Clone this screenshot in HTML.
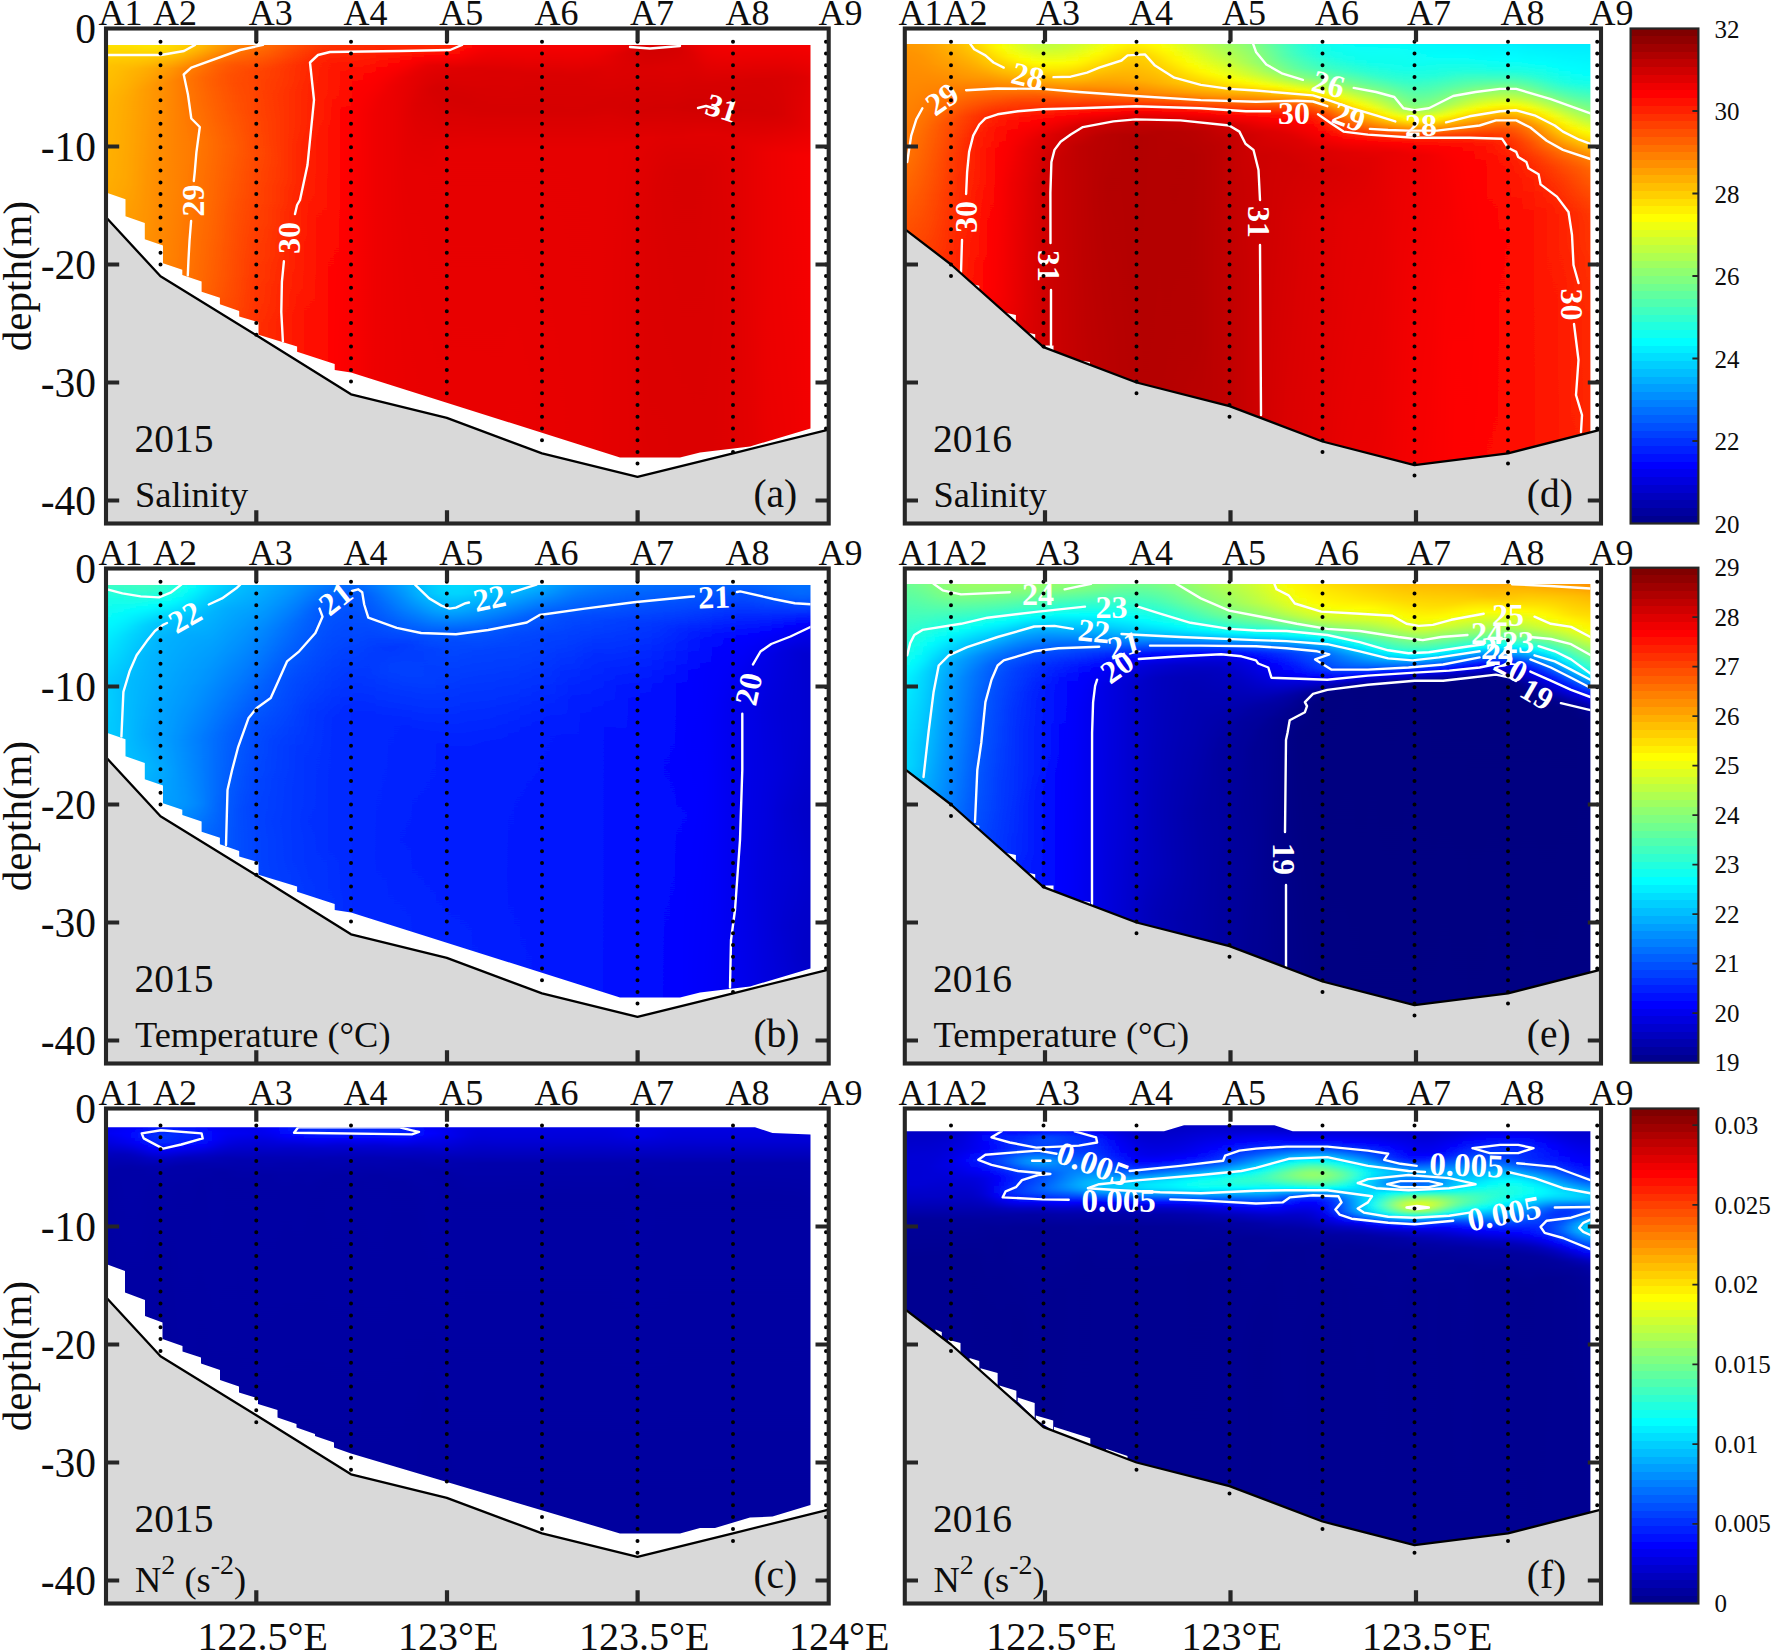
<!DOCTYPE html>
<html><head><meta charset="utf-8"><title>Figure</title>
<style>
html,body{margin:0;padding:0;background:#fff;overflow:hidden}
svg{display:block}
text{font-family:"Liberation Serif","Times New Roman",serif;fill:#0d0d0d}
.cl{fill:#fff;font-weight:bold;text-anchor:middle}
.fld polyline{fill:none;stroke:#fff;stroke-width:2.4;stroke-linejoin:round;stroke-linecap:round}
</style></head><body>
<svg width="1772" height="1652" viewBox="0 0 1772 1652">
<rect width="1772" height="1652" fill="#fff"/>
<defs><linearGradient id="ga0" gradientUnits="userSpaceOnUse" x1="0" y1="38.5" x2="0" y2="521.5"><stop offset="0.000" stop-color="#ffec00"/><stop offset="0.056" stop-color="#ffc400"/><stop offset="0.168" stop-color="#ffb300"/><stop offset="0.342" stop-color="#ffae00"/><stop offset="0.553" stop-color="#ff8400"/><stop offset="0.795" stop-color="#ff4e00"/><stop offset="1.000" stop-color="#ff3900"/></linearGradient><linearGradient id="ga1" gradientUnits="userSpaceOnUse" x1="0" y1="38.5" x2="0" y2="521.5"><stop offset="0.000" stop-color="#ffec00"/><stop offset="0.056" stop-color="#ffc400"/><stop offset="0.161" stop-color="#ffb400"/><stop offset="0.298" stop-color="#ffb200"/><stop offset="0.528" stop-color="#ff8b00"/><stop offset="0.783" stop-color="#ff5000"/><stop offset="1.000" stop-color="#ff3900"/></linearGradient><linearGradient id="ga2" gradientUnits="userSpaceOnUse" x1="0" y1="38.5" x2="0" y2="521.5"><stop offset="0.000" stop-color="#ffec00"/><stop offset="0.056" stop-color="#ffc300"/><stop offset="0.143" stop-color="#ffb400"/><stop offset="0.286" stop-color="#ffaf00"/><stop offset="0.373" stop-color="#ffa700"/><stop offset="0.559" stop-color="#ff8200"/><stop offset="0.795" stop-color="#ff4d00"/><stop offset="1.000" stop-color="#ff3800"/></linearGradient><linearGradient id="ga3" gradientUnits="userSpaceOnUse" x1="0" y1="38.5" x2="0" y2="521.5"><stop offset="0.000" stop-color="#ffed00"/><stop offset="0.056" stop-color="#ffbf00"/><stop offset="0.124" stop-color="#ffb000"/><stop offset="0.286" stop-color="#ffaa00"/><stop offset="0.422" stop-color="#ff9c00"/><stop offset="0.596" stop-color="#ff7400"/><stop offset="0.820" stop-color="#ff4600"/><stop offset="1.000" stop-color="#ff3600"/></linearGradient><linearGradient id="ga4" gradientUnits="userSpaceOnUse" x1="0" y1="38.5" x2="0" y2="521.5"><stop offset="0.000" stop-color="#ffef00"/><stop offset="0.031" stop-color="#ffd200"/><stop offset="0.068" stop-color="#ffb400"/><stop offset="0.130" stop-color="#ffa700"/><stop offset="0.304" stop-color="#ffa400"/><stop offset="0.509" stop-color="#ff8800"/><stop offset="0.758" stop-color="#ff4c00"/><stop offset="1.000" stop-color="#ff3300"/></linearGradient><linearGradient id="ga5" gradientUnits="userSpaceOnUse" x1="0" y1="38.5" x2="0" y2="521.5"><stop offset="0.000" stop-color="#fff100"/><stop offset="0.025" stop-color="#ffdb00"/><stop offset="0.062" stop-color="#ffb100"/><stop offset="0.106" stop-color="#ff9f00"/><stop offset="0.398" stop-color="#ff9500"/><stop offset="0.528" stop-color="#ff7f00"/><stop offset="0.758" stop-color="#ff4800"/><stop offset="1.000" stop-color="#ff3000"/></linearGradient><linearGradient id="ga6" gradientUnits="userSpaceOnUse" x1="0" y1="38.5" x2="0" y2="521.5"><stop offset="0.000" stop-color="#fff000"/><stop offset="0.019" stop-color="#ffe300"/><stop offset="0.062" stop-color="#ffa800"/><stop offset="0.099" stop-color="#ff9600"/><stop offset="0.429" stop-color="#ff8c00"/><stop offset="0.534" stop-color="#ff7900"/><stop offset="0.758" stop-color="#ff4400"/><stop offset="0.994" stop-color="#ff2e00"/><stop offset="1.000" stop-color="#ff2e00"/></linearGradient><linearGradient id="ga7" gradientUnits="userSpaceOnUse" x1="0" y1="38.5" x2="0" y2="521.5"><stop offset="0.000" stop-color="#ffea00"/><stop offset="0.025" stop-color="#ffd600"/><stop offset="0.062" stop-color="#ff9d00"/><stop offset="0.093" stop-color="#ff8c00"/><stop offset="0.453" stop-color="#ff8400"/><stop offset="0.547" stop-color="#ff7000"/><stop offset="0.764" stop-color="#ff3e00"/><stop offset="1.000" stop-color="#ff2b00"/></linearGradient><linearGradient id="ga8" gradientUnits="userSpaceOnUse" x1="0" y1="38.5" x2="0" y2="521.5"><stop offset="0.000" stop-color="#ffe100"/><stop offset="0.025" stop-color="#ffcd00"/><stop offset="0.062" stop-color="#ff8e00"/><stop offset="0.087" stop-color="#ff7f00"/><stop offset="0.317" stop-color="#ff8200"/><stop offset="0.503" stop-color="#ff7800"/><stop offset="0.720" stop-color="#ff4100"/><stop offset="0.938" stop-color="#ff2a00"/><stop offset="1.000" stop-color="#ff2800"/></linearGradient><linearGradient id="ga9" gradientUnits="userSpaceOnUse" x1="0" y1="38.5" x2="0" y2="521.5"><stop offset="0.000" stop-color="#ffd500"/><stop offset="0.019" stop-color="#ffc800"/><stop offset="0.062" stop-color="#ff7d00"/><stop offset="0.087" stop-color="#ff7200"/><stop offset="0.230" stop-color="#ff7c00"/><stop offset="0.503" stop-color="#ff7100"/><stop offset="0.727" stop-color="#ff3b00"/><stop offset="0.944" stop-color="#ff2600"/><stop offset="1.000" stop-color="#ff2500"/></linearGradient><linearGradient id="ga10" gradientUnits="userSpaceOnUse" x1="0" y1="38.5" x2="0" y2="521.5"><stop offset="0.000" stop-color="#ffc500"/><stop offset="0.019" stop-color="#ffb600"/><stop offset="0.056" stop-color="#ff7500"/><stop offset="0.081" stop-color="#ff6600"/><stop offset="0.217" stop-color="#ff7400"/><stop offset="0.509" stop-color="#ff6700"/><stop offset="0.764" stop-color="#ff3100"/><stop offset="1.000" stop-color="#ff2200"/></linearGradient><linearGradient id="ga11" gradientUnits="userSpaceOnUse" x1="0" y1="38.5" x2="0" y2="521.5"><stop offset="0.000" stop-color="#ffb400"/><stop offset="0.025" stop-color="#ff9900"/><stop offset="0.056" stop-color="#ff6400"/><stop offset="0.087" stop-color="#ff5b00"/><stop offset="0.217" stop-color="#ff6b00"/><stop offset="0.391" stop-color="#ff6400"/><stop offset="0.522" stop-color="#ff5b00"/><stop offset="0.795" stop-color="#ff2800"/><stop offset="1.000" stop-color="#ff1f00"/></linearGradient><linearGradient id="ga12" gradientUnits="userSpaceOnUse" x1="0" y1="38.5" x2="0" y2="521.5"><stop offset="0.000" stop-color="#ffa300"/><stop offset="0.025" stop-color="#ff8700"/><stop offset="0.050" stop-color="#ff5e00"/><stop offset="0.075" stop-color="#ff5100"/><stop offset="0.224" stop-color="#ff6200"/><stop offset="0.373" stop-color="#ff5800"/><stop offset="0.528" stop-color="#ff5000"/><stop offset="0.820" stop-color="#ff2200"/><stop offset="1.000" stop-color="#ff1c00"/></linearGradient><linearGradient id="ga13" gradientUnits="userSpaceOnUse" x1="0" y1="38.5" x2="0" y2="521.5"><stop offset="0.000" stop-color="#ff9500"/><stop offset="0.031" stop-color="#ff7000"/><stop offset="0.056" stop-color="#ff5100"/><stop offset="0.093" stop-color="#ff4a00"/><stop offset="0.224" stop-color="#ff5900"/><stop offset="0.366" stop-color="#ff4e00"/><stop offset="0.547" stop-color="#ff4500"/><stop offset="0.832" stop-color="#ff1c00"/><stop offset="1.000" stop-color="#ff1900"/></linearGradient><linearGradient id="ga14" gradientUnits="userSpaceOnUse" x1="0" y1="38.5" x2="0" y2="521.5"><stop offset="0.000" stop-color="#ff8900"/><stop offset="0.037" stop-color="#ff6000"/><stop offset="0.068" stop-color="#ff4700"/><stop offset="0.137" stop-color="#ff4900"/><stop offset="0.242" stop-color="#ff4f00"/><stop offset="0.373" stop-color="#ff4400"/><stop offset="0.627" stop-color="#ff3200"/><stop offset="0.845" stop-color="#ff1700"/><stop offset="1.000" stop-color="#ff1600"/></linearGradient><linearGradient id="ga15" gradientUnits="userSpaceOnUse" x1="0" y1="38.5" x2="0" y2="521.5"><stop offset="0.000" stop-color="#ff7d00"/><stop offset="0.062" stop-color="#ff4400"/><stop offset="0.112" stop-color="#ff3e00"/><stop offset="0.236" stop-color="#ff4600"/><stop offset="0.484" stop-color="#ff3500"/><stop offset="0.683" stop-color="#ff2400"/><stop offset="0.876" stop-color="#ff1200"/><stop offset="1.000" stop-color="#ff1300"/></linearGradient><linearGradient id="ga16" gradientUnits="userSpaceOnUse" x1="0" y1="38.5" x2="0" y2="521.5"><stop offset="0.000" stop-color="#ff7000"/><stop offset="0.062" stop-color="#ff3d00"/><stop offset="0.118" stop-color="#ff3900"/><stop offset="0.255" stop-color="#ff3c00"/><stop offset="0.596" stop-color="#ff2700"/><stop offset="0.857" stop-color="#ff0f00"/><stop offset="1.000" stop-color="#ff1000"/></linearGradient><linearGradient id="ga17" gradientUnits="userSpaceOnUse" x1="0" y1="38.5" x2="0" y2="521.5"><stop offset="0.000" stop-color="#ff6200"/><stop offset="0.056" stop-color="#ff3700"/><stop offset="0.118" stop-color="#ff3200"/><stop offset="0.280" stop-color="#ff3100"/><stop offset="0.553" stop-color="#ff2000"/><stop offset="0.671" stop-color="#ff1a00"/><stop offset="0.863" stop-color="#ff0b00"/><stop offset="1.000" stop-color="#ff0e00"/></linearGradient><linearGradient id="ga18" gradientUnits="userSpaceOnUse" x1="0" y1="38.5" x2="0" y2="521.5"><stop offset="0.000" stop-color="#ff5500"/><stop offset="0.056" stop-color="#ff2e00"/><stop offset="0.329" stop-color="#ff2400"/><stop offset="0.553" stop-color="#ff1800"/><stop offset="0.671" stop-color="#ff1500"/><stop offset="0.857" stop-color="#ff0700"/><stop offset="1.000" stop-color="#ff0b00"/></linearGradient><linearGradient id="ga19" gradientUnits="userSpaceOnUse" x1="0" y1="38.5" x2="0" y2="521.5"><stop offset="0.000" stop-color="#ff4a00"/><stop offset="0.050" stop-color="#ff2600"/><stop offset="0.342" stop-color="#ff1900"/><stop offset="0.565" stop-color="#ff1100"/><stop offset="0.677" stop-color="#ff0e00"/><stop offset="0.870" stop-color="#ff0300"/><stop offset="1.000" stop-color="#ff0800"/></linearGradient><linearGradient id="ga20" gradientUnits="userSpaceOnUse" x1="0" y1="38.5" x2="0" y2="521.5"><stop offset="0.000" stop-color="#ff4000"/><stop offset="0.043" stop-color="#ff2000"/><stop offset="0.205" stop-color="#ff1800"/><stop offset="0.540" stop-color="#ff0a00"/><stop offset="0.671" stop-color="#ff0900"/><stop offset="0.851" stop-color="#fe0000"/><stop offset="1.000" stop-color="#ff0600"/></linearGradient><linearGradient id="ga21" gradientUnits="userSpaceOnUse" x1="0" y1="38.5" x2="0" y2="521.5"><stop offset="0.000" stop-color="#ff3a00"/><stop offset="0.050" stop-color="#ff1900"/><stop offset="0.186" stop-color="#ff0b00"/><stop offset="0.304" stop-color="#ff0a00"/><stop offset="0.559" stop-color="#ff0400"/><stop offset="0.677" stop-color="#ff0200"/><stop offset="0.901" stop-color="#fd0000"/><stop offset="1.000" stop-color="#ff0300"/></linearGradient><linearGradient id="ga22" gradientUnits="userSpaceOnUse" x1="0" y1="38.5" x2="0" y2="521.5"><stop offset="0.000" stop-color="#ff3600"/><stop offset="0.062" stop-color="#ff1200"/><stop offset="0.180" stop-color="#ff0100"/><stop offset="0.298" stop-color="#ff0200"/><stop offset="0.683" stop-color="#fb0000"/><stop offset="0.888" stop-color="#f90000"/><stop offset="1.000" stop-color="#ff0100"/></linearGradient><linearGradient id="ga23" gradientUnits="userSpaceOnUse" x1="0" y1="38.5" x2="0" y2="521.5"><stop offset="0.000" stop-color="#ff3400"/><stop offset="0.075" stop-color="#ff0800"/><stop offset="0.137" stop-color="#fb0000"/><stop offset="0.311" stop-color="#f80000"/><stop offset="0.683" stop-color="#f60000"/><stop offset="0.888" stop-color="#f60000"/><stop offset="1.000" stop-color="#fe0000"/></linearGradient><linearGradient id="ga24" gradientUnits="userSpaceOnUse" x1="0" y1="38.5" x2="0" y2="521.5"><stop offset="0.000" stop-color="#ff3400"/><stop offset="0.081" stop-color="#ff0000"/><stop offset="0.155" stop-color="#f20000"/><stop offset="0.317" stop-color="#f20000"/><stop offset="0.689" stop-color="#f00000"/><stop offset="0.888" stop-color="#f30000"/><stop offset="1.000" stop-color="#fc0000"/></linearGradient><linearGradient id="ga25" gradientUnits="userSpaceOnUse" x1="0" y1="38.5" x2="0" y2="521.5"><stop offset="0.000" stop-color="#ff3400"/><stop offset="0.068" stop-color="#fe0000"/><stop offset="0.130" stop-color="#ed0000"/><stop offset="0.323" stop-color="#ed0000"/><stop offset="0.696" stop-color="#ec0000"/><stop offset="0.882" stop-color="#f00000"/><stop offset="1.000" stop-color="#fa0000"/></linearGradient><linearGradient id="ga26" gradientUnits="userSpaceOnUse" x1="0" y1="38.5" x2="0" y2="521.5"><stop offset="0.000" stop-color="#ff3400"/><stop offset="0.031" stop-color="#ff1c00"/><stop offset="0.056" stop-color="#ff0100"/><stop offset="0.099" stop-color="#eb0000"/><stop offset="0.255" stop-color="#eb0000"/><stop offset="0.863" stop-color="#ec0000"/><stop offset="1.000" stop-color="#f80000"/></linearGradient><linearGradient id="ga27" gradientUnits="userSpaceOnUse" x1="0" y1="38.5" x2="0" y2="521.5"><stop offset="0.000" stop-color="#ff3300"/><stop offset="0.025" stop-color="#ff2100"/><stop offset="0.050" stop-color="#fe0000"/><stop offset="0.081" stop-color="#e80000"/><stop offset="0.155" stop-color="#e30000"/><stop offset="0.404" stop-color="#e80000"/><stop offset="0.870" stop-color="#eb0000"/><stop offset="1.000" stop-color="#f60000"/></linearGradient><linearGradient id="ga28" gradientUnits="userSpaceOnUse" x1="0" y1="38.5" x2="0" y2="521.5"><stop offset="0.000" stop-color="#ff3300"/><stop offset="0.025" stop-color="#ff1e00"/><stop offset="0.043" stop-color="#fc0000"/><stop offset="0.068" stop-color="#e50000"/><stop offset="0.137" stop-color="#dc0000"/><stop offset="0.273" stop-color="#e70000"/><stop offset="0.876" stop-color="#ea0000"/><stop offset="1.000" stop-color="#f50000"/></linearGradient><linearGradient id="ga29" gradientUnits="userSpaceOnUse" x1="0" y1="38.5" x2="0" y2="521.5"><stop offset="0.000" stop-color="#ff3200"/><stop offset="0.019" stop-color="#ff2600"/><stop offset="0.037" stop-color="#ff0200"/><stop offset="0.056" stop-color="#e50000"/><stop offset="0.106" stop-color="#d70000"/><stop offset="0.180" stop-color="#df0000"/><stop offset="0.286" stop-color="#e60000"/><stop offset="0.882" stop-color="#ea0000"/><stop offset="1.000" stop-color="#f30000"/></linearGradient><linearGradient id="ga30" gradientUnits="userSpaceOnUse" x1="0" y1="38.5" x2="0" y2="521.5"><stop offset="0.000" stop-color="#ff3000"/><stop offset="0.019" stop-color="#ff2400"/><stop offset="0.037" stop-color="#ff0100"/><stop offset="0.056" stop-color="#e30000"/><stop offset="0.099" stop-color="#d50000"/><stop offset="0.168" stop-color="#da0000"/><stop offset="0.230" stop-color="#e60000"/><stop offset="0.888" stop-color="#e90000"/><stop offset="1.000" stop-color="#f20000"/></linearGradient><linearGradient id="ga31" gradientUnits="userSpaceOnUse" x1="0" y1="38.5" x2="0" y2="521.5"><stop offset="0.000" stop-color="#ff2800"/><stop offset="0.019" stop-color="#ff1b00"/><stop offset="0.037" stop-color="#fc0000"/><stop offset="0.062" stop-color="#df0000"/><stop offset="0.124" stop-color="#d40000"/><stop offset="0.236" stop-color="#e60000"/><stop offset="0.901" stop-color="#ea0000"/><stop offset="1.000" stop-color="#f00000"/></linearGradient><linearGradient id="ga32" gradientUnits="userSpaceOnUse" x1="0" y1="38.5" x2="0" y2="521.5"><stop offset="0.000" stop-color="#ff1a00"/><stop offset="0.025" stop-color="#ff0200"/><stop offset="0.062" stop-color="#de0000"/><stop offset="0.130" stop-color="#d40000"/><stop offset="0.230" stop-color="#e60000"/><stop offset="0.913" stop-color="#ea0000"/><stop offset="1.000" stop-color="#ef0000"/></linearGradient><linearGradient id="ga33" gradientUnits="userSpaceOnUse" x1="0" y1="38.5" x2="0" y2="521.5"><stop offset="0.000" stop-color="#ff0b00"/><stop offset="0.019" stop-color="#fa0000"/><stop offset="0.062" stop-color="#dd0000"/><stop offset="0.143" stop-color="#d50000"/><stop offset="0.230" stop-color="#e60000"/><stop offset="0.932" stop-color="#ea0000"/><stop offset="1.000" stop-color="#ee0000"/></linearGradient><linearGradient id="ga34" gradientUnits="userSpaceOnUse" x1="0" y1="38.5" x2="0" y2="521.5"><stop offset="0.000" stop-color="#ff0400"/><stop offset="0.068" stop-color="#db0000"/><stop offset="0.149" stop-color="#d60000"/><stop offset="0.230" stop-color="#e60000"/><stop offset="0.950" stop-color="#ea0000"/><stop offset="1.000" stop-color="#ed0000"/></linearGradient><linearGradient id="ga35" gradientUnits="userSpaceOnUse" x1="0" y1="38.5" x2="0" y2="521.5"><stop offset="0.000" stop-color="#ff0100"/><stop offset="0.068" stop-color="#db0000"/><stop offset="0.149" stop-color="#d60000"/><stop offset="0.230" stop-color="#e60000"/><stop offset="0.969" stop-color="#ea0000"/><stop offset="1.000" stop-color="#ec0000"/></linearGradient><linearGradient id="ga36" gradientUnits="userSpaceOnUse" x1="0" y1="38.5" x2="0" y2="521.5"><stop offset="0.000" stop-color="#ff0000"/><stop offset="0.068" stop-color="#dc0000"/><stop offset="0.149" stop-color="#d60000"/><stop offset="0.230" stop-color="#e60000"/><stop offset="0.988" stop-color="#eb0000"/><stop offset="1.000" stop-color="#eb0000"/></linearGradient><linearGradient id="ga37" gradientUnits="userSpaceOnUse" x1="0" y1="38.5" x2="0" y2="521.5"><stop offset="0.000" stop-color="#ff0000"/><stop offset="0.075" stop-color="#da0000"/><stop offset="0.149" stop-color="#d60000"/><stop offset="0.230" stop-color="#e60000"/><stop offset="1.000" stop-color="#ea0000"/></linearGradient><linearGradient id="ga38" gradientUnits="userSpaceOnUse" x1="0" y1="38.5" x2="0" y2="521.5"><stop offset="0.000" stop-color="#fe0000"/><stop offset="0.075" stop-color="#da0000"/><stop offset="0.149" stop-color="#d60000"/><stop offset="0.230" stop-color="#e60000"/><stop offset="1.000" stop-color="#e90000"/></linearGradient><linearGradient id="ga39" gradientUnits="userSpaceOnUse" x1="0" y1="38.5" x2="0" y2="521.5"><stop offset="0.000" stop-color="#fe0000"/><stop offset="0.075" stop-color="#da0000"/><stop offset="0.149" stop-color="#d60000"/><stop offset="0.230" stop-color="#e60000"/><stop offset="1.000" stop-color="#e90000"/></linearGradient><linearGradient id="ga40" gradientUnits="userSpaceOnUse" x1="0" y1="38.5" x2="0" y2="521.5"><stop offset="0.000" stop-color="#fe0000"/><stop offset="0.075" stop-color="#da0000"/><stop offset="0.149" stop-color="#d60000"/><stop offset="0.230" stop-color="#e60000"/><stop offset="1.000" stop-color="#e80000"/></linearGradient><linearGradient id="ga41" gradientUnits="userSpaceOnUse" x1="0" y1="38.5" x2="0" y2="521.5"><stop offset="0.000" stop-color="#fe0000"/><stop offset="0.081" stop-color="#d90000"/><stop offset="0.155" stop-color="#d70000"/><stop offset="0.230" stop-color="#e60000"/><stop offset="1.000" stop-color="#e70000"/></linearGradient><linearGradient id="ga42" gradientUnits="userSpaceOnUse" x1="0" y1="38.5" x2="0" y2="521.5"><stop offset="0.000" stop-color="#fd0000"/><stop offset="0.075" stop-color="#da0000"/><stop offset="0.149" stop-color="#d60000"/><stop offset="0.230" stop-color="#e60000"/><stop offset="1.000" stop-color="#e70000"/></linearGradient><linearGradient id="ga43" gradientUnits="userSpaceOnUse" x1="0" y1="38.5" x2="0" y2="521.5"><stop offset="0.000" stop-color="#fc0000"/><stop offset="0.068" stop-color="#dc0000"/><stop offset="0.143" stop-color="#d60000"/><stop offset="0.230" stop-color="#e60000"/><stop offset="1.000" stop-color="#e60000"/></linearGradient><linearGradient id="ga44" gradientUnits="userSpaceOnUse" x1="0" y1="38.5" x2="0" y2="521.5"><stop offset="0.000" stop-color="#fb0000"/><stop offset="0.037" stop-color="#e40000"/><stop offset="0.130" stop-color="#d50000"/><stop offset="0.230" stop-color="#e50000"/><stop offset="0.981" stop-color="#e40000"/><stop offset="1.000" stop-color="#e50000"/></linearGradient><linearGradient id="ga45" gradientUnits="userSpaceOnUse" x1="0" y1="38.5" x2="0" y2="521.5"><stop offset="0.000" stop-color="#f90000"/><stop offset="0.031" stop-color="#df0000"/><stop offset="0.143" stop-color="#d50000"/><stop offset="0.224" stop-color="#e50000"/><stop offset="0.491" stop-color="#e30000"/><stop offset="0.969" stop-color="#e30000"/><stop offset="1.000" stop-color="#e50000"/></linearGradient><linearGradient id="ga46" gradientUnits="userSpaceOnUse" x1="0" y1="38.5" x2="0" y2="521.5"><stop offset="0.000" stop-color="#f30000"/><stop offset="0.025" stop-color="#d80000"/><stop offset="0.068" stop-color="#dc0000"/><stop offset="0.143" stop-color="#d30000"/><stop offset="0.217" stop-color="#e30000"/><stop offset="0.354" stop-color="#e00000"/><stop offset="0.801" stop-color="#e20000"/><stop offset="0.944" stop-color="#e10000"/><stop offset="1.000" stop-color="#e40000"/></linearGradient><linearGradient id="ga47" gradientUnits="userSpaceOnUse" x1="0" y1="38.5" x2="0" y2="521.5"><stop offset="0.000" stop-color="#ed0000"/><stop offset="0.025" stop-color="#d30000"/><stop offset="0.068" stop-color="#db0000"/><stop offset="0.149" stop-color="#d30000"/><stop offset="0.205" stop-color="#e20000"/><stop offset="0.354" stop-color="#de0000"/><stop offset="0.739" stop-color="#dc0000"/><stop offset="0.839" stop-color="#dd0000"/><stop offset="1.000" stop-color="#e40000"/></linearGradient><linearGradient id="ga48" gradientUnits="userSpaceOnUse" x1="0" y1="38.5" x2="0" y2="521.5"><stop offset="0.000" stop-color="#ec0000"/><stop offset="0.025" stop-color="#d20000"/><stop offset="0.062" stop-color="#dc0000"/><stop offset="0.143" stop-color="#d20000"/><stop offset="0.205" stop-color="#e10000"/><stop offset="0.304" stop-color="#da0000"/><stop offset="0.919" stop-color="#de0000"/><stop offset="1.000" stop-color="#e40000"/></linearGradient><linearGradient id="ga49" gradientUnits="userSpaceOnUse" x1="0" y1="38.5" x2="0" y2="521.5"><stop offset="0.000" stop-color="#ed0000"/><stop offset="0.025" stop-color="#d40000"/><stop offset="0.062" stop-color="#dd0000"/><stop offset="0.143" stop-color="#d30000"/><stop offset="0.205" stop-color="#e00000"/><stop offset="0.273" stop-color="#d90000"/><stop offset="0.913" stop-color="#dd0000"/><stop offset="1.000" stop-color="#e40000"/></linearGradient><linearGradient id="ga50" gradientUnits="userSpaceOnUse" x1="0" y1="38.5" x2="0" y2="521.5"><stop offset="0.000" stop-color="#eb0000"/><stop offset="0.025" stop-color="#d70000"/><stop offset="0.062" stop-color="#dd0000"/><stop offset="0.143" stop-color="#d10000"/><stop offset="0.205" stop-color="#e00000"/><stop offset="0.280" stop-color="#d80000"/><stop offset="0.913" stop-color="#dd0000"/><stop offset="1.000" stop-color="#e40000"/></linearGradient><linearGradient id="ga51" gradientUnits="userSpaceOnUse" x1="0" y1="38.5" x2="0" y2="521.5"><stop offset="0.000" stop-color="#ee0000"/><stop offset="0.031" stop-color="#df0000"/><stop offset="0.143" stop-color="#d00000"/><stop offset="0.199" stop-color="#e10000"/><stop offset="0.280" stop-color="#d80000"/><stop offset="0.907" stop-color="#dd0000"/><stop offset="1.000" stop-color="#e40000"/></linearGradient><linearGradient id="ga52" gradientUnits="userSpaceOnUse" x1="0" y1="38.5" x2="0" y2="521.5"><stop offset="0.000" stop-color="#f40000"/><stop offset="0.099" stop-color="#d60000"/><stop offset="0.149" stop-color="#d10000"/><stop offset="0.199" stop-color="#e10000"/><stop offset="0.273" stop-color="#d90000"/><stop offset="0.901" stop-color="#dc0000"/><stop offset="1.000" stop-color="#e40000"/></linearGradient><linearGradient id="ga53" gradientUnits="userSpaceOnUse" x1="0" y1="38.5" x2="0" y2="521.5"><stop offset="0.000" stop-color="#f90000"/><stop offset="0.093" stop-color="#d70000"/><stop offset="0.149" stop-color="#d10000"/><stop offset="0.199" stop-color="#e10000"/><stop offset="0.267" stop-color="#db0000"/><stop offset="0.894" stop-color="#dd0000"/><stop offset="1.000" stop-color="#e50000"/></linearGradient><linearGradient id="ga54" gradientUnits="userSpaceOnUse" x1="0" y1="38.5" x2="0" y2="521.5"><stop offset="0.000" stop-color="#fb0000"/><stop offset="0.087" stop-color="#d80000"/><stop offset="0.149" stop-color="#d10000"/><stop offset="0.205" stop-color="#e10000"/><stop offset="0.373" stop-color="#dd0000"/><stop offset="0.907" stop-color="#df0000"/><stop offset="1.000" stop-color="#e50000"/></linearGradient><linearGradient id="ga55" gradientUnits="userSpaceOnUse" x1="0" y1="38.5" x2="0" y2="521.5"><stop offset="0.000" stop-color="#fc0000"/><stop offset="0.087" stop-color="#d80000"/><stop offset="0.149" stop-color="#d30000"/><stop offset="0.211" stop-color="#e30000"/><stop offset="0.932" stop-color="#e20000"/><stop offset="1.000" stop-color="#e60000"/></linearGradient><linearGradient id="ga56" gradientUnits="userSpaceOnUse" x1="0" y1="38.5" x2="0" y2="521.5"><stop offset="0.000" stop-color="#fb0000"/><stop offset="0.087" stop-color="#d70000"/><stop offset="0.149" stop-color="#d30000"/><stop offset="0.224" stop-color="#e70000"/><stop offset="0.509" stop-color="#e70000"/><stop offset="0.857" stop-color="#e30000"/><stop offset="1.000" stop-color="#e70000"/></linearGradient><linearGradient id="ga57" gradientUnits="userSpaceOnUse" x1="0" y1="38.5" x2="0" y2="521.5"><stop offset="0.000" stop-color="#fb0000"/><stop offset="0.087" stop-color="#d70000"/><stop offset="0.155" stop-color="#d40000"/><stop offset="0.236" stop-color="#ec0000"/><stop offset="0.360" stop-color="#eb0000"/><stop offset="0.503" stop-color="#eb0000"/><stop offset="0.658" stop-color="#ec0000"/><stop offset="0.789" stop-color="#eb0000"/><stop offset="0.988" stop-color="#e70000"/><stop offset="1.000" stop-color="#e70000"/></linearGradient><linearGradient id="ga58" gradientUnits="userSpaceOnUse" x1="0" y1="38.5" x2="0" y2="521.5"><stop offset="0.000" stop-color="#fb0000"/><stop offset="0.081" stop-color="#d90000"/><stop offset="0.155" stop-color="#d50000"/><stop offset="0.236" stop-color="#ef0000"/><stop offset="0.509" stop-color="#ef0000"/><stop offset="0.845" stop-color="#eb0000"/><stop offset="1.000" stop-color="#e80000"/></linearGradient><linearGradient id="ga59" gradientUnits="userSpaceOnUse" x1="0" y1="38.5" x2="0" y2="521.5"><stop offset="0.000" stop-color="#fb0000"/><stop offset="0.081" stop-color="#da0000"/><stop offset="0.168" stop-color="#db0000"/><stop offset="0.242" stop-color="#f20000"/><stop offset="0.845" stop-color="#ee0000"/><stop offset="1.000" stop-color="#e90000"/></linearGradient><linearGradient id="ga60" gradientUnits="userSpaceOnUse" x1="0" y1="38.5" x2="0" y2="521.5"><stop offset="0.000" stop-color="#fb0000"/><stop offset="0.081" stop-color="#de0000"/><stop offset="0.180" stop-color="#e30000"/><stop offset="0.242" stop-color="#f50000"/><stop offset="0.845" stop-color="#f10000"/><stop offset="1.000" stop-color="#ea0000"/></linearGradient><linearGradient id="ga61" gradientUnits="userSpaceOnUse" x1="0" y1="38.5" x2="0" y2="521.5"><stop offset="0.000" stop-color="#fb0000"/><stop offset="0.081" stop-color="#e30000"/><stop offset="0.186" stop-color="#e80000"/><stop offset="0.248" stop-color="#f70000"/><stop offset="0.845" stop-color="#f30000"/><stop offset="1.000" stop-color="#eb0000"/></linearGradient><linearGradient id="ga62" gradientUnits="userSpaceOnUse" x1="0" y1="38.5" x2="0" y2="521.5"><stop offset="0.000" stop-color="#fb0000"/><stop offset="0.087" stop-color="#e60000"/><stop offset="0.193" stop-color="#ed0000"/><stop offset="0.261" stop-color="#f70000"/><stop offset="0.851" stop-color="#f30000"/><stop offset="1.000" stop-color="#ec0000"/></linearGradient><linearGradient id="ga63" gradientUnits="userSpaceOnUse" x1="0" y1="38.5" x2="0" y2="521.5"><stop offset="0.000" stop-color="#fc0000"/><stop offset="0.087" stop-color="#e80000"/><stop offset="0.199" stop-color="#ef0000"/><stop offset="0.280" stop-color="#f80000"/><stop offset="0.851" stop-color="#f40000"/><stop offset="1.000" stop-color="#ec0000"/></linearGradient><linearGradient id="ga64" gradientUnits="userSpaceOnUse" x1="0" y1="38.5" x2="0" y2="521.5"><stop offset="0.000" stop-color="#fc0000"/><stop offset="0.087" stop-color="#e80000"/><stop offset="0.199" stop-color="#f00000"/><stop offset="0.280" stop-color="#f80000"/><stop offset="0.851" stop-color="#f40000"/><stop offset="1.000" stop-color="#ec0000"/></linearGradient><linearGradient id="ga65" gradientUnits="userSpaceOnUse" x1="0" y1="38.5" x2="0" y2="521.5"><stop offset="0.000" stop-color="#fc0000"/><stop offset="0.087" stop-color="#e80000"/><stop offset="0.199" stop-color="#f00000"/><stop offset="0.280" stop-color="#f80000"/><stop offset="0.851" stop-color="#f40000"/><stop offset="1.000" stop-color="#ec0000"/></linearGradient><clipPath id="cpa"><polygon points="106,44.9 810.5,44.9 810.5,428.5 750,446.5 700,452.5 680,457.5 620,457.5 351,372.5 334.7,370 334.7,363.9 297.1,351.7 297.1,346.6 258.5,334.8 258.5,322.2 239.2,316.5 239.2,311 219.9,304.3 219.9,297.8 201.6,291.7 201.6,281.6 182.3,275.1 182.3,269.8 163,263.3 163,245.4 144.8,239.3 144.8,223.1 125.5,216.2 125.5,199.3 106,192.6"/></clipPath><filter id="bla" filterUnits="userSpaceOnUse" x="66" y="23.5" width="802.7" height="505"><feGaussianBlur stdDeviation="6.6 0"/></filter><linearGradient id="gb0" gradientUnits="userSpaceOnUse" x1="0" y1="578.5" x2="0" y2="1061.5"><stop offset="0.000" stop-color="#4effb1"/><stop offset="0.019" stop-color="#35ffca"/><stop offset="0.037" stop-color="#1cffe3"/><stop offset="0.093" stop-color="#00fdff"/><stop offset="0.205" stop-color="#00d2ff"/><stop offset="0.261" stop-color="#00d7ff"/><stop offset="0.298" stop-color="#00d0ff"/><stop offset="0.335" stop-color="#00d4ff"/><stop offset="0.472" stop-color="#00baff"/><stop offset="0.640" stop-color="#008cff"/><stop offset="0.919" stop-color="#0071ff"/><stop offset="1.000" stop-color="#006dff"/></linearGradient><linearGradient id="gb1" gradientUnits="userSpaceOnUse" x1="0" y1="578.5" x2="0" y2="1061.5"><stop offset="0.000" stop-color="#4effb1"/><stop offset="0.019" stop-color="#35ffca"/><stop offset="0.037" stop-color="#1cffe3"/><stop offset="0.093" stop-color="#00fdff"/><stop offset="0.205" stop-color="#00d1ff"/><stop offset="0.261" stop-color="#00d7ff"/><stop offset="0.298" stop-color="#00cfff"/><stop offset="0.335" stop-color="#00d4ff"/><stop offset="0.472" stop-color="#00baff"/><stop offset="0.640" stop-color="#008cff"/><stop offset="0.919" stop-color="#0071ff"/><stop offset="1.000" stop-color="#006dff"/></linearGradient><linearGradient id="gb2" gradientUnits="userSpaceOnUse" x1="0" y1="578.5" x2="0" y2="1061.5"><stop offset="0.000" stop-color="#4effb1"/><stop offset="0.019" stop-color="#35ffca"/><stop offset="0.037" stop-color="#1cffe3"/><stop offset="0.093" stop-color="#00faff"/><stop offset="0.205" stop-color="#00ceff"/><stop offset="0.261" stop-color="#00d2ff"/><stop offset="0.304" stop-color="#00ccff"/><stop offset="0.373" stop-color="#00cdff"/><stop offset="0.491" stop-color="#00b3ff"/><stop offset="0.646" stop-color="#008aff"/><stop offset="0.944" stop-color="#006fff"/><stop offset="1.000" stop-color="#006cff"/></linearGradient><linearGradient id="gb3" gradientUnits="userSpaceOnUse" x1="0" y1="578.5" x2="0" y2="1061.5"><stop offset="0.000" stop-color="#4cffb3"/><stop offset="0.043" stop-color="#17ffe8"/><stop offset="0.081" stop-color="#00faff"/><stop offset="0.130" stop-color="#00dfff"/><stop offset="0.211" stop-color="#00c4ff"/><stop offset="0.335" stop-color="#00c5ff"/><stop offset="0.416" stop-color="#00c3ff"/><stop offset="0.634" stop-color="#0088ff"/><stop offset="0.913" stop-color="#006eff"/><stop offset="1.000" stop-color="#006aff"/></linearGradient><linearGradient id="gb4" gradientUnits="userSpaceOnUse" x1="0" y1="578.5" x2="0" y2="1061.5"><stop offset="0.000" stop-color="#4bffb4"/><stop offset="0.025" stop-color="#30ffcf"/><stop offset="0.068" stop-color="#00fcff"/><stop offset="0.118" stop-color="#00d5ff"/><stop offset="0.211" stop-color="#00baff"/><stop offset="0.335" stop-color="#00b9ff"/><stop offset="0.398" stop-color="#00bfff"/><stop offset="0.509" stop-color="#00a2ff"/><stop offset="0.646" stop-color="#0081ff"/><stop offset="0.981" stop-color="#0068ff"/><stop offset="1.000" stop-color="#0067ff"/></linearGradient><linearGradient id="gb5" gradientUnits="userSpaceOnUse" x1="0" y1="578.5" x2="0" y2="1061.5"><stop offset="0.000" stop-color="#4affb5"/><stop offset="0.025" stop-color="#34ffcb"/><stop offset="0.062" stop-color="#00fdff"/><stop offset="0.099" stop-color="#00d2ff"/><stop offset="0.161" stop-color="#00b9ff"/><stop offset="0.323" stop-color="#00adff"/><stop offset="0.391" stop-color="#00b9ff"/><stop offset="0.491" stop-color="#00a3ff"/><stop offset="0.615" stop-color="#0080ff"/><stop offset="0.894" stop-color="#0069ff"/><stop offset="1.000" stop-color="#0065ff"/></linearGradient><linearGradient id="gb6" gradientUnits="userSpaceOnUse" x1="0" y1="578.5" x2="0" y2="1061.5"><stop offset="0.000" stop-color="#45ffba"/><stop offset="0.025" stop-color="#32ffcd"/><stop offset="0.056" stop-color="#01fffe"/><stop offset="0.093" stop-color="#00caff"/><stop offset="0.130" stop-color="#00b7ff"/><stop offset="0.323" stop-color="#00a4ff"/><stop offset="0.391" stop-color="#00b1ff"/><stop offset="0.484" stop-color="#009fff"/><stop offset="0.590" stop-color="#007eff"/><stop offset="0.839" stop-color="#0068ff"/><stop offset="1.000" stop-color="#0062ff"/></linearGradient><linearGradient id="gb7" gradientUnits="userSpaceOnUse" x1="0" y1="578.5" x2="0" y2="1061.5"><stop offset="0.000" stop-color="#39ffc6"/><stop offset="0.025" stop-color="#28ffd7"/><stop offset="0.050" stop-color="#02fffd"/><stop offset="0.093" stop-color="#00c0ff"/><stop offset="0.130" stop-color="#00b0ff"/><stop offset="0.280" stop-color="#00a0ff"/><stop offset="0.335" stop-color="#009dff"/><stop offset="0.398" stop-color="#00a5ff"/><stop offset="0.472" stop-color="#009dff"/><stop offset="0.571" stop-color="#007bff"/><stop offset="0.807" stop-color="#0066ff"/><stop offset="1.000" stop-color="#005fff"/></linearGradient><linearGradient id="gb8" gradientUnits="userSpaceOnUse" x1="0" y1="578.5" x2="0" y2="1061.5"><stop offset="0.000" stop-color="#29ffd6"/><stop offset="0.025" stop-color="#17ffe8"/><stop offset="0.043" stop-color="#00fcff"/><stop offset="0.087" stop-color="#00beff"/><stop offset="0.118" stop-color="#00aeff"/><stop offset="0.273" stop-color="#0099ff"/><stop offset="0.335" stop-color="#0092ff"/><stop offset="0.460" stop-color="#009aff"/><stop offset="0.553" stop-color="#0077ff"/><stop offset="0.776" stop-color="#0063ff"/><stop offset="1.000" stop-color="#005dff"/></linearGradient><linearGradient id="gb9" gradientUnits="userSpaceOnUse" x1="0" y1="578.5" x2="0" y2="1061.5"><stop offset="0.000" stop-color="#15ffea"/><stop offset="0.025" stop-color="#02fffd"/><stop offset="0.081" stop-color="#00bdff"/><stop offset="0.118" stop-color="#00aaff"/><stop offset="0.261" stop-color="#0094ff"/><stop offset="0.329" stop-color="#0086ff"/><stop offset="0.466" stop-color="#0090ff"/><stop offset="0.534" stop-color="#0072ff"/><stop offset="0.745" stop-color="#0060ff"/><stop offset="1.000" stop-color="#005aff"/></linearGradient><linearGradient id="gb10" gradientUnits="userSpaceOnUse" x1="0" y1="578.5" x2="0" y2="1061.5"><stop offset="0.000" stop-color="#00ffff"/><stop offset="0.037" stop-color="#00dcff"/><stop offset="0.075" stop-color="#00b9ff"/><stop offset="0.130" stop-color="#00a5ff"/><stop offset="0.199" stop-color="#0098ff"/><stop offset="0.335" stop-color="#007aff"/><stop offset="0.435" stop-color="#007fff"/><stop offset="0.466" stop-color="#0082ff"/><stop offset="0.528" stop-color="#0069ff"/><stop offset="0.814" stop-color="#005bff"/><stop offset="1.000" stop-color="#0057ff"/></linearGradient><linearGradient id="gb11" gradientUnits="userSpaceOnUse" x1="0" y1="578.5" x2="0" y2="1061.5"><stop offset="0.000" stop-color="#00eaff"/><stop offset="0.068" stop-color="#00b3ff"/><stop offset="0.329" stop-color="#006eff"/><stop offset="0.441" stop-color="#006dff"/><stop offset="0.478" stop-color="#006aff"/><stop offset="0.571" stop-color="#005cff"/><stop offset="1.000" stop-color="#0055ff"/></linearGradient><linearGradient id="gb12" gradientUnits="userSpaceOnUse" x1="0" y1="578.5" x2="0" y2="1061.5"><stop offset="0.000" stop-color="#00d8ff"/><stop offset="0.062" stop-color="#00adff"/><stop offset="0.323" stop-color="#0063ff"/><stop offset="0.609" stop-color="#0055ff"/><stop offset="1.000" stop-color="#0052ff"/></linearGradient><linearGradient id="gb13" gradientUnits="userSpaceOnUse" x1="0" y1="578.5" x2="0" y2="1061.5"><stop offset="0.000" stop-color="#00c9ff"/><stop offset="0.068" stop-color="#00a5ff"/><stop offset="0.161" stop-color="#008aff"/><stop offset="0.311" stop-color="#005bff"/><stop offset="0.491" stop-color="#004dff"/><stop offset="1.000" stop-color="#004fff"/></linearGradient><linearGradient id="gb14" gradientUnits="userSpaceOnUse" x1="0" y1="578.5" x2="0" y2="1061.5"><stop offset="0.000" stop-color="#00bfff"/><stop offset="0.093" stop-color="#0096ff"/><stop offset="0.149" stop-color="#0085ff"/><stop offset="0.292" stop-color="#0054ff"/><stop offset="0.472" stop-color="#0045ff"/><stop offset="1.000" stop-color="#004dff"/></linearGradient><linearGradient id="gb15" gradientUnits="userSpaceOnUse" x1="0" y1="578.5" x2="0" y2="1061.5"><stop offset="0.000" stop-color="#00b7ff"/><stop offset="0.106" stop-color="#0089ff"/><stop offset="0.224" stop-color="#0060ff"/><stop offset="0.323" stop-color="#0048ff"/><stop offset="0.491" stop-color="#003fff"/><stop offset="1.000" stop-color="#004aff"/></linearGradient><linearGradient id="gb16" gradientUnits="userSpaceOnUse" x1="0" y1="578.5" x2="0" y2="1061.5"><stop offset="0.000" stop-color="#00afff"/><stop offset="0.106" stop-color="#007dff"/><stop offset="0.211" stop-color="#0059ff"/><stop offset="0.335" stop-color="#0041ff"/><stop offset="0.503" stop-color="#003bff"/><stop offset="1.000" stop-color="#0048ff"/></linearGradient><linearGradient id="gb17" gradientUnits="userSpaceOnUse" x1="0" y1="578.5" x2="0" y2="1061.5"><stop offset="0.000" stop-color="#00a7ff"/><stop offset="0.099" stop-color="#0073ff"/><stop offset="0.205" stop-color="#0051ff"/><stop offset="0.348" stop-color="#003bff"/><stop offset="0.516" stop-color="#0037ff"/><stop offset="1.000" stop-color="#0046ff"/></linearGradient><linearGradient id="gb18" gradientUnits="userSpaceOnUse" x1="0" y1="578.5" x2="0" y2="1061.5"><stop offset="0.000" stop-color="#009eff"/><stop offset="0.087" stop-color="#006aff"/><stop offset="0.211" stop-color="#0048ff"/><stop offset="0.348" stop-color="#0036ff"/><stop offset="0.522" stop-color="#0034ff"/><stop offset="1.000" stop-color="#0043ff"/></linearGradient><linearGradient id="gb19" gradientUnits="userSpaceOnUse" x1="0" y1="578.5" x2="0" y2="1061.5"><stop offset="0.000" stop-color="#0093ff"/><stop offset="0.068" stop-color="#0063ff"/><stop offset="0.273" stop-color="#0036ff"/><stop offset="0.503" stop-color="#002fff"/><stop offset="1.000" stop-color="#0041ff"/></linearGradient><linearGradient id="gb20" gradientUnits="userSpaceOnUse" x1="0" y1="578.5" x2="0" y2="1061.5"><stop offset="0.000" stop-color="#0088ff"/><stop offset="0.062" stop-color="#0059ff"/><stop offset="0.292" stop-color="#0030ff"/><stop offset="0.534" stop-color="#002eff"/><stop offset="1.000" stop-color="#003fff"/></linearGradient><linearGradient id="gb21" gradientUnits="userSpaceOnUse" x1="0" y1="578.5" x2="0" y2="1061.5"><stop offset="0.000" stop-color="#007eff"/><stop offset="0.050" stop-color="#0057ff"/><stop offset="0.286" stop-color="#002cff"/><stop offset="0.565" stop-color="#002cff"/><stop offset="0.745" stop-color="#0033ff"/><stop offset="1.000" stop-color="#003cff"/></linearGradient><linearGradient id="gb22" gradientUnits="userSpaceOnUse" x1="0" y1="578.5" x2="0" y2="1061.5"><stop offset="0.000" stop-color="#0078ff"/><stop offset="0.037" stop-color="#0057ff"/><stop offset="0.280" stop-color="#0029ff"/><stop offset="0.683" stop-color="#002aff"/><stop offset="0.963" stop-color="#003aff"/><stop offset="1.000" stop-color="#003aff"/></linearGradient><linearGradient id="gb23" gradientUnits="userSpaceOnUse" x1="0" y1="578.5" x2="0" y2="1061.5"><stop offset="0.000" stop-color="#0078ff"/><stop offset="0.031" stop-color="#0059ff"/><stop offset="0.168" stop-color="#003dff"/><stop offset="0.280" stop-color="#0027ff"/><stop offset="0.683" stop-color="#0028ff"/><stop offset="0.963" stop-color="#0038ff"/><stop offset="1.000" stop-color="#0038ff"/></linearGradient><linearGradient id="gb24" gradientUnits="userSpaceOnUse" x1="0" y1="578.5" x2="0" y2="1061.5"><stop offset="0.000" stop-color="#0080ff"/><stop offset="0.037" stop-color="#0060ff"/><stop offset="0.112" stop-color="#0046ff"/><stop offset="0.155" stop-color="#003bff"/><stop offset="0.211" stop-color="#0036ff"/><stop offset="0.286" stop-color="#0026ff"/><stop offset="0.665" stop-color="#0025ff"/><stop offset="0.969" stop-color="#0036ff"/><stop offset="1.000" stop-color="#0036ff"/></linearGradient><linearGradient id="gb25" gradientUnits="userSpaceOnUse" x1="0" y1="578.5" x2="0" y2="1061.5"><stop offset="0.000" stop-color="#008dff"/><stop offset="0.050" stop-color="#006aff"/><stop offset="0.143" stop-color="#0039ff"/><stop offset="0.193" stop-color="#003dff"/><stop offset="0.292" stop-color="#0026ff"/><stop offset="0.578" stop-color="#0023ff"/><stop offset="1.000" stop-color="#0034ff"/></linearGradient><linearGradient id="gb26" gradientUnits="userSpaceOnUse" x1="0" y1="578.5" x2="0" y2="1061.5"><stop offset="0.000" stop-color="#009eff"/><stop offset="0.143" stop-color="#0037ff"/><stop offset="0.186" stop-color="#0041ff"/><stop offset="0.298" stop-color="#0025ff"/><stop offset="0.553" stop-color="#0020ff"/><stop offset="1.000" stop-color="#0032ff"/></linearGradient><linearGradient id="gb27" gradientUnits="userSpaceOnUse" x1="0" y1="578.5" x2="0" y2="1061.5"><stop offset="0.000" stop-color="#00b0ff"/><stop offset="0.062" stop-color="#0082ff"/><stop offset="0.137" stop-color="#003aff"/><stop offset="0.161" stop-color="#003eff"/><stop offset="0.193" stop-color="#0041ff"/><stop offset="0.304" stop-color="#0024ff"/><stop offset="0.540" stop-color="#001fff"/><stop offset="1.000" stop-color="#0030ff"/></linearGradient><linearGradient id="gb28" gradientUnits="userSpaceOnUse" x1="0" y1="578.5" x2="0" y2="1061.5"><stop offset="0.000" stop-color="#00c1ff"/><stop offset="0.037" stop-color="#00acff"/><stop offset="0.093" stop-color="#006bff"/><stop offset="0.130" stop-color="#0043ff"/><stop offset="0.155" stop-color="#003dff"/><stop offset="0.199" stop-color="#0040ff"/><stop offset="0.317" stop-color="#0023ff"/><stop offset="0.547" stop-color="#001dff"/><stop offset="1.000" stop-color="#002eff"/></linearGradient><linearGradient id="gb29" gradientUnits="userSpaceOnUse" x1="0" y1="578.5" x2="0" y2="1061.5"><stop offset="0.000" stop-color="#00d0ff"/><stop offset="0.031" stop-color="#00c3ff"/><stop offset="0.068" stop-color="#0099ff"/><stop offset="0.118" stop-color="#0051ff"/><stop offset="0.149" stop-color="#0040ff"/><stop offset="0.217" stop-color="#003cff"/><stop offset="0.329" stop-color="#0021ff"/><stop offset="0.571" stop-color="#001dff"/><stop offset="1.000" stop-color="#002cff"/></linearGradient><linearGradient id="gb30" gradientUnits="userSpaceOnUse" x1="0" y1="578.5" x2="0" y2="1061.5"><stop offset="0.000" stop-color="#00daff"/><stop offset="0.031" stop-color="#00d1ff"/><stop offset="0.068" stop-color="#00a3ff"/><stop offset="0.112" stop-color="#005aff"/><stop offset="0.143" stop-color="#0044ff"/><stop offset="0.230" stop-color="#0038ff"/><stop offset="0.342" stop-color="#001fff"/><stop offset="0.602" stop-color="#001dff"/><stop offset="1.000" stop-color="#002aff"/></linearGradient><linearGradient id="gb31" gradientUnits="userSpaceOnUse" x1="0" y1="578.5" x2="0" y2="1061.5"><stop offset="0.000" stop-color="#00e0ff"/><stop offset="0.031" stop-color="#00d6ff"/><stop offset="0.068" stop-color="#00a6ff"/><stop offset="0.106" stop-color="#0062ff"/><stop offset="0.130" stop-color="#004aff"/><stop offset="0.242" stop-color="#0034ff"/><stop offset="0.360" stop-color="#001dff"/><stop offset="0.652" stop-color="#001eff"/><stop offset="1.000" stop-color="#0028ff"/></linearGradient><linearGradient id="gb32" gradientUnits="userSpaceOnUse" x1="0" y1="578.5" x2="0" y2="1061.5"><stop offset="0.000" stop-color="#00e0ff"/><stop offset="0.031" stop-color="#00d2ff"/><stop offset="0.068" stop-color="#00a1ff"/><stop offset="0.106" stop-color="#005fff"/><stop offset="0.137" stop-color="#0047ff"/><stop offset="0.248" stop-color="#0031ff"/><stop offset="0.373" stop-color="#001bff"/><stop offset="0.689" stop-color="#001fff"/><stop offset="1.000" stop-color="#0026ff"/></linearGradient><linearGradient id="gb33" gradientUnits="userSpaceOnUse" x1="0" y1="578.5" x2="0" y2="1061.5"><stop offset="0.000" stop-color="#00ddff"/><stop offset="0.031" stop-color="#00cbff"/><stop offset="0.075" stop-color="#008dff"/><stop offset="0.112" stop-color="#0055ff"/><stop offset="0.149" stop-color="#0043ff"/><stop offset="0.366" stop-color="#001bff"/><stop offset="0.652" stop-color="#001dff"/><stop offset="1.000" stop-color="#0024ff"/></linearGradient><linearGradient id="gb34" gradientUnits="userSpaceOnUse" x1="0" y1="578.5" x2="0" y2="1061.5"><stop offset="0.000" stop-color="#00d8ff"/><stop offset="0.031" stop-color="#00c3ff"/><stop offset="0.106" stop-color="#0057ff"/><stop offset="0.143" stop-color="#0044ff"/><stop offset="0.360" stop-color="#001bff"/><stop offset="0.640" stop-color="#001bff"/><stop offset="1.000" stop-color="#0022ff"/></linearGradient><linearGradient id="gb35" gradientUnits="userSpaceOnUse" x1="0" y1="578.5" x2="0" y2="1061.5"><stop offset="0.000" stop-color="#00d3ff"/><stop offset="0.031" stop-color="#00bbff"/><stop offset="0.099" stop-color="#0059ff"/><stop offset="0.137" stop-color="#0044ff"/><stop offset="0.354" stop-color="#001bff"/><stop offset="0.634" stop-color="#001aff"/><stop offset="1.000" stop-color="#0020ff"/></linearGradient><linearGradient id="gb36" gradientUnits="userSpaceOnUse" x1="0" y1="578.5" x2="0" y2="1061.5"><stop offset="0.000" stop-color="#00cdff"/><stop offset="0.031" stop-color="#00b3ff"/><stop offset="0.087" stop-color="#0060ff"/><stop offset="0.118" stop-color="#0048ff"/><stop offset="0.342" stop-color="#001bff"/><stop offset="0.615" stop-color="#0018ff"/><stop offset="1.000" stop-color="#001fff"/></linearGradient><linearGradient id="gb37" gradientUnits="userSpaceOnUse" x1="0" y1="578.5" x2="0" y2="1061.5"><stop offset="0.000" stop-color="#00c5ff"/><stop offset="0.025" stop-color="#00b1ff"/><stop offset="0.081" stop-color="#005fff"/><stop offset="0.118" stop-color="#0046ff"/><stop offset="0.329" stop-color="#001bff"/><stop offset="0.602" stop-color="#0017ff"/><stop offset="1.000" stop-color="#001dff"/></linearGradient><linearGradient id="gb38" gradientUnits="userSpaceOnUse" x1="0" y1="578.5" x2="0" y2="1061.5"><stop offset="0.000" stop-color="#00bcff"/><stop offset="0.025" stop-color="#00a7ff"/><stop offset="0.075" stop-color="#005cff"/><stop offset="0.112" stop-color="#0046ff"/><stop offset="0.317" stop-color="#001bff"/><stop offset="0.596" stop-color="#0016ff"/><stop offset="1.000" stop-color="#001bff"/></linearGradient><linearGradient id="gb39" gradientUnits="userSpaceOnUse" x1="0" y1="578.5" x2="0" y2="1061.5"><stop offset="0.000" stop-color="#00b1ff"/><stop offset="0.031" stop-color="#0092ff"/><stop offset="0.075" stop-color="#0055ff"/><stop offset="0.118" stop-color="#0041ff"/><stop offset="0.311" stop-color="#001aff"/><stop offset="0.615" stop-color="#0015ff"/><stop offset="1.000" stop-color="#0019ff"/></linearGradient><linearGradient id="gb40" gradientUnits="userSpaceOnUse" x1="0" y1="578.5" x2="0" y2="1061.5"><stop offset="0.000" stop-color="#00a5ff"/><stop offset="0.037" stop-color="#007fff"/><stop offset="0.081" stop-color="#004cff"/><stop offset="0.186" stop-color="#002dff"/><stop offset="0.348" stop-color="#0016ff"/><stop offset="1.000" stop-color="#0017ff"/></linearGradient><linearGradient id="gb41" gradientUnits="userSpaceOnUse" x1="0" y1="578.5" x2="0" y2="1061.5"><stop offset="0.000" stop-color="#009aff"/><stop offset="0.050" stop-color="#0067ff"/><stop offset="0.087" stop-color="#0046ff"/><stop offset="0.242" stop-color="#001fff"/><stop offset="0.422" stop-color="#0013ff"/><stop offset="1.000" stop-color="#0015ff"/></linearGradient><linearGradient id="gb42" gradientUnits="userSpaceOnUse" x1="0" y1="578.5" x2="0" y2="1061.5"><stop offset="0.000" stop-color="#0091ff"/><stop offset="0.081" stop-color="#0048ff"/><stop offset="0.161" stop-color="#002dff"/><stop offset="0.311" stop-color="#0014ff"/><stop offset="1.000" stop-color="#0013ff"/></linearGradient><linearGradient id="gb43" gradientUnits="userSpaceOnUse" x1="0" y1="578.5" x2="0" y2="1061.5"><stop offset="0.000" stop-color="#0089ff"/><stop offset="0.081" stop-color="#0046ff"/><stop offset="0.155" stop-color="#002cff"/><stop offset="0.304" stop-color="#0013ff"/><stop offset="1.000" stop-color="#0012ff"/></linearGradient><linearGradient id="gb44" gradientUnits="userSpaceOnUse" x1="0" y1="578.5" x2="0" y2="1061.5"><stop offset="0.000" stop-color="#0083ff"/><stop offset="0.087" stop-color="#0041ff"/><stop offset="0.193" stop-color="#0022ff"/><stop offset="0.317" stop-color="#0010ff"/><stop offset="1.000" stop-color="#000fff"/></linearGradient><linearGradient id="gb45" gradientUnits="userSpaceOnUse" x1="0" y1="578.5" x2="0" y2="1061.5"><stop offset="0.000" stop-color="#007fff"/><stop offset="0.087" stop-color="#003fff"/><stop offset="0.236" stop-color="#0015ff"/><stop offset="0.398" stop-color="#000eff"/><stop offset="1.000" stop-color="#000dff"/></linearGradient><linearGradient id="gb46" gradientUnits="userSpaceOnUse" x1="0" y1="578.5" x2="0" y2="1061.5"><stop offset="0.000" stop-color="#007bff"/><stop offset="0.087" stop-color="#003dff"/><stop offset="0.248" stop-color="#0011ff"/><stop offset="0.429" stop-color="#000eff"/><stop offset="1.000" stop-color="#000bff"/></linearGradient><linearGradient id="gb47" gradientUnits="userSpaceOnUse" x1="0" y1="578.5" x2="0" y2="1061.5"><stop offset="0.000" stop-color="#0078ff"/><stop offset="0.093" stop-color="#0038ff"/><stop offset="0.248" stop-color="#000eff"/><stop offset="0.422" stop-color="#000cff"/><stop offset="0.857" stop-color="#000cff"/><stop offset="1.000" stop-color="#0009ff"/></linearGradient><linearGradient id="gb48" gradientUnits="userSpaceOnUse" x1="0" y1="578.5" x2="0" y2="1061.5"><stop offset="0.000" stop-color="#0076ff"/><stop offset="0.093" stop-color="#0035ff"/><stop offset="0.236" stop-color="#000cff"/><stop offset="0.398" stop-color="#0009ff"/><stop offset="0.547" stop-color="#0008ff"/><stop offset="1.000" stop-color="#0007ff"/></linearGradient><linearGradient id="gb49" gradientUnits="userSpaceOnUse" x1="0" y1="578.5" x2="0" y2="1061.5"><stop offset="0.000" stop-color="#0075ff"/><stop offset="0.099" stop-color="#002eff"/><stop offset="0.230" stop-color="#0009ff"/><stop offset="0.391" stop-color="#0006ff"/><stop offset="0.503" stop-color="#0008ff"/><stop offset="0.832" stop-color="#0005ff"/><stop offset="1.000" stop-color="#0004ff"/></linearGradient><linearGradient id="gb50" gradientUnits="userSpaceOnUse" x1="0" y1="578.5" x2="0" y2="1061.5"><stop offset="0.000" stop-color="#0074ff"/><stop offset="0.106" stop-color="#0026ff"/><stop offset="0.217" stop-color="#0006ff"/><stop offset="0.385" stop-color="#0003ff"/><stop offset="0.491" stop-color="#0007ff"/><stop offset="0.789" stop-color="#0000ff"/><stop offset="0.944" stop-color="#0003ff"/><stop offset="1.000" stop-color="#0002ff"/></linearGradient><linearGradient id="gb51" gradientUnits="userSpaceOnUse" x1="0" y1="578.5" x2="0" y2="1061.5"><stop offset="0.000" stop-color="#0073ff"/><stop offset="0.112" stop-color="#001dff"/><stop offset="0.193" stop-color="#0005ff"/><stop offset="0.335" stop-color="#0000fd"/><stop offset="0.484" stop-color="#0005ff"/><stop offset="0.814" stop-color="#0000fc"/><stop offset="1.000" stop-color="#0000fe"/></linearGradient><linearGradient id="gb52" gradientUnits="userSpaceOnUse" x1="0" y1="578.5" x2="0" y2="1061.5"><stop offset="0.000" stop-color="#0071ff"/><stop offset="0.124" stop-color="#000fff"/><stop offset="0.211" stop-color="#0000fc"/><stop offset="0.422" stop-color="#0000fe"/><stop offset="0.845" stop-color="#0000fa"/><stop offset="1.000" stop-color="#0000fc"/></linearGradient><linearGradient id="gb53" gradientUnits="userSpaceOnUse" x1="0" y1="578.5" x2="0" y2="1061.5"><stop offset="0.000" stop-color="#006fff"/><stop offset="0.124" stop-color="#0009ff"/><stop offset="0.180" stop-color="#0000fb"/><stop offset="0.298" stop-color="#0000f6"/><stop offset="0.503" stop-color="#0000f8"/><stop offset="0.857" stop-color="#0000f6"/><stop offset="1.000" stop-color="#0000f9"/></linearGradient><linearGradient id="gb54" gradientUnits="userSpaceOnUse" x1="0" y1="578.5" x2="0" y2="1061.5"><stop offset="0.000" stop-color="#006dff"/><stop offset="0.130" stop-color="#0001ff"/><stop offset="0.255" stop-color="#0000f0"/><stop offset="0.559" stop-color="#0000f1"/><stop offset="0.863" stop-color="#0000f1"/><stop offset="1.000" stop-color="#0000f6"/></linearGradient><linearGradient id="gb55" gradientUnits="userSpaceOnUse" x1="0" y1="578.5" x2="0" y2="1061.5"><stop offset="0.000" stop-color="#006cff"/><stop offset="0.124" stop-color="#0001ff"/><stop offset="0.230" stop-color="#0000ea"/><stop offset="0.696" stop-color="#0000e9"/><stop offset="0.870" stop-color="#0000ed"/><stop offset="1.000" stop-color="#0000f3"/></linearGradient><linearGradient id="gb56" gradientUnits="userSpaceOnUse" x1="0" y1="578.5" x2="0" y2="1061.5"><stop offset="0.000" stop-color="#006eff"/><stop offset="0.068" stop-color="#0032ff"/><stop offset="0.118" stop-color="#0002ff"/><stop offset="0.180" stop-color="#0000eb"/><stop offset="0.267" stop-color="#0000e5"/><stop offset="0.652" stop-color="#0000e2"/><stop offset="0.851" stop-color="#0000e6"/><stop offset="1.000" stop-color="#0000f1"/></linearGradient><linearGradient id="gb57" gradientUnits="userSpaceOnUse" x1="0" y1="578.5" x2="0" y2="1061.5"><stop offset="0.000" stop-color="#0071ff"/><stop offset="0.050" stop-color="#0049ff"/><stop offset="0.112" stop-color="#0002ff"/><stop offset="0.161" stop-color="#0000e7"/><stop offset="0.261" stop-color="#0000de"/><stop offset="0.404" stop-color="#0000e1"/><stop offset="0.503" stop-color="#0000df"/><stop offset="0.652" stop-color="#0000db"/><stop offset="0.826" stop-color="#0000de"/><stop offset="1.000" stop-color="#0000ee"/></linearGradient><linearGradient id="gb58" gradientUnits="userSpaceOnUse" x1="0" y1="578.5" x2="0" y2="1061.5"><stop offset="0.000" stop-color="#0074ff"/><stop offset="0.037" stop-color="#005bff"/><stop offset="0.106" stop-color="#0002ff"/><stop offset="0.155" stop-color="#0000e0"/><stop offset="0.267" stop-color="#0000d9"/><stop offset="0.391" stop-color="#0000dc"/><stop offset="0.484" stop-color="#0000d6"/><stop offset="0.621" stop-color="#0000d8"/><stop offset="0.720" stop-color="#0000d4"/><stop offset="0.820" stop-color="#0000d9"/><stop offset="1.000" stop-color="#0000eb"/></linearGradient><linearGradient id="gb59" gradientUnits="userSpaceOnUse" x1="0" y1="578.5" x2="0" y2="1061.5"><stop offset="0.000" stop-color="#0076ff"/><stop offset="0.037" stop-color="#0060ff"/><stop offset="0.075" stop-color="#002aff"/><stop offset="0.099" stop-color="#0003ff"/><stop offset="0.149" stop-color="#0000da"/><stop offset="0.273" stop-color="#0000d5"/><stop offset="0.398" stop-color="#0000d6"/><stop offset="0.478" stop-color="#0000cf"/><stop offset="0.609" stop-color="#0000d4"/><stop offset="0.720" stop-color="#0000ce"/><stop offset="0.801" stop-color="#0000d1"/><stop offset="1.000" stop-color="#0000e8"/></linearGradient><linearGradient id="gb60" gradientUnits="userSpaceOnUse" x1="0" y1="578.5" x2="0" y2="1061.5"><stop offset="0.000" stop-color="#0077ff"/><stop offset="0.031" stop-color="#0069ff"/><stop offset="0.062" stop-color="#0040ff"/><stop offset="0.093" stop-color="#0005ff"/><stop offset="0.118" stop-color="#0000e8"/><stop offset="0.155" stop-color="#0000d2"/><stop offset="0.317" stop-color="#0000d4"/><stop offset="0.478" stop-color="#0000ca"/><stop offset="0.602" stop-color="#0000d0"/><stop offset="0.776" stop-color="#0000c7"/><stop offset="0.981" stop-color="#0000e4"/><stop offset="1.000" stop-color="#0000e5"/></linearGradient><linearGradient id="gb61" gradientUnits="userSpaceOnUse" x1="0" y1="578.5" x2="0" y2="1061.5"><stop offset="0.000" stop-color="#0074ff"/><stop offset="0.037" stop-color="#0060ff"/><stop offset="0.062" stop-color="#003eff"/><stop offset="0.093" stop-color="#0002ff"/><stop offset="0.124" stop-color="#0000e0"/><stop offset="0.161" stop-color="#0000cf"/><stop offset="0.404" stop-color="#0000cc"/><stop offset="0.484" stop-color="#0000c7"/><stop offset="0.615" stop-color="#0000cb"/><stop offset="0.789" stop-color="#0000c6"/><stop offset="0.994" stop-color="#0000e3"/><stop offset="1.000" stop-color="#0000e3"/></linearGradient><linearGradient id="gb62" gradientUnits="userSpaceOnUse" x1="0" y1="578.5" x2="0" y2="1061.5"><stop offset="0.000" stop-color="#0071ff"/><stop offset="0.037" stop-color="#005cff"/><stop offset="0.068" stop-color="#002fff"/><stop offset="0.093" stop-color="#0002ff"/><stop offset="0.130" stop-color="#0000dc"/><stop offset="0.180" stop-color="#0000ce"/><stop offset="0.410" stop-color="#0000c8"/><stop offset="0.491" stop-color="#0000c5"/><stop offset="0.627" stop-color="#0000c7"/><stop offset="0.789" stop-color="#0000c4"/><stop offset="1.000" stop-color="#0000e1"/></linearGradient><linearGradient id="gb63" gradientUnits="userSpaceOnUse" x1="0" y1="578.5" x2="0" y2="1061.5"><stop offset="0.000" stop-color="#006fff"/><stop offset="0.037" stop-color="#0059ff"/><stop offset="0.068" stop-color="#002eff"/><stop offset="0.093" stop-color="#0003ff"/><stop offset="0.137" stop-color="#0000d9"/><stop offset="0.199" stop-color="#0000cc"/><stop offset="0.410" stop-color="#0000c7"/><stop offset="0.497" stop-color="#0000c4"/><stop offset="0.646" stop-color="#0000c4"/><stop offset="0.795" stop-color="#0000c4"/><stop offset="1.000" stop-color="#0000e0"/></linearGradient><linearGradient id="gb64" gradientUnits="userSpaceOnUse" x1="0" y1="578.5" x2="0" y2="1061.5"><stop offset="0.000" stop-color="#006fff"/><stop offset="0.037" stop-color="#0058ff"/><stop offset="0.068" stop-color="#002eff"/><stop offset="0.093" stop-color="#0003ff"/><stop offset="0.137" stop-color="#0000d9"/><stop offset="0.199" stop-color="#0000cc"/><stop offset="0.410" stop-color="#0000c7"/><stop offset="0.503" stop-color="#0000c4"/><stop offset="0.658" stop-color="#0000c3"/><stop offset="0.795" stop-color="#0000c4"/><stop offset="1.000" stop-color="#0000e0"/></linearGradient><linearGradient id="gb65" gradientUnits="userSpaceOnUse" x1="0" y1="578.5" x2="0" y2="1061.5"><stop offset="0.000" stop-color="#006fff"/><stop offset="0.037" stop-color="#0058ff"/><stop offset="0.068" stop-color="#002dff"/><stop offset="0.093" stop-color="#0003ff"/><stop offset="0.137" stop-color="#0000da"/><stop offset="0.199" stop-color="#0000cc"/><stop offset="0.410" stop-color="#0000c7"/><stop offset="0.503" stop-color="#0000c4"/><stop offset="0.658" stop-color="#0000c3"/><stop offset="0.795" stop-color="#0000c4"/><stop offset="1.000" stop-color="#0000e0"/></linearGradient><clipPath id="cpb"><polygon points="106,584.9 810.5,584.9 810.5,968.5 750,986.5 700,992.5 680,997.5 620,997.5 351,912.5 334.7,910 334.7,903.9 297.1,891.7 297.1,886.6 258.5,874.8 258.5,862.2 239.2,856.5 239.2,851 219.9,844.3 219.9,837.8 201.6,831.7 201.6,821.6 182.3,815.1 182.3,809.8 163,803.3 163,785.4 144.8,779.3 144.8,763.1 125.5,756.2 125.5,739.3 106,732.6"/></clipPath><filter id="blb" filterUnits="userSpaceOnUse" x="66" y="563.5" width="802.7" height="505"><feGaussianBlur stdDeviation="6.6 0"/></filter><linearGradient id="gc0" gradientUnits="userSpaceOnUse" x1="0" y1="1118.5" x2="0" y2="1601.5"><stop offset="0.000" stop-color="#0000e6"/><stop offset="0.031" stop-color="#0000ef"/><stop offset="0.087" stop-color="#0000af"/><stop offset="0.130" stop-color="#0000a4"/><stop offset="1.000" stop-color="#00009e"/></linearGradient><linearGradient id="gc1" gradientUnits="userSpaceOnUse" x1="0" y1="1118.5" x2="0" y2="1601.5"><stop offset="0.000" stop-color="#0000e6"/><stop offset="0.031" stop-color="#0000ef"/><stop offset="0.087" stop-color="#0000af"/><stop offset="0.130" stop-color="#0000a4"/><stop offset="1.000" stop-color="#00009e"/></linearGradient><linearGradient id="gc2" gradientUnits="userSpaceOnUse" x1="0" y1="1118.5" x2="0" y2="1601.5"><stop offset="0.000" stop-color="#0000e6"/><stop offset="0.031" stop-color="#0000f1"/><stop offset="0.056" stop-color="#0000d4"/><stop offset="0.087" stop-color="#0000af"/><stop offset="0.130" stop-color="#0000a4"/><stop offset="1.000" stop-color="#00009e"/></linearGradient><linearGradient id="gc3" gradientUnits="userSpaceOnUse" x1="0" y1="1118.5" x2="0" y2="1601.5"><stop offset="0.000" stop-color="#0000e7"/><stop offset="0.031" stop-color="#0000f9"/><stop offset="0.050" stop-color="#0000e5"/><stop offset="0.075" stop-color="#0000ba"/><stop offset="0.106" stop-color="#0000a6"/><stop offset="0.820" stop-color="#00009e"/><stop offset="1.000" stop-color="#00009e"/></linearGradient><linearGradient id="gc4" gradientUnits="userSpaceOnUse" x1="0" y1="1118.5" x2="0" y2="1601.5"><stop offset="0.000" stop-color="#0000e7"/><stop offset="0.025" stop-color="#0000ff"/><stop offset="0.037" stop-color="#0004ff"/><stop offset="0.050" stop-color="#0000ee"/><stop offset="0.075" stop-color="#0000bd"/><stop offset="0.099" stop-color="#0000a8"/><stop offset="0.584" stop-color="#00009e"/><stop offset="1.000" stop-color="#00009e"/></linearGradient><linearGradient id="gc5" gradientUnits="userSpaceOnUse" x1="0" y1="1118.5" x2="0" y2="1601.5"><stop offset="0.000" stop-color="#0000e8"/><stop offset="0.019" stop-color="#0002ff"/><stop offset="0.031" stop-color="#0017ff"/><stop offset="0.037" stop-color="#0017ff"/><stop offset="0.050" stop-color="#0001ff"/><stop offset="0.081" stop-color="#0000bd"/><stop offset="0.106" stop-color="#0000a7"/><stop offset="0.652" stop-color="#00009e"/><stop offset="1.000" stop-color="#00009e"/></linearGradient><linearGradient id="gc6" gradientUnits="userSpaceOnUse" x1="0" y1="1118.5" x2="0" y2="1601.5"><stop offset="0.000" stop-color="#0000ed"/><stop offset="0.012" stop-color="#0000fe"/><stop offset="0.031" stop-color="#002aff"/><stop offset="0.037" stop-color="#002eff"/><stop offset="0.050" stop-color="#0020ff"/><stop offset="0.062" stop-color="#0000ff"/><stop offset="0.081" stop-color="#0000c9"/><stop offset="0.099" stop-color="#0000ad"/><stop offset="0.137" stop-color="#0000a4"/><stop offset="1.000" stop-color="#00009e"/></linearGradient><linearGradient id="gc7" gradientUnits="userSpaceOnUse" x1="0" y1="1118.5" x2="0" y2="1601.5"><stop offset="0.000" stop-color="#0000ed"/><stop offset="0.012" stop-color="#0000ff"/><stop offset="0.031" stop-color="#002fff"/><stop offset="0.037" stop-color="#0034ff"/><stop offset="0.050" stop-color="#0028ff"/><stop offset="0.062" stop-color="#0008ff"/><stop offset="0.075" stop-color="#0000dc"/><stop offset="0.087" stop-color="#0000bd"/><stop offset="0.106" stop-color="#0000a8"/><stop offset="0.280" stop-color="#0000a0"/><stop offset="1.000" stop-color="#00009e"/></linearGradient><linearGradient id="gc8" gradientUnits="userSpaceOnUse" x1="0" y1="1118.5" x2="0" y2="1601.5"><stop offset="0.000" stop-color="#0000e9"/><stop offset="0.012" stop-color="#0000f9"/><stop offset="0.031" stop-color="#0026ff"/><stop offset="0.043" stop-color="#0023ff"/><stop offset="0.056" stop-color="#000cff"/><stop offset="0.062" stop-color="#0000f7"/><stop offset="0.081" stop-color="#0000c0"/><stop offset="0.099" stop-color="#0000aa"/><stop offset="0.143" stop-color="#0000a4"/><stop offset="1.000" stop-color="#00009e"/></linearGradient><linearGradient id="gc9" gradientUnits="userSpaceOnUse" x1="0" y1="1118.5" x2="0" y2="1601.5"><stop offset="0.000" stop-color="#0000ea"/><stop offset="0.012" stop-color="#0000f9"/><stop offset="0.031" stop-color="#0023ff"/><stop offset="0.037" stop-color="#0026ff"/><stop offset="0.050" stop-color="#0015ff"/><stop offset="0.056" stop-color="#0005ff"/><stop offset="0.081" stop-color="#0000bc"/><stop offset="0.099" stop-color="#0000a8"/><stop offset="0.180" stop-color="#0000a4"/><stop offset="1.000" stop-color="#00009e"/></linearGradient><linearGradient id="gc10" gradientUnits="userSpaceOnUse" x1="0" y1="1118.5" x2="0" y2="1601.5"><stop offset="0.000" stop-color="#0000eb"/><stop offset="0.019" stop-color="#0005ff"/><stop offset="0.031" stop-color="#0019ff"/><stop offset="0.043" stop-color="#0018ff"/><stop offset="0.056" stop-color="#0000fc"/><stop offset="0.075" stop-color="#0000c7"/><stop offset="0.093" stop-color="#0000ac"/><stop offset="0.130" stop-color="#0000a3"/><stop offset="1.000" stop-color="#00009e"/></linearGradient><linearGradient id="gc11" gradientUnits="userSpaceOnUse" x1="0" y1="1118.5" x2="0" y2="1601.5"><stop offset="0.000" stop-color="#0000ea"/><stop offset="0.031" stop-color="#0003ff"/><stop offset="0.043" stop-color="#0000fe"/><stop offset="0.081" stop-color="#0000b8"/><stop offset="0.106" stop-color="#0000a6"/><stop offset="0.814" stop-color="#00009e"/><stop offset="1.000" stop-color="#00009e"/></linearGradient><linearGradient id="gc12" gradientUnits="userSpaceOnUse" x1="0" y1="1118.5" x2="0" y2="1601.5"><stop offset="0.000" stop-color="#0000e9"/><stop offset="0.031" stop-color="#0000f3"/><stop offset="0.050" stop-color="#0000e2"/><stop offset="0.081" stop-color="#0000b4"/><stop offset="0.112" stop-color="#0000a4"/><stop offset="1.000" stop-color="#00009e"/></linearGradient><linearGradient id="gc13" gradientUnits="userSpaceOnUse" x1="0" y1="1118.5" x2="0" y2="1601.5"><stop offset="0.000" stop-color="#0000ea"/><stop offset="0.031" stop-color="#0000f2"/><stop offset="0.056" stop-color="#0000d3"/><stop offset="0.087" stop-color="#0000ae"/><stop offset="0.130" stop-color="#0000a4"/><stop offset="1.000" stop-color="#00009e"/></linearGradient><linearGradient id="gc14" gradientUnits="userSpaceOnUse" x1="0" y1="1118.5" x2="0" y2="1601.5"><stop offset="0.000" stop-color="#0000ed"/><stop offset="0.031" stop-color="#0000ee"/><stop offset="0.087" stop-color="#0000af"/><stop offset="0.130" stop-color="#0000a4"/><stop offset="1.000" stop-color="#00009e"/></linearGradient><linearGradient id="gc15" gradientUnits="userSpaceOnUse" x1="0" y1="1118.5" x2="0" y2="1601.5"><stop offset="0.000" stop-color="#0000f2"/><stop offset="0.031" stop-color="#0000ed"/><stop offset="0.081" stop-color="#0000b3"/><stop offset="0.118" stop-color="#0000a5"/><stop offset="1.000" stop-color="#00009e"/></linearGradient><linearGradient id="gc16" gradientUnits="userSpaceOnUse" x1="0" y1="1118.5" x2="0" y2="1601.5"><stop offset="0.000" stop-color="#0000fb"/><stop offset="0.025" stop-color="#0000fc"/><stop offset="0.050" stop-color="#0000da"/><stop offset="0.081" stop-color="#0000b4"/><stop offset="0.118" stop-color="#0000a5"/><stop offset="0.963" stop-color="#00009e"/><stop offset="1.000" stop-color="#00009e"/></linearGradient><linearGradient id="gc17" gradientUnits="userSpaceOnUse" x1="0" y1="1118.5" x2="0" y2="1601.5"><stop offset="0.000" stop-color="#0005ff"/><stop offset="0.025" stop-color="#000fff"/><stop offset="0.037" stop-color="#0000fa"/><stop offset="0.062" stop-color="#0000c7"/><stop offset="0.093" stop-color="#0000ab"/><stop offset="0.155" stop-color="#0000a4"/><stop offset="0.994" stop-color="#00009e"/><stop offset="1.000" stop-color="#00009e"/></linearGradient><linearGradient id="gc18" gradientUnits="userSpaceOnUse" x1="0" y1="1118.5" x2="0" y2="1601.5"><stop offset="0.000" stop-color="#000aff"/><stop offset="0.019" stop-color="#001bff"/><stop offset="0.025" stop-color="#001cff"/><stop offset="0.037" stop-color="#0004ff"/><stop offset="0.056" stop-color="#0000d2"/><stop offset="0.081" stop-color="#0000b4"/><stop offset="0.118" stop-color="#0000a5"/><stop offset="0.950" stop-color="#00009e"/><stop offset="1.000" stop-color="#00009e"/></linearGradient><linearGradient id="gc19" gradientUnits="userSpaceOnUse" x1="0" y1="1118.5" x2="0" y2="1601.5"><stop offset="0.000" stop-color="#000eff"/><stop offset="0.019" stop-color="#0024ff"/><stop offset="0.025" stop-color="#0025ff"/><stop offset="0.031" stop-color="#001cff"/><stop offset="0.037" stop-color="#000cff"/><stop offset="0.043" stop-color="#0000f6"/><stop offset="0.062" stop-color="#0000c9"/><stop offset="0.093" stop-color="#0000ab"/><stop offset="0.155" stop-color="#0000a4"/><stop offset="0.988" stop-color="#00009e"/><stop offset="1.000" stop-color="#00009e"/></linearGradient><linearGradient id="gc20" gradientUnits="userSpaceOnUse" x1="0" y1="1118.5" x2="0" y2="1601.5"><stop offset="0.000" stop-color="#0010ff"/><stop offset="0.019" stop-color="#0029ff"/><stop offset="0.025" stop-color="#002aff"/><stop offset="0.031" stop-color="#0021ff"/><stop offset="0.043" stop-color="#0000fa"/><stop offset="0.062" stop-color="#0000ca"/><stop offset="0.087" stop-color="#0000af"/><stop offset="0.130" stop-color="#0000a4"/><stop offset="1.000" stop-color="#00009e"/></linearGradient><linearGradient id="gc21" gradientUnits="userSpaceOnUse" x1="0" y1="1118.5" x2="0" y2="1601.5"><stop offset="0.000" stop-color="#000cff"/><stop offset="0.019" stop-color="#0024ff"/><stop offset="0.025" stop-color="#0026ff"/><stop offset="0.031" stop-color="#001eff"/><stop offset="0.037" stop-color="#000dff"/><stop offset="0.043" stop-color="#0000f7"/><stop offset="0.056" stop-color="#0000d4"/><stop offset="0.081" stop-color="#0000b4"/><stop offset="0.118" stop-color="#0000a5"/><stop offset="0.969" stop-color="#00009e"/><stop offset="1.000" stop-color="#00009e"/></linearGradient><linearGradient id="gc22" gradientUnits="userSpaceOnUse" x1="0" y1="1118.5" x2="0" y2="1601.5"><stop offset="0.000" stop-color="#000aff"/><stop offset="0.025" stop-color="#0025ff"/><stop offset="0.031" stop-color="#001eff"/><stop offset="0.037" stop-color="#000dff"/><stop offset="0.043" stop-color="#0000f7"/><stop offset="0.056" stop-color="#0000d4"/><stop offset="0.081" stop-color="#0000b3"/><stop offset="0.118" stop-color="#0000a5"/><stop offset="0.981" stop-color="#00009e"/><stop offset="1.000" stop-color="#00009e"/></linearGradient><linearGradient id="gc23" gradientUnits="userSpaceOnUse" x1="0" y1="1118.5" x2="0" y2="1601.5"><stop offset="0.000" stop-color="#000bff"/><stop offset="0.019" stop-color="#0025ff"/><stop offset="0.025" stop-color="#0028ff"/><stop offset="0.031" stop-color="#0020ff"/><stop offset="0.043" stop-color="#0000fa"/><stop offset="0.062" stop-color="#0000ca"/><stop offset="0.087" stop-color="#0000af"/><stop offset="0.130" stop-color="#0000a4"/><stop offset="1.000" stop-color="#00009e"/></linearGradient><linearGradient id="gc24" gradientUnits="userSpaceOnUse" x1="0" y1="1118.5" x2="0" y2="1601.5"><stop offset="0.000" stop-color="#0008ff"/><stop offset="0.025" stop-color="#0027ff"/><stop offset="0.031" stop-color="#0020ff"/><stop offset="0.043" stop-color="#0000f9"/><stop offset="0.056" stop-color="#0000d5"/><stop offset="0.081" stop-color="#0000b3"/><stop offset="0.118" stop-color="#0000a5"/><stop offset="0.994" stop-color="#00009e"/><stop offset="1.000" stop-color="#00009e"/></linearGradient><linearGradient id="gc25" gradientUnits="userSpaceOnUse" x1="0" y1="1118.5" x2="0" y2="1601.5"><stop offset="0.000" stop-color="#0004ff"/><stop offset="0.025" stop-color="#0024ff"/><stop offset="0.031" stop-color="#001fff"/><stop offset="0.043" stop-color="#0000f8"/><stop offset="0.056" stop-color="#0000d5"/><stop offset="0.081" stop-color="#0000b4"/><stop offset="0.118" stop-color="#0000a5"/><stop offset="0.988" stop-color="#00009e"/><stop offset="1.000" stop-color="#00009e"/></linearGradient><linearGradient id="gc26" gradientUnits="userSpaceOnUse" x1="0" y1="1118.5" x2="0" y2="1601.5"><stop offset="0.000" stop-color="#0005ff"/><stop offset="0.025" stop-color="#0025ff"/><stop offset="0.031" stop-color="#0020ff"/><stop offset="0.043" stop-color="#0000fd"/><stop offset="0.062" stop-color="#0000cc"/><stop offset="0.087" stop-color="#0000af"/><stop offset="0.130" stop-color="#0000a4"/><stop offset="1.000" stop-color="#00009e"/></linearGradient><linearGradient id="gc27" gradientUnits="userSpaceOnUse" x1="0" y1="1118.5" x2="0" y2="1601.5"><stop offset="0.000" stop-color="#0002ff"/><stop offset="0.025" stop-color="#001fff"/><stop offset="0.031" stop-color="#001cff"/><stop offset="0.043" stop-color="#0000fc"/><stop offset="0.062" stop-color="#0000cd"/><stop offset="0.087" stop-color="#0000af"/><stop offset="0.130" stop-color="#0000a4"/><stop offset="1.000" stop-color="#00009e"/></linearGradient><linearGradient id="gc28" gradientUnits="userSpaceOnUse" x1="0" y1="1118.5" x2="0" y2="1601.5"><stop offset="0.000" stop-color="#0000f6"/><stop offset="0.012" stop-color="#0000ff"/><stop offset="0.025" stop-color="#000fff"/><stop offset="0.031" stop-color="#000eff"/><stop offset="0.037" stop-color="#0004ff"/><stop offset="0.062" stop-color="#0000ca"/><stop offset="0.093" stop-color="#0000ab"/><stop offset="0.155" stop-color="#0000a4"/><stop offset="0.975" stop-color="#00009e"/><stop offset="1.000" stop-color="#00009e"/></linearGradient><linearGradient id="gc29" gradientUnits="userSpaceOnUse" x1="0" y1="1118.5" x2="0" y2="1601.5"><stop offset="0.000" stop-color="#0000ef"/><stop offset="0.031" stop-color="#0000ff"/><stop offset="0.050" stop-color="#0000e1"/><stop offset="0.075" stop-color="#0000bb"/><stop offset="0.106" stop-color="#0000a7"/><stop offset="0.640" stop-color="#00009e"/><stop offset="1.000" stop-color="#00009e"/></linearGradient><linearGradient id="gc30" gradientUnits="userSpaceOnUse" x1="0" y1="1118.5" x2="0" y2="1601.5"><stop offset="0.000" stop-color="#0000ed"/><stop offset="0.031" stop-color="#0000f6"/><stop offset="0.050" stop-color="#0000e2"/><stop offset="0.081" stop-color="#0000b6"/><stop offset="0.112" stop-color="#0000a6"/><stop offset="0.795" stop-color="#00009e"/><stop offset="1.000" stop-color="#00009e"/></linearGradient><linearGradient id="gc31" gradientUnits="userSpaceOnUse" x1="0" y1="1118.5" x2="0" y2="1601.5"><stop offset="0.000" stop-color="#0000eb"/><stop offset="0.037" stop-color="#0000ea"/><stop offset="0.087" stop-color="#0000b0"/><stop offset="0.130" stop-color="#0000a4"/><stop offset="1.000" stop-color="#00009e"/></linearGradient><linearGradient id="gc32" gradientUnits="userSpaceOnUse" x1="0" y1="1118.5" x2="0" y2="1601.5"><stop offset="0.000" stop-color="#0000ea"/><stop offset="0.037" stop-color="#0000e0"/><stop offset="0.093" stop-color="#0000ac"/><stop offset="0.161" stop-color="#0000a4"/><stop offset="1.000" stop-color="#00009e"/></linearGradient><linearGradient id="gc33" gradientUnits="userSpaceOnUse" x1="0" y1="1118.5" x2="0" y2="1601.5"><stop offset="0.000" stop-color="#0000e9"/><stop offset="0.043" stop-color="#0000d6"/><stop offset="0.093" stop-color="#0000ac"/><stop offset="0.161" stop-color="#0000a4"/><stop offset="1.000" stop-color="#00009e"/></linearGradient><linearGradient id="gc34" gradientUnits="userSpaceOnUse" x1="0" y1="1118.5" x2="0" y2="1601.5"><stop offset="0.000" stop-color="#0000ea"/><stop offset="0.043" stop-color="#0000d7"/><stop offset="0.093" stop-color="#0000ac"/><stop offset="0.161" stop-color="#0000a4"/><stop offset="1.000" stop-color="#00009e"/></linearGradient><linearGradient id="gc35" gradientUnits="userSpaceOnUse" x1="0" y1="1118.5" x2="0" y2="1601.5"><stop offset="0.000" stop-color="#0000ea"/><stop offset="0.043" stop-color="#0000d8"/><stop offset="0.093" stop-color="#0000ac"/><stop offset="0.161" stop-color="#0000a4"/><stop offset="1.000" stop-color="#00009e"/></linearGradient><linearGradient id="gc36" gradientUnits="userSpaceOnUse" x1="0" y1="1118.5" x2="0" y2="1601.5"><stop offset="0.000" stop-color="#0000eb"/><stop offset="0.043" stop-color="#0000d8"/><stop offset="0.093" stop-color="#0000ac"/><stop offset="0.155" stop-color="#0000a4"/><stop offset="0.975" stop-color="#00009e"/><stop offset="1.000" stop-color="#00009e"/></linearGradient><linearGradient id="gc37" gradientUnits="userSpaceOnUse" x1="0" y1="1118.5" x2="0" y2="1601.5"><stop offset="0.000" stop-color="#0000eb"/><stop offset="0.043" stop-color="#0000d8"/><stop offset="0.093" stop-color="#0000ac"/><stop offset="0.155" stop-color="#0000a4"/><stop offset="0.975" stop-color="#00009e"/><stop offset="1.000" stop-color="#00009e"/></linearGradient><linearGradient id="gc38" gradientUnits="userSpaceOnUse" x1="0" y1="1118.5" x2="0" y2="1601.5"><stop offset="0.000" stop-color="#0000eb"/><stop offset="0.043" stop-color="#0000d8"/><stop offset="0.093" stop-color="#0000ac"/><stop offset="0.161" stop-color="#0000a4"/><stop offset="1.000" stop-color="#00009e"/></linearGradient><linearGradient id="gc39" gradientUnits="userSpaceOnUse" x1="0" y1="1118.5" x2="0" y2="1601.5"><stop offset="0.000" stop-color="#0000ec"/><stop offset="0.043" stop-color="#0000d8"/><stop offset="0.093" stop-color="#0000ac"/><stop offset="0.161" stop-color="#0000a4"/><stop offset="1.000" stop-color="#00009e"/></linearGradient><linearGradient id="gc40" gradientUnits="userSpaceOnUse" x1="0" y1="1118.5" x2="0" y2="1601.5"><stop offset="0.000" stop-color="#0000ec"/><stop offset="0.043" stop-color="#0000d7"/><stop offset="0.093" stop-color="#0000ac"/><stop offset="0.155" stop-color="#0000a4"/><stop offset="0.975" stop-color="#00009e"/><stop offset="1.000" stop-color="#00009e"/></linearGradient><linearGradient id="gc41" gradientUnits="userSpaceOnUse" x1="0" y1="1118.5" x2="0" y2="1601.5"><stop offset="0.000" stop-color="#0000ec"/><stop offset="0.043" stop-color="#0000d8"/><stop offset="0.093" stop-color="#0000ac"/><stop offset="0.161" stop-color="#0000a4"/><stop offset="1.000" stop-color="#00009e"/></linearGradient><linearGradient id="gc42" gradientUnits="userSpaceOnUse" x1="0" y1="1118.5" x2="0" y2="1601.5"><stop offset="0.000" stop-color="#0000ec"/><stop offset="0.043" stop-color="#0000d7"/><stop offset="0.093" stop-color="#0000ac"/><stop offset="0.161" stop-color="#0000a4"/><stop offset="1.000" stop-color="#00009e"/></linearGradient><linearGradient id="gc43" gradientUnits="userSpaceOnUse" x1="0" y1="1118.5" x2="0" y2="1601.5"><stop offset="0.000" stop-color="#0000ec"/><stop offset="0.043" stop-color="#0000d7"/><stop offset="0.093" stop-color="#0000ac"/><stop offset="0.161" stop-color="#0000a4"/><stop offset="1.000" stop-color="#00009e"/></linearGradient><linearGradient id="gc44" gradientUnits="userSpaceOnUse" x1="0" y1="1118.5" x2="0" y2="1601.5"><stop offset="0.000" stop-color="#0000ec"/><stop offset="0.043" stop-color="#0000d8"/><stop offset="0.093" stop-color="#0000ac"/><stop offset="0.161" stop-color="#0000a4"/><stop offset="1.000" stop-color="#00009e"/></linearGradient><linearGradient id="gc45" gradientUnits="userSpaceOnUse" x1="0" y1="1118.5" x2="0" y2="1601.5"><stop offset="0.000" stop-color="#0000ed"/><stop offset="0.037" stop-color="#0000e0"/><stop offset="0.093" stop-color="#0000ac"/><stop offset="0.161" stop-color="#0000a4"/><stop offset="0.988" stop-color="#00009e"/><stop offset="1.000" stop-color="#00009e"/></linearGradient><linearGradient id="gc46" gradientUnits="userSpaceOnUse" x1="0" y1="1118.5" x2="0" y2="1601.5"><stop offset="0.000" stop-color="#0000ee"/><stop offset="0.037" stop-color="#0000e4"/><stop offset="0.087" stop-color="#0000b0"/><stop offset="0.130" stop-color="#0000a5"/><stop offset="0.963" stop-color="#00009e"/><stop offset="1.000" stop-color="#00009e"/></linearGradient><linearGradient id="gc47" gradientUnits="userSpaceOnUse" x1="0" y1="1118.5" x2="0" y2="1601.5"><stop offset="0.000" stop-color="#0000ee"/><stop offset="0.037" stop-color="#0000e4"/><stop offset="0.087" stop-color="#0000b0"/><stop offset="0.130" stop-color="#0000a5"/><stop offset="0.963" stop-color="#00009e"/><stop offset="1.000" stop-color="#00009e"/></linearGradient><linearGradient id="gc48" gradientUnits="userSpaceOnUse" x1="0" y1="1118.5" x2="0" y2="1601.5"><stop offset="0.000" stop-color="#0000ed"/><stop offset="0.037" stop-color="#0000e0"/><stop offset="0.093" stop-color="#0000ac"/><stop offset="0.161" stop-color="#0000a4"/><stop offset="0.981" stop-color="#00009e"/><stop offset="1.000" stop-color="#00009e"/></linearGradient><linearGradient id="gc49" gradientUnits="userSpaceOnUse" x1="0" y1="1118.5" x2="0" y2="1601.5"><stop offset="0.000" stop-color="#0000ec"/><stop offset="0.043" stop-color="#0000d8"/><stop offset="0.093" stop-color="#0000ac"/><stop offset="0.161" stop-color="#0000a4"/><stop offset="0.988" stop-color="#00009e"/><stop offset="1.000" stop-color="#00009e"/></linearGradient><linearGradient id="gc50" gradientUnits="userSpaceOnUse" x1="0" y1="1118.5" x2="0" y2="1601.5"><stop offset="0.000" stop-color="#0000ec"/><stop offset="0.043" stop-color="#0000d7"/><stop offset="0.093" stop-color="#0000ac"/><stop offset="0.161" stop-color="#0000a4"/><stop offset="1.000" stop-color="#00009e"/></linearGradient><linearGradient id="gc51" gradientUnits="userSpaceOnUse" x1="0" y1="1118.5" x2="0" y2="1601.5"><stop offset="0.000" stop-color="#0000ec"/><stop offset="0.043" stop-color="#0000d7"/><stop offset="0.093" stop-color="#0000ac"/><stop offset="0.161" stop-color="#0000a4"/><stop offset="0.981" stop-color="#00009e"/><stop offset="1.000" stop-color="#00009e"/></linearGradient><linearGradient id="gc52" gradientUnits="userSpaceOnUse" x1="0" y1="1118.5" x2="0" y2="1601.5"><stop offset="0.000" stop-color="#0000ec"/><stop offset="0.043" stop-color="#0000d8"/><stop offset="0.093" stop-color="#0000ac"/><stop offset="0.161" stop-color="#0000a4"/><stop offset="0.988" stop-color="#00009e"/><stop offset="1.000" stop-color="#00009e"/></linearGradient><linearGradient id="gc53" gradientUnits="userSpaceOnUse" x1="0" y1="1118.5" x2="0" y2="1601.5"><stop offset="0.000" stop-color="#0000ec"/><stop offset="0.043" stop-color="#0000d7"/><stop offset="0.093" stop-color="#0000ac"/><stop offset="0.155" stop-color="#0000a4"/><stop offset="0.963" stop-color="#00009e"/><stop offset="1.000" stop-color="#00009e"/></linearGradient><linearGradient id="gc54" gradientUnits="userSpaceOnUse" x1="0" y1="1118.5" x2="0" y2="1601.5"><stop offset="0.000" stop-color="#0000ec"/><stop offset="0.043" stop-color="#0000d8"/><stop offset="0.093" stop-color="#0000ac"/><stop offset="0.161" stop-color="#0000a4"/><stop offset="1.000" stop-color="#00009e"/></linearGradient><linearGradient id="gc55" gradientUnits="userSpaceOnUse" x1="0" y1="1118.5" x2="0" y2="1601.5"><stop offset="0.000" stop-color="#0000ec"/><stop offset="0.043" stop-color="#0000d8"/><stop offset="0.093" stop-color="#0000ac"/><stop offset="0.161" stop-color="#0000a4"/><stop offset="1.000" stop-color="#00009e"/></linearGradient><linearGradient id="gc56" gradientUnits="userSpaceOnUse" x1="0" y1="1118.5" x2="0" y2="1601.5"><stop offset="0.000" stop-color="#0000ec"/><stop offset="0.043" stop-color="#0000d8"/><stop offset="0.093" stop-color="#0000ac"/><stop offset="0.161" stop-color="#0000a4"/><stop offset="1.000" stop-color="#00009e"/></linearGradient><linearGradient id="gc57" gradientUnits="userSpaceOnUse" x1="0" y1="1118.5" x2="0" y2="1601.5"><stop offset="0.000" stop-color="#0000ec"/><stop offset="0.043" stop-color="#0000d8"/><stop offset="0.093" stop-color="#0000ac"/><stop offset="0.155" stop-color="#0000a4"/><stop offset="1.000" stop-color="#00009e"/></linearGradient><linearGradient id="gc58" gradientUnits="userSpaceOnUse" x1="0" y1="1118.5" x2="0" y2="1601.5"><stop offset="0.000" stop-color="#0000ec"/><stop offset="0.043" stop-color="#0000d8"/><stop offset="0.093" stop-color="#0000ac"/><stop offset="0.161" stop-color="#0000a4"/><stop offset="1.000" stop-color="#00009e"/></linearGradient><linearGradient id="gc59" gradientUnits="userSpaceOnUse" x1="0" y1="1118.5" x2="0" y2="1601.5"><stop offset="0.000" stop-color="#0000ec"/><stop offset="0.043" stop-color="#0000d8"/><stop offset="0.093" stop-color="#0000ac"/><stop offset="0.161" stop-color="#0000a4"/><stop offset="1.000" stop-color="#00009e"/></linearGradient><linearGradient id="gc60" gradientUnits="userSpaceOnUse" x1="0" y1="1118.5" x2="0" y2="1601.5"><stop offset="0.000" stop-color="#0000eb"/><stop offset="0.043" stop-color="#0000d8"/><stop offset="0.093" stop-color="#0000ac"/><stop offset="0.168" stop-color="#0000a4"/><stop offset="1.000" stop-color="#00009e"/></linearGradient><linearGradient id="gc61" gradientUnits="userSpaceOnUse" x1="0" y1="1118.5" x2="0" y2="1601.5"><stop offset="0.000" stop-color="#0000eb"/><stop offset="0.043" stop-color="#0000d8"/><stop offset="0.093" stop-color="#0000ac"/><stop offset="0.199" stop-color="#0000a3"/><stop offset="1.000" stop-color="#00009e"/></linearGradient><linearGradient id="gc62" gradientUnits="userSpaceOnUse" x1="0" y1="1118.5" x2="0" y2="1601.5"><stop offset="0.000" stop-color="#0000ea"/><stop offset="0.043" stop-color="#0000d7"/><stop offset="0.093" stop-color="#0000ad"/><stop offset="0.217" stop-color="#0000a3"/><stop offset="1.000" stop-color="#00009f"/></linearGradient><linearGradient id="gc63" gradientUnits="userSpaceOnUse" x1="0" y1="1118.5" x2="0" y2="1601.5"><stop offset="0.000" stop-color="#0000e9"/><stop offset="0.043" stop-color="#0000d7"/><stop offset="0.093" stop-color="#0000ae"/><stop offset="0.211" stop-color="#0000a3"/><stop offset="1.000" stop-color="#00009f"/></linearGradient><linearGradient id="gc64" gradientUnits="userSpaceOnUse" x1="0" y1="1118.5" x2="0" y2="1601.5"><stop offset="0.000" stop-color="#0000e9"/><stop offset="0.043" stop-color="#0000d7"/><stop offset="0.093" stop-color="#0000ae"/><stop offset="0.211" stop-color="#0000a3"/><stop offset="1.000" stop-color="#00009f"/></linearGradient><linearGradient id="gc65" gradientUnits="userSpaceOnUse" x1="0" y1="1118.5" x2="0" y2="1601.5"><stop offset="0.000" stop-color="#0000e9"/><stop offset="0.043" stop-color="#0000d7"/><stop offset="0.093" stop-color="#0000ae"/><stop offset="0.211" stop-color="#0000a3"/><stop offset="1.000" stop-color="#00009f"/></linearGradient><clipPath id="cpc"><polygon points="106,1127.2 755,1127.2 772.5,1133 810.5,1134.5 810.5,1505 772.5,1516.5 750,1517.5 715,1528 700,1528 680,1533.5 620,1533.5 351,1453.5 334,1447.5 334,1442.5 315,1436 315,1434 296.5,1427.5 296.5,1424 277.5,1417.5 277.5,1410 258,1404 258,1398.5 239,1392.5 239,1386.5 220,1380 220,1370 201,1363.5 201,1357.5 182.5,1351.5 182.5,1346 162.5,1339 162.5,1322.5 145,1316 145,1300 125,1292.5 125,1271 106,1264"/></clipPath><filter id="blc" filterUnits="userSpaceOnUse" x="66" y="1103.5" width="802.7" height="505"><feGaussianBlur stdDeviation="6.6 0"/></filter><linearGradient id="gd0" gradientUnits="userSpaceOnUse" x1="0" y1="38.5" x2="0" y2="521.5"><stop offset="0.000" stop-color="#ff9b00"/><stop offset="0.037" stop-color="#ff9000"/><stop offset="0.149" stop-color="#ff8300"/><stop offset="0.261" stop-color="#ff7600"/><stop offset="0.348" stop-color="#ff5d00"/><stop offset="0.472" stop-color="#ff4200"/><stop offset="0.677" stop-color="#ff0600"/><stop offset="0.783" stop-color="#f40000"/><stop offset="1.000" stop-color="#ea0000"/></linearGradient><linearGradient id="gd1" gradientUnits="userSpaceOnUse" x1="0" y1="38.5" x2="0" y2="521.5"><stop offset="0.000" stop-color="#ff9b00"/><stop offset="0.037" stop-color="#ff9000"/><stop offset="0.149" stop-color="#ff8300"/><stop offset="0.261" stop-color="#ff7600"/><stop offset="0.348" stop-color="#ff5c00"/><stop offset="0.472" stop-color="#ff4200"/><stop offset="0.677" stop-color="#ff0600"/><stop offset="0.789" stop-color="#f30000"/><stop offset="1.000" stop-color="#ea0000"/></linearGradient><linearGradient id="gd2" gradientUnits="userSpaceOnUse" x1="0" y1="38.5" x2="0" y2="521.5"><stop offset="0.000" stop-color="#ff9c00"/><stop offset="0.037" stop-color="#ff9100"/><stop offset="0.137" stop-color="#ff8400"/><stop offset="0.267" stop-color="#ff7000"/><stop offset="0.366" stop-color="#ff5700"/><stop offset="0.478" stop-color="#ff3f00"/><stop offset="0.683" stop-color="#ff0300"/><stop offset="0.932" stop-color="#eb0000"/><stop offset="1.000" stop-color="#ea0000"/></linearGradient><linearGradient id="gd3" gradientUnits="userSpaceOnUse" x1="0" y1="38.5" x2="0" y2="521.5"><stop offset="0.000" stop-color="#ff9e00"/><stop offset="0.037" stop-color="#ff9300"/><stop offset="0.112" stop-color="#ff8600"/><stop offset="0.211" stop-color="#ff6f00"/><stop offset="0.280" stop-color="#ff6200"/><stop offset="0.472" stop-color="#ff3d00"/><stop offset="0.677" stop-color="#ff0100"/><stop offset="0.894" stop-color="#ea0000"/><stop offset="1.000" stop-color="#e90000"/></linearGradient><linearGradient id="gd4" gradientUnits="userSpaceOnUse" x1="0" y1="38.5" x2="0" y2="521.5"><stop offset="0.000" stop-color="#ffa500"/><stop offset="0.043" stop-color="#ff9700"/><stop offset="0.106" stop-color="#ff8400"/><stop offset="0.193" stop-color="#ff6300"/><stop offset="0.404" stop-color="#ff4400"/><stop offset="0.503" stop-color="#ff2e00"/><stop offset="0.671" stop-color="#fe0000"/><stop offset="0.857" stop-color="#e90000"/><stop offset="1.000" stop-color="#e70000"/></linearGradient><linearGradient id="gd5" gradientUnits="userSpaceOnUse" x1="0" y1="38.5" x2="0" y2="521.5"><stop offset="0.000" stop-color="#ffaf00"/><stop offset="0.050" stop-color="#ff9d00"/><stop offset="0.106" stop-color="#ff8100"/><stop offset="0.180" stop-color="#ff5700"/><stop offset="0.385" stop-color="#ff3a00"/><stop offset="0.478" stop-color="#ff2f00"/><stop offset="0.652" stop-color="#fd0000"/><stop offset="0.832" stop-color="#e70000"/><stop offset="1.000" stop-color="#e60000"/></linearGradient><linearGradient id="gd6" gradientUnits="userSpaceOnUse" x1="0" y1="38.5" x2="0" y2="521.5"><stop offset="0.000" stop-color="#ffbd00"/><stop offset="0.087" stop-color="#ff8d00"/><stop offset="0.168" stop-color="#ff4c00"/><stop offset="0.242" stop-color="#ff3a00"/><stop offset="0.497" stop-color="#ff2300"/><stop offset="0.634" stop-color="#fc0000"/><stop offset="0.807" stop-color="#e60000"/><stop offset="1.000" stop-color="#e40000"/></linearGradient><linearGradient id="gd7" gradientUnits="userSpaceOnUse" x1="0" y1="38.5" x2="0" y2="521.5"><stop offset="0.000" stop-color="#ffce00"/><stop offset="0.081" stop-color="#ff9400"/><stop offset="0.161" stop-color="#ff4100"/><stop offset="0.211" stop-color="#ff2d00"/><stop offset="0.503" stop-color="#ff1900"/><stop offset="0.615" stop-color="#fb0000"/><stop offset="0.783" stop-color="#e40000"/><stop offset="1.000" stop-color="#e30000"/></linearGradient><linearGradient id="gd8" gradientUnits="userSpaceOnUse" x1="0" y1="38.5" x2="0" y2="521.5"><stop offset="0.000" stop-color="#ffe200"/><stop offset="0.081" stop-color="#ff9800"/><stop offset="0.161" stop-color="#ff3300"/><stop offset="0.205" stop-color="#ff1f00"/><stop offset="0.416" stop-color="#ff1400"/><stop offset="0.509" stop-color="#ff0e00"/><stop offset="0.596" stop-color="#fa0000"/><stop offset="0.770" stop-color="#e10000"/><stop offset="1.000" stop-color="#e10000"/></linearGradient><linearGradient id="gd9" gradientUnits="userSpaceOnUse" x1="0" y1="38.5" x2="0" y2="521.5"><stop offset="0.000" stop-color="#fff800"/><stop offset="0.050" stop-color="#ffc600"/><stop offset="0.099" stop-color="#ff8000"/><stop offset="0.155" stop-color="#ff2e00"/><stop offset="0.186" stop-color="#ff1700"/><stop offset="0.292" stop-color="#ff0800"/><stop offset="0.516" stop-color="#ff0300"/><stop offset="0.758" stop-color="#de0000"/><stop offset="1.000" stop-color="#e00000"/></linearGradient><linearGradient id="gd10" gradientUnits="userSpaceOnUse" x1="0" y1="38.5" x2="0" y2="521.5"><stop offset="0.000" stop-color="#f0ff0f"/><stop offset="0.019" stop-color="#feff01"/><stop offset="0.068" stop-color="#ffba00"/><stop offset="0.143" stop-color="#ff3700"/><stop offset="0.174" stop-color="#ff1400"/><stop offset="0.230" stop-color="#ff0100"/><stop offset="0.391" stop-color="#f90000"/><stop offset="0.534" stop-color="#f60000"/><stop offset="0.752" stop-color="#db0000"/><stop offset="1.000" stop-color="#df0000"/></linearGradient><linearGradient id="gd11" gradientUnits="userSpaceOnUse" x1="0" y1="38.5" x2="0" y2="521.5"><stop offset="0.000" stop-color="#dcff23"/><stop offset="0.025" stop-color="#f1ff0e"/><stop offset="0.037" stop-color="#fffa00"/><stop offset="0.081" stop-color="#ffab00"/><stop offset="0.130" stop-color="#ff4600"/><stop offset="0.168" stop-color="#ff1200"/><stop offset="0.199" stop-color="#fc0000"/><stop offset="0.298" stop-color="#ed0000"/><stop offset="0.540" stop-color="#ec0000"/><stop offset="0.770" stop-color="#d60000"/><stop offset="1.000" stop-color="#de0000"/></linearGradient><linearGradient id="gd12" gradientUnits="userSpaceOnUse" x1="0" y1="38.5" x2="0" y2="521.5"><stop offset="0.000" stop-color="#caff35"/><stop offset="0.025" stop-color="#dfff20"/><stop offset="0.043" stop-color="#feff01"/><stop offset="0.081" stop-color="#ffb200"/><stop offset="0.124" stop-color="#ff4f00"/><stop offset="0.161" stop-color="#ff1300"/><stop offset="0.180" stop-color="#ff0000"/><stop offset="0.230" stop-color="#e80000"/><stop offset="0.391" stop-color="#e20000"/><stop offset="0.565" stop-color="#e00000"/><stop offset="0.789" stop-color="#d30000"/><stop offset="1.000" stop-color="#dc0000"/></linearGradient><linearGradient id="gd13" gradientUnits="userSpaceOnUse" x1="0" y1="38.5" x2="0" y2="521.5"><stop offset="0.000" stop-color="#bcff43"/><stop offset="0.019" stop-color="#c9ff36"/><stop offset="0.050" stop-color="#ffff00"/><stop offset="0.087" stop-color="#ffa900"/><stop offset="0.118" stop-color="#ff5b00"/><stop offset="0.161" stop-color="#ff0e00"/><stop offset="0.174" stop-color="#fe0000"/><stop offset="0.211" stop-color="#e30000"/><stop offset="0.298" stop-color="#d70000"/><stop offset="0.609" stop-color="#d70000"/><stop offset="0.795" stop-color="#d00000"/><stop offset="1.000" stop-color="#db0000"/></linearGradient><linearGradient id="gd14" gradientUnits="userSpaceOnUse" x1="0" y1="38.5" x2="0" y2="521.5"><stop offset="0.000" stop-color="#b6ff49"/><stop offset="0.019" stop-color="#c4ff3b"/><stop offset="0.050" stop-color="#f9ff06"/><stop offset="0.062" stop-color="#ffec00"/><stop offset="0.093" stop-color="#ff9e00"/><stop offset="0.124" stop-color="#ff4f00"/><stop offset="0.168" stop-color="#ff0000"/><stop offset="0.199" stop-color="#df0000"/><stop offset="0.248" stop-color="#d00000"/><stop offset="0.658" stop-color="#cd0000"/><stop offset="0.913" stop-color="#d50000"/><stop offset="1.000" stop-color="#db0000"/></linearGradient><linearGradient id="gd15" gradientUnits="userSpaceOnUse" x1="0" y1="38.5" x2="0" y2="521.5"><stop offset="0.000" stop-color="#b9ff46"/><stop offset="0.025" stop-color="#d0ff2f"/><stop offset="0.050" stop-color="#fbff04"/><stop offset="0.075" stop-color="#ffd300"/><stop offset="0.124" stop-color="#ff5100"/><stop offset="0.161" stop-color="#ff0400"/><stop offset="0.199" stop-color="#d50000"/><stop offset="0.248" stop-color="#c70000"/><stop offset="0.801" stop-color="#cb0000"/><stop offset="1.000" stop-color="#da0000"/></linearGradient><linearGradient id="gd16" gradientUnits="userSpaceOnUse" x1="0" y1="38.5" x2="0" y2="521.5"><stop offset="0.000" stop-color="#c0ff3f"/><stop offset="0.025" stop-color="#d9ff26"/><stop offset="0.050" stop-color="#fffc00"/><stop offset="0.087" stop-color="#ffb400"/><stop offset="0.149" stop-color="#ff1900"/><stop offset="0.161" stop-color="#fd0000"/><stop offset="0.186" stop-color="#d60000"/><stop offset="0.224" stop-color="#c20000"/><stop offset="0.745" stop-color="#c50000"/><stop offset="1.000" stop-color="#d90000"/></linearGradient><linearGradient id="gd17" gradientUnits="userSpaceOnUse" x1="0" y1="38.5" x2="0" y2="521.5"><stop offset="0.000" stop-color="#caff35"/><stop offset="0.025" stop-color="#e5ff1a"/><stop offset="0.043" stop-color="#fffa00"/><stop offset="0.087" stop-color="#ffb000"/><stop offset="0.143" stop-color="#ff2500"/><stop offset="0.155" stop-color="#ff0600"/><stop offset="0.168" stop-color="#e90000"/><stop offset="0.186" stop-color="#cd0000"/><stop offset="0.224" stop-color="#bc0000"/><stop offset="0.727" stop-color="#c00000"/><stop offset="1.000" stop-color="#d80000"/></linearGradient><linearGradient id="gd18" gradientUnits="userSpaceOnUse" x1="0" y1="38.5" x2="0" y2="521.5"><stop offset="0.000" stop-color="#d7ff28"/><stop offset="0.025" stop-color="#f5ff0a"/><stop offset="0.031" stop-color="#ffff00"/><stop offset="0.099" stop-color="#ff9500"/><stop offset="0.130" stop-color="#ff4700"/><stop offset="0.155" stop-color="#ff0100"/><stop offset="0.180" stop-color="#cd0000"/><stop offset="0.205" stop-color="#ba0000"/><stop offset="0.335" stop-color="#b80000"/><stop offset="0.733" stop-color="#be0000"/><stop offset="1.000" stop-color="#d80000"/></linearGradient><linearGradient id="gd19" gradientUnits="userSpaceOnUse" x1="0" y1="38.5" x2="0" y2="521.5"><stop offset="0.000" stop-color="#e6ff19"/><stop offset="0.019" stop-color="#fdff02"/><stop offset="0.099" stop-color="#ff9600"/><stop offset="0.124" stop-color="#ff5b00"/><stop offset="0.149" stop-color="#ff0e00"/><stop offset="0.155" stop-color="#fb0000"/><stop offset="0.174" stop-color="#d00000"/><stop offset="0.199" stop-color="#b80000"/><stop offset="0.298" stop-color="#b40000"/><stop offset="0.733" stop-color="#bb0000"/><stop offset="1.000" stop-color="#d80000"/></linearGradient><linearGradient id="gd20" gradientUnits="userSpaceOnUse" x1="0" y1="38.5" x2="0" y2="521.5"><stop offset="0.000" stop-color="#f4ff0b"/><stop offset="0.012" stop-color="#fffa00"/><stop offset="0.043" stop-color="#ffd100"/><stop offset="0.093" stop-color="#ffa100"/><stop offset="0.112" stop-color="#ff8000"/><stop offset="0.137" stop-color="#ff3400"/><stop offset="0.149" stop-color="#ff0a00"/><stop offset="0.155" stop-color="#f60000"/><stop offset="0.174" stop-color="#cb0000"/><stop offset="0.199" stop-color="#b50000"/><stop offset="0.714" stop-color="#b70000"/><stop offset="1.000" stop-color="#d70000"/></linearGradient><linearGradient id="gd21" gradientUnits="userSpaceOnUse" x1="0" y1="38.5" x2="0" y2="521.5"><stop offset="0.000" stop-color="#fcff03"/><stop offset="0.037" stop-color="#ffcf00"/><stop offset="0.087" stop-color="#ffab00"/><stop offset="0.112" stop-color="#ff8400"/><stop offset="0.130" stop-color="#ff4b00"/><stop offset="0.149" stop-color="#ff0700"/><stop offset="0.161" stop-color="#e10000"/><stop offset="0.180" stop-color="#c00000"/><stop offset="0.205" stop-color="#b20000"/><stop offset="0.727" stop-color="#b60000"/><stop offset="1.000" stop-color="#d70000"/></linearGradient><linearGradient id="gd22" gradientUnits="userSpaceOnUse" x1="0" y1="38.5" x2="0" y2="521.5"><stop offset="0.000" stop-color="#faff05"/><stop offset="0.012" stop-color="#fff300"/><stop offset="0.037" stop-color="#ffd200"/><stop offset="0.087" stop-color="#ffb000"/><stop offset="0.112" stop-color="#ff8900"/><stop offset="0.130" stop-color="#ff4e00"/><stop offset="0.149" stop-color="#ff0700"/><stop offset="0.161" stop-color="#e10000"/><stop offset="0.180" stop-color="#bf0000"/><stop offset="0.205" stop-color="#b20000"/><stop offset="0.727" stop-color="#b50000"/><stop offset="1.000" stop-color="#d70000"/></linearGradient><linearGradient id="gd23" gradientUnits="userSpaceOnUse" x1="0" y1="38.5" x2="0" y2="521.5"><stop offset="0.000" stop-color="#f0ff0f"/><stop offset="0.012" stop-color="#ffff00"/><stop offset="0.043" stop-color="#ffd900"/><stop offset="0.093" stop-color="#ffaf00"/><stop offset="0.112" stop-color="#ff8e00"/><stop offset="0.130" stop-color="#ff5200"/><stop offset="0.149" stop-color="#ff0900"/><stop offset="0.155" stop-color="#f30000"/><stop offset="0.174" stop-color="#c70000"/><stop offset="0.193" stop-color="#b50000"/><stop offset="0.727" stop-color="#b50000"/><stop offset="1.000" stop-color="#d80000"/></linearGradient><linearGradient id="gd24" gradientUnits="userSpaceOnUse" x1="0" y1="38.5" x2="0" y2="521.5"><stop offset="0.000" stop-color="#e1ff1e"/><stop offset="0.025" stop-color="#ffff00"/><stop offset="0.093" stop-color="#ffb700"/><stop offset="0.112" stop-color="#ff9400"/><stop offset="0.130" stop-color="#ff5700"/><stop offset="0.149" stop-color="#ff0c00"/><stop offset="0.155" stop-color="#f50000"/><stop offset="0.174" stop-color="#c80000"/><stop offset="0.193" stop-color="#b60000"/><stop offset="0.317" stop-color="#b30000"/><stop offset="0.745" stop-color="#b60000"/><stop offset="1.000" stop-color="#d80000"/></linearGradient><linearGradient id="gd25" gradientUnits="userSpaceOnUse" x1="0" y1="38.5" x2="0" y2="521.5"><stop offset="0.000" stop-color="#d0ff2f"/><stop offset="0.043" stop-color="#fffc00"/><stop offset="0.093" stop-color="#ffc000"/><stop offset="0.112" stop-color="#ff9a00"/><stop offset="0.130" stop-color="#ff5c00"/><stop offset="0.149" stop-color="#ff0f00"/><stop offset="0.155" stop-color="#f80000"/><stop offset="0.174" stop-color="#ca0000"/><stop offset="0.193" stop-color="#b70000"/><stop offset="0.248" stop-color="#b30000"/><stop offset="0.758" stop-color="#b70000"/><stop offset="1.000" stop-color="#d80000"/></linearGradient><linearGradient id="gd26" gradientUnits="userSpaceOnUse" x1="0" y1="38.5" x2="0" y2="521.5"><stop offset="0.000" stop-color="#bfff40"/><stop offset="0.056" stop-color="#ffff00"/><stop offset="0.093" stop-color="#ffc900"/><stop offset="0.112" stop-color="#ffa100"/><stop offset="0.130" stop-color="#ff6100"/><stop offset="0.149" stop-color="#ff1300"/><stop offset="0.155" stop-color="#fc0000"/><stop offset="0.174" stop-color="#ce0000"/><stop offset="0.193" stop-color="#b90000"/><stop offset="0.242" stop-color="#b40000"/><stop offset="0.627" stop-color="#b50000"/><stop offset="0.776" stop-color="#bb0000"/><stop offset="1.000" stop-color="#d90000"/></linearGradient><linearGradient id="gd27" gradientUnits="userSpaceOnUse" x1="0" y1="38.5" x2="0" y2="521.5"><stop offset="0.000" stop-color="#aeff51"/><stop offset="0.043" stop-color="#deff21"/><stop offset="0.068" stop-color="#fffd00"/><stop offset="0.099" stop-color="#ffc600"/><stop offset="0.118" stop-color="#ff9500"/><stop offset="0.155" stop-color="#ff0200"/><stop offset="0.174" stop-color="#d20000"/><stop offset="0.193" stop-color="#bd0000"/><stop offset="0.242" stop-color="#b70000"/><stop offset="0.627" stop-color="#b80000"/><stop offset="0.770" stop-color="#bb0000"/><stop offset="0.994" stop-color="#d90000"/><stop offset="1.000" stop-color="#da0000"/></linearGradient><linearGradient id="gd28" gradientUnits="userSpaceOnUse" x1="0" y1="38.5" x2="0" y2="521.5"><stop offset="0.000" stop-color="#9fff60"/><stop offset="0.037" stop-color="#c5ff3a"/><stop offset="0.075" stop-color="#fcff03"/><stop offset="0.099" stop-color="#ffcf00"/><stop offset="0.118" stop-color="#ff9a00"/><stop offset="0.155" stop-color="#ff0800"/><stop offset="0.168" stop-color="#e40000"/><stop offset="0.186" stop-color="#c60000"/><stop offset="0.224" stop-color="#bb0000"/><stop offset="0.509" stop-color="#be0000"/><stop offset="0.770" stop-color="#bd0000"/><stop offset="0.994" stop-color="#da0000"/><stop offset="1.000" stop-color="#da0000"/></linearGradient><linearGradient id="gd29" gradientUnits="userSpaceOnUse" x1="0" y1="38.5" x2="0" y2="521.5"><stop offset="0.000" stop-color="#93ff6c"/><stop offset="0.043" stop-color="#bdff42"/><stop offset="0.075" stop-color="#eeff11"/><stop offset="0.081" stop-color="#fbff04"/><stop offset="0.093" stop-color="#ffe700"/><stop offset="0.118" stop-color="#ff9e00"/><stop offset="0.155" stop-color="#ff0e00"/><stop offset="0.161" stop-color="#fa0000"/><stop offset="0.180" stop-color="#d30000"/><stop offset="0.205" stop-color="#c30000"/><stop offset="0.478" stop-color="#c10000"/><stop offset="0.770" stop-color="#c00000"/><stop offset="1.000" stop-color="#db0000"/></linearGradient><linearGradient id="gd30" gradientUnits="userSpaceOnUse" x1="0" y1="38.5" x2="0" y2="521.5"><stop offset="0.000" stop-color="#88ff77"/><stop offset="0.050" stop-color="#b3ff4c"/><stop offset="0.075" stop-color="#deff21"/><stop offset="0.087" stop-color="#fcff03"/><stop offset="0.106" stop-color="#ffcc00"/><stop offset="0.137" stop-color="#ff5a00"/><stop offset="0.155" stop-color="#ff1400"/><stop offset="0.161" stop-color="#ff0100"/><stop offset="0.180" stop-color="#db0000"/><stop offset="0.205" stop-color="#ca0000"/><stop offset="0.491" stop-color="#c60000"/><stop offset="0.783" stop-color="#c60000"/><stop offset="1.000" stop-color="#dd0000"/></linearGradient><linearGradient id="gd31" gradientUnits="userSpaceOnUse" x1="0" y1="38.5" x2="0" y2="521.5"><stop offset="0.000" stop-color="#79ff86"/><stop offset="0.050" stop-color="#9fff60"/><stop offset="0.075" stop-color="#ccff33"/><stop offset="0.093" stop-color="#fffd00"/><stop offset="0.130" stop-color="#ff7600"/><stop offset="0.155" stop-color="#ff1800"/><stop offset="0.161" stop-color="#ff0600"/><stop offset="0.174" stop-color="#eb0000"/><stop offset="0.199" stop-color="#d20000"/><stop offset="0.298" stop-color="#ca0000"/><stop offset="0.801" stop-color="#cc0000"/><stop offset="1.000" stop-color="#de0000"/></linearGradient><linearGradient id="gd32" gradientUnits="userSpaceOnUse" x1="0" y1="38.5" x2="0" y2="521.5"><stop offset="0.000" stop-color="#64ff9b"/><stop offset="0.050" stop-color="#88ff77"/><stop offset="0.068" stop-color="#a7ff58"/><stop offset="0.087" stop-color="#dcff23"/><stop offset="0.093" stop-color="#f2ff0d"/><stop offset="0.099" stop-color="#fff500"/><stop offset="0.149" stop-color="#ff2e00"/><stop offset="0.161" stop-color="#ff0900"/><stop offset="0.168" stop-color="#fb0000"/><stop offset="0.193" stop-color="#db0000"/><stop offset="0.242" stop-color="#ce0000"/><stop offset="0.826" stop-color="#d20000"/><stop offset="1.000" stop-color="#df0000"/></linearGradient><linearGradient id="gd33" gradientUnits="userSpaceOnUse" x1="0" y1="38.5" x2="0" y2="521.5"><stop offset="0.000" stop-color="#4cffb3"/><stop offset="0.043" stop-color="#69ff96"/><stop offset="0.068" stop-color="#8fff70"/><stop offset="0.087" stop-color="#c7ff38"/><stop offset="0.099" stop-color="#faff05"/><stop offset="0.118" stop-color="#ffaf00"/><stop offset="0.143" stop-color="#ff4400"/><stop offset="0.161" stop-color="#ff0c00"/><stop offset="0.168" stop-color="#fe0000"/><stop offset="0.193" stop-color="#df0000"/><stop offset="0.236" stop-color="#d00000"/><stop offset="0.863" stop-color="#d80000"/><stop offset="1.000" stop-color="#e00000"/></linearGradient><linearGradient id="gd34" gradientUnits="userSpaceOnUse" x1="0" y1="38.5" x2="0" y2="521.5"><stop offset="0.000" stop-color="#35ffca"/><stop offset="0.037" stop-color="#4dffb2"/><stop offset="0.062" stop-color="#6cff93"/><stop offset="0.081" stop-color="#9aff65"/><stop offset="0.099" stop-color="#e9ff16"/><stop offset="0.106" stop-color="#fff600"/><stop offset="0.130" stop-color="#ff7700"/><stop offset="0.149" stop-color="#ff2f00"/><stop offset="0.168" stop-color="#ff0300"/><stop offset="0.199" stop-color="#df0000"/><stop offset="0.248" stop-color="#d10000"/><stop offset="0.379" stop-color="#d50000"/><stop offset="0.913" stop-color="#dd0000"/><stop offset="1.000" stop-color="#e20000"/></linearGradient><linearGradient id="gd35" gradientUnits="userSpaceOnUse" x1="0" y1="38.5" x2="0" y2="521.5"><stop offset="0.000" stop-color="#24ffdb"/><stop offset="0.031" stop-color="#34ffcb"/><stop offset="0.062" stop-color="#5affa5"/><stop offset="0.081" stop-color="#87ff78"/><stop offset="0.093" stop-color="#b9ff46"/><stop offset="0.106" stop-color="#f9ff06"/><stop offset="0.118" stop-color="#ffbf00"/><stop offset="0.137" stop-color="#ff5f00"/><stop offset="0.155" stop-color="#ff2100"/><stop offset="0.174" stop-color="#fe0000"/><stop offset="0.211" stop-color="#de0000"/><stop offset="0.261" stop-color="#d20000"/><stop offset="0.366" stop-color="#d90000"/><stop offset="0.913" stop-color="#de0000"/><stop offset="1.000" stop-color="#e30000"/></linearGradient><linearGradient id="gd36" gradientUnits="userSpaceOnUse" x1="0" y1="38.5" x2="0" y2="521.5"><stop offset="0.000" stop-color="#16ffe9"/><stop offset="0.037" stop-color="#2affd5"/><stop offset="0.062" stop-color="#4bffb4"/><stop offset="0.081" stop-color="#79ff86"/><stop offset="0.099" stop-color="#c8ff37"/><stop offset="0.106" stop-color="#e8ff17"/><stop offset="0.112" stop-color="#fff300"/><stop offset="0.130" stop-color="#ff8a00"/><stop offset="0.143" stop-color="#ff5300"/><stop offset="0.161" stop-color="#ff1e00"/><stop offset="0.180" stop-color="#ff0200"/><stop offset="0.230" stop-color="#da0000"/><stop offset="0.286" stop-color="#d60000"/><stop offset="0.373" stop-color="#db0000"/><stop offset="0.944" stop-color="#e20000"/><stop offset="1.000" stop-color="#e50000"/></linearGradient><linearGradient id="gd37" gradientUnits="userSpaceOnUse" x1="0" y1="38.5" x2="0" y2="521.5"><stop offset="0.000" stop-color="#0bfff4"/><stop offset="0.037" stop-color="#1fffe0"/><stop offset="0.062" stop-color="#40ffbf"/><stop offset="0.081" stop-color="#6eff91"/><stop offset="0.099" stop-color="#b6ff49"/><stop offset="0.112" stop-color="#f2ff0d"/><stop offset="0.118" stop-color="#ffec00"/><stop offset="0.143" stop-color="#ff7200"/><stop offset="0.161" stop-color="#ff3600"/><stop offset="0.186" stop-color="#ff0b00"/><stop offset="0.199" stop-color="#fa0000"/><stop offset="0.236" stop-color="#db0000"/><stop offset="0.286" stop-color="#d80000"/><stop offset="0.366" stop-color="#df0000"/><stop offset="0.901" stop-color="#e20000"/><stop offset="1.000" stop-color="#e70000"/></linearGradient><linearGradient id="gd38" gradientUnits="userSpaceOnUse" x1="0" y1="38.5" x2="0" y2="521.5"><stop offset="0.000" stop-color="#04fffb"/><stop offset="0.037" stop-color="#16ffe9"/><stop offset="0.062" stop-color="#36ffc9"/><stop offset="0.081" stop-color="#61ff9e"/><stop offset="0.099" stop-color="#a1ff5e"/><stop offset="0.118" stop-color="#f0ff0f"/><stop offset="0.124" stop-color="#fff200"/><stop offset="0.149" stop-color="#ff8400"/><stop offset="0.168" stop-color="#ff4900"/><stop offset="0.205" stop-color="#fe0000"/><stop offset="0.230" stop-color="#e20000"/><stop offset="0.267" stop-color="#d80000"/><stop offset="0.360" stop-color="#e10000"/><stop offset="0.584" stop-color="#e20000"/><stop offset="1.000" stop-color="#e90000"/></linearGradient><linearGradient id="gd39" gradientUnits="userSpaceOnUse" x1="0" y1="38.5" x2="0" y2="521.5"><stop offset="0.000" stop-color="#00ffff"/><stop offset="0.043" stop-color="#15ffea"/><stop offset="0.068" stop-color="#38ffc7"/><stop offset="0.093" stop-color="#77ff88"/><stop offset="0.124" stop-color="#eaff15"/><stop offset="0.130" stop-color="#fffa00"/><stop offset="0.155" stop-color="#ff9600"/><stop offset="0.193" stop-color="#ff2900"/><stop offset="0.211" stop-color="#fc0000"/><stop offset="0.236" stop-color="#e10000"/><stop offset="0.280" stop-color="#dc0000"/><stop offset="0.366" stop-color="#e30000"/><stop offset="0.590" stop-color="#e50000"/><stop offset="1.000" stop-color="#ea0000"/></linearGradient><linearGradient id="gd40" gradientUnits="userSpaceOnUse" x1="0" y1="38.5" x2="0" y2="521.5"><stop offset="0.000" stop-color="#00fdff"/><stop offset="0.043" stop-color="#10ffef"/><stop offset="0.068" stop-color="#2effd1"/><stop offset="0.093" stop-color="#67ff98"/><stop offset="0.124" stop-color="#cfff30"/><stop offset="0.137" stop-color="#feff01"/><stop offset="0.168" stop-color="#ff8f00"/><stop offset="0.205" stop-color="#ff1200"/><stop offset="0.211" stop-color="#ff0300"/><stop offset="0.236" stop-color="#e30000"/><stop offset="0.273" stop-color="#de0000"/><stop offset="0.373" stop-color="#e40000"/><stop offset="0.975" stop-color="#eb0000"/><stop offset="1.000" stop-color="#ec0000"/></linearGradient><linearGradient id="gd41" gradientUnits="userSpaceOnUse" x1="0" y1="38.5" x2="0" y2="521.5"><stop offset="0.000" stop-color="#00fdff"/><stop offset="0.050" stop-color="#11ffee"/><stop offset="0.075" stop-color="#30ffcf"/><stop offset="0.099" stop-color="#6aff95"/><stop offset="0.137" stop-color="#dfff20"/><stop offset="0.143" stop-color="#f6ff09"/><stop offset="0.149" stop-color="#fff000"/><stop offset="0.186" stop-color="#ff6a00"/><stop offset="0.205" stop-color="#ff1a00"/><stop offset="0.211" stop-color="#ff0700"/><stop offset="0.224" stop-color="#f00000"/><stop offset="0.248" stop-color="#e00000"/><stop offset="0.391" stop-color="#e50000"/><stop offset="0.832" stop-color="#e90000"/><stop offset="1.000" stop-color="#ee0000"/></linearGradient><linearGradient id="gd42" gradientUnits="userSpaceOnUse" x1="0" y1="38.5" x2="0" y2="521.5"><stop offset="0.000" stop-color="#00feff"/><stop offset="0.056" stop-color="#13ffec"/><stop offset="0.081" stop-color="#32ffcd"/><stop offset="0.118" stop-color="#8cff73"/><stop offset="0.143" stop-color="#d3ff2c"/><stop offset="0.155" stop-color="#fffb00"/><stop offset="0.186" stop-color="#ff7900"/><stop offset="0.205" stop-color="#ff2000"/><stop offset="0.211" stop-color="#ff0c00"/><stop offset="0.217" stop-color="#fc0000"/><stop offset="0.236" stop-color="#e70000"/><stop offset="0.280" stop-color="#e60000"/><stop offset="0.814" stop-color="#ec0000"/><stop offset="1.000" stop-color="#f10000"/></linearGradient><linearGradient id="gd43" gradientUnits="userSpaceOnUse" x1="0" y1="38.5" x2="0" y2="521.5"><stop offset="0.000" stop-color="#00ffff"/><stop offset="0.062" stop-color="#14ffeb"/><stop offset="0.087" stop-color="#34ffcb"/><stop offset="0.143" stop-color="#adff52"/><stop offset="0.155" stop-color="#dfff20"/><stop offset="0.161" stop-color="#fcff03"/><stop offset="0.193" stop-color="#ff6400"/><stop offset="0.205" stop-color="#ff2700"/><stop offset="0.217" stop-color="#ff0100"/><stop offset="0.236" stop-color="#ea0000"/><stop offset="0.292" stop-color="#eb0000"/><stop offset="0.559" stop-color="#ee0000"/><stop offset="1.000" stop-color="#f30000"/></linearGradient><linearGradient id="gd44" gradientUnits="userSpaceOnUse" x1="0" y1="38.5" x2="0" y2="521.5"><stop offset="0.000" stop-color="#00fdff"/><stop offset="0.062" stop-color="#12ffed"/><stop offset="0.093" stop-color="#38ffc7"/><stop offset="0.137" stop-color="#81ff7e"/><stop offset="0.149" stop-color="#a7ff58"/><stop offset="0.161" stop-color="#e4ff1b"/><stop offset="0.168" stop-color="#fff700"/><stop offset="0.199" stop-color="#ff4900"/><stop offset="0.211" stop-color="#ff1500"/><stop offset="0.217" stop-color="#ff0500"/><stop offset="0.242" stop-color="#ec0000"/><stop offset="0.547" stop-color="#f20000"/><stop offset="1.000" stop-color="#f50000"/></linearGradient><linearGradient id="gd45" gradientUnits="userSpaceOnUse" x1="0" y1="38.5" x2="0" y2="521.5"><stop offset="0.000" stop-color="#00faff"/><stop offset="0.050" stop-color="#0bfff4"/><stop offset="0.081" stop-color="#25ffda"/><stop offset="0.137" stop-color="#7bff84"/><stop offset="0.149" stop-color="#a1ff5e"/><stop offset="0.168" stop-color="#fffe00"/><stop offset="0.199" stop-color="#ff4b00"/><stop offset="0.211" stop-color="#ff1800"/><stop offset="0.224" stop-color="#fc0000"/><stop offset="0.242" stop-color="#ef0000"/><stop offset="0.329" stop-color="#f00000"/><stop offset="0.522" stop-color="#f40000"/><stop offset="1.000" stop-color="#f70000"/></linearGradient><linearGradient id="gd46" gradientUnits="userSpaceOnUse" x1="0" y1="38.5" x2="0" y2="521.5"><stop offset="0.000" stop-color="#00f6ff"/><stop offset="0.037" stop-color="#05fffa"/><stop offset="0.075" stop-color="#21ffde"/><stop offset="0.118" stop-color="#63ff9c"/><stop offset="0.137" stop-color="#88ff77"/><stop offset="0.149" stop-color="#afff50"/><stop offset="0.161" stop-color="#e7ff18"/><stop offset="0.168" stop-color="#fff700"/><stop offset="0.199" stop-color="#ff4b00"/><stop offset="0.211" stop-color="#ff1900"/><stop offset="0.224" stop-color="#ff0000"/><stop offset="0.242" stop-color="#f30000"/><stop offset="0.317" stop-color="#f30000"/><stop offset="0.491" stop-color="#f40000"/><stop offset="0.783" stop-color="#f80000"/><stop offset="1.000" stop-color="#fa0000"/></linearGradient><linearGradient id="gd47" gradientUnits="userSpaceOnUse" x1="0" y1="38.5" x2="0" y2="521.5"><stop offset="0.000" stop-color="#00f4ff"/><stop offset="0.037" stop-color="#04fffb"/><stop offset="0.075" stop-color="#25ffda"/><stop offset="0.112" stop-color="#67ff98"/><stop offset="0.137" stop-color="#a0ff5f"/><stop offset="0.155" stop-color="#e1ff1e"/><stop offset="0.161" stop-color="#fcff03"/><stop offset="0.180" stop-color="#ffa600"/><stop offset="0.199" stop-color="#ff4700"/><stop offset="0.211" stop-color="#ff1a00"/><stop offset="0.224" stop-color="#ff0300"/><stop offset="0.255" stop-color="#f70000"/><stop offset="0.342" stop-color="#f40000"/><stop offset="0.528" stop-color="#fb0000"/><stop offset="1.000" stop-color="#fc0000"/></linearGradient><linearGradient id="gd48" gradientUnits="userSpaceOnUse" x1="0" y1="38.5" x2="0" y2="521.5"><stop offset="0.000" stop-color="#00f2ff"/><stop offset="0.037" stop-color="#03fffc"/><stop offset="0.068" stop-color="#21ffde"/><stop offset="0.099" stop-color="#59ffa6"/><stop offset="0.137" stop-color="#baff45"/><stop offset="0.155" stop-color="#fcff03"/><stop offset="0.180" stop-color="#ff9400"/><stop offset="0.199" stop-color="#ff4100"/><stop offset="0.211" stop-color="#ff1a00"/><stop offset="0.230" stop-color="#ff0000"/><stop offset="0.267" stop-color="#fc0000"/><stop offset="0.460" stop-color="#f80000"/><stop offset="0.646" stop-color="#fe0000"/><stop offset="1.000" stop-color="#ff0000"/></linearGradient><linearGradient id="gd49" gradientUnits="userSpaceOnUse" x1="0" y1="38.5" x2="0" y2="521.5"><stop offset="0.000" stop-color="#00f1ff"/><stop offset="0.037" stop-color="#02fffd"/><stop offset="0.068" stop-color="#22ffdd"/><stop offset="0.099" stop-color="#63ff9c"/><stop offset="0.137" stop-color="#d0ff2f"/><stop offset="0.149" stop-color="#fdff02"/><stop offset="0.199" stop-color="#ff3c00"/><stop offset="0.217" stop-color="#ff1100"/><stop offset="0.242" stop-color="#ff0000"/><stop offset="0.466" stop-color="#fb0000"/><stop offset="1.000" stop-color="#ff0200"/></linearGradient><linearGradient id="gd50" gradientUnits="userSpaceOnUse" x1="0" y1="38.5" x2="0" y2="521.5"><stop offset="0.000" stop-color="#00f0ff"/><stop offset="0.043" stop-color="#05fffa"/><stop offset="0.068" stop-color="#22ffdd"/><stop offset="0.093" stop-color="#5affa5"/><stop offset="0.130" stop-color="#cdff32"/><stop offset="0.143" stop-color="#f9ff06"/><stop offset="0.155" stop-color="#ffd400"/><stop offset="0.186" stop-color="#ff5f00"/><stop offset="0.205" stop-color="#ff2900"/><stop offset="0.224" stop-color="#ff0f00"/><stop offset="0.261" stop-color="#ff0300"/><stop offset="0.534" stop-color="#ff0400"/><stop offset="1.000" stop-color="#ff0500"/></linearGradient><linearGradient id="gd51" gradientUnits="userSpaceOnUse" x1="0" y1="38.5" x2="0" y2="521.5"><stop offset="0.000" stop-color="#00f0ff"/><stop offset="0.043" stop-color="#03fffc"/><stop offset="0.062" stop-color="#15ffea"/><stop offset="0.081" stop-color="#3cffc3"/><stop offset="0.118" stop-color="#aeff51"/><stop offset="0.137" stop-color="#f0ff0f"/><stop offset="0.143" stop-color="#fff500"/><stop offset="0.174" stop-color="#ff7a00"/><stop offset="0.199" stop-color="#ff3700"/><stop offset="0.217" stop-color="#ff1a00"/><stop offset="0.255" stop-color="#ff0a00"/><stop offset="0.447" stop-color="#ff0200"/><stop offset="0.944" stop-color="#ff0800"/><stop offset="1.000" stop-color="#ff0700"/></linearGradient><linearGradient id="gd52" gradientUnits="userSpaceOnUse" x1="0" y1="38.5" x2="0" y2="521.5"><stop offset="0.000" stop-color="#00efff"/><stop offset="0.043" stop-color="#01fffe"/><stop offset="0.062" stop-color="#14ffeb"/><stop offset="0.081" stop-color="#3cffc3"/><stop offset="0.124" stop-color="#c8ff37"/><stop offset="0.137" stop-color="#f8ff07"/><stop offset="0.149" stop-color="#ffd200"/><stop offset="0.168" stop-color="#ff8700"/><stop offset="0.186" stop-color="#ff5300"/><stop offset="0.211" stop-color="#ff2a00"/><stop offset="0.255" stop-color="#ff1200"/><stop offset="0.404" stop-color="#ff0600"/><stop offset="0.988" stop-color="#ff0a00"/><stop offset="1.000" stop-color="#ff0a00"/></linearGradient><linearGradient id="gd53" gradientUnits="userSpaceOnUse" x1="0" y1="38.5" x2="0" y2="521.5"><stop offset="0.000" stop-color="#00edff"/><stop offset="0.043" stop-color="#00ffff"/><stop offset="0.068" stop-color="#1effe1"/><stop offset="0.093" stop-color="#5dffa2"/><stop offset="0.124" stop-color="#c3ff3c"/><stop offset="0.137" stop-color="#f4ff0b"/><stop offset="0.143" stop-color="#fff000"/><stop offset="0.168" stop-color="#ff8d00"/><stop offset="0.186" stop-color="#ff5e00"/><stop offset="0.211" stop-color="#ff3a00"/><stop offset="0.255" stop-color="#ff1d00"/><stop offset="0.379" stop-color="#ff0a00"/><stop offset="1.000" stop-color="#ff0c00"/></linearGradient><linearGradient id="gd54" gradientUnits="userSpaceOnUse" x1="0" y1="38.5" x2="0" y2="521.5"><stop offset="0.000" stop-color="#00eaff"/><stop offset="0.050" stop-color="#04fffb"/><stop offset="0.075" stop-color="#25ffda"/><stop offset="0.099" stop-color="#62ff9d"/><stop offset="0.124" stop-color="#b2ff4d"/><stop offset="0.143" stop-color="#fcff03"/><stop offset="0.168" stop-color="#ffa500"/><stop offset="0.186" stop-color="#ff7600"/><stop offset="0.217" stop-color="#ff4900"/><stop offset="0.261" stop-color="#ff2500"/><stop offset="0.366" stop-color="#ff0f00"/><stop offset="1.000" stop-color="#ff0f00"/></linearGradient><linearGradient id="gd55" gradientUnits="userSpaceOnUse" x1="0" y1="38.5" x2="0" y2="521.5"><stop offset="0.000" stop-color="#00e9ff"/><stop offset="0.050" stop-color="#01fffe"/><stop offset="0.081" stop-color="#27ffd8"/><stop offset="0.106" stop-color="#5fffa0"/><stop offset="0.137" stop-color="#c8ff37"/><stop offset="0.149" stop-color="#f6ff09"/><stop offset="0.155" stop-color="#fff100"/><stop offset="0.180" stop-color="#ffa500"/><stop offset="0.211" stop-color="#ff6b00"/><stop offset="0.248" stop-color="#ff3c00"/><stop offset="0.292" stop-color="#ff2400"/><stop offset="0.373" stop-color="#ff1500"/><stop offset="1.000" stop-color="#ff1200"/></linearGradient><linearGradient id="gd56" gradientUnits="userSpaceOnUse" x1="0" y1="38.5" x2="0" y2="521.5"><stop offset="0.000" stop-color="#00e8ff"/><stop offset="0.056" stop-color="#02fffd"/><stop offset="0.087" stop-color="#23ffdc"/><stop offset="0.106" stop-color="#4affb5"/><stop offset="0.143" stop-color="#bfff40"/><stop offset="0.161" stop-color="#feff01"/><stop offset="0.186" stop-color="#ffbb00"/><stop offset="0.236" stop-color="#ff5d00"/><stop offset="0.267" stop-color="#ff3b00"/><stop offset="0.354" stop-color="#ff1b00"/><stop offset="1.000" stop-color="#ff1400"/></linearGradient><linearGradient id="gd57" gradientUnits="userSpaceOnUse" x1="0" y1="38.5" x2="0" y2="521.5"><stop offset="0.000" stop-color="#00e8ff"/><stop offset="0.062" stop-color="#01fffe"/><stop offset="0.093" stop-color="#21ffde"/><stop offset="0.118" stop-color="#59ffa6"/><stop offset="0.174" stop-color="#fffe00"/><stop offset="0.230" stop-color="#ff7d00"/><stop offset="0.255" stop-color="#ff5500"/><stop offset="0.298" stop-color="#ff3800"/><stop offset="0.373" stop-color="#ff2100"/><stop offset="0.975" stop-color="#ff1800"/><stop offset="1.000" stop-color="#ff1700"/></linearGradient><linearGradient id="gd58" gradientUnits="userSpaceOnUse" x1="0" y1="38.5" x2="0" y2="521.5"><stop offset="0.000" stop-color="#00e8ff"/><stop offset="0.068" stop-color="#01fffe"/><stop offset="0.093" stop-color="#19ffe6"/><stop offset="0.124" stop-color="#58ffa7"/><stop offset="0.161" stop-color="#bcff43"/><stop offset="0.186" stop-color="#fffc00"/><stop offset="0.242" stop-color="#ff7700"/><stop offset="0.267" stop-color="#ff5700"/><stop offset="0.360" stop-color="#ff2b00"/><stop offset="0.602" stop-color="#ff2300"/><stop offset="0.882" stop-color="#ff1e00"/><stop offset="1.000" stop-color="#ff1a00"/></linearGradient><linearGradient id="gd59" gradientUnits="userSpaceOnUse" x1="0" y1="38.5" x2="0" y2="521.5"><stop offset="0.000" stop-color="#00e9ff"/><stop offset="0.075" stop-color="#03fffc"/><stop offset="0.099" stop-color="#1fffe0"/><stop offset="0.149" stop-color="#84ff7b"/><stop offset="0.193" stop-color="#faff05"/><stop offset="0.217" stop-color="#ffc700"/><stop offset="0.248" stop-color="#ff7d00"/><stop offset="0.273" stop-color="#ff6100"/><stop offset="0.366" stop-color="#ff3400"/><stop offset="0.578" stop-color="#ff2800"/><stop offset="0.820" stop-color="#ff2600"/><stop offset="1.000" stop-color="#ff1d00"/></linearGradient><linearGradient id="gd60" gradientUnits="userSpaceOnUse" x1="0" y1="38.5" x2="0" y2="521.5"><stop offset="0.000" stop-color="#00e9ff"/><stop offset="0.075" stop-color="#03fffc"/><stop offset="0.106" stop-color="#28ffd7"/><stop offset="0.149" stop-color="#7aff85"/><stop offset="0.199" stop-color="#fbff04"/><stop offset="0.248" stop-color="#ff8c00"/><stop offset="0.273" stop-color="#ff6e00"/><stop offset="0.360" stop-color="#ff3f00"/><stop offset="0.559" stop-color="#ff2c00"/><stop offset="0.820" stop-color="#ff2a00"/><stop offset="1.000" stop-color="#ff1f00"/></linearGradient><linearGradient id="gd61" gradientUnits="userSpaceOnUse" x1="0" y1="38.5" x2="0" y2="521.5"><stop offset="0.000" stop-color="#00e9ff"/><stop offset="0.075" stop-color="#04fffb"/><stop offset="0.106" stop-color="#27ffd8"/><stop offset="0.149" stop-color="#77ff88"/><stop offset="0.199" stop-color="#f6ff09"/><stop offset="0.205" stop-color="#fff900"/><stop offset="0.248" stop-color="#ff9200"/><stop offset="0.280" stop-color="#ff6d00"/><stop offset="0.366" stop-color="#ff4000"/><stop offset="0.565" stop-color="#ff2d00"/><stop offset="0.820" stop-color="#ff2b00"/><stop offset="1.000" stop-color="#ff1f00"/></linearGradient><linearGradient id="gd62" gradientUnits="userSpaceOnUse" x1="0" y1="38.5" x2="0" y2="521.5"><stop offset="0.000" stop-color="#00e9ff"/><stop offset="0.075" stop-color="#04fffb"/><stop offset="0.106" stop-color="#27ffd8"/><stop offset="0.149" stop-color="#77ff88"/><stop offset="0.199" stop-color="#f6ff09"/><stop offset="0.205" stop-color="#fff900"/><stop offset="0.248" stop-color="#ff9200"/><stop offset="0.280" stop-color="#ff6e00"/><stop offset="0.366" stop-color="#ff4000"/><stop offset="0.565" stop-color="#ff2d00"/><stop offset="0.820" stop-color="#ff2b00"/><stop offset="1.000" stop-color="#ff1f00"/></linearGradient><linearGradient id="gd63" gradientUnits="userSpaceOnUse" x1="0" y1="38.5" x2="0" y2="521.5"><stop offset="0.000" stop-color="#00e9ff"/><stop offset="0.075" stop-color="#04fffb"/><stop offset="0.106" stop-color="#27ffd8"/><stop offset="0.149" stop-color="#77ff88"/><stop offset="0.199" stop-color="#f6ff09"/><stop offset="0.205" stop-color="#fff900"/><stop offset="0.248" stop-color="#ff9200"/><stop offset="0.280" stop-color="#ff6e00"/><stop offset="0.366" stop-color="#ff4000"/><stop offset="0.565" stop-color="#ff2d00"/><stop offset="0.820" stop-color="#ff2b00"/><stop offset="1.000" stop-color="#ff1f00"/></linearGradient><clipPath id="cpd"><polygon points="904.8,44 1590.4,44 1590.4,432.5 1508,454.3 1414.5,466.1 1322.5,442.5 1229.5,407.1 1136.5,383.5 1043.5,348.1 951,265.5 904.8,230.1"/></clipPath><filter id="bld" filterUnits="userSpaceOnUse" x="864.8" y="23.5" width="776.2" height="505"><feGaussianBlur stdDeviation="6.6 0"/></filter><linearGradient id="ge0" gradientUnits="userSpaceOnUse" x1="0" y1="578.5" x2="0" y2="1061.5"><stop offset="0.000" stop-color="#6eff91"/><stop offset="0.037" stop-color="#5bffa4"/><stop offset="0.130" stop-color="#28ffd7"/><stop offset="0.161" stop-color="#1dffe2"/><stop offset="0.193" stop-color="#01fffe"/><stop offset="0.236" stop-color="#00f3ff"/><stop offset="0.329" stop-color="#00dfff"/><stop offset="0.379" stop-color="#00e3ff"/><stop offset="0.559" stop-color="#0085ff"/><stop offset="0.789" stop-color="#003dff"/><stop offset="1.000" stop-color="#0016ff"/></linearGradient><linearGradient id="ge1" gradientUnits="userSpaceOnUse" x1="0" y1="578.5" x2="0" y2="1061.5"><stop offset="0.000" stop-color="#6eff91"/><stop offset="0.037" stop-color="#5bffa4"/><stop offset="0.130" stop-color="#28ffd7"/><stop offset="0.161" stop-color="#1dffe2"/><stop offset="0.193" stop-color="#00ffff"/><stop offset="0.236" stop-color="#00f2ff"/><stop offset="0.329" stop-color="#00dfff"/><stop offset="0.379" stop-color="#00e3ff"/><stop offset="0.559" stop-color="#0085ff"/><stop offset="0.789" stop-color="#003dff"/><stop offset="1.000" stop-color="#0015ff"/></linearGradient><linearGradient id="ge2" gradientUnits="userSpaceOnUse" x1="0" y1="578.5" x2="0" y2="1061.5"><stop offset="0.000" stop-color="#71ff8e"/><stop offset="0.087" stop-color="#3dffc2"/><stop offset="0.137" stop-color="#22ffdd"/><stop offset="0.168" stop-color="#11ffee"/><stop offset="0.186" stop-color="#00feff"/><stop offset="0.224" stop-color="#00eeff"/><stop offset="0.280" stop-color="#00e2ff"/><stop offset="0.348" stop-color="#00dbff"/><stop offset="0.385" stop-color="#00dbff"/><stop offset="0.565" stop-color="#0080ff"/><stop offset="0.801" stop-color="#0039ff"/><stop offset="1.000" stop-color="#0014ff"/></linearGradient><linearGradient id="ge3" gradientUnits="userSpaceOnUse" x1="0" y1="578.5" x2="0" y2="1061.5"><stop offset="0.000" stop-color="#79ff86"/><stop offset="0.081" stop-color="#40ffbf"/><stop offset="0.130" stop-color="#18ffe7"/><stop offset="0.168" stop-color="#00fdff"/><stop offset="0.205" stop-color="#00e2ff"/><stop offset="0.342" stop-color="#00ccff"/><stop offset="0.391" stop-color="#00c9ff"/><stop offset="0.584" stop-color="#0073ff"/><stop offset="0.839" stop-color="#002cff"/><stop offset="1.000" stop-color="#0011ff"/></linearGradient><linearGradient id="ge4" gradientUnits="userSpaceOnUse" x1="0" y1="578.5" x2="0" y2="1061.5"><stop offset="0.000" stop-color="#87ff78"/><stop offset="0.062" stop-color="#52ffad"/><stop offset="0.137" stop-color="#01fffe"/><stop offset="0.193" stop-color="#00ceff"/><stop offset="0.366" stop-color="#00b5ff"/><stop offset="0.447" stop-color="#00a3ff"/><stop offset="0.590" stop-color="#0068ff"/><stop offset="0.863" stop-color="#0022ff"/><stop offset="1.000" stop-color="#000dff"/></linearGradient><linearGradient id="ge5" gradientUnits="userSpaceOnUse" x1="0" y1="578.5" x2="0" y2="1061.5"><stop offset="0.000" stop-color="#94ff6b"/><stop offset="0.037" stop-color="#74ff8b"/><stop offset="0.124" stop-color="#00feff"/><stop offset="0.174" stop-color="#00c0ff"/><stop offset="0.217" stop-color="#00afff"/><stop offset="0.460" stop-color="#008fff"/><stop offset="0.590" stop-color="#0060ff"/><stop offset="0.876" stop-color="#001bff"/><stop offset="1.000" stop-color="#0009ff"/></linearGradient><linearGradient id="ge6" gradientUnits="userSpaceOnUse" x1="0" y1="578.5" x2="0" y2="1061.5"><stop offset="0.000" stop-color="#9fff60"/><stop offset="0.031" stop-color="#84ff7b"/><stop offset="0.112" stop-color="#05fffa"/><stop offset="0.137" stop-color="#00daff"/><stop offset="0.174" stop-color="#00a8ff"/><stop offset="0.217" stop-color="#0097ff"/><stop offset="0.429" stop-color="#0080ff"/><stop offset="0.484" stop-color="#0075ff"/><stop offset="0.851" stop-color="#001aff"/><stop offset="1.000" stop-color="#0004ff"/></linearGradient><linearGradient id="ge7" gradientUnits="userSpaceOnUse" x1="0" y1="578.5" x2="0" y2="1061.5"><stop offset="0.000" stop-color="#a5ff5a"/><stop offset="0.025" stop-color="#90ff6f"/><stop offset="0.106" stop-color="#05fffa"/><stop offset="0.130" stop-color="#00d4ff"/><stop offset="0.168" stop-color="#0099ff"/><stop offset="0.205" stop-color="#0083ff"/><stop offset="0.422" stop-color="#006bff"/><stop offset="0.522" stop-color="#005dff"/><stop offset="0.907" stop-color="#000cff"/><stop offset="1.000" stop-color="#0000ff"/></linearGradient><linearGradient id="ge8" gradientUnits="userSpaceOnUse" x1="0" y1="578.5" x2="0" y2="1061.5"><stop offset="0.000" stop-color="#a7ff58"/><stop offset="0.025" stop-color="#90ff6f"/><stop offset="0.075" stop-color="#38ffc7"/><stop offset="0.099" stop-color="#05fffa"/><stop offset="0.124" stop-color="#00d1ff"/><stop offset="0.161" stop-color="#008eff"/><stop offset="0.193" stop-color="#0072ff"/><stop offset="0.311" stop-color="#005fff"/><stop offset="0.571" stop-color="#0049ff"/><stop offset="0.919" stop-color="#0005ff"/><stop offset="1.000" stop-color="#0000fb"/></linearGradient><linearGradient id="ge9" gradientUnits="userSpaceOnUse" x1="0" y1="578.5" x2="0" y2="1061.5"><stop offset="0.000" stop-color="#a8ff57"/><stop offset="0.025" stop-color="#8fff70"/><stop offset="0.062" stop-color="#4bffb4"/><stop offset="0.093" stop-color="#06fff9"/><stop offset="0.106" stop-color="#00e9ff"/><stop offset="0.155" stop-color="#0084ff"/><stop offset="0.180" stop-color="#0066ff"/><stop offset="0.242" stop-color="#0053ff"/><stop offset="0.478" stop-color="#0046ff"/><stop offset="0.634" stop-color="#0035ff"/><stop offset="0.919" stop-color="#0000ff"/><stop offset="1.000" stop-color="#0000f6"/></linearGradient><linearGradient id="ge10" gradientUnits="userSpaceOnUse" x1="0" y1="578.5" x2="0" y2="1061.5"><stop offset="0.000" stop-color="#a7ff58"/><stop offset="0.025" stop-color="#8dff72"/><stop offset="0.062" stop-color="#46ffb9"/><stop offset="0.087" stop-color="#09fff6"/><stop offset="0.093" stop-color="#00f9ff"/><stop offset="0.143" stop-color="#008aff"/><stop offset="0.174" stop-color="#0059ff"/><stop offset="0.211" stop-color="#0048ff"/><stop offset="0.435" stop-color="#0038ff"/><stop offset="0.590" stop-color="#0034ff"/><stop offset="0.894" stop-color="#0000fd"/><stop offset="1.000" stop-color="#0000f2"/></linearGradient><linearGradient id="ge11" gradientUnits="userSpaceOnUse" x1="0" y1="578.5" x2="0" y2="1061.5"><stop offset="0.000" stop-color="#a6ff59"/><stop offset="0.025" stop-color="#8aff75"/><stop offset="0.062" stop-color="#40ffbf"/><stop offset="0.087" stop-color="#00fdff"/><stop offset="0.124" stop-color="#00a0ff"/><stop offset="0.161" stop-color="#005bff"/><stop offset="0.186" stop-color="#0043ff"/><stop offset="0.267" stop-color="#0033ff"/><stop offset="0.497" stop-color="#002fff"/><stop offset="0.652" stop-color="#0023ff"/><stop offset="0.857" stop-color="#0000fd"/><stop offset="1.000" stop-color="#0000ee"/></linearGradient><linearGradient id="ge12" gradientUnits="userSpaceOnUse" x1="0" y1="578.5" x2="0" y2="1061.5"><stop offset="0.000" stop-color="#a5ff5a"/><stop offset="0.025" stop-color="#87ff78"/><stop offset="0.062" stop-color="#39ffc6"/><stop offset="0.081" stop-color="#05fffa"/><stop offset="0.118" stop-color="#00a0ff"/><stop offset="0.155" stop-color="#0058ff"/><stop offset="0.186" stop-color="#0038ff"/><stop offset="0.242" stop-color="#002aff"/><stop offset="0.466" stop-color="#0024ff"/><stop offset="0.640" stop-color="#001dff"/><stop offset="0.826" stop-color="#0000fb"/><stop offset="1.000" stop-color="#0000e9"/></linearGradient><linearGradient id="ge13" gradientUnits="userSpaceOnUse" x1="0" y1="578.5" x2="0" y2="1061.5"><stop offset="0.000" stop-color="#a3ff5c"/><stop offset="0.025" stop-color="#84ff7b"/><stop offset="0.056" stop-color="#42ffbd"/><stop offset="0.081" stop-color="#00faff"/><stop offset="0.106" stop-color="#00b1ff"/><stop offset="0.149" stop-color="#0059ff"/><stop offset="0.180" stop-color="#0033ff"/><stop offset="0.224" stop-color="#0020ff"/><stop offset="0.435" stop-color="#0019ff"/><stop offset="0.640" stop-color="#0015ff"/><stop offset="0.789" stop-color="#0000fb"/><stop offset="1.000" stop-color="#0000e5"/></linearGradient><linearGradient id="ge14" gradientUnits="userSpaceOnUse" x1="0" y1="578.5" x2="0" y2="1061.5"><stop offset="0.000" stop-color="#a1ff5e"/><stop offset="0.025" stop-color="#82ff7d"/><stop offset="0.062" stop-color="#2bffd4"/><stop offset="0.075" stop-color="#08fff7"/><stop offset="0.087" stop-color="#00e1ff"/><stop offset="0.118" stop-color="#0091ff"/><stop offset="0.155" stop-color="#0048ff"/><stop offset="0.186" stop-color="#0026ff"/><stop offset="0.230" stop-color="#0015ff"/><stop offset="0.447" stop-color="#0010ff"/><stop offset="0.658" stop-color="#000bff"/><stop offset="0.758" stop-color="#0000f9"/><stop offset="1.000" stop-color="#0000e1"/></linearGradient><linearGradient id="ge15" gradientUnits="userSpaceOnUse" x1="0" y1="578.5" x2="0" y2="1061.5"><stop offset="0.000" stop-color="#9fff60"/><stop offset="0.025" stop-color="#7fff80"/><stop offset="0.068" stop-color="#14ffeb"/><stop offset="0.075" stop-color="#03fffc"/><stop offset="0.137" stop-color="#0066ff"/><stop offset="0.168" stop-color="#0031ff"/><stop offset="0.205" stop-color="#0011ff"/><stop offset="0.304" stop-color="#0006ff"/><stop offset="0.665" stop-color="#0003ff"/><stop offset="0.963" stop-color="#0000de"/><stop offset="1.000" stop-color="#0000dd"/></linearGradient><linearGradient id="ge16" gradientUnits="userSpaceOnUse" x1="0" y1="578.5" x2="0" y2="1061.5"><stop offset="0.000" stop-color="#9aff65"/><stop offset="0.025" stop-color="#7aff85"/><stop offset="0.075" stop-color="#01fffe"/><stop offset="0.149" stop-color="#004aff"/><stop offset="0.180" stop-color="#001bff"/><stop offset="0.217" stop-color="#0003ff"/><stop offset="0.683" stop-color="#0000f8"/><stop offset="0.913" stop-color="#0000dd"/><stop offset="1.000" stop-color="#0000d8"/></linearGradient><linearGradient id="ge17" gradientUnits="userSpaceOnUse" x1="0" y1="578.5" x2="0" y2="1061.5"><stop offset="0.000" stop-color="#95ff6a"/><stop offset="0.025" stop-color="#75ff8a"/><stop offset="0.075" stop-color="#00ffff"/><stop offset="0.118" stop-color="#0097ff"/><stop offset="0.155" stop-color="#003aff"/><stop offset="0.186" stop-color="#000bff"/><stop offset="0.205" stop-color="#0000fc"/><stop offset="0.273" stop-color="#0000f3"/><stop offset="0.689" stop-color="#0000ef"/><stop offset="0.932" stop-color="#0000d7"/><stop offset="1.000" stop-color="#0000d4"/></linearGradient><linearGradient id="ge18" gradientUnits="userSpaceOnUse" x1="0" y1="578.5" x2="0" y2="1061.5"><stop offset="0.000" stop-color="#90ff6f"/><stop offset="0.025" stop-color="#6eff91"/><stop offset="0.075" stop-color="#01fffe"/><stop offset="0.112" stop-color="#00adff"/><stop offset="0.155" stop-color="#0035ff"/><stop offset="0.180" stop-color="#0009ff"/><stop offset="0.193" stop-color="#0000fa"/><stop offset="0.230" stop-color="#0000eb"/><stop offset="0.696" stop-color="#0000e5"/><stop offset="0.988" stop-color="#0000d0"/><stop offset="1.000" stop-color="#0000d0"/></linearGradient><linearGradient id="ge19" gradientUnits="userSpaceOnUse" x1="0" y1="578.5" x2="0" y2="1061.5"><stop offset="0.000" stop-color="#8bff74"/><stop offset="0.025" stop-color="#68ff97"/><stop offset="0.075" stop-color="#04fffb"/><stop offset="0.099" stop-color="#00d2ff"/><stop offset="0.124" stop-color="#008fff"/><stop offset="0.155" stop-color="#002fff"/><stop offset="0.174" stop-color="#0008ff"/><stop offset="0.186" stop-color="#0000f6"/><stop offset="0.217" stop-color="#0000e2"/><stop offset="0.696" stop-color="#0000db"/><stop offset="1.000" stop-color="#0000cc"/></linearGradient><linearGradient id="ge20" gradientUnits="userSpaceOnUse" x1="0" y1="578.5" x2="0" y2="1061.5"><stop offset="0.000" stop-color="#87ff78"/><stop offset="0.031" stop-color="#58ffa7"/><stop offset="0.075" stop-color="#07fff8"/><stop offset="0.087" stop-color="#00f1ff"/><stop offset="0.112" stop-color="#00bcff"/><stop offset="0.155" stop-color="#0028ff"/><stop offset="0.168" stop-color="#0008ff"/><stop offset="0.180" stop-color="#0000f1"/><stop offset="0.211" stop-color="#0000d9"/><stop offset="0.534" stop-color="#0000d8"/><stop offset="1.000" stop-color="#0000c8"/></linearGradient><linearGradient id="ge21" gradientUnits="userSpaceOnUse" x1="0" y1="578.5" x2="0" y2="1061.5"><stop offset="0.000" stop-color="#85ff7a"/><stop offset="0.031" stop-color="#57ffa8"/><stop offset="0.081" stop-color="#02fffd"/><stop offset="0.106" stop-color="#00d2ff"/><stop offset="0.124" stop-color="#0098ff"/><stop offset="0.155" stop-color="#001fff"/><stop offset="0.168" stop-color="#0000fb"/><stop offset="0.186" stop-color="#0000de"/><stop offset="0.224" stop-color="#0000cd"/><stop offset="0.509" stop-color="#0000ce"/><stop offset="0.640" stop-color="#0000ca"/><stop offset="1.000" stop-color="#0000c4"/></linearGradient><linearGradient id="ge22" gradientUnits="userSpaceOnUse" x1="0" y1="578.5" x2="0" y2="1061.5"><stop offset="0.000" stop-color="#86ff79"/><stop offset="0.037" stop-color="#50ffaf"/><stop offset="0.087" stop-color="#00feff"/><stop offset="0.106" stop-color="#00d8ff"/><stop offset="0.124" stop-color="#009aff"/><stop offset="0.155" stop-color="#0017ff"/><stop offset="0.161" stop-color="#0002ff"/><stop offset="0.180" stop-color="#0000db"/><stop offset="0.211" stop-color="#0000c7"/><stop offset="0.491" stop-color="#0000c4"/><stop offset="0.615" stop-color="#0000c4"/><stop offset="0.689" stop-color="#0000be"/><stop offset="1.000" stop-color="#0000c0"/></linearGradient><linearGradient id="ge23" gradientUnits="userSpaceOnUse" x1="0" y1="578.5" x2="0" y2="1061.5"><stop offset="0.000" stop-color="#8aff75"/><stop offset="0.050" stop-color="#44ffbb"/><stop offset="0.093" stop-color="#00fbff"/><stop offset="0.112" stop-color="#00cdff"/><stop offset="0.130" stop-color="#0080ff"/><stop offset="0.155" stop-color="#0011ff"/><stop offset="0.161" stop-color="#0000fb"/><stop offset="0.180" stop-color="#0000d4"/><stop offset="0.205" stop-color="#0000c1"/><stop offset="0.484" stop-color="#0000bb"/><stop offset="0.602" stop-color="#0000be"/><stop offset="0.683" stop-color="#0000b6"/><stop offset="1.000" stop-color="#0000bc"/></linearGradient><linearGradient id="ge24" gradientUnits="userSpaceOnUse" x1="0" y1="578.5" x2="0" y2="1061.5"><stop offset="0.000" stop-color="#90ff6f"/><stop offset="0.050" stop-color="#51ffae"/><stop offset="0.093" stop-color="#06fff9"/><stop offset="0.106" stop-color="#00e6ff"/><stop offset="0.124" stop-color="#00a1ff"/><stop offset="0.149" stop-color="#0027ff"/><stop offset="0.155" stop-color="#000dff"/><stop offset="0.161" stop-color="#0000f7"/><stop offset="0.180" stop-color="#0000cf"/><stop offset="0.205" stop-color="#0000bc"/><stop offset="0.491" stop-color="#0000b5"/><stop offset="0.609" stop-color="#0000b7"/><stop offset="0.696" stop-color="#0000b1"/><stop offset="1.000" stop-color="#0000b8"/></linearGradient><linearGradient id="ge25" gradientUnits="userSpaceOnUse" x1="0" y1="578.5" x2="0" y2="1061.5"><stop offset="0.000" stop-color="#98ff67"/><stop offset="0.050" stop-color="#60ff9f"/><stop offset="0.087" stop-color="#1fffe0"/><stop offset="0.099" stop-color="#01fffe"/><stop offset="0.112" stop-color="#00daff"/><stop offset="0.130" stop-color="#0085ff"/><stop offset="0.149" stop-color="#0024ff"/><stop offset="0.155" stop-color="#000aff"/><stop offset="0.161" stop-color="#0000f3"/><stop offset="0.180" stop-color="#0000ca"/><stop offset="0.205" stop-color="#0000b9"/><stop offset="0.491" stop-color="#0000af"/><stop offset="0.609" stop-color="#0000b1"/><stop offset="0.702" stop-color="#0000ac"/><stop offset="1.000" stop-color="#0000b5"/></linearGradient><linearGradient id="ge26" gradientUnits="userSpaceOnUse" x1="0" y1="578.5" x2="0" y2="1061.5"><stop offset="0.000" stop-color="#a3ff5c"/><stop offset="0.050" stop-color="#70ff8f"/><stop offset="0.087" stop-color="#2cffd3"/><stop offset="0.099" stop-color="#0cfff3"/><stop offset="0.106" stop-color="#00f8ff"/><stop offset="0.118" stop-color="#00c7ff"/><stop offset="0.149" stop-color="#0022ff"/><stop offset="0.155" stop-color="#0007ff"/><stop offset="0.168" stop-color="#0000de"/><stop offset="0.186" stop-color="#0000c1"/><stop offset="0.217" stop-color="#0000b5"/><stop offset="0.286" stop-color="#0000b3"/><stop offset="0.484" stop-color="#0000a9"/><stop offset="0.609" stop-color="#0000ab"/><stop offset="0.720" stop-color="#0000a8"/><stop offset="1.000" stop-color="#0000b1"/></linearGradient><linearGradient id="ge27" gradientUnits="userSpaceOnUse" x1="0" y1="578.5" x2="0" y2="1061.5"><stop offset="0.000" stop-color="#aeff51"/><stop offset="0.050" stop-color="#7fff80"/><stop offset="0.081" stop-color="#48ffb7"/><stop offset="0.106" stop-color="#02fffd"/><stop offset="0.118" stop-color="#00ceff"/><stop offset="0.149" stop-color="#0020ff"/><stop offset="0.155" stop-color="#0004ff"/><stop offset="0.174" stop-color="#0000cf"/><stop offset="0.199" stop-color="#0000b9"/><stop offset="0.292" stop-color="#0000ae"/><stop offset="0.478" stop-color="#0000a4"/><stop offset="0.609" stop-color="#0000a6"/><stop offset="0.745" stop-color="#0000a5"/><stop offset="1.000" stop-color="#0000ae"/></linearGradient><linearGradient id="ge28" gradientUnits="userSpaceOnUse" x1="0" y1="578.5" x2="0" y2="1061.5"><stop offset="0.000" stop-color="#b8ff47"/><stop offset="0.050" stop-color="#8dff72"/><stop offset="0.075" stop-color="#64ff9b"/><stop offset="0.099" stop-color="#22ffdd"/><stop offset="0.106" stop-color="#0cfff3"/><stop offset="0.112" stop-color="#00f2ff"/><stop offset="0.124" stop-color="#00b4ff"/><stop offset="0.149" stop-color="#0020ff"/><stop offset="0.155" stop-color="#0003ff"/><stop offset="0.168" stop-color="#0000db"/><stop offset="0.186" stop-color="#0000c1"/><stop offset="0.236" stop-color="#0000b5"/><stop offset="0.366" stop-color="#0000a1"/><stop offset="0.540" stop-color="#0000a4"/><stop offset="0.752" stop-color="#0000a0"/><stop offset="1.000" stop-color="#0000aa"/></linearGradient><linearGradient id="ge29" gradientUnits="userSpaceOnUse" x1="0" y1="578.5" x2="0" y2="1061.5"><stop offset="0.000" stop-color="#c2ff3d"/><stop offset="0.056" stop-color="#92ff6d"/><stop offset="0.081" stop-color="#64ff9b"/><stop offset="0.099" stop-color="#2dffd2"/><stop offset="0.112" stop-color="#00fbff"/><stop offset="0.124" stop-color="#00baff"/><stop offset="0.149" stop-color="#0022ff"/><stop offset="0.155" stop-color="#0006ff"/><stop offset="0.174" stop-color="#0000d3"/><stop offset="0.199" stop-color="#0000c0"/><stop offset="0.329" stop-color="#00009f"/><stop offset="0.516" stop-color="#00009e"/><stop offset="0.615" stop-color="#00009d"/><stop offset="0.851" stop-color="#00009e"/><stop offset="1.000" stop-color="#0000a7"/></linearGradient><linearGradient id="ge30" gradientUnits="userSpaceOnUse" x1="0" y1="578.5" x2="0" y2="1061.5"><stop offset="0.000" stop-color="#cbff34"/><stop offset="0.050" stop-color="#a6ff59"/><stop offset="0.075" stop-color="#7eff81"/><stop offset="0.093" stop-color="#4bffb4"/><stop offset="0.112" stop-color="#03fffc"/><stop offset="0.124" stop-color="#00bfff"/><stop offset="0.143" stop-color="#0049ff"/><stop offset="0.155" stop-color="#000cff"/><stop offset="0.161" stop-color="#0000f6"/><stop offset="0.174" stop-color="#0000dd"/><stop offset="0.211" stop-color="#0000c3"/><stop offset="0.298" stop-color="#00009e"/><stop offset="0.478" stop-color="#000097"/><stop offset="0.596" stop-color="#00009b"/><stop offset="0.795" stop-color="#000098"/><stop offset="1.000" stop-color="#0000a4"/></linearGradient><linearGradient id="ge31" gradientUnits="userSpaceOnUse" x1="0" y1="578.5" x2="0" y2="1061.5"><stop offset="0.000" stop-color="#d7ff28"/><stop offset="0.050" stop-color="#b3ff4c"/><stop offset="0.075" stop-color="#89ff76"/><stop offset="0.093" stop-color="#53ffac"/><stop offset="0.112" stop-color="#09fff6"/><stop offset="0.118" stop-color="#00e9ff"/><stop offset="0.143" stop-color="#0050ff"/><stop offset="0.155" stop-color="#0016ff"/><stop offset="0.161" stop-color="#0002ff"/><stop offset="0.180" stop-color="#0000e2"/><stop offset="0.273" stop-color="#0000a1"/><stop offset="0.354" stop-color="#000094"/><stop offset="0.547" stop-color="#000098"/><stop offset="0.801" stop-color="#000093"/><stop offset="1.000" stop-color="#0000a1"/></linearGradient><linearGradient id="ge32" gradientUnits="userSpaceOnUse" x1="0" y1="578.5" x2="0" y2="1061.5"><stop offset="0.000" stop-color="#e6ff19"/><stop offset="0.050" stop-color="#c2ff3d"/><stop offset="0.075" stop-color="#95ff6a"/><stop offset="0.093" stop-color="#5cffa3"/><stop offset="0.112" stop-color="#0dfff2"/><stop offset="0.118" stop-color="#00edff"/><stop offset="0.143" stop-color="#0058ff"/><stop offset="0.155" stop-color="#0021ff"/><stop offset="0.168" stop-color="#0002ff"/><stop offset="0.224" stop-color="#0000c9"/><stop offset="0.261" stop-color="#0000a3"/><stop offset="0.317" stop-color="#000092"/><stop offset="0.540" stop-color="#000092"/><stop offset="0.845" stop-color="#000092"/><stop offset="1.000" stop-color="#00009e"/></linearGradient><linearGradient id="ge33" gradientUnits="userSpaceOnUse" x1="0" y1="578.5" x2="0" y2="1061.5"><stop offset="0.000" stop-color="#f6ff09"/><stop offset="0.043" stop-color="#d9ff26"/><stop offset="0.068" stop-color="#b3ff4c"/><stop offset="0.087" stop-color="#7fff80"/><stop offset="0.106" stop-color="#30ffcf"/><stop offset="0.112" stop-color="#12ffed"/><stop offset="0.118" stop-color="#00f1ff"/><stop offset="0.143" stop-color="#0061ff"/><stop offset="0.155" stop-color="#002dff"/><stop offset="0.174" stop-color="#0007ff"/><stop offset="0.186" stop-color="#0000fa"/><stop offset="0.211" stop-color="#0000e0"/><stop offset="0.248" stop-color="#0000a8"/><stop offset="0.292" stop-color="#000090"/><stop offset="0.522" stop-color="#00008b"/><stop offset="0.863" stop-color="#00008f"/><stop offset="1.000" stop-color="#00009c"/></linearGradient><linearGradient id="ge34" gradientUnits="userSpaceOnUse" x1="0" y1="578.5" x2="0" y2="1061.5"><stop offset="0.000" stop-color="#fff900"/><stop offset="0.025" stop-color="#f7ff08"/><stop offset="0.056" stop-color="#daff25"/><stop offset="0.075" stop-color="#b6ff49"/><stop offset="0.093" stop-color="#76ff89"/><stop offset="0.112" stop-color="#19ffe6"/><stop offset="0.118" stop-color="#00f8ff"/><stop offset="0.143" stop-color="#006bff"/><stop offset="0.155" stop-color="#003aff"/><stop offset="0.174" stop-color="#0018ff"/><stop offset="0.193" stop-color="#0002ff"/><stop offset="0.217" stop-color="#0000d5"/><stop offset="0.242" stop-color="#0000a7"/><stop offset="0.273" stop-color="#000090"/><stop offset="0.329" stop-color="#000086"/><stop offset="0.851" stop-color="#00008b"/><stop offset="1.000" stop-color="#000099"/></linearGradient><linearGradient id="ge35" gradientUnits="userSpaceOnUse" x1="0" y1="578.5" x2="0" y2="1061.5"><stop offset="0.000" stop-color="#ffec00"/><stop offset="0.037" stop-color="#fcff03"/><stop offset="0.062" stop-color="#e0ff1f"/><stop offset="0.081" stop-color="#b5ff4a"/><stop offset="0.093" stop-color="#88ff77"/><stop offset="0.118" stop-color="#03fffc"/><stop offset="0.143" stop-color="#0078ff"/><stop offset="0.155" stop-color="#0048ff"/><stop offset="0.199" stop-color="#0002ff"/><stop offset="0.236" stop-color="#0000a4"/><stop offset="0.255" stop-color="#00008f"/><stop offset="0.317" stop-color="#000080"/><stop offset="0.845" stop-color="#000087"/><stop offset="1.000" stop-color="#000097"/></linearGradient><linearGradient id="ge36" gradientUnits="userSpaceOnUse" x1="0" y1="578.5" x2="0" y2="1061.5"><stop offset="0.000" stop-color="#ffe100"/><stop offset="0.050" stop-color="#fdff02"/><stop offset="0.075" stop-color="#d4ff2b"/><stop offset="0.087" stop-color="#b1ff4e"/><stop offset="0.099" stop-color="#7dff82"/><stop offset="0.118" stop-color="#11ffee"/><stop offset="0.124" stop-color="#00ecff"/><stop offset="0.143" stop-color="#0085ff"/><stop offset="0.149" stop-color="#006aff"/><stop offset="0.161" stop-color="#004dff"/><stop offset="0.186" stop-color="#002dff"/><stop offset="0.199" stop-color="#000dff"/><stop offset="0.205" stop-color="#0000f8"/><stop offset="0.230" stop-color="#0000a5"/><stop offset="0.242" stop-color="#00008b"/><stop offset="0.261" stop-color="#000080"/><stop offset="0.845" stop-color="#000084"/><stop offset="1.000" stop-color="#000095"/></linearGradient><linearGradient id="ge37" gradientUnits="userSpaceOnUse" x1="0" y1="578.5" x2="0" y2="1061.5"><stop offset="0.000" stop-color="#ffd900"/><stop offset="0.050" stop-color="#fff800"/><stop offset="0.056" stop-color="#feff01"/><stop offset="0.081" stop-color="#cfff30"/><stop offset="0.093" stop-color="#a8ff57"/><stop offset="0.106" stop-color="#6dff92"/><stop offset="0.124" stop-color="#00fcff"/><stop offset="0.143" stop-color="#0097ff"/><stop offset="0.155" stop-color="#0069ff"/><stop offset="0.186" stop-color="#003eff"/><stop offset="0.205" stop-color="#0000fc"/><stop offset="0.224" stop-color="#0000ad"/><stop offset="0.236" stop-color="#000088"/><stop offset="0.242" stop-color="#000080"/><stop offset="0.863" stop-color="#000083"/><stop offset="1.000" stop-color="#000093"/></linearGradient><linearGradient id="ge38" gradientUnits="userSpaceOnUse" x1="0" y1="578.5" x2="0" y2="1061.5"><stop offset="0.000" stop-color="#ffd200"/><stop offset="0.050" stop-color="#fff400"/><stop offset="0.062" stop-color="#faff05"/><stop offset="0.087" stop-color="#c5ff3a"/><stop offset="0.099" stop-color="#9aff65"/><stop offset="0.118" stop-color="#38ffc7"/><stop offset="0.124" stop-color="#14ffeb"/><stop offset="0.130" stop-color="#00f0ff"/><stop offset="0.149" stop-color="#0096ff"/><stop offset="0.161" stop-color="#0073ff"/><stop offset="0.180" stop-color="#0059ff"/><stop offset="0.193" stop-color="#0035ff"/><stop offset="0.205" stop-color="#0000fa"/><stop offset="0.224" stop-color="#0000a1"/><stop offset="0.230" stop-color="#00008c"/><stop offset="0.236" stop-color="#000080"/><stop offset="0.882" stop-color="#000084"/><stop offset="1.000" stop-color="#000091"/></linearGradient><linearGradient id="ge39" gradientUnits="userSpaceOnUse" x1="0" y1="578.5" x2="0" y2="1061.5"><stop offset="0.000" stop-color="#ffcb00"/><stop offset="0.050" stop-color="#fff100"/><stop offset="0.062" stop-color="#fcff03"/><stop offset="0.087" stop-color="#c9ff36"/><stop offset="0.106" stop-color="#89ff76"/><stop offset="0.130" stop-color="#0dfff2"/><stop offset="0.137" stop-color="#00ecff"/><stop offset="0.149" stop-color="#00b2ff"/><stop offset="0.161" stop-color="#008bff"/><stop offset="0.180" stop-color="#0063ff"/><stop offset="0.193" stop-color="#0034ff"/><stop offset="0.199" stop-color="#0014ff"/><stop offset="0.205" stop-color="#0000f0"/><stop offset="0.217" stop-color="#0000af"/><stop offset="0.230" stop-color="#000081"/><stop offset="0.894" stop-color="#000083"/><stop offset="1.000" stop-color="#00008f"/></linearGradient><linearGradient id="ge40" gradientUnits="userSpaceOnUse" x1="0" y1="578.5" x2="0" y2="1061.5"><stop offset="0.000" stop-color="#ffc500"/><stop offset="0.043" stop-color="#ffe600"/><stop offset="0.062" stop-color="#ffff00"/><stop offset="0.087" stop-color="#cdff32"/><stop offset="0.106" stop-color="#93ff6c"/><stop offset="0.130" stop-color="#28ffd7"/><stop offset="0.137" stop-color="#0afff5"/><stop offset="0.143" stop-color="#00ebff"/><stop offset="0.161" stop-color="#00a0ff"/><stop offset="0.180" stop-color="#006aff"/><stop offset="0.193" stop-color="#0030ff"/><stop offset="0.199" stop-color="#000bff"/><stop offset="0.205" stop-color="#0000e4"/><stop offset="0.217" stop-color="#0000a3"/><stop offset="0.224" stop-color="#00008a"/><stop offset="0.230" stop-color="#000080"/><stop offset="0.907" stop-color="#000083"/><stop offset="1.000" stop-color="#00008d"/></linearGradient><linearGradient id="ge41" gradientUnits="userSpaceOnUse" x1="0" y1="578.5" x2="0" y2="1061.5"><stop offset="0.000" stop-color="#ffbf00"/><stop offset="0.043" stop-color="#ffe300"/><stop offset="0.062" stop-color="#fffc00"/><stop offset="0.087" stop-color="#d2ff2d"/><stop offset="0.112" stop-color="#89ff76"/><stop offset="0.137" stop-color="#27ffd8"/><stop offset="0.143" stop-color="#0bfff4"/><stop offset="0.149" stop-color="#00ecff"/><stop offset="0.168" stop-color="#009eff"/><stop offset="0.180" stop-color="#006eff"/><stop offset="0.193" stop-color="#002aff"/><stop offset="0.199" stop-color="#0001ff"/><stop offset="0.211" stop-color="#0000b5"/><stop offset="0.224" stop-color="#000081"/><stop offset="0.919" stop-color="#000083"/><stop offset="1.000" stop-color="#00008c"/></linearGradient><linearGradient id="ge42" gradientUnits="userSpaceOnUse" x1="0" y1="578.5" x2="0" y2="1061.5"><stop offset="0.000" stop-color="#ffba00"/><stop offset="0.043" stop-color="#ffde00"/><stop offset="0.068" stop-color="#fcff03"/><stop offset="0.093" stop-color="#cdff32"/><stop offset="0.118" stop-color="#83ff7c"/><stop offset="0.143" stop-color="#27ffd8"/><stop offset="0.149" stop-color="#0bfff4"/><stop offset="0.155" stop-color="#00ebff"/><stop offset="0.180" stop-color="#006fff"/><stop offset="0.193" stop-color="#0021ff"/><stop offset="0.199" stop-color="#0000f6"/><stop offset="0.211" stop-color="#0000ab"/><stop offset="0.217" stop-color="#00008f"/><stop offset="0.224" stop-color="#000080"/><stop offset="0.932" stop-color="#000083"/><stop offset="1.000" stop-color="#00008b"/></linearGradient><linearGradient id="ge43" gradientUnits="userSpaceOnUse" x1="0" y1="578.5" x2="0" y2="1061.5"><stop offset="0.000" stop-color="#ffb500"/><stop offset="0.043" stop-color="#ffd900"/><stop offset="0.075" stop-color="#faff05"/><stop offset="0.099" stop-color="#cbff34"/><stop offset="0.143" stop-color="#3dffc2"/><stop offset="0.155" stop-color="#02fffd"/><stop offset="0.180" stop-color="#006fff"/><stop offset="0.193" stop-color="#0018ff"/><stop offset="0.199" stop-color="#0000eb"/><stop offset="0.211" stop-color="#0000a1"/><stop offset="0.217" stop-color="#000087"/><stop offset="0.230" stop-color="#000080"/><stop offset="0.938" stop-color="#000083"/><stop offset="1.000" stop-color="#00008a"/></linearGradient><linearGradient id="ge44" gradientUnits="userSpaceOnUse" x1="0" y1="578.5" x2="0" y2="1061.5"><stop offset="0.000" stop-color="#ffb200"/><stop offset="0.050" stop-color="#ffdb00"/><stop offset="0.081" stop-color="#fdff02"/><stop offset="0.099" stop-color="#d9ff26"/><stop offset="0.143" stop-color="#49ffb6"/><stop offset="0.155" stop-color="#0efff1"/><stop offset="0.161" stop-color="#00e8ff"/><stop offset="0.186" stop-color="#003cff"/><stop offset="0.193" stop-color="#000dff"/><stop offset="0.199" stop-color="#0000e0"/><stop offset="0.211" stop-color="#000099"/><stop offset="0.217" stop-color="#000081"/><stop offset="0.944" stop-color="#000083"/><stop offset="1.000" stop-color="#000089"/></linearGradient><linearGradient id="ge45" gradientUnits="userSpaceOnUse" x1="0" y1="578.5" x2="0" y2="1061.5"><stop offset="0.000" stop-color="#ffaf00"/><stop offset="0.062" stop-color="#ffe400"/><stop offset="0.087" stop-color="#faff05"/><stop offset="0.106" stop-color="#cdff32"/><stop offset="0.143" stop-color="#4affb5"/><stop offset="0.155" stop-color="#0cfff3"/><stop offset="0.161" stop-color="#00e3ff"/><stop offset="0.193" stop-color="#0002ff"/><stop offset="0.205" stop-color="#0000b2"/><stop offset="0.211" stop-color="#000094"/><stop offset="0.217" stop-color="#000080"/><stop offset="0.950" stop-color="#000083"/><stop offset="1.000" stop-color="#000088"/></linearGradient><linearGradient id="ge46" gradientUnits="userSpaceOnUse" x1="0" y1="578.5" x2="0" y2="1061.5"><stop offset="0.000" stop-color="#ffad00"/><stop offset="0.062" stop-color="#ffe200"/><stop offset="0.081" stop-color="#fffb00"/><stop offset="0.093" stop-color="#ebff14"/><stop offset="0.118" stop-color="#9eff61"/><stop offset="0.143" stop-color="#42ffbd"/><stop offset="0.155" stop-color="#00fdff"/><stop offset="0.186" stop-color="#0022ff"/><stop offset="0.193" stop-color="#0000f6"/><stop offset="0.205" stop-color="#0000ad"/><stop offset="0.211" stop-color="#000091"/><stop offset="0.217" stop-color="#000080"/><stop offset="0.957" stop-color="#000083"/><stop offset="1.000" stop-color="#000088"/></linearGradient><linearGradient id="ge47" gradientUnits="userSpaceOnUse" x1="0" y1="578.5" x2="0" y2="1061.5"><stop offset="0.000" stop-color="#ffab00"/><stop offset="0.056" stop-color="#ffdc00"/><stop offset="0.081" stop-color="#fcff03"/><stop offset="0.099" stop-color="#d1ff2e"/><stop offset="0.130" stop-color="#67ff98"/><stop offset="0.143" stop-color="#32ffcd"/><stop offset="0.149" stop-color="#0ffff0"/><stop offset="0.155" stop-color="#00e7ff"/><stop offset="0.186" stop-color="#0013ff"/><stop offset="0.193" stop-color="#0000ea"/><stop offset="0.205" stop-color="#0000a6"/><stop offset="0.211" stop-color="#00008d"/><stop offset="0.217" stop-color="#000080"/><stop offset="0.963" stop-color="#000084"/><stop offset="1.000" stop-color="#000087"/></linearGradient><linearGradient id="ge48" gradientUnits="userSpaceOnUse" x1="0" y1="578.5" x2="0" y2="1061.5"><stop offset="0.000" stop-color="#ffa800"/><stop offset="0.050" stop-color="#ffd700"/><stop offset="0.075" stop-color="#ffff00"/><stop offset="0.099" stop-color="#c5ff3a"/><stop offset="0.124" stop-color="#73ff8c"/><stop offset="0.137" stop-color="#3fffc0"/><stop offset="0.143" stop-color="#1effe1"/><stop offset="0.149" stop-color="#00f7ff"/><stop offset="0.180" stop-color="#0027ff"/><stop offset="0.186" stop-color="#0001ff"/><stop offset="0.205" stop-color="#00009d"/><stop offset="0.211" stop-color="#000086"/><stop offset="0.224" stop-color="#000080"/><stop offset="0.963" stop-color="#000083"/><stop offset="1.000" stop-color="#000087"/></linearGradient><linearGradient id="ge49" gradientUnits="userSpaceOnUse" x1="0" y1="578.5" x2="0" y2="1061.5"><stop offset="0.000" stop-color="#ffa500"/><stop offset="0.043" stop-color="#ffcf00"/><stop offset="0.068" stop-color="#fffb00"/><stop offset="0.087" stop-color="#dbff24"/><stop offset="0.112" stop-color="#95ff6a"/><stop offset="0.130" stop-color="#4cffb3"/><stop offset="0.143" stop-color="#08fff7"/><stop offset="0.149" stop-color="#00deff"/><stop offset="0.174" stop-color="#0036ff"/><stop offset="0.180" stop-color="#0012ff"/><stop offset="0.186" stop-color="#0000ee"/><stop offset="0.205" stop-color="#000093"/><stop offset="0.211" stop-color="#000080"/><stop offset="0.963" stop-color="#000083"/><stop offset="1.000" stop-color="#000087"/></linearGradient><linearGradient id="ge50" gradientUnits="userSpaceOnUse" x1="0" y1="578.5" x2="0" y2="1061.5"><stop offset="0.000" stop-color="#ffa300"/><stop offset="0.037" stop-color="#ffc500"/><stop offset="0.068" stop-color="#feff01"/><stop offset="0.099" stop-color="#b4ff4b"/><stop offset="0.118" stop-color="#75ff8a"/><stop offset="0.130" stop-color="#3effc1"/><stop offset="0.137" stop-color="#1bffe4"/><stop offset="0.143" stop-color="#00f3ff"/><stop offset="0.168" stop-color="#0046ff"/><stop offset="0.180" stop-color="#0000fd"/><stop offset="0.199" stop-color="#0000a1"/><stop offset="0.205" stop-color="#000089"/><stop offset="0.211" stop-color="#000080"/><stop offset="0.963" stop-color="#000083"/><stop offset="1.000" stop-color="#000087"/></linearGradient><linearGradient id="ge51" gradientUnits="userSpaceOnUse" x1="0" y1="578.5" x2="0" y2="1061.5"><stop offset="0.000" stop-color="#ffa100"/><stop offset="0.037" stop-color="#ffc300"/><stop offset="0.062" stop-color="#fff200"/><stop offset="0.068" stop-color="#feff01"/><stop offset="0.099" stop-color="#b0ff4f"/><stop offset="0.118" stop-color="#6fff90"/><stop offset="0.130" stop-color="#33ffcc"/><stop offset="0.137" stop-color="#10ffef"/><stop offset="0.143" stop-color="#00e7ff"/><stop offset="0.168" stop-color="#003bff"/><stop offset="0.174" stop-color="#0015ff"/><stop offset="0.180" stop-color="#0000f0"/><stop offset="0.199" stop-color="#000099"/><stop offset="0.205" stop-color="#000084"/><stop offset="0.242" stop-color="#000080"/><stop offset="0.963" stop-color="#000084"/><stop offset="1.000" stop-color="#000087"/></linearGradient><linearGradient id="ge52" gradientUnits="userSpaceOnUse" x1="0" y1="578.5" x2="0" y2="1061.5"><stop offset="0.000" stop-color="#ffa000"/><stop offset="0.043" stop-color="#ffcb00"/><stop offset="0.068" stop-color="#fffe00"/><stop offset="0.099" stop-color="#b2ff4d"/><stop offset="0.118" stop-color="#6fff90"/><stop offset="0.137" stop-color="#0efff1"/><stop offset="0.143" stop-color="#00e6ff"/><stop offset="0.174" stop-color="#0017ff"/><stop offset="0.180" stop-color="#0000f3"/><stop offset="0.199" stop-color="#0000a0"/><stop offset="0.211" stop-color="#000080"/><stop offset="0.957" stop-color="#000083"/><stop offset="1.000" stop-color="#000087"/></linearGradient><linearGradient id="ge53" gradientUnits="userSpaceOnUse" x1="0" y1="578.5" x2="0" y2="1061.5"><stop offset="0.000" stop-color="#ff9e00"/><stop offset="0.043" stop-color="#ffce00"/><stop offset="0.068" stop-color="#fffd00"/><stop offset="0.099" stop-color="#b9ff46"/><stop offset="0.118" stop-color="#79ff86"/><stop offset="0.137" stop-color="#18ffe7"/><stop offset="0.143" stop-color="#00f0ff"/><stop offset="0.174" stop-color="#0026ff"/><stop offset="0.180" stop-color="#0005ff"/><stop offset="0.199" stop-color="#0000b6"/><stop offset="0.217" stop-color="#000085"/><stop offset="0.236" stop-color="#000080"/><stop offset="0.950" stop-color="#000083"/><stop offset="1.000" stop-color="#000088"/></linearGradient><linearGradient id="ge54" gradientUnits="userSpaceOnUse" x1="0" y1="578.5" x2="0" y2="1061.5"><stop offset="0.000" stop-color="#ff9900"/><stop offset="0.056" stop-color="#ffe300"/><stop offset="0.068" stop-color="#fffa00"/><stop offset="0.087" stop-color="#dfff20"/><stop offset="0.106" stop-color="#b3ff4c"/><stop offset="0.118" stop-color="#88ff77"/><stop offset="0.137" stop-color="#29ffd6"/><stop offset="0.143" stop-color="#05fffa"/><stop offset="0.155" stop-color="#00b7ff"/><stop offset="0.174" stop-color="#0041ff"/><stop offset="0.186" stop-color="#0005ff"/><stop offset="0.211" stop-color="#0000b0"/><stop offset="0.230" stop-color="#000088"/><stop offset="0.236" stop-color="#000080"/><stop offset="0.944" stop-color="#000084"/><stop offset="1.000" stop-color="#000088"/></linearGradient><linearGradient id="ge55" gradientUnits="userSpaceOnUse" x1="0" y1="578.5" x2="0" y2="1061.5"><stop offset="0.000" stop-color="#ff9200"/><stop offset="0.075" stop-color="#fffe00"/><stop offset="0.099" stop-color="#d0ff2f"/><stop offset="0.118" stop-color="#97ff68"/><stop offset="0.143" stop-color="#20ffdf"/><stop offset="0.149" stop-color="#00feff"/><stop offset="0.180" stop-color="#004bff"/><stop offset="0.193" stop-color="#0014ff"/><stop offset="0.199" stop-color="#0000fb"/><stop offset="0.224" stop-color="#0000b0"/><stop offset="0.248" stop-color="#000080"/><stop offset="0.932" stop-color="#000083"/><stop offset="1.000" stop-color="#000089"/></linearGradient><linearGradient id="ge56" gradientUnits="userSpaceOnUse" x1="0" y1="578.5" x2="0" y2="1061.5"><stop offset="0.000" stop-color="#ff8c00"/><stop offset="0.037" stop-color="#ffc600"/><stop offset="0.081" stop-color="#fffc00"/><stop offset="0.099" stop-color="#deff21"/><stop offset="0.118" stop-color="#a7ff58"/><stop offset="0.149" stop-color="#24ffdb"/><stop offset="0.155" stop-color="#07fff8"/><stop offset="0.161" stop-color="#00e7ff"/><stop offset="0.193" stop-color="#0043ff"/><stop offset="0.205" stop-color="#0010ff"/><stop offset="0.211" stop-color="#0000f9"/><stop offset="0.236" stop-color="#0000ae"/><stop offset="0.255" stop-color="#000085"/><stop offset="0.280" stop-color="#000080"/><stop offset="0.919" stop-color="#000083"/><stop offset="1.000" stop-color="#00008a"/></linearGradient><linearGradient id="ge57" gradientUnits="userSpaceOnUse" x1="0" y1="578.5" x2="0" y2="1061.5"><stop offset="0.000" stop-color="#ff8a00"/><stop offset="0.037" stop-color="#ffc200"/><stop offset="0.075" stop-color="#ffe800"/><stop offset="0.087" stop-color="#fffb00"/><stop offset="0.106" stop-color="#dcff23"/><stop offset="0.124" stop-color="#a6ff59"/><stop offset="0.168" stop-color="#00fdff"/><stop offset="0.205" stop-color="#0043ff"/><stop offset="0.217" stop-color="#000eff"/><stop offset="0.224" stop-color="#0000f6"/><stop offset="0.248" stop-color="#0000a7"/><stop offset="0.267" stop-color="#000080"/><stop offset="0.907" stop-color="#000084"/><stop offset="1.000" stop-color="#00008b"/></linearGradient><linearGradient id="ge58" gradientUnits="userSpaceOnUse" x1="0" y1="578.5" x2="0" y2="1061.5"><stop offset="0.000" stop-color="#ff8600"/><stop offset="0.037" stop-color="#ffbe00"/><stop offset="0.075" stop-color="#ffdf00"/><stop offset="0.093" stop-color="#fffb00"/><stop offset="0.112" stop-color="#e0ff1f"/><stop offset="0.137" stop-color="#9aff65"/><stop offset="0.174" stop-color="#1effe1"/><stop offset="0.180" stop-color="#05fffa"/><stop offset="0.193" stop-color="#00c8ff"/><stop offset="0.217" stop-color="#0042ff"/><stop offset="0.230" stop-color="#000aff"/><stop offset="0.236" stop-color="#0000ef"/><stop offset="0.255" stop-color="#0000ac"/><stop offset="0.273" stop-color="#000080"/><stop offset="0.888" stop-color="#000084"/><stop offset="1.000" stop-color="#00008c"/></linearGradient><linearGradient id="ge59" gradientUnits="userSpaceOnUse" x1="0" y1="578.5" x2="0" y2="1061.5"><stop offset="0.000" stop-color="#ff8000"/><stop offset="0.037" stop-color="#ffb800"/><stop offset="0.087" stop-color="#ffe800"/><stop offset="0.106" stop-color="#fcff03"/><stop offset="0.124" stop-color="#d8ff27"/><stop offset="0.180" stop-color="#3bffc4"/><stop offset="0.193" stop-color="#09fff6"/><stop offset="0.199" stop-color="#00e8ff"/><stop offset="0.230" stop-color="#0037ff"/><stop offset="0.242" stop-color="#0000fa"/><stop offset="0.261" stop-color="#0000b2"/><stop offset="0.273" stop-color="#000093"/><stop offset="0.292" stop-color="#000080"/><stop offset="0.863" stop-color="#000084"/><stop offset="1.000" stop-color="#00008d"/></linearGradient><linearGradient id="ge60" gradientUnits="userSpaceOnUse" x1="0" y1="578.5" x2="0" y2="1061.5"><stop offset="0.000" stop-color="#ff7e00"/><stop offset="0.043" stop-color="#ffb900"/><stop offset="0.099" stop-color="#fff100"/><stop offset="0.112" stop-color="#fcff03"/><stop offset="0.137" stop-color="#c8ff37"/><stop offset="0.180" stop-color="#57ffa8"/><stop offset="0.193" stop-color="#2bffd4"/><stop offset="0.199" stop-color="#0efff1"/><stop offset="0.205" stop-color="#00eaff"/><stop offset="0.236" stop-color="#0038ff"/><stop offset="0.248" stop-color="#0000fb"/><stop offset="0.267" stop-color="#0000b8"/><stop offset="0.280" stop-color="#00009d"/><stop offset="0.304" stop-color="#00008b"/><stop offset="0.404" stop-color="#000082"/><stop offset="0.832" stop-color="#000084"/><stop offset="1.000" stop-color="#00008e"/></linearGradient><linearGradient id="ge61" gradientUnits="userSpaceOnUse" x1="0" y1="578.5" x2="0" y2="1061.5"><stop offset="0.000" stop-color="#ff7d00"/><stop offset="0.043" stop-color="#ffb700"/><stop offset="0.106" stop-color="#fff700"/><stop offset="0.112" stop-color="#ffff00"/><stop offset="0.143" stop-color="#beff41"/><stop offset="0.180" stop-color="#5fffa0"/><stop offset="0.193" stop-color="#33ffcc"/><stop offset="0.199" stop-color="#16ffe9"/><stop offset="0.205" stop-color="#00f4ff"/><stop offset="0.236" stop-color="#0042ff"/><stop offset="0.248" stop-color="#0006ff"/><stop offset="0.261" stop-color="#0000d4"/><stop offset="0.280" stop-color="#0000a6"/><stop offset="0.304" stop-color="#000091"/><stop offset="0.391" stop-color="#000084"/><stop offset="0.807" stop-color="#000083"/><stop offset="1.000" stop-color="#00008e"/></linearGradient><linearGradient id="ge62" gradientUnits="userSpaceOnUse" x1="0" y1="578.5" x2="0" y2="1061.5"><stop offset="0.000" stop-color="#ff7d00"/><stop offset="0.043" stop-color="#ffb700"/><stop offset="0.106" stop-color="#fff600"/><stop offset="0.112" stop-color="#ffff00"/><stop offset="0.143" stop-color="#beff41"/><stop offset="0.180" stop-color="#5fffa0"/><stop offset="0.193" stop-color="#34ffcb"/><stop offset="0.199" stop-color="#17ffe8"/><stop offset="0.205" stop-color="#00f5ff"/><stop offset="0.236" stop-color="#0043ff"/><stop offset="0.248" stop-color="#0007ff"/><stop offset="0.261" stop-color="#0000d5"/><stop offset="0.280" stop-color="#0000a6"/><stop offset="0.304" stop-color="#000091"/><stop offset="0.391" stop-color="#000085"/><stop offset="0.807" stop-color="#000083"/><stop offset="1.000" stop-color="#00008e"/></linearGradient><linearGradient id="ge63" gradientUnits="userSpaceOnUse" x1="0" y1="578.5" x2="0" y2="1061.5"><stop offset="0.000" stop-color="#ff7d00"/><stop offset="0.043" stop-color="#ffb700"/><stop offset="0.106" stop-color="#fff600"/><stop offset="0.112" stop-color="#ffff00"/><stop offset="0.143" stop-color="#beff41"/><stop offset="0.180" stop-color="#5fffa0"/><stop offset="0.193" stop-color="#34ffcb"/><stop offset="0.199" stop-color="#17ffe8"/><stop offset="0.205" stop-color="#00f5ff"/><stop offset="0.236" stop-color="#0043ff"/><stop offset="0.248" stop-color="#0007ff"/><stop offset="0.261" stop-color="#0000d5"/><stop offset="0.280" stop-color="#0000a6"/><stop offset="0.304" stop-color="#000091"/><stop offset="0.391" stop-color="#000085"/><stop offset="0.807" stop-color="#000083"/><stop offset="1.000" stop-color="#00008e"/></linearGradient><clipPath id="cpe"><polygon points="904.8,584 1590.4,584 1590.4,972.5 1508,994.3 1414.5,1006.1 1322.5,982.5 1229.5,947.1 1136.5,923.5 1043.5,888.1 951,805.5 904.8,770.1"/></clipPath><filter id="ble" filterUnits="userSpaceOnUse" x="864.8" y="563.5" width="776.2" height="505"><feGaussianBlur stdDeviation="6.6 0"/></filter><linearGradient id="gf0" gradientUnits="userSpaceOnUse" x1="0" y1="1118.5" x2="0" y2="1601.5"><stop offset="0.000" stop-color="#0000bd"/><stop offset="0.087" stop-color="#0000d7"/><stop offset="0.137" stop-color="#0000d5"/><stop offset="0.168" stop-color="#0000c1"/><stop offset="0.211" stop-color="#00009a"/><stop offset="0.298" stop-color="#000091"/><stop offset="1.000" stop-color="#000091"/></linearGradient><linearGradient id="gf1" gradientUnits="userSpaceOnUse" x1="0" y1="1118.5" x2="0" y2="1601.5"><stop offset="0.000" stop-color="#0000bd"/><stop offset="0.087" stop-color="#0000d7"/><stop offset="0.137" stop-color="#0000d5"/><stop offset="0.168" stop-color="#0000c1"/><stop offset="0.211" stop-color="#00009a"/><stop offset="0.298" stop-color="#000091"/><stop offset="1.000" stop-color="#000091"/></linearGradient><linearGradient id="gf2" gradientUnits="userSpaceOnUse" x1="0" y1="1118.5" x2="0" y2="1601.5"><stop offset="0.000" stop-color="#0000bd"/><stop offset="0.087" stop-color="#0000d7"/><stop offset="0.137" stop-color="#0000d5"/><stop offset="0.168" stop-color="#0000c2"/><stop offset="0.211" stop-color="#00009a"/><stop offset="0.292" stop-color="#000091"/><stop offset="1.000" stop-color="#000091"/></linearGradient><linearGradient id="gf3" gradientUnits="userSpaceOnUse" x1="0" y1="1118.5" x2="0" y2="1601.5"><stop offset="0.000" stop-color="#0000bc"/><stop offset="0.081" stop-color="#0000d7"/><stop offset="0.137" stop-color="#0000d5"/><stop offset="0.168" stop-color="#0000c2"/><stop offset="0.211" stop-color="#00009a"/><stop offset="0.292" stop-color="#000091"/><stop offset="1.000" stop-color="#000091"/></linearGradient><linearGradient id="gf4" gradientUnits="userSpaceOnUse" x1="0" y1="1118.5" x2="0" y2="1601.5"><stop offset="0.000" stop-color="#0000bb"/><stop offset="0.075" stop-color="#0000d6"/><stop offset="0.124" stop-color="#0000d8"/><stop offset="0.161" stop-color="#0000c7"/><stop offset="0.211" stop-color="#00009a"/><stop offset="0.286" stop-color="#000091"/><stop offset="1.000" stop-color="#000091"/></linearGradient><linearGradient id="gf5" gradientUnits="userSpaceOnUse" x1="0" y1="1118.5" x2="0" y2="1601.5"><stop offset="0.000" stop-color="#0000b9"/><stop offset="0.050" stop-color="#0000d0"/><stop offset="0.099" stop-color="#0000df"/><stop offset="0.161" stop-color="#0000c7"/><stop offset="0.211" stop-color="#00009a"/><stop offset="0.286" stop-color="#000091"/><stop offset="1.000" stop-color="#000091"/></linearGradient><linearGradient id="gf6" gradientUnits="userSpaceOnUse" x1="0" y1="1118.5" x2="0" y2="1601.5"><stop offset="0.000" stop-color="#0000b7"/><stop offset="0.043" stop-color="#0000d3"/><stop offset="0.075" stop-color="#0000e1"/><stop offset="0.093" stop-color="#0000e8"/><stop offset="0.168" stop-color="#0000c1"/><stop offset="0.211" stop-color="#00009b"/><stop offset="0.286" stop-color="#000091"/><stop offset="1.000" stop-color="#000091"/></linearGradient><linearGradient id="gf7" gradientUnits="userSpaceOnUse" x1="0" y1="1118.5" x2="0" y2="1601.5"><stop offset="0.000" stop-color="#0000b5"/><stop offset="0.037" stop-color="#0000db"/><stop offset="0.062" stop-color="#0000e3"/><stop offset="0.087" stop-color="#0000fb"/><stop offset="0.106" stop-color="#0000ed"/><stop offset="0.130" stop-color="#0000d6"/><stop offset="0.168" stop-color="#0000bf"/><stop offset="0.211" stop-color="#00009b"/><stop offset="0.286" stop-color="#000091"/><stop offset="1.000" stop-color="#000091"/></linearGradient><linearGradient id="gf8" gradientUnits="userSpaceOnUse" x1="0" y1="1118.5" x2="0" y2="1601.5"><stop offset="0.000" stop-color="#0000b3"/><stop offset="0.019" stop-color="#0000cf"/><stop offset="0.037" stop-color="#0000ee"/><stop offset="0.062" stop-color="#0000f1"/><stop offset="0.075" stop-color="#0008ff"/><stop offset="0.087" stop-color="#0015ff"/><stop offset="0.106" stop-color="#0000f9"/><stop offset="0.124" stop-color="#0000dd"/><stop offset="0.161" stop-color="#0000c7"/><stop offset="0.211" stop-color="#00009b"/><stop offset="0.286" stop-color="#000090"/><stop offset="1.000" stop-color="#000091"/></linearGradient><linearGradient id="gf9" gradientUnits="userSpaceOnUse" x1="0" y1="1118.5" x2="0" y2="1601.5"><stop offset="0.000" stop-color="#0000b4"/><stop offset="0.012" stop-color="#0000ca"/><stop offset="0.031" stop-color="#0001ff"/><stop offset="0.037" stop-color="#000aff"/><stop offset="0.062" stop-color="#0001ff"/><stop offset="0.081" stop-color="#0027ff"/><stop offset="0.087" stop-color="#002bff"/><stop offset="0.099" stop-color="#0019ff"/><stop offset="0.112" stop-color="#0000f9"/><stop offset="0.124" stop-color="#0000e9"/><stop offset="0.155" stop-color="#0000e0"/><stop offset="0.193" stop-color="#0000a9"/><stop offset="0.224" stop-color="#000096"/><stop offset="0.416" stop-color="#00008f"/><stop offset="1.000" stop-color="#000091"/></linearGradient><linearGradient id="gf10" gradientUnits="userSpaceOnUse" x1="0" y1="1118.5" x2="0" y2="1601.5"><stop offset="0.000" stop-color="#0000b5"/><stop offset="0.012" stop-color="#0000d2"/><stop offset="0.025" stop-color="#0001ff"/><stop offset="0.031" stop-color="#0013ff"/><stop offset="0.037" stop-color="#001dff"/><stop offset="0.062" stop-color="#0018ff"/><stop offset="0.081" stop-color="#003dff"/><stop offset="0.087" stop-color="#0043ff"/><stop offset="0.093" stop-color="#003eff"/><stop offset="0.118" stop-color="#0006ff"/><stop offset="0.130" stop-color="#0002ff"/><stop offset="0.149" stop-color="#000bff"/><stop offset="0.161" stop-color="#0000fe"/><stop offset="0.186" stop-color="#0000b8"/><stop offset="0.205" stop-color="#00009f"/><stop offset="0.255" stop-color="#000091"/><stop offset="1.000" stop-color="#000091"/></linearGradient><linearGradient id="gf11" gradientUnits="userSpaceOnUse" x1="0" y1="1118.5" x2="0" y2="1601.5"><stop offset="0.000" stop-color="#0000b2"/><stop offset="0.012" stop-color="#0000cf"/><stop offset="0.025" stop-color="#0000fe"/><stop offset="0.037" stop-color="#0022ff"/><stop offset="0.050" stop-color="#0028ff"/><stop offset="0.062" stop-color="#002bff"/><stop offset="0.075" stop-color="#0049ff"/><stop offset="0.081" stop-color="#005bff"/><stop offset="0.087" stop-color="#0065ff"/><stop offset="0.093" stop-color="#0060ff"/><stop offset="0.112" stop-color="#0029ff"/><stop offset="0.124" stop-color="#001bff"/><stop offset="0.149" stop-color="#002bff"/><stop offset="0.155" stop-color="#0029ff"/><stop offset="0.161" stop-color="#001dff"/><stop offset="0.168" stop-color="#0009ff"/><stop offset="0.174" stop-color="#0000ee"/><stop offset="0.186" stop-color="#0000c0"/><stop offset="0.199" stop-color="#0000a6"/><stop offset="0.224" stop-color="#000096"/><stop offset="0.416" stop-color="#00008f"/><stop offset="1.000" stop-color="#000091"/></linearGradient><linearGradient id="gf12" gradientUnits="userSpaceOnUse" x1="0" y1="1118.5" x2="0" y2="1601.5"><stop offset="0.000" stop-color="#0000ad"/><stop offset="0.012" stop-color="#0000ca"/><stop offset="0.025" stop-color="#0000fb"/><stop offset="0.037" stop-color="#0028ff"/><stop offset="0.050" stop-color="#0034ff"/><stop offset="0.062" stop-color="#0038ff"/><stop offset="0.068" stop-color="#0047ff"/><stop offset="0.081" stop-color="#007bff"/><stop offset="0.087" stop-color="#008aff"/><stop offset="0.093" stop-color="#0085ff"/><stop offset="0.112" stop-color="#003eff"/><stop offset="0.118" stop-color="#0032ff"/><stop offset="0.130" stop-color="#0035ff"/><stop offset="0.149" stop-color="#0041ff"/><stop offset="0.155" stop-color="#003bff"/><stop offset="0.161" stop-color="#002bff"/><stop offset="0.168" stop-color="#0013ff"/><stop offset="0.174" stop-color="#0000f4"/><stop offset="0.186" stop-color="#0000c1"/><stop offset="0.199" stop-color="#0000a5"/><stop offset="0.224" stop-color="#000096"/><stop offset="0.441" stop-color="#00008f"/><stop offset="1.000" stop-color="#000091"/></linearGradient><linearGradient id="gf13" gradientUnits="userSpaceOnUse" x1="0" y1="1118.5" x2="0" y2="1601.5"><stop offset="0.000" stop-color="#0000ab"/><stop offset="0.012" stop-color="#0000c9"/><stop offset="0.025" stop-color="#0004ff"/><stop offset="0.037" stop-color="#003aff"/><stop offset="0.043" stop-color="#0044ff"/><stop offset="0.062" stop-color="#0041ff"/><stop offset="0.068" stop-color="#0051ff"/><stop offset="0.081" stop-color="#008cff"/><stop offset="0.087" stop-color="#009fff"/><stop offset="0.093" stop-color="#009bff"/><stop offset="0.112" stop-color="#004dff"/><stop offset="0.118" stop-color="#0040ff"/><stop offset="0.130" stop-color="#0049ff"/><stop offset="0.143" stop-color="#0057ff"/><stop offset="0.149" stop-color="#0055ff"/><stop offset="0.155" stop-color="#0049ff"/><stop offset="0.161" stop-color="#0033ff"/><stop offset="0.168" stop-color="#0015ff"/><stop offset="0.174" stop-color="#0000f3"/><stop offset="0.186" stop-color="#0000be"/><stop offset="0.199" stop-color="#0000a4"/><stop offset="0.230" stop-color="#000094"/><stop offset="0.783" stop-color="#000091"/><stop offset="1.000" stop-color="#000091"/></linearGradient><linearGradient id="gf14" gradientUnits="userSpaceOnUse" x1="0" y1="1118.5" x2="0" y2="1601.5"><stop offset="0.000" stop-color="#0000aa"/><stop offset="0.012" stop-color="#0000ca"/><stop offset="0.019" stop-color="#0000e6"/><stop offset="0.025" stop-color="#0009ff"/><stop offset="0.031" stop-color="#002aff"/><stop offset="0.037" stop-color="#0042ff"/><stop offset="0.043" stop-color="#004cff"/><stop offset="0.062" stop-color="#0040ff"/><stop offset="0.068" stop-color="#004dff"/><stop offset="0.081" stop-color="#0083ff"/><stop offset="0.087" stop-color="#0097ff"/><stop offset="0.093" stop-color="#0098ff"/><stop offset="0.112" stop-color="#005bff"/><stop offset="0.118" stop-color="#0052ff"/><stop offset="0.130" stop-color="#005fff"/><stop offset="0.143" stop-color="#006bff"/><stop offset="0.149" stop-color="#0066ff"/><stop offset="0.155" stop-color="#0056ff"/><stop offset="0.168" stop-color="#001eff"/><stop offset="0.174" stop-color="#0000fb"/><stop offset="0.186" stop-color="#0000c3"/><stop offset="0.199" stop-color="#0000a7"/><stop offset="0.224" stop-color="#000096"/><stop offset="0.398" stop-color="#00008f"/><stop offset="1.000" stop-color="#000091"/></linearGradient><linearGradient id="gf15" gradientUnits="userSpaceOnUse" x1="0" y1="1118.5" x2="0" y2="1601.5"><stop offset="0.000" stop-color="#0000ac"/><stop offset="0.012" stop-color="#0000ce"/><stop offset="0.019" stop-color="#0000ea"/><stop offset="0.025" stop-color="#000aff"/><stop offset="0.031" stop-color="#0026ff"/><stop offset="0.037" stop-color="#0039ff"/><stop offset="0.043" stop-color="#0041ff"/><stop offset="0.062" stop-color="#0039ff"/><stop offset="0.068" stop-color="#0041ff"/><stop offset="0.087" stop-color="#007bff"/><stop offset="0.093" stop-color="#0082ff"/><stop offset="0.112" stop-color="#006fff"/><stop offset="0.124" stop-color="#0074ff"/><stop offset="0.137" stop-color="#0082ff"/><stop offset="0.143" stop-color="#0080ff"/><stop offset="0.149" stop-color="#0075ff"/><stop offset="0.161" stop-color="#0046ff"/><stop offset="0.174" stop-color="#0003ff"/><stop offset="0.186" stop-color="#0000c8"/><stop offset="0.199" stop-color="#0000a9"/><stop offset="0.224" stop-color="#000096"/><stop offset="0.354" stop-color="#000090"/><stop offset="1.000" stop-color="#000091"/></linearGradient><linearGradient id="gf16" gradientUnits="userSpaceOnUse" x1="0" y1="1118.5" x2="0" y2="1601.5"><stop offset="0.000" stop-color="#0000ac"/><stop offset="0.012" stop-color="#0000ce"/><stop offset="0.025" stop-color="#0008ff"/><stop offset="0.031" stop-color="#0021ff"/><stop offset="0.037" stop-color="#0030ff"/><stop offset="0.050" stop-color="#0036ff"/><stop offset="0.062" stop-color="#0036ff"/><stop offset="0.075" stop-color="#0047ff"/><stop offset="0.093" stop-color="#0070ff"/><stop offset="0.137" stop-color="#009cff"/><stop offset="0.143" stop-color="#0096ff"/><stop offset="0.149" stop-color="#0086ff"/><stop offset="0.161" stop-color="#004aff"/><stop offset="0.174" stop-color="#0000fd"/><stop offset="0.186" stop-color="#0000c5"/><stop offset="0.199" stop-color="#0000a9"/><stop offset="0.224" stop-color="#000096"/><stop offset="0.335" stop-color="#000091"/><stop offset="1.000" stop-color="#000091"/></linearGradient><linearGradient id="gf17" gradientUnits="userSpaceOnUse" x1="0" y1="1118.5" x2="0" y2="1601.5"><stop offset="0.000" stop-color="#0000ac"/><stop offset="0.012" stop-color="#0000ca"/><stop offset="0.025" stop-color="#0000fd"/><stop offset="0.037" stop-color="#0026ff"/><stop offset="0.050" stop-color="#0031ff"/><stop offset="0.068" stop-color="#0038ff"/><stop offset="0.099" stop-color="#0071ff"/><stop offset="0.130" stop-color="#00b0ff"/><stop offset="0.137" stop-color="#00b4ff"/><stop offset="0.143" stop-color="#00adff"/><stop offset="0.149" stop-color="#0099ff"/><stop offset="0.155" stop-color="#0079ff"/><stop offset="0.168" stop-color="#0024ff"/><stop offset="0.174" stop-color="#0000fb"/><stop offset="0.180" stop-color="#0000da"/><stop offset="0.193" stop-color="#0000b3"/><stop offset="0.211" stop-color="#00009c"/><stop offset="0.280" stop-color="#000090"/><stop offset="1.000" stop-color="#000091"/></linearGradient><linearGradient id="gf18" gradientUnits="userSpaceOnUse" x1="0" y1="1118.5" x2="0" y2="1601.5"><stop offset="0.000" stop-color="#0000ad"/><stop offset="0.012" stop-color="#0000c6"/><stop offset="0.031" stop-color="#0006ff"/><stop offset="0.043" stop-color="#0020ff"/><stop offset="0.075" stop-color="#0034ff"/><stop offset="0.093" stop-color="#0056ff"/><stop offset="0.130" stop-color="#00bcff"/><stop offset="0.137" stop-color="#00c2ff"/><stop offset="0.143" stop-color="#00bcff"/><stop offset="0.149" stop-color="#00a8ff"/><stop offset="0.155" stop-color="#0086ff"/><stop offset="0.174" stop-color="#0002ff"/><stop offset="0.186" stop-color="#0000c6"/><stop offset="0.199" stop-color="#0000a9"/><stop offset="0.224" stop-color="#000096"/><stop offset="0.323" stop-color="#000091"/><stop offset="1.000" stop-color="#000091"/></linearGradient><linearGradient id="gf19" gradientUnits="userSpaceOnUse" x1="0" y1="1118.5" x2="0" y2="1601.5"><stop offset="0.000" stop-color="#0000af"/><stop offset="0.019" stop-color="#0000d0"/><stop offset="0.037" stop-color="#0000fd"/><stop offset="0.081" stop-color="#0028ff"/><stop offset="0.099" stop-color="#0051ff"/><stop offset="0.130" stop-color="#00bfff"/><stop offset="0.137" stop-color="#00c8ff"/><stop offset="0.143" stop-color="#00c4ff"/><stop offset="0.149" stop-color="#00b1ff"/><stop offset="0.155" stop-color="#008eff"/><stop offset="0.174" stop-color="#0004ff"/><stop offset="0.186" stop-color="#0000c5"/><stop offset="0.199" stop-color="#0000a8"/><stop offset="0.224" stop-color="#000096"/><stop offset="0.323" stop-color="#000091"/><stop offset="1.000" stop-color="#000091"/></linearGradient><linearGradient id="gf20" gradientUnits="userSpaceOnUse" x1="0" y1="1118.5" x2="0" y2="1601.5"><stop offset="0.000" stop-color="#0000b0"/><stop offset="0.043" stop-color="#0000ef"/><stop offset="0.068" stop-color="#0001ff"/><stop offset="0.087" stop-color="#001aff"/><stop offset="0.099" stop-color="#0037ff"/><stop offset="0.112" stop-color="#0069ff"/><stop offset="0.124" stop-color="#00a8ff"/><stop offset="0.130" stop-color="#00c0ff"/><stop offset="0.137" stop-color="#00cdff"/><stop offset="0.143" stop-color="#00cbff"/><stop offset="0.149" stop-color="#00b7ff"/><stop offset="0.155" stop-color="#0094ff"/><stop offset="0.174" stop-color="#0004ff"/><stop offset="0.186" stop-color="#0000c3"/><stop offset="0.199" stop-color="#0000a7"/><stop offset="0.224" stop-color="#000096"/><stop offset="0.323" stop-color="#000091"/><stop offset="1.000" stop-color="#000091"/></linearGradient><linearGradient id="gf21" gradientUnits="userSpaceOnUse" x1="0" y1="1118.5" x2="0" y2="1601.5"><stop offset="0.000" stop-color="#0000b2"/><stop offset="0.043" stop-color="#0000de"/><stop offset="0.075" stop-color="#0000f3"/><stop offset="0.087" stop-color="#0006ff"/><stop offset="0.099" stop-color="#0024ff"/><stop offset="0.112" stop-color="#005eff"/><stop offset="0.124" stop-color="#00aaff"/><stop offset="0.130" stop-color="#00c7ff"/><stop offset="0.137" stop-color="#00d6ff"/><stop offset="0.143" stop-color="#00d4ff"/><stop offset="0.149" stop-color="#00c0ff"/><stop offset="0.155" stop-color="#009dff"/><stop offset="0.174" stop-color="#000dff"/><stop offset="0.180" stop-color="#0000e5"/><stop offset="0.186" stop-color="#0000c9"/><stop offset="0.199" stop-color="#0000a9"/><stop offset="0.224" stop-color="#000096"/><stop offset="0.323" stop-color="#000091"/><stop offset="1.000" stop-color="#000091"/></linearGradient><linearGradient id="gf22" gradientUnits="userSpaceOnUse" x1="0" y1="1118.5" x2="0" y2="1601.5"><stop offset="0.000" stop-color="#0000b4"/><stop offset="0.050" stop-color="#0000d8"/><stop offset="0.075" stop-color="#0000e9"/><stop offset="0.087" stop-color="#0000fd"/><stop offset="0.093" stop-color="#000dff"/><stop offset="0.099" stop-color="#0022ff"/><stop offset="0.112" stop-color="#0064ff"/><stop offset="0.124" stop-color="#00b5ff"/><stop offset="0.130" stop-color="#00d3ff"/><stop offset="0.137" stop-color="#00e3ff"/><stop offset="0.143" stop-color="#00e0ff"/><stop offset="0.149" stop-color="#00caff"/><stop offset="0.155" stop-color="#00a5ff"/><stop offset="0.174" stop-color="#0011ff"/><stop offset="0.180" stop-color="#0000e8"/><stop offset="0.186" stop-color="#0000cb"/><stop offset="0.199" stop-color="#0000aa"/><stop offset="0.224" stop-color="#000097"/><stop offset="0.317" stop-color="#000091"/><stop offset="1.000" stop-color="#000091"/></linearGradient><linearGradient id="gf23" gradientUnits="userSpaceOnUse" x1="0" y1="1118.5" x2="0" y2="1601.5"><stop offset="0.000" stop-color="#0000b6"/><stop offset="0.075" stop-color="#0000e8"/><stop offset="0.087" stop-color="#0000fe"/><stop offset="0.093" stop-color="#0011ff"/><stop offset="0.099" stop-color="#0029ff"/><stop offset="0.112" stop-color="#0072ff"/><stop offset="0.124" stop-color="#00c2ff"/><stop offset="0.130" stop-color="#00deff"/><stop offset="0.137" stop-color="#00ecff"/><stop offset="0.143" stop-color="#00e7ff"/><stop offset="0.149" stop-color="#00d0ff"/><stop offset="0.155" stop-color="#00a8ff"/><stop offset="0.174" stop-color="#000cff"/><stop offset="0.180" stop-color="#0000e3"/><stop offset="0.186" stop-color="#0000c7"/><stop offset="0.199" stop-color="#0000a9"/><stop offset="0.224" stop-color="#000097"/><stop offset="0.317" stop-color="#000091"/><stop offset="1.000" stop-color="#000091"/></linearGradient><linearGradient id="gf24" gradientUnits="userSpaceOnUse" x1="0" y1="1118.5" x2="0" y2="1601.5"><stop offset="0.000" stop-color="#0000b7"/><stop offset="0.068" stop-color="#0000e4"/><stop offset="0.087" stop-color="#0005ff"/><stop offset="0.099" stop-color="#0035ff"/><stop offset="0.124" stop-color="#00cdff"/><stop offset="0.130" stop-color="#00e6ff"/><stop offset="0.137" stop-color="#00f1ff"/><stop offset="0.143" stop-color="#00ebff"/><stop offset="0.149" stop-color="#00d3ff"/><stop offset="0.155" stop-color="#00aaff"/><stop offset="0.174" stop-color="#000bff"/><stop offset="0.180" stop-color="#0000e3"/><stop offset="0.186" stop-color="#0000c7"/><stop offset="0.199" stop-color="#0000aa"/><stop offset="0.224" stop-color="#000097"/><stop offset="0.311" stop-color="#000091"/><stop offset="1.000" stop-color="#000091"/></linearGradient><linearGradient id="gf25" gradientUnits="userSpaceOnUse" x1="0" y1="1118.5" x2="0" y2="1601.5"><stop offset="0.000" stop-color="#0000b7"/><stop offset="0.068" stop-color="#0000e9"/><stop offset="0.081" stop-color="#0000fd"/><stop offset="0.087" stop-color="#000eff"/><stop offset="0.099" stop-color="#0042ff"/><stop offset="0.124" stop-color="#00dbff"/><stop offset="0.130" stop-color="#00f3ff"/><stop offset="0.137" stop-color="#00fcff"/><stop offset="0.143" stop-color="#00f4ff"/><stop offset="0.149" stop-color="#00daff"/><stop offset="0.155" stop-color="#00b0ff"/><stop offset="0.174" stop-color="#000fff"/><stop offset="0.180" stop-color="#0000e7"/><stop offset="0.186" stop-color="#0000cb"/><stop offset="0.199" stop-color="#0000ac"/><stop offset="0.224" stop-color="#000098"/><stop offset="0.311" stop-color="#000091"/><stop offset="1.000" stop-color="#000091"/></linearGradient><linearGradient id="gf26" gradientUnits="userSpaceOnUse" x1="0" y1="1118.5" x2="0" y2="1601.5"><stop offset="0.000" stop-color="#0000b7"/><stop offset="0.068" stop-color="#0000f1"/><stop offset="0.081" stop-color="#0007ff"/><stop offset="0.093" stop-color="#0031ff"/><stop offset="0.106" stop-color="#0077ff"/><stop offset="0.118" stop-color="#00c9ff"/><stop offset="0.124" stop-color="#00ecff"/><stop offset="0.130" stop-color="#04fffb"/><stop offset="0.137" stop-color="#0cfff3"/><stop offset="0.143" stop-color="#01fffe"/><stop offset="0.149" stop-color="#00e4ff"/><stop offset="0.155" stop-color="#00b7ff"/><stop offset="0.174" stop-color="#0015ff"/><stop offset="0.180" stop-color="#0000eb"/><stop offset="0.186" stop-color="#0000ce"/><stop offset="0.199" stop-color="#0000ae"/><stop offset="0.224" stop-color="#000098"/><stop offset="0.304" stop-color="#000090"/><stop offset="1.000" stop-color="#000091"/></linearGradient><linearGradient id="gf27" gradientUnits="userSpaceOnUse" x1="0" y1="1118.5" x2="0" y2="1601.5"><stop offset="0.000" stop-color="#0000b7"/><stop offset="0.068" stop-color="#0000fc"/><stop offset="0.081" stop-color="#0013ff"/><stop offset="0.093" stop-color="#003fff"/><stop offset="0.106" stop-color="#0088ff"/><stop offset="0.118" stop-color="#00d8ff"/><stop offset="0.124" stop-color="#00f9ff"/><stop offset="0.130" stop-color="#0ffff0"/><stop offset="0.137" stop-color="#14ffeb"/><stop offset="0.143" stop-color="#07fff8"/><stop offset="0.149" stop-color="#00e7ff"/><stop offset="0.155" stop-color="#00baff"/><stop offset="0.174" stop-color="#001cff"/><stop offset="0.180" stop-color="#0000f2"/><stop offset="0.186" stop-color="#0000d4"/><stop offset="0.199" stop-color="#0000b2"/><stop offset="0.224" stop-color="#000099"/><stop offset="0.298" stop-color="#000090"/><stop offset="1.000" stop-color="#000091"/></linearGradient><linearGradient id="gf28" gradientUnits="userSpaceOnUse" x1="0" y1="1118.5" x2="0" y2="1601.5"><stop offset="0.000" stop-color="#0000b7"/><stop offset="0.043" stop-color="#0000e6"/><stop offset="0.062" stop-color="#0002ff"/><stop offset="0.081" stop-color="#0025ff"/><stop offset="0.093" stop-color="#0051ff"/><stop offset="0.118" stop-color="#00e6ff"/><stop offset="0.124" stop-color="#03fffc"/><stop offset="0.130" stop-color="#13ffec"/><stop offset="0.137" stop-color="#13ffec"/><stop offset="0.143" stop-color="#03fffc"/><stop offset="0.149" stop-color="#00e2ff"/><stop offset="0.161" stop-color="#0087ff"/><stop offset="0.174" stop-color="#0025ff"/><stop offset="0.180" stop-color="#0000fd"/><stop offset="0.186" stop-color="#0000de"/><stop offset="0.199" stop-color="#0000b8"/><stop offset="0.217" stop-color="#00009f"/><stop offset="0.267" stop-color="#000091"/><stop offset="1.000" stop-color="#000091"/></linearGradient><linearGradient id="gf29" gradientUnits="userSpaceOnUse" x1="0" y1="1118.5" x2="0" y2="1601.5"><stop offset="0.000" stop-color="#0000b6"/><stop offset="0.031" stop-color="#0000d9"/><stop offset="0.050" stop-color="#0000f9"/><stop offset="0.062" stop-color="#0012ff"/><stop offset="0.081" stop-color="#003cff"/><stop offset="0.093" stop-color="#006aff"/><stop offset="0.118" stop-color="#00f9ff"/><stop offset="0.124" stop-color="#14ffeb"/><stop offset="0.130" stop-color="#1fffe0"/><stop offset="0.137" stop-color="#18ffe7"/><stop offset="0.143" stop-color="#02fffd"/><stop offset="0.149" stop-color="#00dfff"/><stop offset="0.174" stop-color="#002dff"/><stop offset="0.180" stop-color="#0007ff"/><stop offset="0.193" stop-color="#0000ce"/><stop offset="0.205" stop-color="#0000b0"/><stop offset="0.230" stop-color="#000099"/><stop offset="0.311" stop-color="#000090"/><stop offset="1.000" stop-color="#000091"/></linearGradient><linearGradient id="gf30" gradientUnits="userSpaceOnUse" x1="0" y1="1118.5" x2="0" y2="1601.5"><stop offset="0.000" stop-color="#0000b6"/><stop offset="0.025" stop-color="#0000d2"/><stop offset="0.050" stop-color="#0002ff"/><stop offset="0.081" stop-color="#0056ff"/><stop offset="0.093" stop-color="#0086ff"/><stop offset="0.112" stop-color="#00ecff"/><stop offset="0.118" stop-color="#0ffff0"/><stop offset="0.124" stop-color="#26ffd9"/><stop offset="0.130" stop-color="#2cffd3"/><stop offset="0.137" stop-color="#1fffe0"/><stop offset="0.143" stop-color="#03fffc"/><stop offset="0.155" stop-color="#00b3ff"/><stop offset="0.174" stop-color="#0033ff"/><stop offset="0.180" stop-color="#000dff"/><stop offset="0.186" stop-color="#0000ed"/><stop offset="0.199" stop-color="#0000c1"/><stop offset="0.217" stop-color="#0000a3"/><stop offset="0.255" stop-color="#000093"/><stop offset="1.000" stop-color="#000091"/></linearGradient><linearGradient id="gf31" gradientUnits="userSpaceOnUse" x1="0" y1="1118.5" x2="0" y2="1601.5"><stop offset="0.000" stop-color="#0000b5"/><stop offset="0.025" stop-color="#0000d3"/><stop offset="0.043" stop-color="#0000f8"/><stop offset="0.050" stop-color="#0008ff"/><stop offset="0.075" stop-color="#0056ff"/><stop offset="0.093" stop-color="#00a3ff"/><stop offset="0.112" stop-color="#03fffc"/><stop offset="0.118" stop-color="#1effe1"/><stop offset="0.124" stop-color="#2dffd2"/><stop offset="0.130" stop-color="#2cffd3"/><stop offset="0.137" stop-color="#1bffe4"/><stop offset="0.143" stop-color="#00fcff"/><stop offset="0.174" stop-color="#0038ff"/><stop offset="0.180" stop-color="#0015ff"/><stop offset="0.186" stop-color="#0000f5"/><stop offset="0.199" stop-color="#0000c8"/><stop offset="0.217" stop-color="#0000a6"/><stop offset="0.248" stop-color="#000095"/><stop offset="0.491" stop-color="#00008f"/><stop offset="1.000" stop-color="#000091"/></linearGradient><linearGradient id="gf32" gradientUnits="userSpaceOnUse" x1="0" y1="1118.5" x2="0" y2="1601.5"><stop offset="0.000" stop-color="#0000b5"/><stop offset="0.025" stop-color="#0000d3"/><stop offset="0.043" stop-color="#0000fa"/><stop offset="0.056" stop-color="#001fff"/><stop offset="0.075" stop-color="#0069ff"/><stop offset="0.099" stop-color="#00e4ff"/><stop offset="0.106" stop-color="#05fffa"/><stop offset="0.112" stop-color="#21ffde"/><stop offset="0.118" stop-color="#34ffcb"/><stop offset="0.124" stop-color="#3affc5"/><stop offset="0.130" stop-color="#31ffce"/><stop offset="0.143" stop-color="#00f9ff"/><stop offset="0.174" stop-color="#0037ff"/><stop offset="0.180" stop-color="#0017ff"/><stop offset="0.186" stop-color="#0000f9"/><stop offset="0.199" stop-color="#0000cd"/><stop offset="0.217" stop-color="#0000a9"/><stop offset="0.248" stop-color="#000095"/><stop offset="0.422" stop-color="#00008f"/><stop offset="1.000" stop-color="#000091"/></linearGradient><linearGradient id="gf33" gradientUnits="userSpaceOnUse" x1="0" y1="1118.5" x2="0" y2="1601.5"><stop offset="0.000" stop-color="#0000b4"/><stop offset="0.025" stop-color="#0000d2"/><stop offset="0.043" stop-color="#0000fb"/><stop offset="0.056" stop-color="#0024ff"/><stop offset="0.075" stop-color="#007dff"/><stop offset="0.093" stop-color="#00e7ff"/><stop offset="0.099" stop-color="#0cfff3"/><stop offset="0.112" stop-color="#47ffb8"/><stop offset="0.118" stop-color="#55ffaa"/><stop offset="0.124" stop-color="#53ffac"/><stop offset="0.130" stop-color="#41ffbe"/><stop offset="0.143" stop-color="#00fbff"/><stop offset="0.161" stop-color="#0073ff"/><stop offset="0.174" stop-color="#002cff"/><stop offset="0.180" stop-color="#0010ff"/><stop offset="0.186" stop-color="#0000f6"/><stop offset="0.205" stop-color="#0000c0"/><stop offset="0.230" stop-color="#00009f"/><stop offset="0.280" stop-color="#000091"/><stop offset="1.000" stop-color="#000091"/></linearGradient><linearGradient id="gf34" gradientUnits="userSpaceOnUse" x1="0" y1="1118.5" x2="0" y2="1601.5"><stop offset="0.000" stop-color="#0000b4"/><stop offset="0.025" stop-color="#0000d1"/><stop offset="0.043" stop-color="#0000fa"/><stop offset="0.050" stop-color="#0010ff"/><stop offset="0.062" stop-color="#0047ff"/><stop offset="0.081" stop-color="#00b8ff"/><stop offset="0.087" stop-color="#00e1ff"/><stop offset="0.093" stop-color="#0afff5"/><stop offset="0.106" stop-color="#51ffae"/><stop offset="0.112" stop-color="#68ff97"/><stop offset="0.118" stop-color="#71ff8e"/><stop offset="0.124" stop-color="#69ff96"/><stop offset="0.130" stop-color="#52ffad"/><stop offset="0.137" stop-color="#2dffd2"/><stop offset="0.143" stop-color="#00fdff"/><stop offset="0.161" stop-color="#005dff"/><stop offset="0.168" stop-color="#0035ff"/><stop offset="0.180" stop-color="#0000fe"/><stop offset="0.199" stop-color="#0000cb"/><stop offset="0.224" stop-color="#0000a6"/><stop offset="0.261" stop-color="#000094"/><stop offset="0.720" stop-color="#000091"/><stop offset="1.000" stop-color="#000091"/></linearGradient><linearGradient id="gf35" gradientUnits="userSpaceOnUse" x1="0" y1="1118.5" x2="0" y2="1601.5"><stop offset="0.000" stop-color="#0000b4"/><stop offset="0.025" stop-color="#0000cf"/><stop offset="0.043" stop-color="#0000f9"/><stop offset="0.050" stop-color="#0010ff"/><stop offset="0.062" stop-color="#004bff"/><stop offset="0.081" stop-color="#00c7ff"/><stop offset="0.087" stop-color="#00f5ff"/><stop offset="0.093" stop-color="#23ffdc"/><stop offset="0.106" stop-color="#6eff91"/><stop offset="0.112" stop-color="#83ff7c"/><stop offset="0.118" stop-color="#88ff77"/><stop offset="0.124" stop-color="#7cff83"/><stop offset="0.130" stop-color="#60ff9f"/><stop offset="0.137" stop-color="#37ffc8"/><stop offset="0.143" stop-color="#01fffe"/><stop offset="0.155" stop-color="#0082ff"/><stop offset="0.161" stop-color="#004aff"/><stop offset="0.168" stop-color="#0020ff"/><stop offset="0.174" stop-color="#0003ff"/><stop offset="0.199" stop-color="#0000ca"/><stop offset="0.230" stop-color="#0000a2"/><stop offset="0.273" stop-color="#000092"/><stop offset="1.000" stop-color="#000091"/></linearGradient><linearGradient id="gf36" gradientUnits="userSpaceOnUse" x1="0" y1="1118.5" x2="0" y2="1601.5"><stop offset="0.000" stop-color="#0000b4"/><stop offset="0.025" stop-color="#0000d0"/><stop offset="0.043" stop-color="#0000f9"/><stop offset="0.050" stop-color="#0010ff"/><stop offset="0.062" stop-color="#004dff"/><stop offset="0.081" stop-color="#00cfff"/><stop offset="0.087" stop-color="#00feff"/><stop offset="0.099" stop-color="#59ffa6"/><stop offset="0.106" stop-color="#7cff83"/><stop offset="0.112" stop-color="#91ff6e"/><stop offset="0.118" stop-color="#95ff6a"/><stop offset="0.124" stop-color="#87ff78"/><stop offset="0.130" stop-color="#6aff95"/><stop offset="0.137" stop-color="#40ffbf"/><stop offset="0.143" stop-color="#07fff8"/><stop offset="0.149" stop-color="#00c4ff"/><stop offset="0.155" stop-color="#007fff"/><stop offset="0.161" stop-color="#0043ff"/><stop offset="0.168" stop-color="#0018ff"/><stop offset="0.174" stop-color="#0000fd"/><stop offset="0.193" stop-color="#0000db"/><stop offset="0.230" stop-color="#0000a6"/><stop offset="0.261" stop-color="#000095"/><stop offset="0.497" stop-color="#00008f"/><stop offset="1.000" stop-color="#000091"/></linearGradient><linearGradient id="gf37" gradientUnits="userSpaceOnUse" x1="0" y1="1118.5" x2="0" y2="1601.5"><stop offset="0.000" stop-color="#0000b4"/><stop offset="0.025" stop-color="#0000d1"/><stop offset="0.043" stop-color="#0000fa"/><stop offset="0.050" stop-color="#000fff"/><stop offset="0.062" stop-color="#004bff"/><stop offset="0.081" stop-color="#00ccff"/><stop offset="0.087" stop-color="#00f9ff"/><stop offset="0.099" stop-color="#4fffb0"/><stop offset="0.106" stop-color="#70ff8f"/><stop offset="0.112" stop-color="#85ff7a"/><stop offset="0.118" stop-color="#8aff75"/><stop offset="0.124" stop-color="#7fff80"/><stop offset="0.130" stop-color="#66ff99"/><stop offset="0.137" stop-color="#3fffc0"/><stop offset="0.143" stop-color="#0cfff3"/><stop offset="0.149" stop-color="#00cbff"/><stop offset="0.155" stop-color="#0087ff"/><stop offset="0.161" stop-color="#004cff"/><stop offset="0.168" stop-color="#0023ff"/><stop offset="0.174" stop-color="#000dff"/><stop offset="0.186" stop-color="#0000fc"/><stop offset="0.205" stop-color="#0000df"/><stop offset="0.230" stop-color="#0000ac"/><stop offset="0.255" stop-color="#000097"/><stop offset="0.342" stop-color="#000091"/><stop offset="1.000" stop-color="#000091"/></linearGradient><linearGradient id="gf38" gradientUnits="userSpaceOnUse" x1="0" y1="1118.5" x2="0" y2="1601.5"><stop offset="0.000" stop-color="#0000b4"/><stop offset="0.025" stop-color="#0000d1"/><stop offset="0.043" stop-color="#0000f8"/><stop offset="0.050" stop-color="#000cff"/><stop offset="0.062" stop-color="#0041ff"/><stop offset="0.081" stop-color="#00b8ff"/><stop offset="0.087" stop-color="#00e2ff"/><stop offset="0.093" stop-color="#0dfff2"/><stop offset="0.106" stop-color="#54ffab"/><stop offset="0.112" stop-color="#6aff95"/><stop offset="0.118" stop-color="#72ff8d"/><stop offset="0.124" stop-color="#68ff97"/><stop offset="0.130" stop-color="#51ffae"/><stop offset="0.137" stop-color="#2fffd0"/><stop offset="0.143" stop-color="#05fffa"/><stop offset="0.149" stop-color="#00d1ff"/><stop offset="0.161" stop-color="#0068ff"/><stop offset="0.168" stop-color="#0046ff"/><stop offset="0.174" stop-color="#0036ff"/><stop offset="0.193" stop-color="#0027ff"/><stop offset="0.205" stop-color="#0005ff"/><stop offset="0.224" stop-color="#0000c1"/><stop offset="0.242" stop-color="#0000a0"/><stop offset="0.280" stop-color="#000092"/><stop offset="1.000" stop-color="#000091"/></linearGradient><linearGradient id="gf39" gradientUnits="userSpaceOnUse" x1="0" y1="1118.5" x2="0" y2="1601.5"><stop offset="0.000" stop-color="#0000b5"/><stop offset="0.025" stop-color="#0000d1"/><stop offset="0.043" stop-color="#0000f5"/><stop offset="0.050" stop-color="#0006ff"/><stop offset="0.062" stop-color="#0035ff"/><stop offset="0.081" stop-color="#009cff"/><stop offset="0.093" stop-color="#00eaff"/><stop offset="0.099" stop-color="#11ffee"/><stop offset="0.106" stop-color="#31ffce"/><stop offset="0.112" stop-color="#47ffb8"/><stop offset="0.118" stop-color="#4cffb3"/><stop offset="0.124" stop-color="#41ffbe"/><stop offset="0.137" stop-color="#10ffef"/><stop offset="0.143" stop-color="#00f4ff"/><stop offset="0.161" stop-color="#009aff"/><stop offset="0.168" stop-color="#0084ff"/><stop offset="0.180" stop-color="#0077ff"/><stop offset="0.186" stop-color="#0073ff"/><stop offset="0.193" stop-color="#0067ff"/><stop offset="0.199" stop-color="#004fff"/><stop offset="0.211" stop-color="#0008ff"/><stop offset="0.224" stop-color="#0000c8"/><stop offset="0.236" stop-color="#0000a9"/><stop offset="0.261" stop-color="#000096"/><stop offset="0.354" stop-color="#000091"/><stop offset="1.000" stop-color="#000091"/></linearGradient><linearGradient id="gf40" gradientUnits="userSpaceOnUse" x1="0" y1="1118.5" x2="0" y2="1601.5"><stop offset="0.000" stop-color="#0000b5"/><stop offset="0.031" stop-color="#0000db"/><stop offset="0.050" stop-color="#0002ff"/><stop offset="0.068" stop-color="#0042ff"/><stop offset="0.087" stop-color="#00a1ff"/><stop offset="0.099" stop-color="#00e8ff"/><stop offset="0.106" stop-color="#04fffb"/><stop offset="0.112" stop-color="#13ffec"/><stop offset="0.118" stop-color="#14ffeb"/><stop offset="0.124" stop-color="#07fff8"/><stop offset="0.137" stop-color="#00e5ff"/><stop offset="0.168" stop-color="#00bfff"/><stop offset="0.186" stop-color="#00b9ff"/><stop offset="0.193" stop-color="#00a7ff"/><stop offset="0.199" stop-color="#0085ff"/><stop offset="0.211" stop-color="#0022ff"/><stop offset="0.217" stop-color="#0000f3"/><stop offset="0.224" stop-color="#0000d0"/><stop offset="0.230" stop-color="#0000ba"/><stop offset="0.242" stop-color="#0000a3"/><stop offset="0.273" stop-color="#000094"/><stop offset="0.596" stop-color="#000091"/><stop offset="1.000" stop-color="#000091"/></linearGradient><linearGradient id="gf41" gradientUnits="userSpaceOnUse" x1="0" y1="1118.5" x2="0" y2="1601.5"><stop offset="0.000" stop-color="#0000b6"/><stop offset="0.031" stop-color="#0000d9"/><stop offset="0.050" stop-color="#0000fc"/><stop offset="0.068" stop-color="#0030ff"/><stop offset="0.081" stop-color="#005fff"/><stop offset="0.099" stop-color="#00c3ff"/><stop offset="0.106" stop-color="#00dcff"/><stop offset="0.112" stop-color="#00e8ff"/><stop offset="0.118" stop-color="#00e3ff"/><stop offset="0.130" stop-color="#00c6ff"/><stop offset="0.137" stop-color="#00c1ff"/><stop offset="0.174" stop-color="#00fbff"/><stop offset="0.180" stop-color="#00fdff"/><stop offset="0.186" stop-color="#00f5ff"/><stop offset="0.193" stop-color="#00ddff"/><stop offset="0.199" stop-color="#00b4ff"/><stop offset="0.217" stop-color="#000fff"/><stop offset="0.224" stop-color="#0000e4"/><stop offset="0.230" stop-color="#0000c6"/><stop offset="0.242" stop-color="#0000a7"/><stop offset="0.267" stop-color="#000096"/><stop offset="0.373" stop-color="#000091"/><stop offset="1.000" stop-color="#000091"/></linearGradient><linearGradient id="gf42" gradientUnits="userSpaceOnUse" x1="0" y1="1118.5" x2="0" y2="1601.5"><stop offset="0.000" stop-color="#0000b6"/><stop offset="0.037" stop-color="#0000e0"/><stop offset="0.056" stop-color="#0003ff"/><stop offset="0.081" stop-color="#003eff"/><stop offset="0.087" stop-color="#0058ff"/><stop offset="0.099" stop-color="#00a3ff"/><stop offset="0.106" stop-color="#00c1ff"/><stop offset="0.112" stop-color="#00ceff"/><stop offset="0.118" stop-color="#00c5ff"/><stop offset="0.130" stop-color="#009aff"/><stop offset="0.137" stop-color="#0099ff"/><stop offset="0.143" stop-color="#00afff"/><stop offset="0.155" stop-color="#00faff"/><stop offset="0.168" stop-color="#34ffcb"/><stop offset="0.174" stop-color="#44ffbb"/><stop offset="0.180" stop-color="#48ffb7"/><stop offset="0.186" stop-color="#3affc5"/><stop offset="0.193" stop-color="#18ffe7"/><stop offset="0.199" stop-color="#00e4ff"/><stop offset="0.217" stop-color="#0027ff"/><stop offset="0.224" stop-color="#0000f5"/><stop offset="0.230" stop-color="#0000d1"/><stop offset="0.236" stop-color="#0000ba"/><stop offset="0.248" stop-color="#0000a2"/><stop offset="0.286" stop-color="#000093"/><stop offset="1.000" stop-color="#000091"/></linearGradient><linearGradient id="gf43" gradientUnits="userSpaceOnUse" x1="0" y1="1118.5" x2="0" y2="1601.5"><stop offset="0.000" stop-color="#0000b7"/><stop offset="0.043" stop-color="#0000e4"/><stop offset="0.062" stop-color="#0000ff"/><stop offset="0.081" stop-color="#0022ff"/><stop offset="0.087" stop-color="#0039ff"/><stop offset="0.106" stop-color="#00a9ff"/><stop offset="0.112" stop-color="#00b9ff"/><stop offset="0.118" stop-color="#00aeff"/><stop offset="0.130" stop-color="#0075ff"/><stop offset="0.137" stop-color="#0074ff"/><stop offset="0.143" stop-color="#0097ff"/><stop offset="0.149" stop-color="#00d1ff"/><stop offset="0.155" stop-color="#11ffee"/><stop offset="0.161" stop-color="#47ffb8"/><stop offset="0.168" stop-color="#73ff8c"/><stop offset="0.174" stop-color="#8fff70"/><stop offset="0.180" stop-color="#97ff68"/><stop offset="0.186" stop-color="#84ff7b"/><stop offset="0.193" stop-color="#57ffa8"/><stop offset="0.199" stop-color="#14ffeb"/><stop offset="0.205" stop-color="#00c7ff"/><stop offset="0.217" stop-color="#0038ff"/><stop offset="0.224" stop-color="#0001ff"/><stop offset="0.230" stop-color="#0000d8"/><stop offset="0.236" stop-color="#0000be"/><stop offset="0.248" stop-color="#0000a5"/><stop offset="0.280" stop-color="#000095"/><stop offset="0.522" stop-color="#000090"/><stop offset="1.000" stop-color="#000091"/></linearGradient><linearGradient id="gf44" gradientUnits="userSpaceOnUse" x1="0" y1="1118.5" x2="0" y2="1601.5"><stop offset="0.000" stop-color="#0000b7"/><stop offset="0.075" stop-color="#0001ff"/><stop offset="0.081" stop-color="#000fff"/><stop offset="0.087" stop-color="#0024ff"/><stop offset="0.093" stop-color="#0045ff"/><stop offset="0.106" stop-color="#0095ff"/><stop offset="0.112" stop-color="#00a8ff"/><stop offset="0.118" stop-color="#009fff"/><stop offset="0.130" stop-color="#0062ff"/><stop offset="0.137" stop-color="#0061ff"/><stop offset="0.143" stop-color="#008aff"/><stop offset="0.149" stop-color="#00cfff"/><stop offset="0.155" stop-color="#1cffe3"/><stop offset="0.161" stop-color="#62ff9d"/><stop offset="0.168" stop-color="#9bff64"/><stop offset="0.174" stop-color="#c3ff3c"/><stop offset="0.180" stop-color="#d1ff2e"/><stop offset="0.186" stop-color="#beff41"/><stop offset="0.193" stop-color="#87ff78"/><stop offset="0.199" stop-color="#37ffc8"/><stop offset="0.205" stop-color="#00deff"/><stop offset="0.211" stop-color="#008bff"/><stop offset="0.217" stop-color="#0043ff"/><stop offset="0.224" stop-color="#000bff"/><stop offset="0.230" stop-color="#0000e1"/><stop offset="0.236" stop-color="#0000c6"/><stop offset="0.248" stop-color="#0000aa"/><stop offset="0.273" stop-color="#000097"/><stop offset="0.360" stop-color="#000091"/><stop offset="1.000" stop-color="#000091"/></linearGradient><linearGradient id="gf45" gradientUnits="userSpaceOnUse" x1="0" y1="1118.5" x2="0" y2="1601.5"><stop offset="0.000" stop-color="#0000b7"/><stop offset="0.068" stop-color="#0000ef"/><stop offset="0.075" stop-color="#0000f9"/><stop offset="0.081" stop-color="#000aff"/><stop offset="0.087" stop-color="#0021ff"/><stop offset="0.099" stop-color="#0068ff"/><stop offset="0.106" stop-color="#008eff"/><stop offset="0.112" stop-color="#00a3ff"/><stop offset="0.118" stop-color="#009dff"/><stop offset="0.130" stop-color="#0065ff"/><stop offset="0.137" stop-color="#0066ff"/><stop offset="0.143" stop-color="#0090ff"/><stop offset="0.149" stop-color="#00d7ff"/><stop offset="0.155" stop-color="#27ffd8"/><stop offset="0.161" stop-color="#6eff91"/><stop offset="0.168" stop-color="#aaff55"/><stop offset="0.174" stop-color="#d3ff2c"/><stop offset="0.180" stop-color="#e1ff1e"/><stop offset="0.186" stop-color="#caff35"/><stop offset="0.193" stop-color="#8fff70"/><stop offset="0.199" stop-color="#3bffc4"/><stop offset="0.205" stop-color="#00deff"/><stop offset="0.211" stop-color="#0089ff"/><stop offset="0.217" stop-color="#0044ff"/><stop offset="0.224" stop-color="#000fff"/><stop offset="0.230" stop-color="#0000e7"/><stop offset="0.236" stop-color="#0000cd"/><stop offset="0.248" stop-color="#0000af"/><stop offset="0.273" stop-color="#000099"/><stop offset="0.354" stop-color="#000090"/><stop offset="1.000" stop-color="#000091"/></linearGradient><linearGradient id="gf46" gradientUnits="userSpaceOnUse" x1="0" y1="1118.5" x2="0" y2="1601.5"><stop offset="0.000" stop-color="#0000b7"/><stop offset="0.068" stop-color="#0000f1"/><stop offset="0.075" stop-color="#0000fe"/><stop offset="0.087" stop-color="#002eff"/><stop offset="0.106" stop-color="#0096ff"/><stop offset="0.112" stop-color="#00a9ff"/><stop offset="0.118" stop-color="#00a6ff"/><stop offset="0.130" stop-color="#007aff"/><stop offset="0.137" stop-color="#007dff"/><stop offset="0.143" stop-color="#00a4ff"/><stop offset="0.149" stop-color="#00e6ff"/><stop offset="0.155" stop-color="#2fffd0"/><stop offset="0.161" stop-color="#70ff8f"/><stop offset="0.168" stop-color="#a2ff5d"/><stop offset="0.174" stop-color="#c1ff3e"/><stop offset="0.180" stop-color="#c6ff39"/><stop offset="0.186" stop-color="#a9ff56"/><stop offset="0.193" stop-color="#6eff91"/><stop offset="0.199" stop-color="#1effe1"/><stop offset="0.205" stop-color="#00c7ff"/><stop offset="0.211" stop-color="#0078ff"/><stop offset="0.217" stop-color="#0038ff"/><stop offset="0.224" stop-color="#0009ff"/><stop offset="0.230" stop-color="#0000e6"/><stop offset="0.242" stop-color="#0000be"/><stop offset="0.261" stop-color="#0000a3"/><stop offset="0.298" stop-color="#000093"/><stop offset="1.000" stop-color="#000091"/></linearGradient><linearGradient id="gf47" gradientUnits="userSpaceOnUse" x1="0" y1="1118.5" x2="0" y2="1601.5"><stop offset="0.000" stop-color="#0000b6"/><stop offset="0.068" stop-color="#0001ff"/><stop offset="0.081" stop-color="#0024ff"/><stop offset="0.106" stop-color="#009cff"/><stop offset="0.112" stop-color="#00afff"/><stop offset="0.118" stop-color="#00b2ff"/><stop offset="0.130" stop-color="#009cff"/><stop offset="0.137" stop-color="#00a2ff"/><stop offset="0.143" stop-color="#00c3ff"/><stop offset="0.149" stop-color="#00f7ff"/><stop offset="0.161" stop-color="#63ff9c"/><stop offset="0.168" stop-color="#86ff79"/><stop offset="0.174" stop-color="#96ff69"/><stop offset="0.180" stop-color="#8fff70"/><stop offset="0.186" stop-color="#6fff90"/><stop offset="0.193" stop-color="#39ffc6"/><stop offset="0.199" stop-color="#00f3ff"/><stop offset="0.211" stop-color="#0065ff"/><stop offset="0.217" stop-color="#002dff"/><stop offset="0.224" stop-color="#0005ff"/><stop offset="0.236" stop-color="#0000d3"/><stop offset="0.255" stop-color="#0000ad"/><stop offset="0.280" stop-color="#000098"/><stop offset="0.360" stop-color="#000090"/><stop offset="1.000" stop-color="#000091"/></linearGradient><linearGradient id="gf48" gradientUnits="userSpaceOnUse" x1="0" y1="1118.5" x2="0" y2="1601.5"><stop offset="0.000" stop-color="#0000b6"/><stop offset="0.031" stop-color="#0000da"/><stop offset="0.056" stop-color="#0002ff"/><stop offset="0.075" stop-color="#0026ff"/><stop offset="0.093" stop-color="#006aff"/><stop offset="0.106" stop-color="#009dff"/><stop offset="0.112" stop-color="#00b0ff"/><stop offset="0.124" stop-color="#00beff"/><stop offset="0.130" stop-color="#00c0ff"/><stop offset="0.137" stop-color="#00caff"/><stop offset="0.143" stop-color="#00e4ff"/><stop offset="0.149" stop-color="#0afff5"/><stop offset="0.161" stop-color="#52ffad"/><stop offset="0.168" stop-color="#66ff99"/><stop offset="0.174" stop-color="#69ff96"/><stop offset="0.180" stop-color="#5affa5"/><stop offset="0.186" stop-color="#39ffc6"/><stop offset="0.193" stop-color="#0afff5"/><stop offset="0.199" stop-color="#00cfff"/><stop offset="0.211" stop-color="#005bff"/><stop offset="0.217" stop-color="#002dff"/><stop offset="0.224" stop-color="#000bff"/><stop offset="0.230" stop-color="#0000f0"/><stop offset="0.248" stop-color="#0000bd"/><stop offset="0.267" stop-color="#0000a1"/><stop offset="0.304" stop-color="#000093"/><stop offset="1.000" stop-color="#000091"/></linearGradient><linearGradient id="gf49" gradientUnits="userSpaceOnUse" x1="0" y1="1118.5" x2="0" y2="1601.5"><stop offset="0.000" stop-color="#0000b5"/><stop offset="0.025" stop-color="#0000d5"/><stop offset="0.043" stop-color="#0000fa"/><stop offset="0.075" stop-color="#0038ff"/><stop offset="0.093" stop-color="#0071ff"/><stop offset="0.112" stop-color="#00b0ff"/><stop offset="0.137" stop-color="#00e2ff"/><stop offset="0.143" stop-color="#00f8ff"/><stop offset="0.155" stop-color="#32ffcd"/><stop offset="0.161" stop-color="#47ffb8"/><stop offset="0.168" stop-color="#50ffaf"/><stop offset="0.174" stop-color="#4affb5"/><stop offset="0.180" stop-color="#36ffc9"/><stop offset="0.186" stop-color="#15ffea"/><stop offset="0.193" stop-color="#00eaff"/><stop offset="0.211" stop-color="#005eff"/><stop offset="0.224" stop-color="#0018ff"/><stop offset="0.230" stop-color="#0000fd"/><stop offset="0.248" stop-color="#0000c3"/><stop offset="0.267" stop-color="#0000a3"/><stop offset="0.304" stop-color="#000093"/><stop offset="1.000" stop-color="#000091"/></linearGradient><linearGradient id="gf50" gradientUnits="userSpaceOnUse" x1="0" y1="1118.5" x2="0" y2="1601.5"><stop offset="0.000" stop-color="#0000b5"/><stop offset="0.019" stop-color="#0000cd"/><stop offset="0.043" stop-color="#0005ff"/><stop offset="0.081" stop-color="#004dff"/><stop offset="0.118" stop-color="#00c5ff"/><stop offset="0.137" stop-color="#00f3ff"/><stop offset="0.143" stop-color="#07fff8"/><stop offset="0.155" stop-color="#2fffd0"/><stop offset="0.161" stop-color="#3bffc4"/><stop offset="0.168" stop-color="#3cffc3"/><stop offset="0.174" stop-color="#32ffcd"/><stop offset="0.186" stop-color="#00fdff"/><stop offset="0.217" stop-color="#0042ff"/><stop offset="0.230" stop-color="#0008ff"/><stop offset="0.236" stop-color="#0000f0"/><stop offset="0.255" stop-color="#0000b9"/><stop offset="0.273" stop-color="#00009f"/><stop offset="0.323" stop-color="#000090"/><stop offset="1.000" stop-color="#000091"/></linearGradient><linearGradient id="gf51" gradientUnits="userSpaceOnUse" x1="0" y1="1118.5" x2="0" y2="1601.5"><stop offset="0.000" stop-color="#0000b5"/><stop offset="0.019" stop-color="#0000ce"/><stop offset="0.037" stop-color="#0000fa"/><stop offset="0.062" stop-color="#0030ff"/><stop offset="0.081" stop-color="#0049ff"/><stop offset="0.093" stop-color="#0070ff"/><stop offset="0.118" stop-color="#00d1ff"/><stop offset="0.130" stop-color="#00f5ff"/><stop offset="0.137" stop-color="#06fff9"/><stop offset="0.149" stop-color="#23ffdc"/><stop offset="0.161" stop-color="#2dffd2"/><stop offset="0.174" stop-color="#19ffe6"/><stop offset="0.180" stop-color="#04fffb"/><stop offset="0.186" stop-color="#00e7ff"/><stop offset="0.217" stop-color="#0045ff"/><stop offset="0.230" stop-color="#000fff"/><stop offset="0.236" stop-color="#0000f6"/><stop offset="0.255" stop-color="#0000bd"/><stop offset="0.273" stop-color="#0000a0"/><stop offset="0.317" stop-color="#000091"/><stop offset="1.000" stop-color="#000091"/></linearGradient><linearGradient id="gf52" gradientUnits="userSpaceOnUse" x1="0" y1="1118.5" x2="0" y2="1601.5"><stop offset="0.000" stop-color="#0000b5"/><stop offset="0.019" stop-color="#0000ce"/><stop offset="0.037" stop-color="#0000fc"/><stop offset="0.056" stop-color="#0029ff"/><stop offset="0.081" stop-color="#003fff"/><stop offset="0.093" stop-color="#0063ff"/><stop offset="0.118" stop-color="#00d9ff"/><stop offset="0.130" stop-color="#01fffe"/><stop offset="0.143" stop-color="#1cffe3"/><stop offset="0.155" stop-color="#24ffdb"/><stop offset="0.168" stop-color="#12ffed"/><stop offset="0.174" stop-color="#01fffe"/><stop offset="0.193" stop-color="#00b4ff"/><stop offset="0.224" stop-color="#002aff"/><stop offset="0.236" stop-color="#0000fa"/><stop offset="0.255" stop-color="#0000c1"/><stop offset="0.273" stop-color="#0000a1"/><stop offset="0.311" stop-color="#000092"/><stop offset="1.000" stop-color="#000091"/></linearGradient><linearGradient id="gf53" gradientUnits="userSpaceOnUse" x1="0" y1="1118.5" x2="0" y2="1601.5"><stop offset="0.000" stop-color="#0000b5"/><stop offset="0.019" stop-color="#0000ce"/><stop offset="0.037" stop-color="#0000fc"/><stop offset="0.056" stop-color="#0026ff"/><stop offset="0.081" stop-color="#0031ff"/><stop offset="0.087" stop-color="#003aff"/><stop offset="0.093" stop-color="#004dff"/><stop offset="0.106" stop-color="#008dff"/><stop offset="0.118" stop-color="#00cfff"/><stop offset="0.130" stop-color="#00fcff"/><stop offset="0.143" stop-color="#16ffe9"/><stop offset="0.155" stop-color="#18ffe7"/><stop offset="0.168" stop-color="#00fdff"/><stop offset="0.217" stop-color="#003eff"/><stop offset="0.236" stop-color="#0001ff"/><stop offset="0.261" stop-color="#0000b7"/><stop offset="0.280" stop-color="#00009d"/><stop offset="0.335" stop-color="#00008f"/><stop offset="1.000" stop-color="#000091"/></linearGradient><linearGradient id="gf54" gradientUnits="userSpaceOnUse" x1="0" y1="1118.5" x2="0" y2="1601.5"><stop offset="0.000" stop-color="#0000b6"/><stop offset="0.019" stop-color="#0000cd"/><stop offset="0.037" stop-color="#0000f7"/><stop offset="0.050" stop-color="#0014ff"/><stop offset="0.062" stop-color="#0023ff"/><stop offset="0.081" stop-color="#0026ff"/><stop offset="0.087" stop-color="#002cff"/><stop offset="0.093" stop-color="#003bff"/><stop offset="0.106" stop-color="#0074ff"/><stop offset="0.124" stop-color="#00d5ff"/><stop offset="0.137" stop-color="#00fdff"/><stop offset="0.149" stop-color="#0efff1"/><stop offset="0.161" stop-color="#00feff"/><stop offset="0.174" stop-color="#00d0ff"/><stop offset="0.193" stop-color="#007fff"/><stop offset="0.211" stop-color="#0046ff"/><stop offset="0.236" stop-color="#000bff"/><stop offset="0.242" stop-color="#0000f8"/><stop offset="0.267" stop-color="#0000b1"/><stop offset="0.286" stop-color="#00009b"/><stop offset="0.354" stop-color="#00008f"/><stop offset="1.000" stop-color="#000091"/></linearGradient><linearGradient id="gf55" gradientUnits="userSpaceOnUse" x1="0" y1="1118.5" x2="0" y2="1601.5"><stop offset="0.000" stop-color="#0000b7"/><stop offset="0.019" stop-color="#0000cc"/><stop offset="0.043" stop-color="#0000fc"/><stop offset="0.068" stop-color="#0018ff"/><stop offset="0.087" stop-color="#0022ff"/><stop offset="0.099" stop-color="#0043ff"/><stop offset="0.130" stop-color="#00d2ff"/><stop offset="0.143" stop-color="#00f6ff"/><stop offset="0.149" stop-color="#00fdff"/><stop offset="0.155" stop-color="#00fbff"/><stop offset="0.161" stop-color="#00eeff"/><stop offset="0.174" stop-color="#00b4ff"/><stop offset="0.186" stop-color="#0074ff"/><stop offset="0.199" stop-color="#004cff"/><stop offset="0.236" stop-color="#001cff"/><stop offset="0.248" stop-color="#0000f7"/><stop offset="0.267" stop-color="#0000bd"/><stop offset="0.286" stop-color="#00009e"/><stop offset="0.329" stop-color="#000090"/><stop offset="1.000" stop-color="#000091"/></linearGradient><linearGradient id="gf56" gradientUnits="userSpaceOnUse" x1="0" y1="1118.5" x2="0" y2="1601.5"><stop offset="0.000" stop-color="#0000b8"/><stop offset="0.025" stop-color="#0000d3"/><stop offset="0.056" stop-color="#0000ff"/><stop offset="0.087" stop-color="#0018ff"/><stop offset="0.099" stop-color="#0032ff"/><stop offset="0.118" stop-color="#007cff"/><stop offset="0.137" stop-color="#00caff"/><stop offset="0.149" stop-color="#00e9ff"/><stop offset="0.155" stop-color="#00ebff"/><stop offset="0.161" stop-color="#00dfff"/><stop offset="0.168" stop-color="#00c4ff"/><stop offset="0.186" stop-color="#0053ff"/><stop offset="0.193" stop-color="#003dff"/><stop offset="0.199" stop-color="#0034ff"/><stop offset="0.224" stop-color="#0040ff"/><stop offset="0.236" stop-color="#0035ff"/><stop offset="0.255" stop-color="#0000fb"/><stop offset="0.273" stop-color="#0000be"/><stop offset="0.292" stop-color="#00009e"/><stop offset="0.335" stop-color="#000090"/><stop offset="1.000" stop-color="#000091"/></linearGradient><linearGradient id="gf57" gradientUnits="userSpaceOnUse" x1="0" y1="1118.5" x2="0" y2="1601.5"><stop offset="0.000" stop-color="#0000b9"/><stop offset="0.068" stop-color="#0000fb"/><stop offset="0.087" stop-color="#000bff"/><stop offset="0.106" stop-color="#0030ff"/><stop offset="0.124" stop-color="#0074ff"/><stop offset="0.143" stop-color="#00c4ff"/><stop offset="0.149" stop-color="#00d7ff"/><stop offset="0.155" stop-color="#00e0ff"/><stop offset="0.161" stop-color="#00daff"/><stop offset="0.168" stop-color="#00c2ff"/><stop offset="0.186" stop-color="#0046ff"/><stop offset="0.193" stop-color="#0031ff"/><stop offset="0.199" stop-color="#002fff"/><stop offset="0.211" stop-color="#004bff"/><stop offset="0.224" stop-color="#0066ff"/><stop offset="0.230" stop-color="#0067ff"/><stop offset="0.236" stop-color="#005eff"/><stop offset="0.248" stop-color="#0036ff"/><stop offset="0.261" stop-color="#0003ff"/><stop offset="0.280" stop-color="#0000c1"/><stop offset="0.298" stop-color="#0000a0"/><stop offset="0.329" stop-color="#000092"/><stop offset="1.000" stop-color="#000091"/></linearGradient><linearGradient id="gf58" gradientUnits="userSpaceOnUse" x1="0" y1="1118.5" x2="0" y2="1601.5"><stop offset="0.000" stop-color="#0000ba"/><stop offset="0.087" stop-color="#0000fe"/><stop offset="0.106" stop-color="#001bff"/><stop offset="0.118" stop-color="#003cff"/><stop offset="0.137" stop-color="#008dff"/><stop offset="0.149" stop-color="#00c5ff"/><stop offset="0.155" stop-color="#00d5ff"/><stop offset="0.161" stop-color="#00d6ff"/><stop offset="0.168" stop-color="#00c2ff"/><stop offset="0.180" stop-color="#006dff"/><stop offset="0.186" stop-color="#0049ff"/><stop offset="0.193" stop-color="#003bff"/><stop offset="0.199" stop-color="#0043ff"/><stop offset="0.217" stop-color="#0094ff"/><stop offset="0.224" stop-color="#00a3ff"/><stop offset="0.230" stop-color="#00a5ff"/><stop offset="0.236" stop-color="#0099ff"/><stop offset="0.248" stop-color="#0067ff"/><stop offset="0.267" stop-color="#000eff"/><stop offset="0.273" stop-color="#0000f3"/><stop offset="0.292" stop-color="#0000b5"/><stop offset="0.311" stop-color="#00009a"/><stop offset="0.360" stop-color="#000091"/><stop offset="1.000" stop-color="#000091"/></linearGradient><linearGradient id="gf59" gradientUnits="userSpaceOnUse" x1="0" y1="1118.5" x2="0" y2="1601.5"><stop offset="0.000" stop-color="#0000bb"/><stop offset="0.093" stop-color="#0000fd"/><stop offset="0.112" stop-color="#0019ff"/><stop offset="0.124" stop-color="#003cff"/><stop offset="0.149" stop-color="#00afff"/><stop offset="0.155" stop-color="#00c3ff"/><stop offset="0.161" stop-color="#00c8ff"/><stop offset="0.168" stop-color="#00baff"/><stop offset="0.180" stop-color="#0075ff"/><stop offset="0.186" stop-color="#005aff"/><stop offset="0.193" stop-color="#0055ff"/><stop offset="0.199" stop-color="#0068ff"/><stop offset="0.217" stop-color="#00c9ff"/><stop offset="0.224" stop-color="#00d8ff"/><stop offset="0.230" stop-color="#00d7ff"/><stop offset="0.236" stop-color="#00c9ff"/><stop offset="0.248" stop-color="#0091ff"/><stop offset="0.273" stop-color="#0014ff"/><stop offset="0.280" stop-color="#0000f7"/><stop offset="0.292" stop-color="#0000c7"/><stop offset="0.304" stop-color="#0000aa"/><stop offset="0.329" stop-color="#000099"/><stop offset="0.590" stop-color="#000092"/><stop offset="1.000" stop-color="#000091"/></linearGradient><linearGradient id="gf60" gradientUnits="userSpaceOnUse" x1="0" y1="1118.5" x2="0" y2="1601.5"><stop offset="0.000" stop-color="#0000bc"/><stop offset="0.099" stop-color="#0002ff"/><stop offset="0.118" stop-color="#0022ff"/><stop offset="0.130" stop-color="#004bff"/><stop offset="0.149" stop-color="#009aff"/><stop offset="0.155" stop-color="#00adff"/><stop offset="0.161" stop-color="#00b3ff"/><stop offset="0.168" stop-color="#00acff"/><stop offset="0.180" stop-color="#0080ff"/><stop offset="0.186" stop-color="#0072ff"/><stop offset="0.193" stop-color="#0074ff"/><stop offset="0.199" stop-color="#0087ff"/><stop offset="0.211" stop-color="#00c2ff"/><stop offset="0.217" stop-color="#00daff"/><stop offset="0.224" stop-color="#00e6ff"/><stop offset="0.230" stop-color="#00e4ff"/><stop offset="0.236" stop-color="#00d7ff"/><stop offset="0.248" stop-color="#00a4ff"/><stop offset="0.280" stop-color="#000cff"/><stop offset="0.286" stop-color="#0000f0"/><stop offset="0.298" stop-color="#0000c6"/><stop offset="0.317" stop-color="#0000a8"/><stop offset="0.354" stop-color="#000099"/><stop offset="0.634" stop-color="#000093"/><stop offset="1.000" stop-color="#000092"/></linearGradient><linearGradient id="gf61" gradientUnits="userSpaceOnUse" x1="0" y1="1118.5" x2="0" y2="1601.5"><stop offset="0.000" stop-color="#0000bc"/><stop offset="0.093" stop-color="#0000f9"/><stop offset="0.106" stop-color="#000aff"/><stop offset="0.124" stop-color="#0033ff"/><stop offset="0.149" stop-color="#0093ff"/><stop offset="0.155" stop-color="#00a4ff"/><stop offset="0.161" stop-color="#00aaff"/><stop offset="0.168" stop-color="#00a5ff"/><stop offset="0.180" stop-color="#0085ff"/><stop offset="0.186" stop-color="#007cff"/><stop offset="0.193" stop-color="#007fff"/><stop offset="0.199" stop-color="#0091ff"/><stop offset="0.217" stop-color="#00daff"/><stop offset="0.224" stop-color="#00e5ff"/><stop offset="0.230" stop-color="#00e4ff"/><stop offset="0.236" stop-color="#00d8ff"/><stop offset="0.248" stop-color="#00a8ff"/><stop offset="0.280" stop-color="#0012ff"/><stop offset="0.286" stop-color="#0000f7"/><stop offset="0.298" stop-color="#0000cd"/><stop offset="0.317" stop-color="#0000ac"/><stop offset="0.354" stop-color="#00009b"/><stop offset="0.584" stop-color="#000093"/><stop offset="1.000" stop-color="#000092"/></linearGradient><linearGradient id="gf62" gradientUnits="userSpaceOnUse" x1="0" y1="1118.5" x2="0" y2="1601.5"><stop offset="0.000" stop-color="#0000bc"/><stop offset="0.093" stop-color="#0000f9"/><stop offset="0.106" stop-color="#000aff"/><stop offset="0.124" stop-color="#0033ff"/><stop offset="0.149" stop-color="#0092ff"/><stop offset="0.155" stop-color="#00a3ff"/><stop offset="0.161" stop-color="#00a9ff"/><stop offset="0.168" stop-color="#00a4ff"/><stop offset="0.180" stop-color="#0086ff"/><stop offset="0.186" stop-color="#007dff"/><stop offset="0.193" stop-color="#0081ff"/><stop offset="0.199" stop-color="#0092ff"/><stop offset="0.217" stop-color="#00daff"/><stop offset="0.224" stop-color="#00e5ff"/><stop offset="0.230" stop-color="#00e4ff"/><stop offset="0.236" stop-color="#00d7ff"/><stop offset="0.248" stop-color="#00a8ff"/><stop offset="0.280" stop-color="#0013ff"/><stop offset="0.286" stop-color="#0000f7"/><stop offset="0.298" stop-color="#0000cd"/><stop offset="0.317" stop-color="#0000ad"/><stop offset="0.354" stop-color="#00009c"/><stop offset="0.578" stop-color="#000093"/><stop offset="1.000" stop-color="#000092"/></linearGradient><linearGradient id="gf63" gradientUnits="userSpaceOnUse" x1="0" y1="1118.5" x2="0" y2="1601.5"><stop offset="0.000" stop-color="#0000bc"/><stop offset="0.093" stop-color="#0000f9"/><stop offset="0.106" stop-color="#000aff"/><stop offset="0.124" stop-color="#0033ff"/><stop offset="0.149" stop-color="#0092ff"/><stop offset="0.155" stop-color="#00a3ff"/><stop offset="0.161" stop-color="#00a9ff"/><stop offset="0.168" stop-color="#00a4ff"/><stop offset="0.180" stop-color="#0086ff"/><stop offset="0.186" stop-color="#007dff"/><stop offset="0.193" stop-color="#0081ff"/><stop offset="0.199" stop-color="#0092ff"/><stop offset="0.217" stop-color="#00daff"/><stop offset="0.224" stop-color="#00e5ff"/><stop offset="0.230" stop-color="#00e3ff"/><stop offset="0.236" stop-color="#00d7ff"/><stop offset="0.248" stop-color="#00a8ff"/><stop offset="0.280" stop-color="#0013ff"/><stop offset="0.286" stop-color="#0000f7"/><stop offset="0.298" stop-color="#0000cd"/><stop offset="0.317" stop-color="#0000ad"/><stop offset="0.354" stop-color="#00009c"/><stop offset="0.578" stop-color="#000093"/><stop offset="1.000" stop-color="#000092"/></linearGradient><clipPath id="cpf"><polygon points="904.8,1131.3 1164,1131.3 1184,1125.2 1274.4,1125.2 1292.7,1131.3 1590.4,1131.3 1590.4,1512.5 1508,1534.3 1414.5,1546.1 1322.5,1522.5 1229.5,1487.1 1136.5,1463.5 1043.5,1428.1 951,1345.5 904.8,1310.1"/></clipPath><filter id="blf" filterUnits="userSpaceOnUse" x="864.8" y="1103.5" width="776.2" height="505"><feGaussianBlur stdDeviation="6.6 0"/></filter><linearGradient id="cbg" x1="0" y1="1" x2="0" y2="0"><stop offset="0.0000" stop-color="#00008f"/><stop offset="0.0156" stop-color="#00008f"/><stop offset="0.0156" stop-color="#00009f"/><stop offset="0.0312" stop-color="#00009f"/><stop offset="0.0312" stop-color="#0000af"/><stop offset="0.0469" stop-color="#0000af"/><stop offset="0.0469" stop-color="#0000bf"/><stop offset="0.0625" stop-color="#0000bf"/><stop offset="0.0625" stop-color="#0000cf"/><stop offset="0.0781" stop-color="#0000cf"/><stop offset="0.0781" stop-color="#0000df"/><stop offset="0.0938" stop-color="#0000df"/><stop offset="0.0938" stop-color="#0000ef"/><stop offset="0.1094" stop-color="#0000ef"/><stop offset="0.1094" stop-color="#0000ff"/><stop offset="0.1250" stop-color="#0000ff"/><stop offset="0.1250" stop-color="#0010ff"/><stop offset="0.1406" stop-color="#0010ff"/><stop offset="0.1406" stop-color="#0020ff"/><stop offset="0.1562" stop-color="#0020ff"/><stop offset="0.1562" stop-color="#0030ff"/><stop offset="0.1719" stop-color="#0030ff"/><stop offset="0.1719" stop-color="#0040ff"/><stop offset="0.1875" stop-color="#0040ff"/><stop offset="0.1875" stop-color="#0050ff"/><stop offset="0.2031" stop-color="#0050ff"/><stop offset="0.2031" stop-color="#0060ff"/><stop offset="0.2188" stop-color="#0060ff"/><stop offset="0.2188" stop-color="#0070ff"/><stop offset="0.2344" stop-color="#0070ff"/><stop offset="0.2344" stop-color="#0080ff"/><stop offset="0.2500" stop-color="#0080ff"/><stop offset="0.2500" stop-color="#008fff"/><stop offset="0.2656" stop-color="#008fff"/><stop offset="0.2656" stop-color="#009fff"/><stop offset="0.2812" stop-color="#009fff"/><stop offset="0.2812" stop-color="#00afff"/><stop offset="0.2969" stop-color="#00afff"/><stop offset="0.2969" stop-color="#00bfff"/><stop offset="0.3125" stop-color="#00bfff"/><stop offset="0.3125" stop-color="#00cfff"/><stop offset="0.3281" stop-color="#00cfff"/><stop offset="0.3281" stop-color="#00dfff"/><stop offset="0.3438" stop-color="#00dfff"/><stop offset="0.3438" stop-color="#00efff"/><stop offset="0.3594" stop-color="#00efff"/><stop offset="0.3594" stop-color="#00ffff"/><stop offset="0.3750" stop-color="#00ffff"/><stop offset="0.3750" stop-color="#10ffef"/><stop offset="0.3906" stop-color="#10ffef"/><stop offset="0.3906" stop-color="#20ffdf"/><stop offset="0.4062" stop-color="#20ffdf"/><stop offset="0.4062" stop-color="#30ffcf"/><stop offset="0.4219" stop-color="#30ffcf"/><stop offset="0.4219" stop-color="#40ffbf"/><stop offset="0.4375" stop-color="#40ffbf"/><stop offset="0.4375" stop-color="#50ffaf"/><stop offset="0.4531" stop-color="#50ffaf"/><stop offset="0.4531" stop-color="#60ff9f"/><stop offset="0.4688" stop-color="#60ff9f"/><stop offset="0.4688" stop-color="#70ff8f"/><stop offset="0.4844" stop-color="#70ff8f"/><stop offset="0.4844" stop-color="#80ff80"/><stop offset="0.5000" stop-color="#80ff80"/><stop offset="0.5000" stop-color="#8fff70"/><stop offset="0.5156" stop-color="#8fff70"/><stop offset="0.5156" stop-color="#9fff60"/><stop offset="0.5312" stop-color="#9fff60"/><stop offset="0.5312" stop-color="#afff50"/><stop offset="0.5469" stop-color="#afff50"/><stop offset="0.5469" stop-color="#bfff40"/><stop offset="0.5625" stop-color="#bfff40"/><stop offset="0.5625" stop-color="#cfff30"/><stop offset="0.5781" stop-color="#cfff30"/><stop offset="0.5781" stop-color="#dfff20"/><stop offset="0.5938" stop-color="#dfff20"/><stop offset="0.5938" stop-color="#efff10"/><stop offset="0.6094" stop-color="#efff10"/><stop offset="0.6094" stop-color="#ffff00"/><stop offset="0.6250" stop-color="#ffff00"/><stop offset="0.6250" stop-color="#ffef00"/><stop offset="0.6406" stop-color="#ffef00"/><stop offset="0.6406" stop-color="#ffdf00"/><stop offset="0.6562" stop-color="#ffdf00"/><stop offset="0.6562" stop-color="#ffcf00"/><stop offset="0.6719" stop-color="#ffcf00"/><stop offset="0.6719" stop-color="#ffbf00"/><stop offset="0.6875" stop-color="#ffbf00"/><stop offset="0.6875" stop-color="#ffaf00"/><stop offset="0.7031" stop-color="#ffaf00"/><stop offset="0.7031" stop-color="#ff9f00"/><stop offset="0.7188" stop-color="#ff9f00"/><stop offset="0.7188" stop-color="#ff8f00"/><stop offset="0.7344" stop-color="#ff8f00"/><stop offset="0.7344" stop-color="#ff8000"/><stop offset="0.7500" stop-color="#ff8000"/><stop offset="0.7500" stop-color="#ff7000"/><stop offset="0.7656" stop-color="#ff7000"/><stop offset="0.7656" stop-color="#ff6000"/><stop offset="0.7812" stop-color="#ff6000"/><stop offset="0.7812" stop-color="#ff5000"/><stop offset="0.7969" stop-color="#ff5000"/><stop offset="0.7969" stop-color="#ff4000"/><stop offset="0.8125" stop-color="#ff4000"/><stop offset="0.8125" stop-color="#ff3000"/><stop offset="0.8281" stop-color="#ff3000"/><stop offset="0.8281" stop-color="#ff2000"/><stop offset="0.8438" stop-color="#ff2000"/><stop offset="0.8438" stop-color="#ff1000"/><stop offset="0.8594" stop-color="#ff1000"/><stop offset="0.8594" stop-color="#ff0000"/><stop offset="0.8750" stop-color="#ff0000"/><stop offset="0.8750" stop-color="#ef0000"/><stop offset="0.8906" stop-color="#ef0000"/><stop offset="0.8906" stop-color="#df0000"/><stop offset="0.9062" stop-color="#df0000"/><stop offset="0.9062" stop-color="#cf0000"/><stop offset="0.9219" stop-color="#cf0000"/><stop offset="0.9219" stop-color="#bf0000"/><stop offset="0.9375" stop-color="#bf0000"/><stop offset="0.9375" stop-color="#af0000"/><stop offset="0.9531" stop-color="#af0000"/><stop offset="0.9531" stop-color="#9f0000"/><stop offset="0.9688" stop-color="#9f0000"/><stop offset="0.9688" stop-color="#8f0000"/><stop offset="0.9844" stop-color="#8f0000"/><stop offset="0.9844" stop-color="#800000"/><stop offset="1.0000" stop-color="#800000"/></linearGradient></defs>
<g class="fld"><g clip-path="url(#cpa)"><g filter="url(#bla)"><rect x="75.7" y="28.5" width="12.6" height="495" fill="url(#ga0)"/><rect x="87.7" y="28.5" width="12.6" height="495" fill="url(#ga1)"/><rect x="99.7" y="28.5" width="12.6" height="495" fill="url(#ga2)"/><rect x="111.7" y="28.5" width="12.6" height="495" fill="url(#ga3)"/><rect x="123.7" y="28.5" width="12.6" height="495" fill="url(#ga4)"/><rect x="135.7" y="28.5" width="12.6" height="495" fill="url(#ga5)"/><rect x="147.7" y="28.5" width="12.6" height="495" fill="url(#ga6)"/><rect x="159.7" y="28.5" width="12.6" height="495" fill="url(#ga7)"/><rect x="171.7" y="28.5" width="12.6" height="495" fill="url(#ga8)"/><rect x="183.7" y="28.5" width="12.6" height="495" fill="url(#ga9)"/><rect x="195.7" y="28.5" width="12.6" height="495" fill="url(#ga10)"/><rect x="207.7" y="28.5" width="12.6" height="495" fill="url(#ga11)"/><rect x="219.7" y="28.5" width="12.6" height="495" fill="url(#ga12)"/><rect x="231.7" y="28.5" width="12.6" height="495" fill="url(#ga13)"/><rect x="243.7" y="28.5" width="12.6" height="495" fill="url(#ga14)"/><rect x="255.7" y="28.5" width="12.6" height="495" fill="url(#ga15)"/><rect x="267.7" y="28.5" width="12.6" height="495" fill="url(#ga16)"/><rect x="279.7" y="28.5" width="12.6" height="495" fill="url(#ga17)"/><rect x="291.7" y="28.5" width="12.6" height="495" fill="url(#ga18)"/><rect x="303.7" y="28.5" width="12.6" height="495" fill="url(#ga19)"/><rect x="315.7" y="28.5" width="12.6" height="495" fill="url(#ga20)"/><rect x="327.7" y="28.5" width="12.6" height="495" fill="url(#ga21)"/><rect x="339.7" y="28.5" width="12.6" height="495" fill="url(#ga22)"/><rect x="351.7" y="28.5" width="12.6" height="495" fill="url(#ga23)"/><rect x="363.7" y="28.5" width="12.6" height="495" fill="url(#ga24)"/><rect x="375.7" y="28.5" width="12.6" height="495" fill="url(#ga25)"/><rect x="387.7" y="28.5" width="12.6" height="495" fill="url(#ga26)"/><rect x="399.7" y="28.5" width="12.6" height="495" fill="url(#ga27)"/><rect x="411.7" y="28.5" width="12.6" height="495" fill="url(#ga28)"/><rect x="423.7" y="28.5" width="12.6" height="495" fill="url(#ga29)"/><rect x="435.7" y="28.5" width="12.6" height="495" fill="url(#ga30)"/><rect x="447.7" y="28.5" width="12.6" height="495" fill="url(#ga31)"/><rect x="459.7" y="28.5" width="12.6" height="495" fill="url(#ga32)"/><rect x="471.7" y="28.5" width="12.6" height="495" fill="url(#ga33)"/><rect x="483.7" y="28.5" width="12.6" height="495" fill="url(#ga34)"/><rect x="495.7" y="28.5" width="12.6" height="495" fill="url(#ga35)"/><rect x="507.7" y="28.5" width="12.6" height="495" fill="url(#ga36)"/><rect x="519.7" y="28.5" width="12.6" height="495" fill="url(#ga37)"/><rect x="531.7" y="28.5" width="12.6" height="495" fill="url(#ga38)"/><rect x="543.7" y="28.5" width="12.6" height="495" fill="url(#ga39)"/><rect x="555.7" y="28.5" width="12.6" height="495" fill="url(#ga40)"/><rect x="567.7" y="28.5" width="12.6" height="495" fill="url(#ga41)"/><rect x="579.7" y="28.5" width="12.6" height="495" fill="url(#ga42)"/><rect x="591.7" y="28.5" width="12.6" height="495" fill="url(#ga43)"/><rect x="603.7" y="28.5" width="12.6" height="495" fill="url(#ga44)"/><rect x="615.7" y="28.5" width="12.6" height="495" fill="url(#ga45)"/><rect x="627.7" y="28.5" width="12.6" height="495" fill="url(#ga46)"/><rect x="639.7" y="28.5" width="12.6" height="495" fill="url(#ga47)"/><rect x="651.7" y="28.5" width="12.6" height="495" fill="url(#ga48)"/><rect x="663.7" y="28.5" width="12.6" height="495" fill="url(#ga49)"/><rect x="675.7" y="28.5" width="12.6" height="495" fill="url(#ga50)"/><rect x="687.7" y="28.5" width="12.6" height="495" fill="url(#ga51)"/><rect x="699.7" y="28.5" width="12.6" height="495" fill="url(#ga52)"/><rect x="711.7" y="28.5" width="12.6" height="495" fill="url(#ga53)"/><rect x="723.7" y="28.5" width="12.6" height="495" fill="url(#ga54)"/><rect x="735.7" y="28.5" width="12.6" height="495" fill="url(#ga55)"/><rect x="747.7" y="28.5" width="12.6" height="495" fill="url(#ga56)"/><rect x="759.7" y="28.5" width="12.6" height="495" fill="url(#ga57)"/><rect x="771.7" y="28.5" width="12.6" height="495" fill="url(#ga58)"/><rect x="783.7" y="28.5" width="12.6" height="495" fill="url(#ga59)"/><rect x="795.7" y="28.5" width="12.6" height="495" fill="url(#ga60)"/><rect x="807.7" y="28.5" width="12.6" height="495" fill="url(#ga61)"/><rect x="819.7" y="28.5" width="12.6" height="495" fill="url(#ga62)"/><rect x="831.7" y="28.5" width="12.6" height="495" fill="url(#ga63)"/><rect x="843.7" y="28.5" width="12.6" height="495" fill="url(#ga64)"/><rect x="855.7" y="28.5" width="12.6" height="495" fill="url(#ga65)"/></g><polyline points="107,55 161,55 184,51 195,45"/><polyline points="263,44.9 240,50 191.3,67.7 183.7,74.5 188,94.8 191.3,118.5 199.8,127 196.4,152.4 194.7,172.7 193.8,181"/><polyline points="191.1,221 189.5,241 188.4,261.3 187.8,275.5"/><polyline points="462,45 450,50 400,51 330,52 318,55 310,62.5 314,100 311,130 307.5,165 300,200 297.1,205 295,214"/><polyline points="283.9,261.3 281.9,281.6 281.3,312.1 282.9,341.5"/><polyline points="698,108 706,106 716,109"/><polyline points="630,47 650,48.5 680,46"/></g><text class="cl" font-size="32" transform="translate(193.5,200.5) rotate(-90)" y="10.9">29</text><text class="cl" font-size="32" transform="translate(289,238) rotate(-90)" y="10.9">30</text><text class="cl" font-size="32" transform="translate(722,108) rotate(18)" y="10.9">31</text></g><polygon points="106,217.3 160.5,276.3 256.3,335.3 351,394.3 446.8,417.9 542,453.3 637.5,476.9 733,453.3 828.7,429.7 828.7,523.5 106,523.5" fill="#d9d9d9"/><polyline points="106,217.3 160.5,276.3 256.3,335.3 351,394.3 446.8,417.9 542,453.3 637.5,476.9 733,453.3 828.7,429.7" fill="none" stroke="#000" stroke-width="2.3" stroke-linejoin="round"/><path d="M160.5 41.7h0M160.5 53.4h0M160.5 65.2h0M160.5 76.9h0M160.5 88.6h0M160.5 100.3h0M160.5 112h0M160.5 123.8h0M160.5 135.5h0M160.5 147.2h0M160.5 158.9h0M160.5 170.6h0M160.5 182.4h0M160.5 194.1h0M160.5 205.8h0M160.5 217.5h0M160.5 229.2h0M160.5 241h0M160.5 252.7h0M160.5 264.4h0M256.3 41.7h0M256.3 53.4h0M256.3 65.2h0M256.3 76.9h0M256.3 88.6h0M256.3 100.3h0M256.3 112h0M256.3 123.8h0M256.3 135.5h0M256.3 147.2h0M256.3 158.9h0M256.3 170.6h0M256.3 182.4h0M256.3 194.1h0M256.3 205.8h0M256.3 217.5h0M256.3 229.2h0M256.3 241h0M256.3 252.7h0M256.3 264.4h0M256.3 276.1h0M256.3 287.8h0M256.3 299.6h0M256.3 311.3h0M256.3 323h0M256.3 334.7h0M351 41.7h0M351 53.4h0M351 65.2h0M351 76.9h0M351 88.6h0M351 100.3h0M351 112h0M351 123.8h0M351 135.5h0M351 147.2h0M351 158.9h0M351 170.6h0M351 182.4h0M351 194.1h0M351 205.8h0M351 217.5h0M351 229.2h0M351 241h0M351 252.7h0M351 264.4h0M351 276.1h0M351 287.8h0M351 299.6h0M351 311.3h0M351 323h0M351 334.7h0M351 346.4h0M351 358.2h0M351 369.9h0M351 381.6h0M446.8 41.7h0M446.8 53.4h0M446.8 65.2h0M446.8 76.9h0M446.8 88.6h0M446.8 100.3h0M446.8 112h0M446.8 123.8h0M446.8 135.5h0M446.8 147.2h0M446.8 158.9h0M446.8 170.6h0M446.8 182.4h0M446.8 194.1h0M446.8 205.8h0M446.8 217.5h0M446.8 229.2h0M446.8 241h0M446.8 252.7h0M446.8 264.4h0M446.8 276.1h0M446.8 287.8h0M446.8 299.6h0M446.8 311.3h0M446.8 323h0M446.8 334.7h0M446.8 346.4h0M446.8 358.2h0M446.8 369.9h0M446.8 381.6h0M446.8 393.3h0M542 41.7h0M542 53.4h0M542 65.2h0M542 76.9h0M542 88.6h0M542 100.3h0M542 112h0M542 123.8h0M542 135.5h0M542 147.2h0M542 158.9h0M542 170.6h0M542 182.4h0M542 194.1h0M542 205.8h0M542 217.5h0M542 229.2h0M542 241h0M542 252.7h0M542 264.4h0M542 276.1h0M542 287.8h0M542 299.6h0M542 311.3h0M542 323h0M542 334.7h0M542 346.4h0M542 358.2h0M542 369.9h0M542 381.6h0M542 393.3h0M542 405h0M542 416.8h0M542 428.5h0M542 440.2h0M637.5 41.7h0M637.5 53.4h0M637.5 65.2h0M637.5 76.9h0M637.5 88.6h0M637.5 100.3h0M637.5 112h0M637.5 123.8h0M637.5 135.5h0M637.5 147.2h0M637.5 158.9h0M637.5 170.6h0M637.5 182.4h0M637.5 194.1h0M637.5 205.8h0M637.5 217.5h0M637.5 229.2h0M637.5 241h0M637.5 252.7h0M637.5 264.4h0M637.5 276.1h0M637.5 287.8h0M637.5 299.6h0M637.5 311.3h0M637.5 323h0M637.5 334.7h0M637.5 346.4h0M637.5 358.2h0M637.5 369.9h0M637.5 381.6h0M637.5 393.3h0M637.5 405h0M637.5 416.8h0M637.5 428.5h0M637.5 440.2h0M637.5 451.9h0M637.5 463.6h0M733 41.7h0M733 53.4h0M733 65.2h0M733 76.9h0M733 88.6h0M733 100.3h0M733 112h0M733 123.8h0M733 135.5h0M733 147.2h0M733 158.9h0M733 170.6h0M733 182.4h0M733 194.1h0M733 205.8h0M733 217.5h0M733 229.2h0M733 241h0M733 252.7h0M733 264.4h0M733 276.1h0M733 287.8h0M733 299.6h0M733 311.3h0M733 323h0M733 334.7h0M733 346.4h0M733 358.2h0M733 369.9h0M733 381.6h0M733 393.3h0M733 405h0M733 416.8h0M733 428.5h0M733 440.2h0M733 451.9h0M826 41.7h0M826 53.4h0M826 65.2h0M826 76.9h0M826 88.6h0M826 100.3h0M826 112h0M826 123.8h0M826 135.5h0M826 147.2h0M826 158.9h0M826 170.6h0M826 182.4h0M826 194.1h0M826 205.8h0M826 217.5h0M826 229.2h0M826 241h0M826 252.7h0M826 264.4h0M826 276.1h0M826 287.8h0M826 299.6h0M826 311.3h0M826 323h0M826 334.7h0M826 346.4h0M826 358.2h0M826 369.9h0M826 381.6h0M826 393.3h0M826 405h0M826 416.8h0M826 428.5h0" stroke="#000" stroke-width="4" stroke-linecap="round" fill="none"/><path d="M106 146.5h13.2M828.7 146.5h-13.2M106 264.5h13.2M828.7 264.5h-13.2M106 382.5h13.2M828.7 382.5h-13.2M106 500.5h13.2M828.7 500.5h-13.2M256.3 28.5v13.2M256.3 523.5v-13.2M447 28.5v13.2M447 523.5v-13.2M637.6 28.5v13.2M637.6 523.5v-13.2" stroke="#262626" stroke-width="4.2" fill="none"/><rect x="106" y="28.5" width="722.7" height="495" fill="none" stroke="#262626" stroke-width="4.1"/><text x="98.6" y="24.8" font-size="36">A1</text><text x="152.9" y="24.8" font-size="36">A2</text><text x="248.7" y="24.8" font-size="36">A3</text><text x="343.4" y="24.8" font-size="36">A4</text><text x="439.2" y="24.8" font-size="36">A5</text><text x="534.4" y="24.8" font-size="36">A6</text><text x="629.9" y="24.8" font-size="36">A7</text><text x="725.4" y="24.8" font-size="36">A8</text><text x="818.4" y="24.8" font-size="36">A9</text><text x="96" y="42.7" font-size="41.5" text-anchor="end">0</text><text x="96" y="160.7" font-size="41.5" text-anchor="end">-10</text><text x="96" y="278.7" font-size="41.5" text-anchor="end">-20</text><text x="96" y="396.7" font-size="41.5" text-anchor="end">-30</text><text x="96" y="514.7" font-size="41.5" text-anchor="end">-40</text><text font-size="41" text-anchor="middle" transform="translate(30.5,276) rotate(-90)">depth(m)</text><text x="134.5" y="452" font-size="39.5">2015</text><text x="135" y="506.5" font-size="36.4">Salinity</text><text x="753.4" y="506.5" font-size="39.5">(a)</text><g class="fld"><g clip-path="url(#cpb)"><g filter="url(#blb)"><rect x="75.7" y="568.5" width="12.6" height="495" fill="url(#gb0)"/><rect x="87.7" y="568.5" width="12.6" height="495" fill="url(#gb1)"/><rect x="99.7" y="568.5" width="12.6" height="495" fill="url(#gb2)"/><rect x="111.7" y="568.5" width="12.6" height="495" fill="url(#gb3)"/><rect x="123.7" y="568.5" width="12.6" height="495" fill="url(#gb4)"/><rect x="135.7" y="568.5" width="12.6" height="495" fill="url(#gb5)"/><rect x="147.7" y="568.5" width="12.6" height="495" fill="url(#gb6)"/><rect x="159.7" y="568.5" width="12.6" height="495" fill="url(#gb7)"/><rect x="171.7" y="568.5" width="12.6" height="495" fill="url(#gb8)"/><rect x="183.7" y="568.5" width="12.6" height="495" fill="url(#gb9)"/><rect x="195.7" y="568.5" width="12.6" height="495" fill="url(#gb10)"/><rect x="207.7" y="568.5" width="12.6" height="495" fill="url(#gb11)"/><rect x="219.7" y="568.5" width="12.6" height="495" fill="url(#gb12)"/><rect x="231.7" y="568.5" width="12.6" height="495" fill="url(#gb13)"/><rect x="243.7" y="568.5" width="12.6" height="495" fill="url(#gb14)"/><rect x="255.7" y="568.5" width="12.6" height="495" fill="url(#gb15)"/><rect x="267.7" y="568.5" width="12.6" height="495" fill="url(#gb16)"/><rect x="279.7" y="568.5" width="12.6" height="495" fill="url(#gb17)"/><rect x="291.7" y="568.5" width="12.6" height="495" fill="url(#gb18)"/><rect x="303.7" y="568.5" width="12.6" height="495" fill="url(#gb19)"/><rect x="315.7" y="568.5" width="12.6" height="495" fill="url(#gb20)"/><rect x="327.7" y="568.5" width="12.6" height="495" fill="url(#gb21)"/><rect x="339.7" y="568.5" width="12.6" height="495" fill="url(#gb22)"/><rect x="351.7" y="568.5" width="12.6" height="495" fill="url(#gb23)"/><rect x="363.7" y="568.5" width="12.6" height="495" fill="url(#gb24)"/><rect x="375.7" y="568.5" width="12.6" height="495" fill="url(#gb25)"/><rect x="387.7" y="568.5" width="12.6" height="495" fill="url(#gb26)"/><rect x="399.7" y="568.5" width="12.6" height="495" fill="url(#gb27)"/><rect x="411.7" y="568.5" width="12.6" height="495" fill="url(#gb28)"/><rect x="423.7" y="568.5" width="12.6" height="495" fill="url(#gb29)"/><rect x="435.7" y="568.5" width="12.6" height="495" fill="url(#gb30)"/><rect x="447.7" y="568.5" width="12.6" height="495" fill="url(#gb31)"/><rect x="459.7" y="568.5" width="12.6" height="495" fill="url(#gb32)"/><rect x="471.7" y="568.5" width="12.6" height="495" fill="url(#gb33)"/><rect x="483.7" y="568.5" width="12.6" height="495" fill="url(#gb34)"/><rect x="495.7" y="568.5" width="12.6" height="495" fill="url(#gb35)"/><rect x="507.7" y="568.5" width="12.6" height="495" fill="url(#gb36)"/><rect x="519.7" y="568.5" width="12.6" height="495" fill="url(#gb37)"/><rect x="531.7" y="568.5" width="12.6" height="495" fill="url(#gb38)"/><rect x="543.7" y="568.5" width="12.6" height="495" fill="url(#gb39)"/><rect x="555.7" y="568.5" width="12.6" height="495" fill="url(#gb40)"/><rect x="567.7" y="568.5" width="12.6" height="495" fill="url(#gb41)"/><rect x="579.7" y="568.5" width="12.6" height="495" fill="url(#gb42)"/><rect x="591.7" y="568.5" width="12.6" height="495" fill="url(#gb43)"/><rect x="603.7" y="568.5" width="12.6" height="495" fill="url(#gb44)"/><rect x="615.7" y="568.5" width="12.6" height="495" fill="url(#gb45)"/><rect x="627.7" y="568.5" width="12.6" height="495" fill="url(#gb46)"/><rect x="639.7" y="568.5" width="12.6" height="495" fill="url(#gb47)"/><rect x="651.7" y="568.5" width="12.6" height="495" fill="url(#gb48)"/><rect x="663.7" y="568.5" width="12.6" height="495" fill="url(#gb49)"/><rect x="675.7" y="568.5" width="12.6" height="495" fill="url(#gb50)"/><rect x="687.7" y="568.5" width="12.6" height="495" fill="url(#gb51)"/><rect x="699.7" y="568.5" width="12.6" height="495" fill="url(#gb52)"/><rect x="711.7" y="568.5" width="12.6" height="495" fill="url(#gb53)"/><rect x="723.7" y="568.5" width="12.6" height="495" fill="url(#gb54)"/><rect x="735.7" y="568.5" width="12.6" height="495" fill="url(#gb55)"/><rect x="747.7" y="568.5" width="12.6" height="495" fill="url(#gb56)"/><rect x="759.7" y="568.5" width="12.6" height="495" fill="url(#gb57)"/><rect x="771.7" y="568.5" width="12.6" height="495" fill="url(#gb58)"/><rect x="783.7" y="568.5" width="12.6" height="495" fill="url(#gb59)"/><rect x="795.7" y="568.5" width="12.6" height="495" fill="url(#gb60)"/><rect x="807.7" y="568.5" width="12.6" height="495" fill="url(#gb61)"/><rect x="819.7" y="568.5" width="12.6" height="495" fill="url(#gb62)"/><rect x="831.7" y="568.5" width="12.6" height="495" fill="url(#gb63)"/><rect x="843.7" y="568.5" width="12.6" height="495" fill="url(#gb64)"/><rect x="855.7" y="568.5" width="12.6" height="495" fill="url(#gb65)"/></g><polyline points="107.2,589.3 122.4,593.4 140.7,596.4 159,597.4 171.2,592.3 181.3,584.6"/><polyline points="121.4,736.6 123.4,691.9 129.5,671.6 136.6,655.3 146.8,641.1 154.9,631 163,624.9 167,623"/><polyline points="208.8,604.5 222,598.4 236.2,588.3 240.2,584.6"/><polyline points="415,584.6 429.2,598.4 441.4,605.6 449.5,608.6 456,607.6 465.6,603.2 469,602.5"/><polyline points="512,592.3 536.4,584.6"/><polyline points="226,845 227.5,790 232.1,770 238.2,746.8 248.4,718.3 256.5,708.2 270.7,698 278.9,679.7 287,661.4 299.2,651.3 315.4,633 322.5,616.7 319.5,608.6"/><polyline points="352,591 358.1,589.3 362.2,592.3 364.2,604.5 368.3,617.7 396.7,627.9 421.1,633 456,634.3 488.2,630 526.8,622.5 539.6,615 584.7,608.6 634,602.2 689.8,596.8 694,596.5"/><polyline points="737,592 740.2,591.4 773.4,599 794.8,603.2 810.9,604.3"/><polyline points="810.9,626.8 790.5,636.5 771.2,644 760.5,651.5 753,664.4"/><polyline points="742.3,713.7 742.3,770 740,840 735,910 731,940 730,987.5"/></g><text class="cl" font-size="32" transform="translate(185,617) rotate(-30)" y="10.9">22</text><text class="cl" font-size="32" transform="translate(335.5,598.5) rotate(-38)" y="10.9">21</text><text class="cl" font-size="32" transform="translate(489.5,598) rotate(-12)" y="10.9">22</text><text class="cl" font-size="32" transform="translate(714,597) rotate(-2)" y="10.9">21</text><text class="cl" font-size="32" transform="translate(748.5,689) rotate(-78)" y="10.9">20</text></g><polygon points="106,757.3 160.5,816.3 256.3,875.3 351,934.3 446.8,957.9 542,993.3 637.5,1016.9 733,993.3 828.7,969.7 828.7,1063.5 106,1063.5" fill="#d9d9d9"/><polyline points="106,757.3 160.5,816.3 256.3,875.3 351,934.3 446.8,957.9 542,993.3 637.5,1016.9 733,993.3 828.7,969.7" fill="none" stroke="#000" stroke-width="2.3" stroke-linejoin="round"/><path d="M160.5 581.7h0M160.5 593.4h0M160.5 605.2h0M160.5 616.9h0M160.5 628.6h0M160.5 640.3h0M160.5 652h0M160.5 663.8h0M160.5 675.5h0M160.5 687.2h0M160.5 698.9h0M160.5 710.6h0M160.5 722.4h0M160.5 734.1h0M160.5 745.8h0M160.5 757.5h0M160.5 769.2h0M160.5 781h0M160.5 792.7h0M160.5 804.4h0M256.3 581.7h0M256.3 593.4h0M256.3 605.2h0M256.3 616.9h0M256.3 628.6h0M256.3 640.3h0M256.3 652h0M256.3 663.8h0M256.3 675.5h0M256.3 687.2h0M256.3 698.9h0M256.3 710.6h0M256.3 722.4h0M256.3 734.1h0M256.3 745.8h0M256.3 757.5h0M256.3 769.2h0M256.3 781h0M256.3 792.7h0M256.3 804.4h0M256.3 816.1h0M256.3 827.8h0M256.3 839.6h0M256.3 851.3h0M256.3 863h0M256.3 874.7h0M351 581.7h0M351 593.4h0M351 605.2h0M351 616.9h0M351 628.6h0M351 640.3h0M351 652h0M351 663.8h0M351 675.5h0M351 687.2h0M351 698.9h0M351 710.6h0M351 722.4h0M351 734.1h0M351 745.8h0M351 757.5h0M351 769.2h0M351 781h0M351 792.7h0M351 804.4h0M351 816.1h0M351 827.8h0M351 839.6h0M351 851.3h0M351 863h0M351 874.7h0M351 886.4h0M351 898.2h0M351 909.9h0M351 921.6h0M446.8 581.7h0M446.8 593.4h0M446.8 605.2h0M446.8 616.9h0M446.8 628.6h0M446.8 640.3h0M446.8 652h0M446.8 663.8h0M446.8 675.5h0M446.8 687.2h0M446.8 698.9h0M446.8 710.6h0M446.8 722.4h0M446.8 734.1h0M446.8 745.8h0M446.8 757.5h0M446.8 769.2h0M446.8 781h0M446.8 792.7h0M446.8 804.4h0M446.8 816.1h0M446.8 827.8h0M446.8 839.6h0M446.8 851.3h0M446.8 863h0M446.8 874.7h0M446.8 886.4h0M446.8 898.2h0M446.8 909.9h0M446.8 921.6h0M446.8 933.3h0M542 581.7h0M542 593.4h0M542 605.2h0M542 616.9h0M542 628.6h0M542 640.3h0M542 652h0M542 663.8h0M542 675.5h0M542 687.2h0M542 698.9h0M542 710.6h0M542 722.4h0M542 734.1h0M542 745.8h0M542 757.5h0M542 769.2h0M542 781h0M542 792.7h0M542 804.4h0M542 816.1h0M542 827.8h0M542 839.6h0M542 851.3h0M542 863h0M542 874.7h0M542 886.4h0M542 898.2h0M542 909.9h0M542 921.6h0M542 933.3h0M542 945h0M542 956.8h0M542 968.5h0M542 980.2h0M637.5 581.7h0M637.5 593.4h0M637.5 605.2h0M637.5 616.9h0M637.5 628.6h0M637.5 640.3h0M637.5 652h0M637.5 663.8h0M637.5 675.5h0M637.5 687.2h0M637.5 698.9h0M637.5 710.6h0M637.5 722.4h0M637.5 734.1h0M637.5 745.8h0M637.5 757.5h0M637.5 769.2h0M637.5 781h0M637.5 792.7h0M637.5 804.4h0M637.5 816.1h0M637.5 827.8h0M637.5 839.6h0M637.5 851.3h0M637.5 863h0M637.5 874.7h0M637.5 886.4h0M637.5 898.2h0M637.5 909.9h0M637.5 921.6h0M637.5 933.3h0M637.5 945h0M637.5 956.8h0M637.5 968.5h0M637.5 980.2h0M637.5 991.9h0M637.5 1003.6h0M733 581.7h0M733 593.4h0M733 605.2h0M733 616.9h0M733 628.6h0M733 640.3h0M733 652h0M733 663.8h0M733 675.5h0M733 687.2h0M733 698.9h0M733 710.6h0M733 722.4h0M733 734.1h0M733 745.8h0M733 757.5h0M733 769.2h0M733 781h0M733 792.7h0M733 804.4h0M733 816.1h0M733 827.8h0M733 839.6h0M733 851.3h0M733 863h0M733 874.7h0M733 886.4h0M733 898.2h0M733 909.9h0M733 921.6h0M733 933.3h0M733 945h0M733 956.8h0M733 968.5h0M733 980.2h0M733 991.9h0M826 581.7h0M826 593.4h0M826 605.2h0M826 616.9h0M826 628.6h0M826 640.3h0M826 652h0M826 663.8h0M826 675.5h0M826 687.2h0M826 698.9h0M826 710.6h0M826 722.4h0M826 734.1h0M826 745.8h0M826 757.5h0M826 769.2h0M826 781h0M826 792.7h0M826 804.4h0M826 816.1h0M826 827.8h0M826 839.6h0M826 851.3h0M826 863h0M826 874.7h0M826 886.4h0M826 898.2h0M826 909.9h0M826 921.6h0M826 933.3h0M826 945h0M826 956.8h0M826 968.5h0" stroke="#000" stroke-width="4" stroke-linecap="round" fill="none"/><path d="M106 686.5h13.2M828.7 686.5h-13.2M106 804.5h13.2M828.7 804.5h-13.2M106 922.5h13.2M828.7 922.5h-13.2M106 1040.5h13.2M828.7 1040.5h-13.2M256.3 568.5v13.2M256.3 1063.5v-13.2M447 568.5v13.2M447 1063.5v-13.2M637.6 568.5v13.2M637.6 1063.5v-13.2" stroke="#262626" stroke-width="4.2" fill="none"/><rect x="106" y="568.5" width="722.7" height="495" fill="none" stroke="#262626" stroke-width="4.1"/><text x="98.6" y="564.8" font-size="36">A1</text><text x="152.9" y="564.8" font-size="36">A2</text><text x="248.7" y="564.8" font-size="36">A3</text><text x="343.4" y="564.8" font-size="36">A4</text><text x="439.2" y="564.8" font-size="36">A5</text><text x="534.4" y="564.8" font-size="36">A6</text><text x="629.9" y="564.8" font-size="36">A7</text><text x="725.4" y="564.8" font-size="36">A8</text><text x="818.4" y="564.8" font-size="36">A9</text><text x="96" y="582.7" font-size="41.5" text-anchor="end">0</text><text x="96" y="700.7" font-size="41.5" text-anchor="end">-10</text><text x="96" y="818.7" font-size="41.5" text-anchor="end">-20</text><text x="96" y="936.7" font-size="41.5" text-anchor="end">-30</text><text x="96" y="1054.7" font-size="41.5" text-anchor="end">-40</text><text font-size="41" text-anchor="middle" transform="translate(30.5,816) rotate(-90)">depth(m)</text><text x="134.5" y="992" font-size="39.5">2015</text><text x="135" y="1046.5" font-size="36.4">Temperature (°C)</text><text x="753.4" y="1046.5" font-size="39.5">(b)</text><g class="fld"><g clip-path="url(#cpc)"><g filter="url(#blc)"><rect x="75.7" y="1108.5" width="12.6" height="495" fill="url(#gc0)"/><rect x="87.7" y="1108.5" width="12.6" height="495" fill="url(#gc1)"/><rect x="99.7" y="1108.5" width="12.6" height="495" fill="url(#gc2)"/><rect x="111.7" y="1108.5" width="12.6" height="495" fill="url(#gc3)"/><rect x="123.7" y="1108.5" width="12.6" height="495" fill="url(#gc4)"/><rect x="135.7" y="1108.5" width="12.6" height="495" fill="url(#gc5)"/><rect x="147.7" y="1108.5" width="12.6" height="495" fill="url(#gc6)"/><rect x="159.7" y="1108.5" width="12.6" height="495" fill="url(#gc7)"/><rect x="171.7" y="1108.5" width="12.6" height="495" fill="url(#gc8)"/><rect x="183.7" y="1108.5" width="12.6" height="495" fill="url(#gc9)"/><rect x="195.7" y="1108.5" width="12.6" height="495" fill="url(#gc10)"/><rect x="207.7" y="1108.5" width="12.6" height="495" fill="url(#gc11)"/><rect x="219.7" y="1108.5" width="12.6" height="495" fill="url(#gc12)"/><rect x="231.7" y="1108.5" width="12.6" height="495" fill="url(#gc13)"/><rect x="243.7" y="1108.5" width="12.6" height="495" fill="url(#gc14)"/><rect x="255.7" y="1108.5" width="12.6" height="495" fill="url(#gc15)"/><rect x="267.7" y="1108.5" width="12.6" height="495" fill="url(#gc16)"/><rect x="279.7" y="1108.5" width="12.6" height="495" fill="url(#gc17)"/><rect x="291.7" y="1108.5" width="12.6" height="495" fill="url(#gc18)"/><rect x="303.7" y="1108.5" width="12.6" height="495" fill="url(#gc19)"/><rect x="315.7" y="1108.5" width="12.6" height="495" fill="url(#gc20)"/><rect x="327.7" y="1108.5" width="12.6" height="495" fill="url(#gc21)"/><rect x="339.7" y="1108.5" width="12.6" height="495" fill="url(#gc22)"/><rect x="351.7" y="1108.5" width="12.6" height="495" fill="url(#gc23)"/><rect x="363.7" y="1108.5" width="12.6" height="495" fill="url(#gc24)"/><rect x="375.7" y="1108.5" width="12.6" height="495" fill="url(#gc25)"/><rect x="387.7" y="1108.5" width="12.6" height="495" fill="url(#gc26)"/><rect x="399.7" y="1108.5" width="12.6" height="495" fill="url(#gc27)"/><rect x="411.7" y="1108.5" width="12.6" height="495" fill="url(#gc28)"/><rect x="423.7" y="1108.5" width="12.6" height="495" fill="url(#gc29)"/><rect x="435.7" y="1108.5" width="12.6" height="495" fill="url(#gc30)"/><rect x="447.7" y="1108.5" width="12.6" height="495" fill="url(#gc31)"/><rect x="459.7" y="1108.5" width="12.6" height="495" fill="url(#gc32)"/><rect x="471.7" y="1108.5" width="12.6" height="495" fill="url(#gc33)"/><rect x="483.7" y="1108.5" width="12.6" height="495" fill="url(#gc34)"/><rect x="495.7" y="1108.5" width="12.6" height="495" fill="url(#gc35)"/><rect x="507.7" y="1108.5" width="12.6" height="495" fill="url(#gc36)"/><rect x="519.7" y="1108.5" width="12.6" height="495" fill="url(#gc37)"/><rect x="531.7" y="1108.5" width="12.6" height="495" fill="url(#gc38)"/><rect x="543.7" y="1108.5" width="12.6" height="495" fill="url(#gc39)"/><rect x="555.7" y="1108.5" width="12.6" height="495" fill="url(#gc40)"/><rect x="567.7" y="1108.5" width="12.6" height="495" fill="url(#gc41)"/><rect x="579.7" y="1108.5" width="12.6" height="495" fill="url(#gc42)"/><rect x="591.7" y="1108.5" width="12.6" height="495" fill="url(#gc43)"/><rect x="603.7" y="1108.5" width="12.6" height="495" fill="url(#gc44)"/><rect x="615.7" y="1108.5" width="12.6" height="495" fill="url(#gc45)"/><rect x="627.7" y="1108.5" width="12.6" height="495" fill="url(#gc46)"/><rect x="639.7" y="1108.5" width="12.6" height="495" fill="url(#gc47)"/><rect x="651.7" y="1108.5" width="12.6" height="495" fill="url(#gc48)"/><rect x="663.7" y="1108.5" width="12.6" height="495" fill="url(#gc49)"/><rect x="675.7" y="1108.5" width="12.6" height="495" fill="url(#gc50)"/><rect x="687.7" y="1108.5" width="12.6" height="495" fill="url(#gc51)"/><rect x="699.7" y="1108.5" width="12.6" height="495" fill="url(#gc52)"/><rect x="711.7" y="1108.5" width="12.6" height="495" fill="url(#gc53)"/><rect x="723.7" y="1108.5" width="12.6" height="495" fill="url(#gc54)"/><rect x="735.7" y="1108.5" width="12.6" height="495" fill="url(#gc55)"/><rect x="747.7" y="1108.5" width="12.6" height="495" fill="url(#gc56)"/><rect x="759.7" y="1108.5" width="12.6" height="495" fill="url(#gc57)"/><rect x="771.7" y="1108.5" width="12.6" height="495" fill="url(#gc58)"/><rect x="783.7" y="1108.5" width="12.6" height="495" fill="url(#gc59)"/><rect x="795.7" y="1108.5" width="12.6" height="495" fill="url(#gc60)"/><rect x="807.7" y="1108.5" width="12.6" height="495" fill="url(#gc61)"/><rect x="819.7" y="1108.5" width="12.6" height="495" fill="url(#gc62)"/><rect x="831.7" y="1108.5" width="12.6" height="495" fill="url(#gc63)"/><rect x="843.7" y="1108.5" width="12.6" height="495" fill="url(#gc64)"/><rect x="855.7" y="1108.5" width="12.6" height="495" fill="url(#gc65)"/></g><polyline points="141.7,1133.4 161,1130.3 201.6,1133.4 202.7,1138.4 181.3,1144.5 163,1148.6 143.7,1138.4 141.7,1133.4"/><polyline points="294.1,1132.8 298.2,1127.3 399.7,1127.3 411.9,1130.3 419,1131.9 411.9,1134.4 294.1,1132.8"/></g></g><polygon points="106,1297.3 160.5,1356.3 256.3,1415.3 351,1474.3 446.8,1497.9 542,1533.3 637.5,1556.9 733,1533.3 828.7,1509.7 828.7,1603.5 106,1603.5" fill="#d9d9d9"/><polyline points="106,1297.3 160.5,1356.3 256.3,1415.3 351,1474.3 446.8,1497.9 542,1533.3 637.5,1556.9 733,1533.3 828.7,1509.7" fill="none" stroke="#000" stroke-width="2.3" stroke-linejoin="round"/><path d="M160.5 1125.4h0M160.5 1137.3h0M160.5 1149.2h0M160.5 1161h0M160.5 1172.9h0M160.5 1184.8h0M160.5 1196.7h0M160.5 1208.5h0M160.5 1220.4h0M160.5 1232.3h0M160.5 1244.1h0M160.5 1256h0M160.5 1267.9h0M160.5 1279.7h0M160.5 1291.6h0M160.5 1303.5h0M160.5 1315.4h0M160.5 1327.2h0M160.5 1339.1h0M160.5 1351h0M256.3 1125.4h0M256.3 1137.3h0M256.3 1149.2h0M256.3 1161h0M256.3 1172.9h0M256.3 1184.8h0M256.3 1196.7h0M256.3 1208.5h0M256.3 1220.4h0M256.3 1232.3h0M256.3 1244.1h0M256.3 1256h0M256.3 1267.9h0M256.3 1279.7h0M256.3 1291.6h0M256.3 1303.5h0M256.3 1315.4h0M256.3 1327.2h0M256.3 1339.1h0M256.3 1351h0M256.3 1362.8h0M256.3 1374.7h0M256.3 1386.6h0M256.3 1398.4h0M256.3 1410.3h0M256.3 1422.2h0M351 1125.4h0M351 1137.3h0M351 1149.2h0M351 1161h0M351 1172.9h0M351 1184.8h0M351 1196.7h0M351 1208.5h0M351 1220.4h0M351 1232.3h0M351 1244.1h0M351 1256h0M351 1267.9h0M351 1279.7h0M351 1291.6h0M351 1303.5h0M351 1315.4h0M351 1327.2h0M351 1339.1h0M351 1351h0M351 1362.8h0M351 1374.7h0M351 1386.6h0M351 1398.4h0M351 1410.3h0M351 1422.2h0M351 1434.1h0M351 1445.9h0M351 1457.8h0M351 1469.7h0M446.8 1125.4h0M446.8 1137.3h0M446.8 1149.2h0M446.8 1161h0M446.8 1172.9h0M446.8 1184.8h0M446.8 1196.7h0M446.8 1208.5h0M446.8 1220.4h0M446.8 1232.3h0M446.8 1244.1h0M446.8 1256h0M446.8 1267.9h0M446.8 1279.7h0M446.8 1291.6h0M446.8 1303.5h0M446.8 1315.4h0M446.8 1327.2h0M446.8 1339.1h0M446.8 1351h0M446.8 1362.8h0M446.8 1374.7h0M446.8 1386.6h0M446.8 1398.4h0M446.8 1410.3h0M446.8 1422.2h0M446.8 1434.1h0M446.8 1445.9h0M446.8 1457.8h0M446.8 1469.7h0M446.8 1481.5h0M542 1125.4h0M542 1137.3h0M542 1149.2h0M542 1161h0M542 1172.9h0M542 1184.8h0M542 1196.7h0M542 1208.5h0M542 1220.4h0M542 1232.3h0M542 1244.1h0M542 1256h0M542 1267.9h0M542 1279.7h0M542 1291.6h0M542 1303.5h0M542 1315.4h0M542 1327.2h0M542 1339.1h0M542 1351h0M542 1362.8h0M542 1374.7h0M542 1386.6h0M542 1398.4h0M542 1410.3h0M542 1422.2h0M542 1434.1h0M542 1445.9h0M542 1457.8h0M542 1469.7h0M542 1481.5h0M542 1493.4h0M542 1505.3h0M542 1517.1h0M542 1529h0M637.5 1125.4h0M637.5 1137.3h0M637.5 1149.2h0M637.5 1161h0M637.5 1172.9h0M637.5 1184.8h0M637.5 1196.7h0M637.5 1208.5h0M637.5 1220.4h0M637.5 1232.3h0M637.5 1244.1h0M637.5 1256h0M637.5 1267.9h0M637.5 1279.7h0M637.5 1291.6h0M637.5 1303.5h0M637.5 1315.4h0M637.5 1327.2h0M637.5 1339.1h0M637.5 1351h0M637.5 1362.8h0M637.5 1374.7h0M637.5 1386.6h0M637.5 1398.4h0M637.5 1410.3h0M637.5 1422.2h0M637.5 1434.1h0M637.5 1445.9h0M637.5 1457.8h0M637.5 1469.7h0M637.5 1481.5h0M637.5 1493.4h0M637.5 1505.3h0M637.5 1517.1h0M637.5 1529h0M637.5 1540.9h0M637.5 1552.8h0M733 1125.4h0M733 1137.3h0M733 1149.2h0M733 1161h0M733 1172.9h0M733 1184.8h0M733 1196.7h0M733 1208.5h0M733 1220.4h0M733 1232.3h0M733 1244.1h0M733 1256h0M733 1267.9h0M733 1279.7h0M733 1291.6h0M733 1303.5h0M733 1315.4h0M733 1327.2h0M733 1339.1h0M733 1351h0M733 1362.8h0M733 1374.7h0M733 1386.6h0M733 1398.4h0M733 1410.3h0M733 1422.2h0M733 1434.1h0M733 1445.9h0M733 1457.8h0M733 1469.7h0M733 1481.5h0M733 1493.4h0M733 1505.3h0M733 1517.1h0M733 1529h0M733 1540.9h0M826 1125.4h0M826 1137.3h0M826 1149.2h0M826 1161h0M826 1172.9h0M826 1184.8h0M826 1196.7h0M826 1208.5h0M826 1220.4h0M826 1232.3h0M826 1244.1h0M826 1256h0M826 1267.9h0M826 1279.7h0M826 1291.6h0M826 1303.5h0M826 1315.4h0M826 1327.2h0M826 1339.1h0M826 1351h0M826 1362.8h0M826 1374.7h0M826 1386.6h0M826 1398.4h0M826 1410.3h0M826 1422.2h0M826 1434.1h0M826 1445.9h0M826 1457.8h0M826 1469.7h0M826 1481.5h0M826 1493.4h0M826 1505.3h0M826 1517.1h0" stroke="#000" stroke-width="4" stroke-linecap="round" fill="none"/><path d="M106 1226.5h13.2M828.7 1226.5h-13.2M106 1344.5h13.2M828.7 1344.5h-13.2M106 1462.5h13.2M828.7 1462.5h-13.2M106 1580.5h13.2M828.7 1580.5h-13.2M256.3 1108.5v13.2M256.3 1603.5v-13.2M447 1108.5v13.2M447 1603.5v-13.2M637.6 1108.5v13.2M637.6 1603.5v-13.2" stroke="#262626" stroke-width="4.2" fill="none"/><rect x="106" y="1108.5" width="722.7" height="495" fill="none" stroke="#262626" stroke-width="4.1"/><text x="98.6" y="1104.8" font-size="36">A1</text><text x="152.9" y="1104.8" font-size="36">A2</text><text x="248.7" y="1104.8" font-size="36">A3</text><text x="343.4" y="1104.8" font-size="36">A4</text><text x="439.2" y="1104.8" font-size="36">A5</text><text x="534.4" y="1104.8" font-size="36">A6</text><text x="629.9" y="1104.8" font-size="36">A7</text><text x="725.4" y="1104.8" font-size="36">A8</text><text x="818.4" y="1104.8" font-size="36">A9</text><text x="96" y="1122.7" font-size="41.5" text-anchor="end">0</text><text x="96" y="1240.7" font-size="41.5" text-anchor="end">-10</text><text x="96" y="1358.7" font-size="41.5" text-anchor="end">-20</text><text x="96" y="1476.7" font-size="41.5" text-anchor="end">-30</text><text x="96" y="1594.7" font-size="41.5" text-anchor="end">-40</text><text font-size="41" text-anchor="middle" transform="translate(30.5,1356) rotate(-90)">depth(m)</text><text x="134.5" y="1532" font-size="39.5">2015</text><text x="135" y="1591.9" font-size="36.4">N<tspan font-size="28" dy="-17.6">2</tspan><tspan dy="17.6"> (s</tspan><tspan font-size="28" dy="-17.6">-2</tspan><tspan dy="17.6">)</tspan></text><text x="753.4" y="1588" font-size="39.5">(c)</text><text x="262.7" y="1649.6" font-size="40" text-anchor="middle">122.5°E</text><text x="448.2" y="1649.6" font-size="40" text-anchor="middle">123°E</text><text x="644.2" y="1649.6" font-size="40" text-anchor="middle">123.5°E</text><text x="839.2" y="1649.6" font-size="40" text-anchor="middle">124°E</text><g class="fld"><g clip-path="url(#cpd)"><g filter="url(#bld)"><rect x="874.5" y="28.5" width="12.6" height="495" fill="url(#gd0)"/><rect x="886.5" y="28.5" width="12.6" height="495" fill="url(#gd1)"/><rect x="898.5" y="28.5" width="12.6" height="495" fill="url(#gd2)"/><rect x="910.5" y="28.5" width="12.6" height="495" fill="url(#gd3)"/><rect x="922.5" y="28.5" width="12.6" height="495" fill="url(#gd4)"/><rect x="934.5" y="28.5" width="12.6" height="495" fill="url(#gd5)"/><rect x="946.5" y="28.5" width="12.6" height="495" fill="url(#gd6)"/><rect x="958.5" y="28.5" width="12.6" height="495" fill="url(#gd7)"/><rect x="970.5" y="28.5" width="12.6" height="495" fill="url(#gd8)"/><rect x="982.5" y="28.5" width="12.6" height="495" fill="url(#gd9)"/><rect x="994.5" y="28.5" width="12.6" height="495" fill="url(#gd10)"/><rect x="1006.5" y="28.5" width="12.6" height="495" fill="url(#gd11)"/><rect x="1018.5" y="28.5" width="12.6" height="495" fill="url(#gd12)"/><rect x="1030.5" y="28.5" width="12.6" height="495" fill="url(#gd13)"/><rect x="1042.5" y="28.5" width="12.6" height="495" fill="url(#gd14)"/><rect x="1054.5" y="28.5" width="12.6" height="495" fill="url(#gd15)"/><rect x="1066.5" y="28.5" width="12.6" height="495" fill="url(#gd16)"/><rect x="1078.5" y="28.5" width="12.6" height="495" fill="url(#gd17)"/><rect x="1090.5" y="28.5" width="12.6" height="495" fill="url(#gd18)"/><rect x="1102.5" y="28.5" width="12.6" height="495" fill="url(#gd19)"/><rect x="1114.5" y="28.5" width="12.6" height="495" fill="url(#gd20)"/><rect x="1126.5" y="28.5" width="12.6" height="495" fill="url(#gd21)"/><rect x="1138.5" y="28.5" width="12.6" height="495" fill="url(#gd22)"/><rect x="1150.5" y="28.5" width="12.6" height="495" fill="url(#gd23)"/><rect x="1162.5" y="28.5" width="12.6" height="495" fill="url(#gd24)"/><rect x="1174.5" y="28.5" width="12.6" height="495" fill="url(#gd25)"/><rect x="1186.5" y="28.5" width="12.6" height="495" fill="url(#gd26)"/><rect x="1198.5" y="28.5" width="12.6" height="495" fill="url(#gd27)"/><rect x="1210.5" y="28.5" width="12.6" height="495" fill="url(#gd28)"/><rect x="1222.5" y="28.5" width="12.6" height="495" fill="url(#gd29)"/><rect x="1234.5" y="28.5" width="12.6" height="495" fill="url(#gd30)"/><rect x="1246.5" y="28.5" width="12.6" height="495" fill="url(#gd31)"/><rect x="1258.5" y="28.5" width="12.6" height="495" fill="url(#gd32)"/><rect x="1270.5" y="28.5" width="12.6" height="495" fill="url(#gd33)"/><rect x="1282.5" y="28.5" width="12.6" height="495" fill="url(#gd34)"/><rect x="1294.5" y="28.5" width="12.6" height="495" fill="url(#gd35)"/><rect x="1306.5" y="28.5" width="12.6" height="495" fill="url(#gd36)"/><rect x="1318.5" y="28.5" width="12.6" height="495" fill="url(#gd37)"/><rect x="1330.5" y="28.5" width="12.6" height="495" fill="url(#gd38)"/><rect x="1342.5" y="28.5" width="12.6" height="495" fill="url(#gd39)"/><rect x="1354.5" y="28.5" width="12.6" height="495" fill="url(#gd40)"/><rect x="1366.5" y="28.5" width="12.6" height="495" fill="url(#gd41)"/><rect x="1378.5" y="28.5" width="12.6" height="495" fill="url(#gd42)"/><rect x="1390.5" y="28.5" width="12.6" height="495" fill="url(#gd43)"/><rect x="1402.5" y="28.5" width="12.6" height="495" fill="url(#gd44)"/><rect x="1414.5" y="28.5" width="12.6" height="495" fill="url(#gd45)"/><rect x="1426.5" y="28.5" width="12.6" height="495" fill="url(#gd46)"/><rect x="1438.5" y="28.5" width="12.6" height="495" fill="url(#gd47)"/><rect x="1450.5" y="28.5" width="12.6" height="495" fill="url(#gd48)"/><rect x="1462.5" y="28.5" width="12.6" height="495" fill="url(#gd49)"/><rect x="1474.5" y="28.5" width="12.6" height="495" fill="url(#gd50)"/><rect x="1486.5" y="28.5" width="12.6" height="495" fill="url(#gd51)"/><rect x="1498.5" y="28.5" width="12.6" height="495" fill="url(#gd52)"/><rect x="1510.5" y="28.5" width="12.6" height="495" fill="url(#gd53)"/><rect x="1522.5" y="28.5" width="12.6" height="495" fill="url(#gd54)"/><rect x="1534.5" y="28.5" width="12.6" height="495" fill="url(#gd55)"/><rect x="1546.5" y="28.5" width="12.6" height="495" fill="url(#gd56)"/><rect x="1558.5" y="28.5" width="12.6" height="495" fill="url(#gd57)"/><rect x="1570.5" y="28.5" width="12.6" height="495" fill="url(#gd58)"/><rect x="1582.5" y="28.5" width="12.6" height="495" fill="url(#gd59)"/><rect x="1594.5" y="28.5" width="12.6" height="495" fill="url(#gd60)"/><rect x="1606.5" y="28.5" width="12.6" height="495" fill="url(#gd61)"/><rect x="1618.5" y="28.5" width="12.6" height="495" fill="url(#gd62)"/><rect x="1630.5" y="28.5" width="12.6" height="495" fill="url(#gd63)"/></g><polyline points="970.2,43.8 974.2,49.3 985.4,55.4 993.5,62.5 1003.7,67.6"/><polyline points="1053.5,77.1 1070.7,76.7 1087,72.7 1099.2,67.6 1121.5,60.5 1127.6,55.4 1144.9,54.4 1155,65.6 1174.3,77.7 1200.8,84.9 1229.2,88.9 1256,90.5 1313,95.4 1331.3,101.1 1351.6,108.2 1376,115.3 1395.3,121.4"/><polyline points="1446.1,122.4 1469.5,116.3 1500,111.3 1516.2,110.3 1534.5,115.3 1554.8,125.5 1563,131.6 1579.2,139.7 1590.4,143.8"/><polyline points="907.2,162 911.2,135.6 916.3,119.4 922.4,108.2"/><polyline points="966.1,90.3 997.6,88.5 1042.3,88.9 1078.9,92 1135.7,96 1200.8,100.1 1256,101.8 1296.8,100.7 1313,101.5 1327.3,106.2"/><polyline points="1369.9,128.9 1388.2,130 1408.5,130.6 1437,130.6 1479.6,125.5 1495.9,120.4 1516.2,120.4 1530.4,127.5 1546.7,140.7 1563,149.9 1590.4,159"/><polyline points="961,272 962,240"/><polyline points="966.1,194 967.1,172.2 969.1,151.9 973.2,135.6 979.3,124.5 985.4,118.4 997.6,114.3 1017.9,111.3 1042.3,109.2 1078.9,108.2 1135.7,106.2 1200.8,108.2 1246,111.3 1270,111.3"/><polyline points="1318,114.3 1331.3,123.5 1343.5,131.6 1367.9,134.6 1414.6,137.7 1469.5,137.7 1502,138.7 1508.1,147.8 1516.2,151.9 1518.2,157 1526.4,162 1528.4,168.2 1538.6,174.3 1540.6,184.4 1556.9,196.6 1568.5,212 1572,235 1573.5,265 1578.5,283"/><polyline points="1574,324 1578.5,360 1576,395 1582,415 1581,432"/><polyline points="1051,345 1051,290"/><polyline points="1050.5,243 1050.4,192.5 1051.4,162 1054.5,149.9 1060.6,141.7 1070.7,134.6 1082.9,127.1 1113.4,121.4 1135.7,119.4 1180.4,120.4 1229.2,125.5 1239.4,131.6 1245.5,143.8 1253.5,150 1258.5,170 1260,200"/><polyline points="1260,245 1260.5,330 1261,415"/><polyline points="1253.1,43.8 1256.2,52.3 1266.3,64.5 1282.6,73.7 1302.9,79.8"/><polyline points="1353.7,87.9 1376,92 1394.3,97 1403.5,108.2 1414.6,110.3 1428.9,108.2 1453.2,96 1475.6,92 1500,88.9 1516.2,88.9 1550.8,99.1 1590.4,113.3"/></g><text class="cl" font-size="32" transform="translate(1028,76) rotate(14)" y="10.9">28</text><text class="cl" font-size="32" transform="translate(942,99) rotate(-35)" y="10.9">29</text><text class="cl" font-size="32" transform="translate(966,217) rotate(-90)" y="10.9">30</text><text class="cl" font-size="32" transform="translate(1049,266) rotate(90)" y="10.9">31</text><text class="cl" font-size="32" transform="translate(1258.5,222) rotate(90)" y="10.9">31</text><text class="cl" font-size="32" transform="translate(1328.5,84) rotate(15)" y="10.9">26</text><text class="cl" font-size="32" transform="translate(1294,113.5) rotate(0)" y="10.9">30</text><text class="cl" font-size="32" transform="translate(1349,117) rotate(20)" y="10.9">29</text><text class="cl" font-size="32" transform="translate(1421,125.5) rotate(0)" y="10.9">28</text><text class="cl" font-size="32" transform="translate(1572,304.5) rotate(90)" y="10.9">30</text></g><polygon points="974.2,284.4 979.3,285.8 979.3,293.5 974.2,288.4" fill="#fff"/><polygon points="1006.7,312.9 1015.9,314.9 1015.9,326 1006.7,316.9" fill="#fff"/><polygon points="1026,332.2 1035.2,334.2 1035.2,344.3 1026,336.2" fill="#fff"/><polygon points="1045.3,345.4 1053.5,345.4 1053.5,355.5 1045.3,349.4" fill="#fff"/><polygon points="1078.9,360.6 1090,362 1090,368.7 1078.9,364.6" fill="#fff"/><polygon points="904.8,229.1 951,264.5 1043.5,347.1 1136.5,382.5 1229.5,406.1 1322.5,441.5 1414.5,465.1 1508,453.3 1601,429.7 1601,523.5 904.8,523.5" fill="#d9d9d9"/><polyline points="904.8,229.1 951,264.5 1043.5,347.1 1136.5,382.5 1229.5,406.1 1322.5,441.5 1414.5,465.1 1508,453.3 1601,429.7" fill="none" stroke="#000" stroke-width="2.3" stroke-linejoin="round"/><path d="M951 41.7h0M951 53.4h0M951 65.2h0M951 76.9h0M951 88.6h0M951 100.3h0M951 112h0M951 123.8h0M951 135.5h0M951 147.2h0M951 158.9h0M951 170.6h0M951 182.4h0M951 194.1h0M951 205.8h0M951 217.5h0M951 229.2h0M951 241h0M951 252.7h0M951 264.4h0M951 276.1h0M1043.5 41.7h0M1043.5 53.4h0M1043.5 65.2h0M1043.5 76.9h0M1043.5 88.6h0M1043.5 100.3h0M1043.5 112h0M1043.5 123.8h0M1043.5 135.5h0M1043.5 147.2h0M1043.5 158.9h0M1043.5 170.6h0M1043.5 182.4h0M1043.5 194.1h0M1043.5 205.8h0M1043.5 217.5h0M1043.5 229.2h0M1043.5 241h0M1043.5 252.7h0M1043.5 264.4h0M1043.5 276.1h0M1043.5 287.8h0M1043.5 299.6h0M1043.5 311.3h0M1043.5 323h0M1043.5 334.7h0M1043.5 346.4h0M1136.5 41.7h0M1136.5 53.4h0M1136.5 65.2h0M1136.5 76.9h0M1136.5 88.6h0M1136.5 100.3h0M1136.5 112h0M1136.5 123.8h0M1136.5 135.5h0M1136.5 147.2h0M1136.5 158.9h0M1136.5 170.6h0M1136.5 182.4h0M1136.5 194.1h0M1136.5 205.8h0M1136.5 217.5h0M1136.5 229.2h0M1136.5 241h0M1136.5 252.7h0M1136.5 264.4h0M1136.5 276.1h0M1136.5 287.8h0M1136.5 299.6h0M1136.5 311.3h0M1136.5 323h0M1136.5 334.7h0M1136.5 346.4h0M1136.5 358.2h0M1136.5 369.9h0M1136.5 381.6h0M1136.5 393.3h0M1229.5 41.7h0M1229.5 53.4h0M1229.5 65.2h0M1229.5 76.9h0M1229.5 88.6h0M1229.5 100.3h0M1229.5 112h0M1229.5 123.8h0M1229.5 135.5h0M1229.5 147.2h0M1229.5 158.9h0M1229.5 170.6h0M1229.5 182.4h0M1229.5 194.1h0M1229.5 205.8h0M1229.5 217.5h0M1229.5 229.2h0M1229.5 241h0M1229.5 252.7h0M1229.5 264.4h0M1229.5 276.1h0M1229.5 287.8h0M1229.5 299.6h0M1229.5 311.3h0M1229.5 323h0M1229.5 334.7h0M1229.5 346.4h0M1229.5 358.2h0M1229.5 369.9h0M1229.5 381.6h0M1229.5 393.3h0M1229.5 405h0M1229.5 416.8h0M1322.5 41.7h0M1322.5 53.4h0M1322.5 65.2h0M1322.5 76.9h0M1322.5 88.6h0M1322.5 100.3h0M1322.5 112h0M1322.5 123.8h0M1322.5 135.5h0M1322.5 147.2h0M1322.5 158.9h0M1322.5 170.6h0M1322.5 182.4h0M1322.5 194.1h0M1322.5 205.8h0M1322.5 217.5h0M1322.5 229.2h0M1322.5 241h0M1322.5 252.7h0M1322.5 264.4h0M1322.5 276.1h0M1322.5 287.8h0M1322.5 299.6h0M1322.5 311.3h0M1322.5 323h0M1322.5 334.7h0M1322.5 346.4h0M1322.5 358.2h0M1322.5 369.9h0M1322.5 381.6h0M1322.5 393.3h0M1322.5 405h0M1322.5 416.8h0M1322.5 428.5h0M1322.5 440.2h0M1322.5 451.9h0M1414.5 41.7h0M1414.5 53.4h0M1414.5 65.2h0M1414.5 76.9h0M1414.5 88.6h0M1414.5 100.3h0M1414.5 112h0M1414.5 123.8h0M1414.5 135.5h0M1414.5 147.2h0M1414.5 158.9h0M1414.5 170.6h0M1414.5 182.4h0M1414.5 194.1h0M1414.5 205.8h0M1414.5 217.5h0M1414.5 229.2h0M1414.5 241h0M1414.5 252.7h0M1414.5 264.4h0M1414.5 276.1h0M1414.5 287.8h0M1414.5 299.6h0M1414.5 311.3h0M1414.5 323h0M1414.5 334.7h0M1414.5 346.4h0M1414.5 358.2h0M1414.5 369.9h0M1414.5 381.6h0M1414.5 393.3h0M1414.5 405h0M1414.5 416.8h0M1414.5 428.5h0M1414.5 440.2h0M1414.5 451.9h0M1414.5 463.6h0M1414.5 475.4h0M1508 41.7h0M1508 53.4h0M1508 65.2h0M1508 76.9h0M1508 88.6h0M1508 100.3h0M1508 112h0M1508 123.8h0M1508 135.5h0M1508 147.2h0M1508 158.9h0M1508 170.6h0M1508 182.4h0M1508 194.1h0M1508 205.8h0M1508 217.5h0M1508 229.2h0M1508 241h0M1508 252.7h0M1508 264.4h0M1508 276.1h0M1508 287.8h0M1508 299.6h0M1508 311.3h0M1508 323h0M1508 334.7h0M1508 346.4h0M1508 358.2h0M1508 369.9h0M1508 381.6h0M1508 393.3h0M1508 405h0M1508 416.8h0M1508 428.5h0M1508 440.2h0M1508 451.9h0M1508 463.6h0M1597.2 41.7h0M1597.2 53.4h0M1597.2 65.2h0M1597.2 76.9h0M1597.2 88.6h0M1597.2 100.3h0M1597.2 112h0M1597.2 123.8h0M1597.2 135.5h0M1597.2 147.2h0M1597.2 158.9h0M1597.2 170.6h0M1597.2 182.4h0M1597.2 194.1h0M1597.2 205.8h0M1597.2 217.5h0M1597.2 229.2h0M1597.2 241h0M1597.2 252.7h0M1597.2 264.4h0M1597.2 276.1h0M1597.2 287.8h0M1597.2 299.6h0M1597.2 311.3h0M1597.2 323h0M1597.2 334.7h0M1597.2 346.4h0M1597.2 358.2h0M1597.2 369.9h0M1597.2 381.6h0M1597.2 393.3h0M1597.2 405h0M1597.2 416.8h0M1597.2 428.5h0" stroke="#000" stroke-width="4" stroke-linecap="round" fill="none"/><path d="M904.8 146.5h13.2M1601 146.5h-13.2M904.8 264.5h13.2M1601 264.5h-13.2M904.8 382.5h13.2M1601 382.5h-13.2M904.8 500.5h13.2M1601 500.5h-13.2M1045 28.5v13.2M1045 523.5v-13.2M1230.5 28.5v13.2M1230.5 523.5v-13.2M1416 28.5v13.2M1416 523.5v-13.2" stroke="#262626" stroke-width="4.2" fill="none"/><rect x="904.8" y="28.5" width="696.2" height="495" fill="none" stroke="#262626" stroke-width="4.1"/><text x="898.4" y="24.8" font-size="36">A1</text><text x="943.4" y="24.8" font-size="36">A2</text><text x="1035.9" y="24.8" font-size="36">A3</text><text x="1128.9" y="24.8" font-size="36">A4</text><text x="1221.9" y="24.8" font-size="36">A5</text><text x="1314.9" y="24.8" font-size="36">A6</text><text x="1406.9" y="24.8" font-size="36">A7</text><text x="1500.4" y="24.8" font-size="36">A8</text><text x="1589.6" y="24.8" font-size="36">A9</text><text x="933" y="452" font-size="39.5">2016</text><text x="933.5" y="506.5" font-size="36.4">Salinity</text><text x="1526.8" y="506.5" font-size="39.5">(d)</text><g class="fld"><g clip-path="url(#cpe)"><g filter="url(#ble)"><rect x="874.5" y="568.5" width="12.6" height="495" fill="url(#ge0)"/><rect x="886.5" y="568.5" width="12.6" height="495" fill="url(#ge1)"/><rect x="898.5" y="568.5" width="12.6" height="495" fill="url(#ge2)"/><rect x="910.5" y="568.5" width="12.6" height="495" fill="url(#ge3)"/><rect x="922.5" y="568.5" width="12.6" height="495" fill="url(#ge4)"/><rect x="934.5" y="568.5" width="12.6" height="495" fill="url(#ge5)"/><rect x="946.5" y="568.5" width="12.6" height="495" fill="url(#ge6)"/><rect x="958.5" y="568.5" width="12.6" height="495" fill="url(#ge7)"/><rect x="970.5" y="568.5" width="12.6" height="495" fill="url(#ge8)"/><rect x="982.5" y="568.5" width="12.6" height="495" fill="url(#ge9)"/><rect x="994.5" y="568.5" width="12.6" height="495" fill="url(#ge10)"/><rect x="1006.5" y="568.5" width="12.6" height="495" fill="url(#ge11)"/><rect x="1018.5" y="568.5" width="12.6" height="495" fill="url(#ge12)"/><rect x="1030.5" y="568.5" width="12.6" height="495" fill="url(#ge13)"/><rect x="1042.5" y="568.5" width="12.6" height="495" fill="url(#ge14)"/><rect x="1054.5" y="568.5" width="12.6" height="495" fill="url(#ge15)"/><rect x="1066.5" y="568.5" width="12.6" height="495" fill="url(#ge16)"/><rect x="1078.5" y="568.5" width="12.6" height="495" fill="url(#ge17)"/><rect x="1090.5" y="568.5" width="12.6" height="495" fill="url(#ge18)"/><rect x="1102.5" y="568.5" width="12.6" height="495" fill="url(#ge19)"/><rect x="1114.5" y="568.5" width="12.6" height="495" fill="url(#ge20)"/><rect x="1126.5" y="568.5" width="12.6" height="495" fill="url(#ge21)"/><rect x="1138.5" y="568.5" width="12.6" height="495" fill="url(#ge22)"/><rect x="1150.5" y="568.5" width="12.6" height="495" fill="url(#ge23)"/><rect x="1162.5" y="568.5" width="12.6" height="495" fill="url(#ge24)"/><rect x="1174.5" y="568.5" width="12.6" height="495" fill="url(#ge25)"/><rect x="1186.5" y="568.5" width="12.6" height="495" fill="url(#ge26)"/><rect x="1198.5" y="568.5" width="12.6" height="495" fill="url(#ge27)"/><rect x="1210.5" y="568.5" width="12.6" height="495" fill="url(#ge28)"/><rect x="1222.5" y="568.5" width="12.6" height="495" fill="url(#ge29)"/><rect x="1234.5" y="568.5" width="12.6" height="495" fill="url(#ge30)"/><rect x="1246.5" y="568.5" width="12.6" height="495" fill="url(#ge31)"/><rect x="1258.5" y="568.5" width="12.6" height="495" fill="url(#ge32)"/><rect x="1270.5" y="568.5" width="12.6" height="495" fill="url(#ge33)"/><rect x="1282.5" y="568.5" width="12.6" height="495" fill="url(#ge34)"/><rect x="1294.5" y="568.5" width="12.6" height="495" fill="url(#ge35)"/><rect x="1306.5" y="568.5" width="12.6" height="495" fill="url(#ge36)"/><rect x="1318.5" y="568.5" width="12.6" height="495" fill="url(#ge37)"/><rect x="1330.5" y="568.5" width="12.6" height="495" fill="url(#ge38)"/><rect x="1342.5" y="568.5" width="12.6" height="495" fill="url(#ge39)"/><rect x="1354.5" y="568.5" width="12.6" height="495" fill="url(#ge40)"/><rect x="1366.5" y="568.5" width="12.6" height="495" fill="url(#ge41)"/><rect x="1378.5" y="568.5" width="12.6" height="495" fill="url(#ge42)"/><rect x="1390.5" y="568.5" width="12.6" height="495" fill="url(#ge43)"/><rect x="1402.5" y="568.5" width="12.6" height="495" fill="url(#ge44)"/><rect x="1414.5" y="568.5" width="12.6" height="495" fill="url(#ge45)"/><rect x="1426.5" y="568.5" width="12.6" height="495" fill="url(#ge46)"/><rect x="1438.5" y="568.5" width="12.6" height="495" fill="url(#ge47)"/><rect x="1450.5" y="568.5" width="12.6" height="495" fill="url(#ge48)"/><rect x="1462.5" y="568.5" width="12.6" height="495" fill="url(#ge49)"/><rect x="1474.5" y="568.5" width="12.6" height="495" fill="url(#ge50)"/><rect x="1486.5" y="568.5" width="12.6" height="495" fill="url(#ge51)"/><rect x="1498.5" y="568.5" width="12.6" height="495" fill="url(#ge52)"/><rect x="1510.5" y="568.5" width="12.6" height="495" fill="url(#ge53)"/><rect x="1522.5" y="568.5" width="12.6" height="495" fill="url(#ge54)"/><rect x="1534.5" y="568.5" width="12.6" height="495" fill="url(#ge55)"/><rect x="1546.5" y="568.5" width="12.6" height="495" fill="url(#ge56)"/><rect x="1558.5" y="568.5" width="12.6" height="495" fill="url(#ge57)"/><rect x="1570.5" y="568.5" width="12.6" height="495" fill="url(#ge58)"/><rect x="1582.5" y="568.5" width="12.6" height="495" fill="url(#ge59)"/><rect x="1594.5" y="568.5" width="12.6" height="495" fill="url(#ge60)"/><rect x="1606.5" y="568.5" width="12.6" height="495" fill="url(#ge61)"/><rect x="1618.5" y="568.5" width="12.6" height="495" fill="url(#ge62)"/><rect x="1630.5" y="568.5" width="12.6" height="495" fill="url(#ge63)"/></g><polyline points="933.6,583.8 942.7,590.3 961,594.4 1009.8,592.3"/><polyline points="1064.6,589.3 1091,583.8"/><polyline points="1176.4,583.8 1200.8,598.4 1229.2,610.6 1256,615.7 1266.3,617.7 1296.8,623.8 1327.3,628.9 1359.8,631 1398.4,637 1422.8,640.1 1441,637 1467.5,635"/><polyline points="1530,637 1550.8,639 1571.1,644.2 1590.4,655"/><polyline points="907.2,655.3 910.2,643.1 914.3,635 922.4,629.9 961,623.8 987.4,617.7 1038.2,611.6 1085,606.6"/><polyline points="1137.8,606.6 1160.1,613.7 1190.6,622.8 1229.2,628.9 1256,630.5 1286.6,631 1327.3,635 1359.8,642.1 1388.2,650.3 1408.5,653.3 1428.9,652.3 1469.5,646.2 1483.7,644.2"/><polyline points="1538.6,646.2 1554.8,651.3 1571.1,659.4 1590.4,673.6"/><polyline points="923.5,777 928.5,732.5 933.6,691.9 938.7,665.5 948.8,655.3 967.1,647.2 997.6,637 1034.2,626.5 1054.5,625.9 1072.8,628.9"/><polyline points="1121.5,634 1180.4,637 1256,640.1 1286.6,641.1 1327.3,644.2 1359.8,651.3 1388.2,658.4 1412.6,660.4 1439,657.4 1479.6,651.3"/><polyline points="1534.5,655.3 1554.8,661.4 1571.1,669.6 1590.4,679.7"/><polyline points="975,822 977.3,770 981.3,742.7 985.4,702.1 991.5,679.7 997.6,665.5 1003.7,660.4 1034.2,651.3 1058.5,648.2 1099.2,646.8"/><polyline points="1150,645.6 1200.8,645.6 1256,646.2 1286.6,648.2 1317.1,651.3 1329.3,654.3 1315.1,659.4 1331.3,669.6 1367.9,669.6 1408.5,667.5 1443.1,664.5 1479.6,657.4"/><polyline points="1530.4,659.4 1550.8,667.5 1571.1,677.7 1590.4,687.8"/><polyline points="1092,904 1092,790 1092.1,732.5 1093.1,702.1 1095.1,685.8 1097.1,679.7"/><polyline points="1138.8,659 1180.4,656.3 1221.1,654.3 1241.4,656.3 1256,660.4 1258.2,663.5 1268.3,667.5 1271.4,677.7 1327.3,679.7 1367.9,675.6 1414.6,672.6 1449.2,670.6 1479.6,667.5 1493.9,664.5"/><polyline points="1530.4,671.6 1550.8,680.7 1571.1,689.9 1590.4,697"/><polyline points="1286,967.5 1286,885"/><polyline points="1285,832 1286,740 1287.6,732.5 1289.7,720.3 1304.9,712.2 1307,706.1 1304.9,702.1 1313,693.9 1327.3,689.9 1367.9,684.8 1414.6,680.7 1443.1,680.7 1469.5,677.7 1495.9,674.6 1510.1,677.7 1516,681"/><polyline points="1560.9,703.1 1590.4,710.2"/><polyline points="1274.4,583.8 1276.5,589.3 1288.7,595.4 1294.8,603.5 1321.2,611.6 1359.8,613.7 1392.3,615.7 1406.5,623.8 1418.7,625.9 1432.9,624.9 1451.2,619.8 1483.7,613.7"/><polyline points="1534.5,616.7 1550.8,623.8 1571.1,626.9 1590.4,637"/><polyline points="1512,584.2 1550,586 1590,588.5"/></g><text class="cl" font-size="32" transform="translate(1038,594) rotate(0)" y="10.9">24</text><text class="cl" font-size="32" transform="translate(1111.5,607.5) rotate(0)" y="10.9">23</text><text class="cl" font-size="32" transform="translate(1094,631) rotate(6)" y="10.9">22</text><text class="cl" font-size="32" transform="translate(1124,645) rotate(-15)" y="10.9">21</text><text class="cl" font-size="32" transform="translate(1117,667) rotate(-35)" y="10.9">20</text><text class="cl" font-size="32" transform="translate(1283.5,859) rotate(90)" y="10.9">19</text><text class="cl" font-size="32" transform="translate(1508,615) rotate(0)" y="10.9">25</text><text class="cl" font-size="32" transform="translate(1487,633) rotate(0)" y="10.9">24</text><text class="cl" font-size="32" transform="translate(1518,642) rotate(0)" y="10.9">23</text><text class="cl" font-size="32" transform="translate(1497,648.5) rotate(0)" y="10.9">22</text><text class="cl" font-size="32" transform="translate(1501,654) rotate(0)" y="10.9">21</text><text class="cl" font-size="32" transform="translate(1511,667) rotate(28)" y="10.9">20</text><text class="cl" font-size="32" transform="translate(1537,694) rotate(30)" y="10.9">19</text></g><polygon points="974.2,824.4 979.3,825.8 979.3,833.5 974.2,828.4" fill="#fff"/><polygon points="1006.7,852.9 1015.9,854.9 1015.9,866 1006.7,856.9" fill="#fff"/><polygon points="1026,872.2 1035.2,874.2 1035.2,884.3 1026,876.2" fill="#fff"/><polygon points="1045.3,885.4 1053.5,885.4 1053.5,895.5 1045.3,889.4" fill="#fff"/><polygon points="1078.9,900.6 1090,902 1090,908.7 1078.9,904.6" fill="#fff"/><polygon points="904.8,769.1 951,804.5 1043.5,887.1 1136.5,922.5 1229.5,946.1 1322.5,981.5 1414.5,1005.1 1508,993.3 1601,969.7 1601,1063.5 904.8,1063.5" fill="#d9d9d9"/><polyline points="904.8,769.1 951,804.5 1043.5,887.1 1136.5,922.5 1229.5,946.1 1322.5,981.5 1414.5,1005.1 1508,993.3 1601,969.7" fill="none" stroke="#000" stroke-width="2.3" stroke-linejoin="round"/><path d="M951 581.7h0M951 593.4h0M951 605.2h0M951 616.9h0M951 628.6h0M951 640.3h0M951 652h0M951 663.8h0M951 675.5h0M951 687.2h0M951 698.9h0M951 710.6h0M951 722.4h0M951 734.1h0M951 745.8h0M951 757.5h0M951 769.2h0M951 781h0M951 792.7h0M951 804.4h0M951 816.1h0M1043.5 581.7h0M1043.5 593.4h0M1043.5 605.2h0M1043.5 616.9h0M1043.5 628.6h0M1043.5 640.3h0M1043.5 652h0M1043.5 663.8h0M1043.5 675.5h0M1043.5 687.2h0M1043.5 698.9h0M1043.5 710.6h0M1043.5 722.4h0M1043.5 734.1h0M1043.5 745.8h0M1043.5 757.5h0M1043.5 769.2h0M1043.5 781h0M1043.5 792.7h0M1043.5 804.4h0M1043.5 816.1h0M1043.5 827.8h0M1043.5 839.6h0M1043.5 851.3h0M1043.5 863h0M1043.5 874.7h0M1043.5 886.4h0M1136.5 581.7h0M1136.5 593.4h0M1136.5 605.2h0M1136.5 616.9h0M1136.5 628.6h0M1136.5 640.3h0M1136.5 652h0M1136.5 663.8h0M1136.5 675.5h0M1136.5 687.2h0M1136.5 698.9h0M1136.5 710.6h0M1136.5 722.4h0M1136.5 734.1h0M1136.5 745.8h0M1136.5 757.5h0M1136.5 769.2h0M1136.5 781h0M1136.5 792.7h0M1136.5 804.4h0M1136.5 816.1h0M1136.5 827.8h0M1136.5 839.6h0M1136.5 851.3h0M1136.5 863h0M1136.5 874.7h0M1136.5 886.4h0M1136.5 898.2h0M1136.5 909.9h0M1136.5 921.6h0M1136.5 933.3h0M1229.5 581.7h0M1229.5 593.4h0M1229.5 605.2h0M1229.5 616.9h0M1229.5 628.6h0M1229.5 640.3h0M1229.5 652h0M1229.5 663.8h0M1229.5 675.5h0M1229.5 687.2h0M1229.5 698.9h0M1229.5 710.6h0M1229.5 722.4h0M1229.5 734.1h0M1229.5 745.8h0M1229.5 757.5h0M1229.5 769.2h0M1229.5 781h0M1229.5 792.7h0M1229.5 804.4h0M1229.5 816.1h0M1229.5 827.8h0M1229.5 839.6h0M1229.5 851.3h0M1229.5 863h0M1229.5 874.7h0M1229.5 886.4h0M1229.5 898.2h0M1229.5 909.9h0M1229.5 921.6h0M1229.5 933.3h0M1229.5 945h0M1229.5 956.8h0M1322.5 581.7h0M1322.5 593.4h0M1322.5 605.2h0M1322.5 616.9h0M1322.5 628.6h0M1322.5 640.3h0M1322.5 652h0M1322.5 663.8h0M1322.5 675.5h0M1322.5 687.2h0M1322.5 698.9h0M1322.5 710.6h0M1322.5 722.4h0M1322.5 734.1h0M1322.5 745.8h0M1322.5 757.5h0M1322.5 769.2h0M1322.5 781h0M1322.5 792.7h0M1322.5 804.4h0M1322.5 816.1h0M1322.5 827.8h0M1322.5 839.6h0M1322.5 851.3h0M1322.5 863h0M1322.5 874.7h0M1322.5 886.4h0M1322.5 898.2h0M1322.5 909.9h0M1322.5 921.6h0M1322.5 933.3h0M1322.5 945h0M1322.5 956.8h0M1322.5 968.5h0M1322.5 980.2h0M1322.5 991.9h0M1414.5 581.7h0M1414.5 593.4h0M1414.5 605.2h0M1414.5 616.9h0M1414.5 628.6h0M1414.5 640.3h0M1414.5 652h0M1414.5 663.8h0M1414.5 675.5h0M1414.5 687.2h0M1414.5 698.9h0M1414.5 710.6h0M1414.5 722.4h0M1414.5 734.1h0M1414.5 745.8h0M1414.5 757.5h0M1414.5 769.2h0M1414.5 781h0M1414.5 792.7h0M1414.5 804.4h0M1414.5 816.1h0M1414.5 827.8h0M1414.5 839.6h0M1414.5 851.3h0M1414.5 863h0M1414.5 874.7h0M1414.5 886.4h0M1414.5 898.2h0M1414.5 909.9h0M1414.5 921.6h0M1414.5 933.3h0M1414.5 945h0M1414.5 956.8h0M1414.5 968.5h0M1414.5 980.2h0M1414.5 991.9h0M1414.5 1003.6h0M1414.5 1015.4h0M1508 581.7h0M1508 593.4h0M1508 605.2h0M1508 616.9h0M1508 628.6h0M1508 640.3h0M1508 652h0M1508 663.8h0M1508 675.5h0M1508 687.2h0M1508 698.9h0M1508 710.6h0M1508 722.4h0M1508 734.1h0M1508 745.8h0M1508 757.5h0M1508 769.2h0M1508 781h0M1508 792.7h0M1508 804.4h0M1508 816.1h0M1508 827.8h0M1508 839.6h0M1508 851.3h0M1508 863h0M1508 874.7h0M1508 886.4h0M1508 898.2h0M1508 909.9h0M1508 921.6h0M1508 933.3h0M1508 945h0M1508 956.8h0M1508 968.5h0M1508 980.2h0M1508 991.9h0M1508 1003.6h0M1597.2 581.7h0M1597.2 593.4h0M1597.2 605.2h0M1597.2 616.9h0M1597.2 628.6h0M1597.2 640.3h0M1597.2 652h0M1597.2 663.8h0M1597.2 675.5h0M1597.2 687.2h0M1597.2 698.9h0M1597.2 710.6h0M1597.2 722.4h0M1597.2 734.1h0M1597.2 745.8h0M1597.2 757.5h0M1597.2 769.2h0M1597.2 781h0M1597.2 792.7h0M1597.2 804.4h0M1597.2 816.1h0M1597.2 827.8h0M1597.2 839.6h0M1597.2 851.3h0M1597.2 863h0M1597.2 874.7h0M1597.2 886.4h0M1597.2 898.2h0M1597.2 909.9h0M1597.2 921.6h0M1597.2 933.3h0M1597.2 945h0M1597.2 956.8h0M1597.2 968.5h0" stroke="#000" stroke-width="4" stroke-linecap="round" fill="none"/><path d="M904.8 686.5h13.2M1601 686.5h-13.2M904.8 804.5h13.2M1601 804.5h-13.2M904.8 922.5h13.2M1601 922.5h-13.2M904.8 1040.5h13.2M1601 1040.5h-13.2M1045 568.5v13.2M1045 1063.5v-13.2M1230.5 568.5v13.2M1230.5 1063.5v-13.2M1416 568.5v13.2M1416 1063.5v-13.2" stroke="#262626" stroke-width="4.2" fill="none"/><rect x="904.8" y="568.5" width="696.2" height="495" fill="none" stroke="#262626" stroke-width="4.1"/><text x="898.4" y="564.8" font-size="36">A1</text><text x="943.4" y="564.8" font-size="36">A2</text><text x="1035.9" y="564.8" font-size="36">A3</text><text x="1128.9" y="564.8" font-size="36">A4</text><text x="1221.9" y="564.8" font-size="36">A5</text><text x="1314.9" y="564.8" font-size="36">A6</text><text x="1406.9" y="564.8" font-size="36">A7</text><text x="1500.4" y="564.8" font-size="36">A8</text><text x="1589.6" y="564.8" font-size="36">A9</text><text x="933" y="992" font-size="39.5">2016</text><text x="933.5" y="1046.5" font-size="36.4">Temperature (°C)</text><text x="1526.8" y="1046.5" font-size="39.5">(e)</text><g class="fld"><g clip-path="url(#cpf)"><g filter="url(#blf)"><rect x="874.5" y="1108.5" width="12.6" height="495" fill="url(#gf0)"/><rect x="886.5" y="1108.5" width="12.6" height="495" fill="url(#gf1)"/><rect x="898.5" y="1108.5" width="12.6" height="495" fill="url(#gf2)"/><rect x="910.5" y="1108.5" width="12.6" height="495" fill="url(#gf3)"/><rect x="922.5" y="1108.5" width="12.6" height="495" fill="url(#gf4)"/><rect x="934.5" y="1108.5" width="12.6" height="495" fill="url(#gf5)"/><rect x="946.5" y="1108.5" width="12.6" height="495" fill="url(#gf6)"/><rect x="958.5" y="1108.5" width="12.6" height="495" fill="url(#gf7)"/><rect x="970.5" y="1108.5" width="12.6" height="495" fill="url(#gf8)"/><rect x="982.5" y="1108.5" width="12.6" height="495" fill="url(#gf9)"/><rect x="994.5" y="1108.5" width="12.6" height="495" fill="url(#gf10)"/><rect x="1006.5" y="1108.5" width="12.6" height="495" fill="url(#gf11)"/><rect x="1018.5" y="1108.5" width="12.6" height="495" fill="url(#gf12)"/><rect x="1030.5" y="1108.5" width="12.6" height="495" fill="url(#gf13)"/><rect x="1042.5" y="1108.5" width="12.6" height="495" fill="url(#gf14)"/><rect x="1054.5" y="1108.5" width="12.6" height="495" fill="url(#gf15)"/><rect x="1066.5" y="1108.5" width="12.6" height="495" fill="url(#gf16)"/><rect x="1078.5" y="1108.5" width="12.6" height="495" fill="url(#gf17)"/><rect x="1090.5" y="1108.5" width="12.6" height="495" fill="url(#gf18)"/><rect x="1102.5" y="1108.5" width="12.6" height="495" fill="url(#gf19)"/><rect x="1114.5" y="1108.5" width="12.6" height="495" fill="url(#gf20)"/><rect x="1126.5" y="1108.5" width="12.6" height="495" fill="url(#gf21)"/><rect x="1138.5" y="1108.5" width="12.6" height="495" fill="url(#gf22)"/><rect x="1150.5" y="1108.5" width="12.6" height="495" fill="url(#gf23)"/><rect x="1162.5" y="1108.5" width="12.6" height="495" fill="url(#gf24)"/><rect x="1174.5" y="1108.5" width="12.6" height="495" fill="url(#gf25)"/><rect x="1186.5" y="1108.5" width="12.6" height="495" fill="url(#gf26)"/><rect x="1198.5" y="1108.5" width="12.6" height="495" fill="url(#gf27)"/><rect x="1210.5" y="1108.5" width="12.6" height="495" fill="url(#gf28)"/><rect x="1222.5" y="1108.5" width="12.6" height="495" fill="url(#gf29)"/><rect x="1234.5" y="1108.5" width="12.6" height="495" fill="url(#gf30)"/><rect x="1246.5" y="1108.5" width="12.6" height="495" fill="url(#gf31)"/><rect x="1258.5" y="1108.5" width="12.6" height="495" fill="url(#gf32)"/><rect x="1270.5" y="1108.5" width="12.6" height="495" fill="url(#gf33)"/><rect x="1282.5" y="1108.5" width="12.6" height="495" fill="url(#gf34)"/><rect x="1294.5" y="1108.5" width="12.6" height="495" fill="url(#gf35)"/><rect x="1306.5" y="1108.5" width="12.6" height="495" fill="url(#gf36)"/><rect x="1318.5" y="1108.5" width="12.6" height="495" fill="url(#gf37)"/><rect x="1330.5" y="1108.5" width="12.6" height="495" fill="url(#gf38)"/><rect x="1342.5" y="1108.5" width="12.6" height="495" fill="url(#gf39)"/><rect x="1354.5" y="1108.5" width="12.6" height="495" fill="url(#gf40)"/><rect x="1366.5" y="1108.5" width="12.6" height="495" fill="url(#gf41)"/><rect x="1378.5" y="1108.5" width="12.6" height="495" fill="url(#gf42)"/><rect x="1390.5" y="1108.5" width="12.6" height="495" fill="url(#gf43)"/><rect x="1402.5" y="1108.5" width="12.6" height="495" fill="url(#gf44)"/><rect x="1414.5" y="1108.5" width="12.6" height="495" fill="url(#gf45)"/><rect x="1426.5" y="1108.5" width="12.6" height="495" fill="url(#gf46)"/><rect x="1438.5" y="1108.5" width="12.6" height="495" fill="url(#gf47)"/><rect x="1450.5" y="1108.5" width="12.6" height="495" fill="url(#gf48)"/><rect x="1462.5" y="1108.5" width="12.6" height="495" fill="url(#gf49)"/><rect x="1474.5" y="1108.5" width="12.6" height="495" fill="url(#gf50)"/><rect x="1486.5" y="1108.5" width="12.6" height="495" fill="url(#gf51)"/><rect x="1498.5" y="1108.5" width="12.6" height="495" fill="url(#gf52)"/><rect x="1510.5" y="1108.5" width="12.6" height="495" fill="url(#gf53)"/><rect x="1522.5" y="1108.5" width="12.6" height="495" fill="url(#gf54)"/><rect x="1534.5" y="1108.5" width="12.6" height="495" fill="url(#gf55)"/><rect x="1546.5" y="1108.5" width="12.6" height="495" fill="url(#gf56)"/><rect x="1558.5" y="1108.5" width="12.6" height="495" fill="url(#gf57)"/><rect x="1570.5" y="1108.5" width="12.6" height="495" fill="url(#gf58)"/><rect x="1582.5" y="1108.5" width="12.6" height="495" fill="url(#gf59)"/><rect x="1594.5" y="1108.5" width="12.6" height="495" fill="url(#gf60)"/><rect x="1606.5" y="1108.5" width="12.6" height="495" fill="url(#gf61)"/><rect x="1618.5" y="1108.5" width="12.6" height="495" fill="url(#gf62)"/><rect x="1630.5" y="1108.5" width="12.6" height="495" fill="url(#gf63)"/></g><polyline points="1001.6,1131.3 991.5,1137.4 1009.8,1142.5 1036.2,1147.6 1058.5,1146.6 1078.9,1145.6 1097.1,1142.5 1096.1,1137.4 1074.8,1131.3"/><polyline points="1056.5,1153.7 1038.2,1150.6 985.4,1154.7 978.3,1159.8 991.5,1164.9 1017.9,1171 1050.4,1174 1038.2,1175 1022,1180.1 1015.9,1187.2 1005.7,1191.3 1002.7,1197.4 1042.3,1199.4 1068.7,1199.8"/><polyline points="1170.3,1199.4 1200.8,1200.4 1256,1203.5 1282.6,1202.4 1289.7,1197.4 1313,1195.3 1338.4,1196.3 1341.5,1202.4 1335.4,1209.6 1339.5,1214.6 1351.6,1218.7 1388.2,1222.8 1414.6,1224.2 1453.2,1220.7"/><polyline points="1129.6,1171 1180.4,1165.9 1223.1,1160.8 1225.1,1155.7 1239.4,1150.6 1256,1148.6 1286.6,1146.6 1327.3,1146.6 1367.9,1150.6 1388.2,1153.7 1384.2,1159.8 1400.4,1163.8 1416.7,1165.9"/><polyline points="1517.2,1163.2 1554.8,1166.9 1571.1,1173 1590.4,1180.1"/><polyline points="1472.5,1148.2 1500,1144.9 1518.2,1144.9 1533.5,1148.2 1518.2,1153.1 1489.8,1153.1 1472.5,1148.2"/><polyline points="1554.8,1207.5 1590.4,1207"/><polyline points="1590.4,1211.6 1571.1,1217.7 1546.7,1220.7 1540.6,1226.8 1544.7,1232.9 1563,1238 1590.4,1249.2"/><polyline points="1387.2,1184.2 1400.4,1181.1 1428.9,1181.1 1442.1,1184.2 1428.9,1187.2 1400.4,1187.2 1387.2,1184.2"/><polyline points="1032.1,1160.8 1050.4,1160.8"/><polyline points="1088,1188.2 1099.2,1184.2 1139.8,1180.1 1200.8,1175 1241.4,1171 1256,1167.9 1288.7,1158.8 1327.3,1157.1 1367.9,1165.9 1408.5,1171 1425,1172"/><polyline points="1508.1,1172 1534.5,1178.1 1563,1188.2 1590.4,1193.3"/><polyline points="1088,1188.2 1119.5,1190.3 1160.1,1192.3 1200.8,1193.3 1256,1190.8 1286.6,1190.3 1327.3,1190.3 1372,1196.3 1367.9,1202.4 1357.7,1208.5 1363.8,1212.6 1388.2,1216.7 1414.6,1217.7 1449.2,1215.7 1469.5,1212.6"/><polyline points="1357.7,1183.1 1367.9,1179.1 1408.5,1175 1449.2,1178.1 1475.6,1184.2 1449.2,1188.2 1408.5,1190.3 1376,1188.2 1357.7,1183.1"/><polyline points="1590.4,1219.7 1583.3,1222.8 1579.2,1227.8 1583.3,1231.9 1590.4,1235"/><polyline points="1406.5,1207.5 1417,1206 1428.9,1207.5 1417,1209 1406.5,1207.5"/></g><text class="cl" font-size="33" transform="translate(1093,1164) rotate(20)" y="11.2">0.005</text><text class="cl" font-size="33" transform="translate(1118.5,1200.5) rotate(0)" y="11.2">0.005</text><text class="cl" font-size="33" transform="translate(1466.5,1165) rotate(2)" y="11.2">0.005</text><text class="cl" font-size="33" transform="translate(1504,1213.5) rotate(-11)" y="11.2">0.005</text></g><polygon points="935.5,1329.5 941.8,1331.9 941.8,1340.2 935.5,1333.5" fill="#fff"/><polygon points="948.1,1339.8 960.5,1343 960.5,1354.9 948.1,1343.8" fill="#fff"/><polygon points="969.5,1358 979.3,1361.1 979.3,1371.4 969.5,1362" fill="#fff"/><polygon points="980.5,1368.2 997.6,1373 997.6,1388.8 980.5,1372.2" fill="#fff"/><polygon points="999.5,1385.6 1016.4,1390.8 1016.4,1400.7 999.5,1389.6" fill="#fff"/><polygon points="1017.7,1397.5 1034.7,1403 1034.7,1418.8 1017.7,1401.5" fill="#fff"/><polygon points="1035.8,1415.6 1053.2,1420.4 1053.2,1430.7 1035.8,1419.6" fill="#fff"/><polygon points="1054,1426.7 1090.3,1438.2 1090.3,1447.3 1054,1430.7" fill="#fff"/><polygon points="1106.1,1448.8 1127.5,1455.9 1127.5,1461.5 1106.1,1452.8" fill="#fff"/><polygon points="904.8,1309.1 951,1344.5 1043.5,1427.1 1136.5,1462.5 1229.5,1486.1 1322.5,1521.5 1414.5,1545.1 1508,1533.3 1601,1509.7 1601,1603.5 904.8,1603.5" fill="#d9d9d9"/><polyline points="904.8,1309.1 951,1344.5 1043.5,1427.1 1136.5,1462.5 1229.5,1486.1 1322.5,1521.5 1414.5,1545.1 1508,1533.3 1601,1509.7" fill="none" stroke="#000" stroke-width="2.3" stroke-linejoin="round"/><path d="M951 1125.4h0M951 1137.3h0M951 1149.2h0M951 1161h0M951 1172.9h0M951 1184.8h0M951 1196.7h0M951 1208.5h0M951 1220.4h0M951 1232.3h0M951 1244.1h0M951 1256h0M951 1267.9h0M951 1279.7h0M951 1291.6h0M951 1303.5h0M951 1315.4h0M951 1327.2h0M951 1339.1h0M951 1351h0M1043.5 1125.4h0M1043.5 1137.3h0M1043.5 1149.2h0M1043.5 1161h0M1043.5 1172.9h0M1043.5 1184.8h0M1043.5 1196.7h0M1043.5 1208.5h0M1043.5 1220.4h0M1043.5 1232.3h0M1043.5 1244.1h0M1043.5 1256h0M1043.5 1267.9h0M1043.5 1279.7h0M1043.5 1291.6h0M1043.5 1303.5h0M1043.5 1315.4h0M1043.5 1327.2h0M1043.5 1339.1h0M1043.5 1351h0M1043.5 1362.8h0M1043.5 1374.7h0M1043.5 1386.6h0M1043.5 1398.4h0M1043.5 1410.3h0M1043.5 1422.2h0M1136.5 1125.4h0M1136.5 1137.3h0M1136.5 1149.2h0M1136.5 1161h0M1136.5 1172.9h0M1136.5 1184.8h0M1136.5 1196.7h0M1136.5 1208.5h0M1136.5 1220.4h0M1136.5 1232.3h0M1136.5 1244.1h0M1136.5 1256h0M1136.5 1267.9h0M1136.5 1279.7h0M1136.5 1291.6h0M1136.5 1303.5h0M1136.5 1315.4h0M1136.5 1327.2h0M1136.5 1339.1h0M1136.5 1351h0M1136.5 1362.8h0M1136.5 1374.7h0M1136.5 1386.6h0M1136.5 1398.4h0M1136.5 1410.3h0M1136.5 1422.2h0M1136.5 1434.1h0M1136.5 1445.9h0M1136.5 1457.8h0M1136.5 1469.7h0M1229.5 1125.4h0M1229.5 1137.3h0M1229.5 1149.2h0M1229.5 1161h0M1229.5 1172.9h0M1229.5 1184.8h0M1229.5 1196.7h0M1229.5 1208.5h0M1229.5 1220.4h0M1229.5 1232.3h0M1229.5 1244.1h0M1229.5 1256h0M1229.5 1267.9h0M1229.5 1279.7h0M1229.5 1291.6h0M1229.5 1303.5h0M1229.5 1315.4h0M1229.5 1327.2h0M1229.5 1339.1h0M1229.5 1351h0M1229.5 1362.8h0M1229.5 1374.7h0M1229.5 1386.6h0M1229.5 1398.4h0M1229.5 1410.3h0M1229.5 1422.2h0M1229.5 1434.1h0M1229.5 1445.9h0M1229.5 1457.8h0M1229.5 1469.7h0M1229.5 1481.5h0M1229.5 1493.4h0M1322.5 1125.4h0M1322.5 1137.3h0M1322.5 1149.2h0M1322.5 1161h0M1322.5 1172.9h0M1322.5 1184.8h0M1322.5 1196.7h0M1322.5 1208.5h0M1322.5 1220.4h0M1322.5 1232.3h0M1322.5 1244.1h0M1322.5 1256h0M1322.5 1267.9h0M1322.5 1279.7h0M1322.5 1291.6h0M1322.5 1303.5h0M1322.5 1315.4h0M1322.5 1327.2h0M1322.5 1339.1h0M1322.5 1351h0M1322.5 1362.8h0M1322.5 1374.7h0M1322.5 1386.6h0M1322.5 1398.4h0M1322.5 1410.3h0M1322.5 1422.2h0M1322.5 1434.1h0M1322.5 1445.9h0M1322.5 1457.8h0M1322.5 1469.7h0M1322.5 1481.5h0M1322.5 1493.4h0M1322.5 1505.3h0M1322.5 1517.1h0M1322.5 1529h0M1414.5 1125.4h0M1414.5 1137.3h0M1414.5 1149.2h0M1414.5 1161h0M1414.5 1172.9h0M1414.5 1184.8h0M1414.5 1196.7h0M1414.5 1208.5h0M1414.5 1220.4h0M1414.5 1232.3h0M1414.5 1244.1h0M1414.5 1256h0M1414.5 1267.9h0M1414.5 1279.7h0M1414.5 1291.6h0M1414.5 1303.5h0M1414.5 1315.4h0M1414.5 1327.2h0M1414.5 1339.1h0M1414.5 1351h0M1414.5 1362.8h0M1414.5 1374.7h0M1414.5 1386.6h0M1414.5 1398.4h0M1414.5 1410.3h0M1414.5 1422.2h0M1414.5 1434.1h0M1414.5 1445.9h0M1414.5 1457.8h0M1414.5 1469.7h0M1414.5 1481.5h0M1414.5 1493.4h0M1414.5 1505.3h0M1414.5 1517.1h0M1414.5 1529h0M1414.5 1540.9h0M1414.5 1552.8h0M1508 1125.4h0M1508 1137.3h0M1508 1149.2h0M1508 1161h0M1508 1172.9h0M1508 1184.8h0M1508 1196.7h0M1508 1208.5h0M1508 1220.4h0M1508 1232.3h0M1508 1244.1h0M1508 1256h0M1508 1267.9h0M1508 1279.7h0M1508 1291.6h0M1508 1303.5h0M1508 1315.4h0M1508 1327.2h0M1508 1339.1h0M1508 1351h0M1508 1362.8h0M1508 1374.7h0M1508 1386.6h0M1508 1398.4h0M1508 1410.3h0M1508 1422.2h0M1508 1434.1h0M1508 1445.9h0M1508 1457.8h0M1508 1469.7h0M1508 1481.5h0M1508 1493.4h0M1508 1505.3h0M1508 1517.1h0M1508 1529h0M1508 1540.9h0M1597.2 1125.4h0M1597.2 1137.3h0M1597.2 1149.2h0M1597.2 1161h0M1597.2 1172.9h0M1597.2 1184.8h0M1597.2 1196.7h0M1597.2 1208.5h0M1597.2 1220.4h0M1597.2 1232.3h0M1597.2 1244.1h0M1597.2 1256h0M1597.2 1267.9h0M1597.2 1279.7h0M1597.2 1291.6h0M1597.2 1303.5h0M1597.2 1315.4h0M1597.2 1327.2h0M1597.2 1339.1h0M1597.2 1351h0M1597.2 1362.8h0M1597.2 1374.7h0M1597.2 1386.6h0M1597.2 1398.4h0M1597.2 1410.3h0M1597.2 1422.2h0M1597.2 1434.1h0M1597.2 1445.9h0M1597.2 1457.8h0M1597.2 1469.7h0M1597.2 1481.5h0M1597.2 1493.4h0M1597.2 1505.3h0" stroke="#000" stroke-width="4" stroke-linecap="round" fill="none"/><path d="M904.8 1226.5h13.2M1601 1226.5h-13.2M904.8 1344.5h13.2M1601 1344.5h-13.2M904.8 1462.5h13.2M1601 1462.5h-13.2M904.8 1580.5h13.2M1601 1580.5h-13.2M1045 1108.5v13.2M1045 1603.5v-13.2M1230.5 1108.5v13.2M1230.5 1603.5v-13.2M1416 1108.5v13.2M1416 1603.5v-13.2" stroke="#262626" stroke-width="4.2" fill="none"/><rect x="904.8" y="1108.5" width="696.2" height="495" fill="none" stroke="#262626" stroke-width="4.1"/><text x="898.4" y="1104.8" font-size="36">A1</text><text x="943.4" y="1104.8" font-size="36">A2</text><text x="1035.9" y="1104.8" font-size="36">A3</text><text x="1128.9" y="1104.8" font-size="36">A4</text><text x="1221.9" y="1104.8" font-size="36">A5</text><text x="1314.9" y="1104.8" font-size="36">A6</text><text x="1406.9" y="1104.8" font-size="36">A7</text><text x="1500.4" y="1104.8" font-size="36">A8</text><text x="1589.6" y="1104.8" font-size="36">A9</text><text x="933" y="1532" font-size="39.5">2016</text><text x="933.5" y="1591.9" font-size="36.4">N<tspan font-size="28" dy="-17.6">2</tspan><tspan dy="17.6"> (s</tspan><tspan font-size="28" dy="-17.6">-2</tspan><tspan dy="17.6">)</tspan></text><text x="1526.8" y="1588" font-size="39.5">(f)</text><text x="1051.4" y="1649.6" font-size="40" text-anchor="middle">122.5°E</text><text x="1231.8" y="1649.6" font-size="40" text-anchor="middle">123°E</text><text x="1427.2" y="1649.6" font-size="40" text-anchor="middle">123.5°E</text><rect x="1630.6" y="28.5" width="67.8" height="495" fill="url(#cbg)"/><rect x="1630.6" y="28.5" width="67.8" height="495" fill="none" stroke="#262626" stroke-width="2.2"/><text x="1714.5" y="532.8" font-size="25">20</text><text x="1714.5" y="450.3" font-size="25">22</text><text x="1714.5" y="367.8" font-size="25">24</text><text x="1714.5" y="285.3" font-size="25">26</text><text x="1714.5" y="202.8" font-size="25">28</text><text x="1714.5" y="120.3" font-size="25">30</text><text x="1714.5" y="37.8" font-size="25">32</text><path d="M1698.4 441h-6M1698.4 358.5h-6M1698.4 276h-6M1698.4 193.5h-6M1698.4 111h-6" stroke="#262626" stroke-width="1.8" fill="none"/><rect x="1630.6" y="567.7" width="67.8" height="495" fill="url(#cbg)"/><rect x="1630.6" y="567.7" width="67.8" height="495" fill="none" stroke="#262626" stroke-width="2.2"/><text x="1714.5" y="1071.3" font-size="25">19</text><text x="1714.5" y="1021.8" font-size="25">20</text><text x="1714.5" y="972.3" font-size="25">21</text><text x="1714.5" y="922.8" font-size="25">22</text><text x="1714.5" y="873.3" font-size="25">23</text><text x="1714.5" y="823.8" font-size="25">24</text><text x="1714.5" y="774.3" font-size="25">25</text><text x="1714.5" y="724.8" font-size="25">26</text><text x="1714.5" y="675.3" font-size="25">27</text><text x="1714.5" y="625.8" font-size="25">28</text><text x="1714.5" y="576.3" font-size="25">29</text><path d="M1698.4 1013.2h-6M1698.4 963.7h-6M1698.4 914.2h-6M1698.4 864.7h-6M1698.4 815.2h-6M1698.4 765.7h-6M1698.4 716.2h-6M1698.4 666.7h-6M1698.4 617.2h-6" stroke="#262626" stroke-width="1.8" fill="none"/><rect x="1630.6" y="1108.5" width="67.8" height="495" fill="url(#cbg)"/><rect x="1630.6" y="1108.5" width="67.8" height="495" fill="none" stroke="#262626" stroke-width="2.2"/><text x="1714.5" y="1612.1" font-size="25">0</text><text x="1714.5" y="1532.4" font-size="25">0.005</text><text x="1714.5" y="1452.7" font-size="25">0.01</text><text x="1714.5" y="1373" font-size="25">0.015</text><text x="1714.5" y="1293.3" font-size="25">0.02</text><text x="1714.5" y="1213.5" font-size="25">0.025</text><text x="1714.5" y="1133.8" font-size="25">0.03</text><path d="M1698.4 1523.8h-6M1698.4 1444.1h-6M1698.4 1364.4h-6M1698.4 1284.7h-6M1698.4 1204.9h-6M1698.4 1125.2h-6" stroke="#262626" stroke-width="1.8" fill="none"/>
</svg></body></html>
